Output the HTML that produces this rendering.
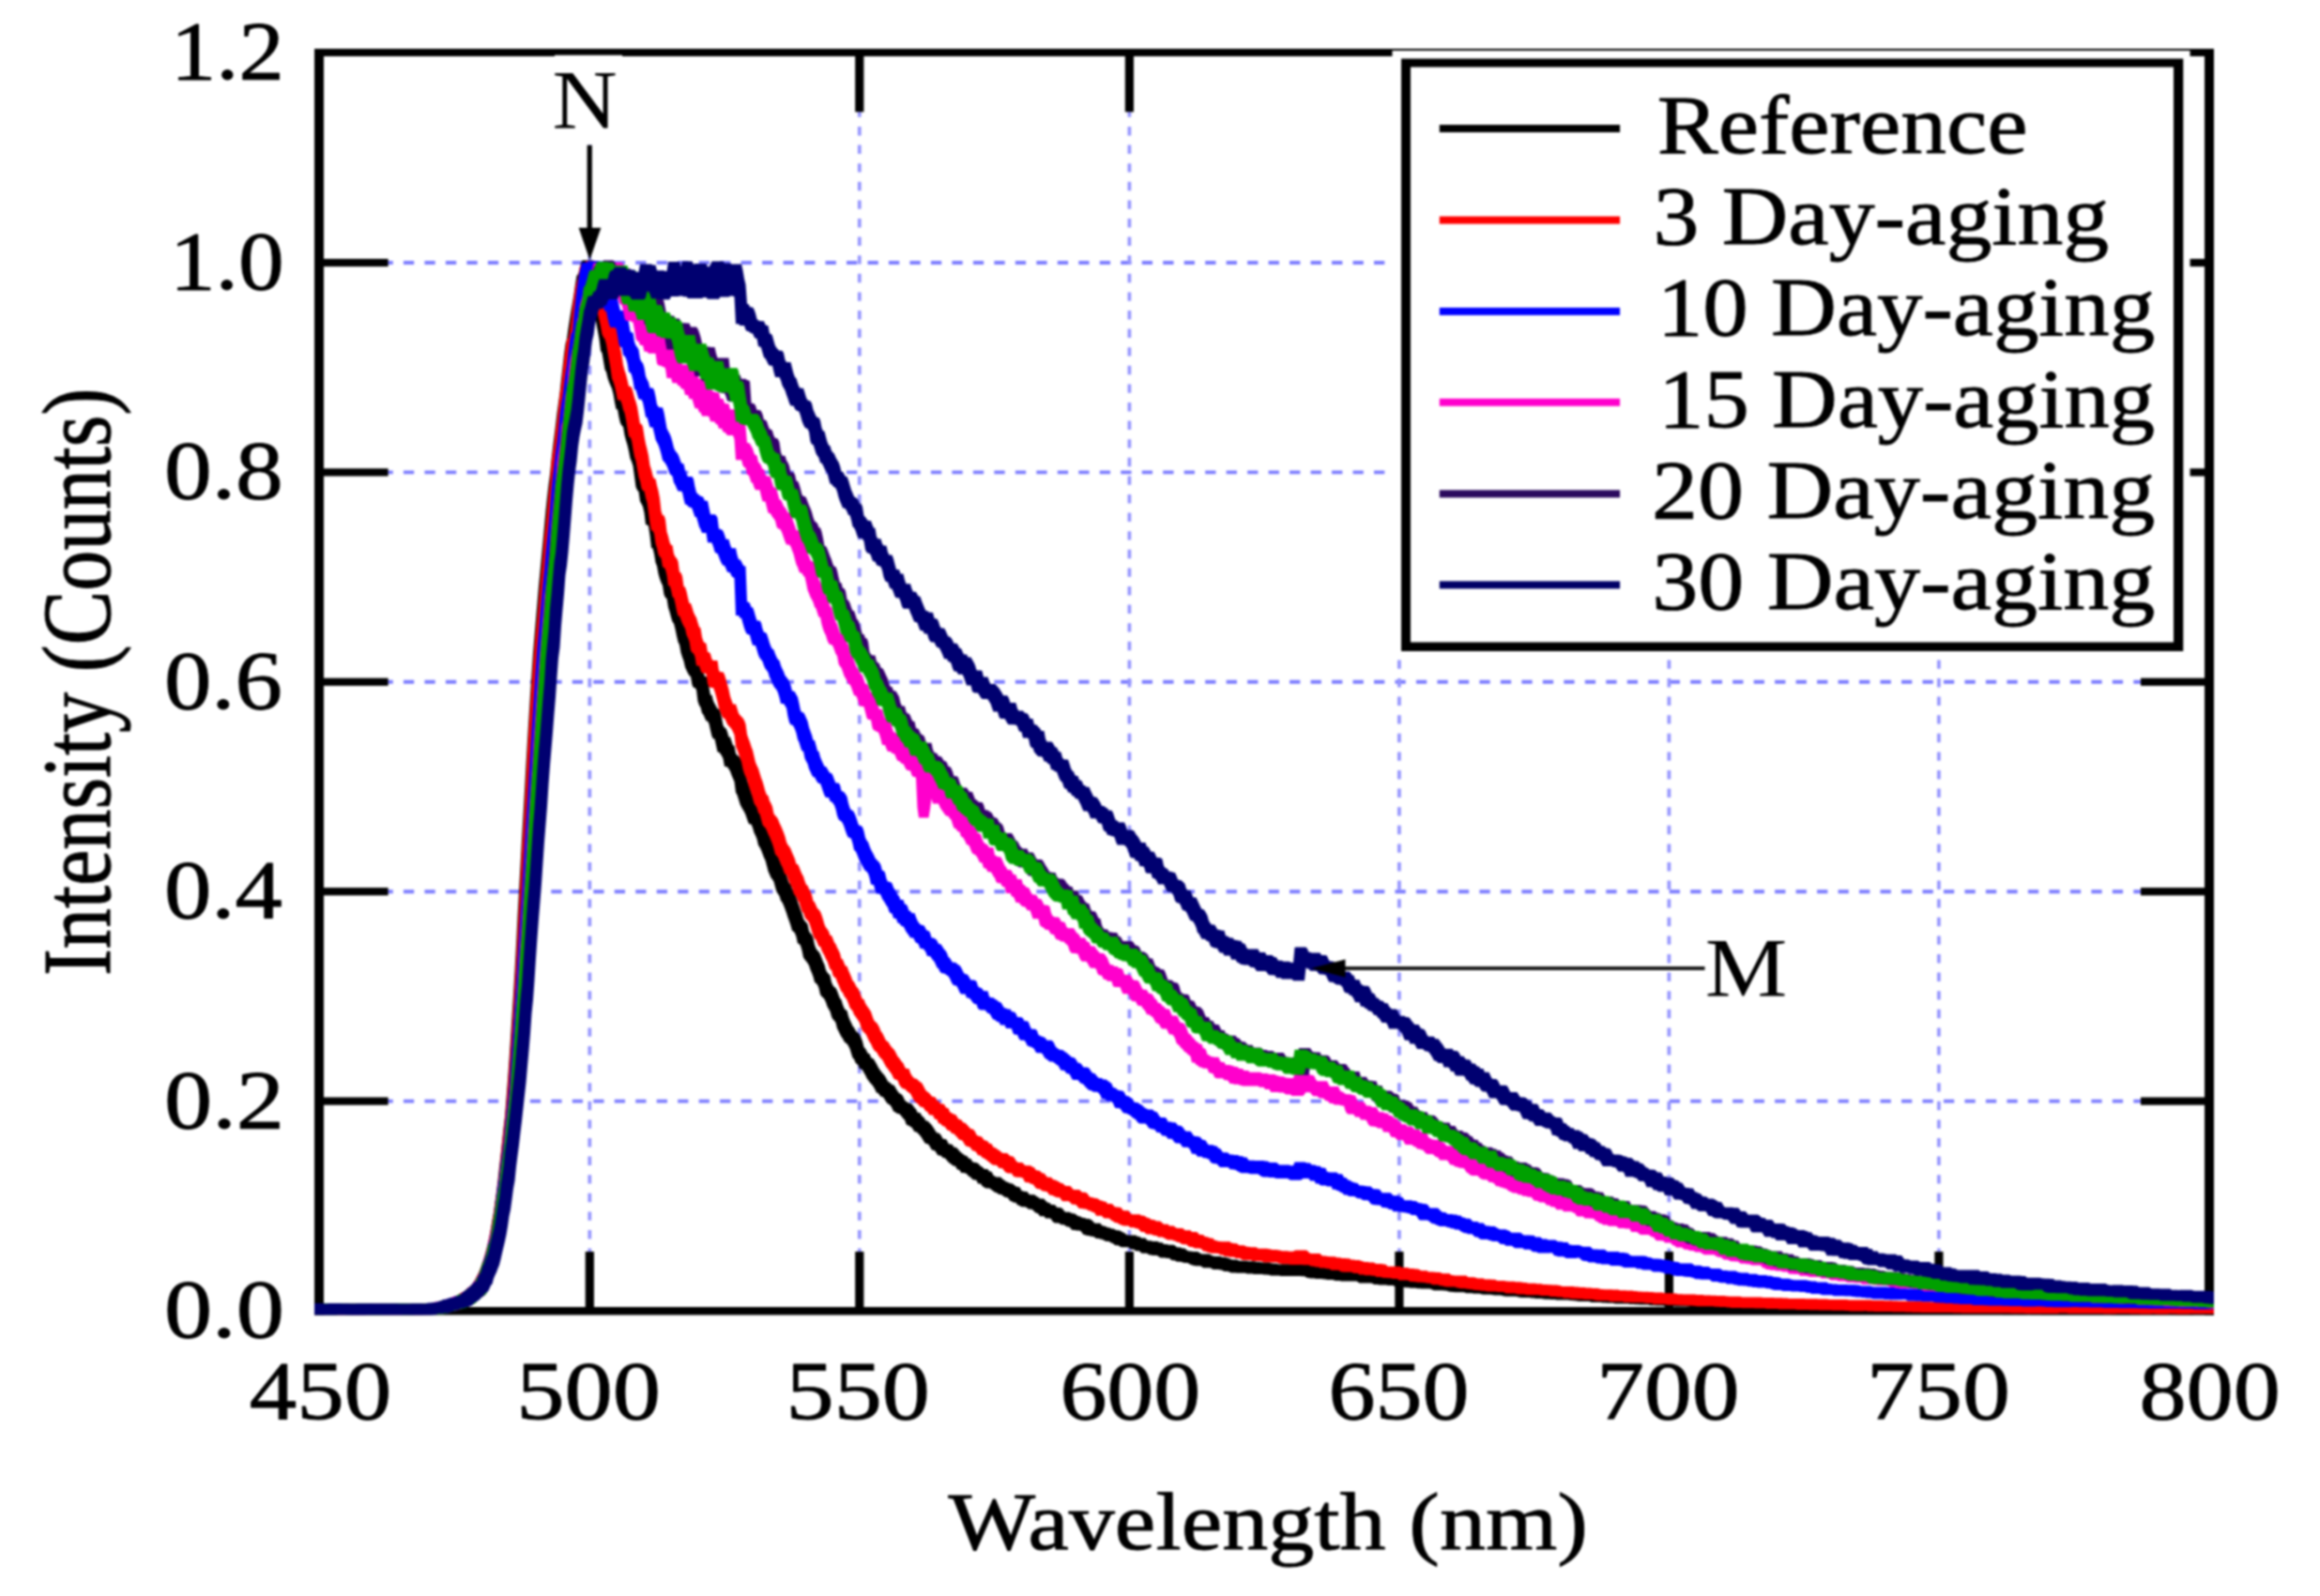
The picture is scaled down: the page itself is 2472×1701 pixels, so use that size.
<!DOCTYPE html>
<html><head><meta charset="utf-8"><title>Spectra</title>
<style>html,body{margin:0;padding:0;background:#fff;overflow:hidden;width:2472px;height:1701px}svg{display:block;filter:blur(1px)}</style></head>
<body>
<svg width="2472" height="1701" viewBox="0 0 2472 1701">
<rect width="2472" height="1701" fill="#fff"/>
<g stroke="#7c7cff" fill="none">
<line x1="340.0" y1="1173.6" x2="2354.0" y2="1173.6" stroke-width="3.9" stroke-dasharray="11.3 11.18"/>
<line x1="340.0" y1="950.2" x2="2354.0" y2="950.2" stroke-width="3.9" stroke-dasharray="11.3 11.18"/>
<line x1="340.0" y1="726.8" x2="2354.0" y2="726.8" stroke-width="3.9" stroke-dasharray="11.3 11.18"/>
<line x1="340.0" y1="503.4" x2="2354.0" y2="503.4" stroke-width="3.9" stroke-dasharray="11.3 11.18"/>
<line x1="340.0" y1="280.0" x2="2354.0" y2="280.0" stroke-width="3.9" stroke-dasharray="11.3 11.18"/>
<line x1="628.3" y1="56.6" x2="628.3" y2="1397.0" stroke-width="3.7" stroke-dasharray="9.4 10.2" stroke="#9494ff"/>
<line x1="915.8" y1="56.6" x2="915.8" y2="1397.0" stroke-width="3.7" stroke-dasharray="9.4 10.2" stroke="#9494ff"/>
<line x1="1203.4" y1="56.6" x2="1203.4" y2="1397.0" stroke-width="3.7" stroke-dasharray="9.4 10.2" stroke="#9494ff"/>
<line x1="1490.9" y1="56.6" x2="1490.9" y2="1397.0" stroke-width="3.7" stroke-dasharray="9.4 10.2" stroke="#9494ff"/>
<line x1="1778.4" y1="56.6" x2="1778.4" y2="1397.0" stroke-width="3.7" stroke-dasharray="9.4 10.2" stroke="#9494ff"/>
<line x1="2065.9" y1="56.6" x2="2065.9" y2="1397.0" stroke-width="3.7" stroke-dasharray="9.4 10.2" stroke="#9494ff"/>
</g>
<g fill="#000">
<rect x="335" y="52" width="10" height="1349.5"/>
<rect x="2349" y="52" width="10" height="1349.5"/>
<rect x="335" y="52" width="2024" height="8"/>
<rect x="335" y="1393" width="2024" height="8.5"/>
<rect x="623.7" y="56" width="9.2" height="63.3"/>
<rect x="623.7" y="1334" width="9.2" height="63"/>
<rect x="911.2" y="56" width="9.2" height="63.3"/>
<rect x="911.2" y="1334" width="9.2" height="63"/>
<rect x="1198.8" y="56" width="9.2" height="63.3"/>
<rect x="1198.8" y="1334" width="9.2" height="63"/>
<rect x="1486.3" y="56" width="9.2" height="63.3"/>
<rect x="1486.3" y="1334" width="9.2" height="63"/>
<rect x="1773.8" y="56" width="9.2" height="63.3"/>
<rect x="1773.8" y="1334" width="9.2" height="63"/>
<rect x="2061.3" y="56" width="9.2" height="63.3"/>
<rect x="2061.3" y="1334" width="9.2" height="63"/>
<rect x="340" y="1169.5" width="73.6" height="8.2"/>
<rect x="2281" y="1169.5" width="73" height="8.2"/>
<rect x="340" y="946.1" width="73.6" height="8.2"/>
<rect x="2281" y="946.1" width="73" height="8.2"/>
<rect x="340" y="722.7" width="73.6" height="8.2"/>
<rect x="2281" y="722.7" width="73" height="8.2"/>
<rect x="340" y="499.3" width="73.6" height="8.2"/>
<rect x="2281" y="499.3" width="73" height="8.2"/>
<rect x="340" y="275.9" width="73.6" height="8.2"/>
<rect x="2281" y="275.9" width="73" height="8.2"/>
</g>
<defs><clipPath id="cp"><rect x="335" y="52" width="2024" height="1349.5"/></clipPath></defs>
<g clip-path="url(#cp)">
<polygon fill="#000000" points="328.0,1389.7 329.5,1389.7 331.0,1389.7 332.5,1389.7 334.0,1389.7 335.5,1389.7 337.0,1389.7 338.5,1389.7 340.0,1389.6 341.5,1389.6 343.0,1389.6 344.5,1389.6 346.0,1389.6 347.5,1389.6 349.0,1389.6 350.5,1389.6 352.0,1389.6 353.5,1389.8 355.0,1389.7 356.5,1389.7 358.0,1389.7 359.5,1389.7 361.0,1389.7 362.5,1389.7 364.0,1389.7 365.5,1389.7 367.0,1389.8 368.5,1389.8 370.0,1389.8 371.5,1389.8 373.0,1389.8 374.5,1389.8 376.0,1389.8 377.5,1389.7 379.0,1389.7 380.5,1389.7 382.0,1389.7 383.5,1389.7 385.0,1389.7 386.5,1389.7 388.0,1389.7 389.5,1389.7 391.0,1389.7 392.5,1389.7 394.0,1389.6 395.5,1389.6 397.0,1389.6 398.5,1389.6 400.0,1389.6 401.5,1389.6 403.0,1389.6 404.5,1389.6 406.0,1389.6 407.5,1389.6 409.0,1389.6 410.5,1389.6 412.0,1389.6 413.5,1389.8 415.0,1389.8 416.5,1389.8 418.0,1389.7 419.5,1389.7 421.0,1389.7 422.5,1389.7 424.0,1389.7 425.5,1389.7 427.0,1389.7 428.5,1389.7 430.0,1389.7 431.5,1389.7 433.0,1389.7 434.5,1389.7 436.0,1389.7 437.5,1389.7 439.0,1389.7 440.5,1389.7 442.0,1389.7 443.5,1389.7 445.0,1389.6 446.5,1389.6 448.0,1389.6 449.5,1389.6 451.0,1389.6 452.5,1389.4 454.0,1389.2 455.5,1389.2 457.0,1389.2 458.5,1389.2 460.0,1389.2 461.5,1388.5 463.0,1388.2 464.5,1388.1 466.0,1388.0 467.5,1387.3 469.0,1386.8 470.5,1386.4 472.0,1385.5 473.5,1385.5 475.0,1385.4 476.5,1385.1 478.0,1384.6 479.5,1384.1 481.0,1383.5 482.5,1382.7 484.0,1381.8 485.5,1381.6 487.0,1380.8 488.5,1379.9 490.0,1379.7 491.5,1378.1 493.0,1377.4 494.5,1376.6 496.0,1374.8 497.5,1373.8 499.0,1372.6 500.5,1371.3 502.0,1370.2 503.5,1367.8 505.0,1365.8 506.5,1363.6 508.0,1360.3 509.5,1357.6 511.0,1354.3 512.5,1350.3 514.0,1345.4 515.5,1341.9 517.0,1336.8 518.5,1330.9 520.0,1325.1 521.5,1317.7 523.0,1309.4 524.5,1300.8 526.0,1292.3 527.5,1281.0 529.0,1270.0 530.5,1257.8 532.0,1243.5 533.5,1230.7 535.0,1216.4 536.5,1202.3 538.0,1190.0 539.5,1170.8 541.0,1151.2 542.5,1129.8 544.0,1106.2 545.5,1083.1 547.0,1059.5 548.5,1033.9 550.0,1006.0 551.5,976.1 553.0,948.7 554.5,922.0 556.0,894.8 557.5,869.1 559.0,842.3 560.5,814.8 562.0,788.7 563.5,764.3 565.0,740.1 566.5,717.2 568.0,695.3 569.5,677.6 571.0,660.2 572.5,642.7 574.0,624.7 575.5,609.0 577.0,593.0 578.5,576.8 580.0,560.4 581.5,544.1 583.0,529.5 584.5,516.6 586.0,505.2 587.5,490.2 589.0,477.2 590.5,465.1 592.0,453.1 593.5,440.0 595.0,429.2 596.5,418.0 598.0,403.9 599.5,390.8 601.0,377.2 602.5,366.5 604.0,361.2 605.5,350.3 607.0,340.2 608.5,330.8 610.0,322.3 611.5,313.2 613.0,302.4 614.5,293.7 616.0,292.2 617.5,286.6 619.0,281.1 620.5,277.5 622.0,277.5 623.5,277.5 625.0,277.5 626.5,277.5 628.0,277.5 629.5,277.5 631.0,277.5 632.5,277.5 634.0,280.9 635.5,280.9 637.0,281.4 638.5,283.6 640.0,292.5 641.5,297.3 643.0,304.0 644.5,318.0 646.0,322.3 647.5,331.0 649.0,340.2 650.5,346.1 652.0,358.8 653.5,364.6 655.0,370.1 656.5,382.1 658.0,384.7 659.5,389.8 661.0,395.4 662.5,399.1 664.0,402.2 665.5,407.2 667.0,414.6 668.5,420.2 670.0,420.2 671.5,429.2 673.0,439.1 674.5,442.0 676.0,443.4 677.5,450.0 679.0,457.5 680.5,461.1 682.0,467.6 683.5,475.1 685.0,480.7 686.5,481.9 688.0,493.2 689.5,504.2 691.0,509.5 692.5,509.5 694.0,520.1 695.5,525.2 697.0,527.9 698.5,531.1 700.0,543.8 701.5,543.8 703.0,546.7 704.5,555.6 706.0,568.8 707.5,571.3 709.0,575.3 710.5,587.4 712.0,591.1 713.5,597.8 715.0,604.6 716.5,608.8 718.0,612.0 719.5,619.5 721.0,623.7 722.5,623.7 724.0,633.3 725.5,639.6 727.0,644.8 728.5,651.1 730.0,652.9 731.5,657.5 733.0,664.1 734.5,672.2 736.0,675.3 737.5,681.9 739.0,688.5 740.5,691.2 742.0,698.0 743.5,702.4 745.0,705.4 746.5,708.5 748.0,709.8 749.5,716.1 751.0,720.9 752.5,720.9 754.0,723.4 755.5,732.5 757.0,740.7 758.5,740.8 760.0,747.0 761.5,750.1 763.0,752.8 764.5,755.4 766.0,755.4 767.5,758.8 769.0,764.9 770.5,772.9 772.0,775.6 773.5,776.3 775.0,779.9 776.5,785.6 778.0,785.6 779.5,790.1 781.0,794.5 782.5,794.7 784.0,803.1 785.5,805.1 787.0,805.8 788.5,807.8 790.0,810.2 791.5,813.8 793.0,817.7 794.5,820.9 796.0,831.8 797.5,835.4 799.0,839.1 800.5,845.0 802.0,848.2 803.5,850.9 805.0,853.4 806.5,856.2 808.0,860.6 809.5,864.8 811.0,865.7 812.5,865.7 814.0,869.9 815.5,874.7 817.0,878.8 818.5,881.2 820.0,887.7 821.5,891.2 823.0,893.8 824.5,897.7 826.0,901.7 827.5,904.9 829.0,909.2 830.5,916.4 832.0,919.7 833.5,923.2 835.0,925.9 836.5,926.8 838.0,932.6 839.5,937.8 841.0,941.5 842.5,942.5 844.0,947.3 845.5,950.1 847.0,952.6 848.5,956.6 850.0,960.9 851.5,965.3 853.0,969.7 854.5,973.5 856.0,979.1 857.5,981.5 859.0,982.9 860.5,985.0 862.0,992.3 863.5,994.7 865.0,995.9 866.5,999.5 868.0,1006.9 869.5,1011.0 871.0,1013.1 872.5,1014.6 874.0,1017.1 875.5,1020.9 877.0,1024.9 878.5,1028.1 880.0,1033.8 881.5,1036.5 883.0,1038.0 884.5,1039.8 886.0,1046.8 887.5,1050.3 889.0,1052.0 890.5,1053.0 892.0,1056.1 893.5,1060.3 895.0,1063.9 896.5,1065.4 898.0,1070.7 899.5,1074.4 901.0,1076.5 902.5,1077.0 904.0,1083.1 905.5,1087.0 907.0,1090.1 908.5,1093.5 910.0,1095.3 911.5,1097.9 913.0,1100.1 914.5,1100.8 916.0,1103.1 917.5,1105.7 919.0,1109.8 920.5,1116.0 922.0,1117.4 923.5,1120.3 925.0,1122.9 926.5,1123.0 928.0,1127.0 929.5,1127.9 931.0,1128.8 932.5,1131.4 934.0,1133.9 935.5,1136.9 937.0,1139.6 938.5,1141.6 940.0,1143.4 941.5,1145.0 943.0,1146.9 944.5,1149.4 946.0,1152.6 947.5,1153.6 949.0,1154.6 950.5,1156.2 952.0,1156.2 953.5,1158.1 955.0,1160.8 956.5,1163.1 958.0,1165.0 959.5,1165.8 961.0,1166.7 962.5,1168.9 964.0,1172.4 965.5,1174.0 967.0,1174.8 968.5,1175.8 970.0,1175.8 971.5,1176.8 973.0,1178.6 974.5,1180.8 976.0,1182.1 977.5,1185.6 979.0,1186.1 980.5,1186.1 982.0,1189.0 983.5,1190.2 985.0,1191.7 986.5,1194.6 988.0,1194.6 989.5,1195.7 991.0,1197.3 992.5,1198.8 994.0,1200.9 995.5,1203.3 997.0,1205.7 998.5,1207.4 1000.0,1207.4 1001.5,1208.4 1003.0,1210.4 1004.5,1213.6 1006.0,1214.1 1007.5,1214.1 1009.0,1215.2 1010.5,1218.8 1012.0,1219.4 1013.5,1219.4 1015.0,1220.3 1016.5,1222.7 1018.0,1222.7 1019.5,1223.5 1021.0,1225.1 1022.5,1227.1 1024.0,1228.3 1025.5,1229.4 1027.0,1230.5 1028.5,1231.8 1030.0,1231.8 1031.5,1233.8 1033.0,1235.0 1034.5,1235.0 1036.0,1238.0 1037.5,1238.8 1039.0,1238.9 1040.5,1239.2 1042.0,1239.8 1043.5,1241.3 1045.0,1242.9 1046.5,1243.5 1048.0,1245.2 1049.5,1245.9 1051.0,1245.9 1052.5,1245.9 1054.0,1248.4 1055.5,1248.4 1057.0,1249.5 1058.5,1252.8 1060.0,1253.6 1061.5,1254.6 1063.0,1254.6 1064.5,1254.6 1066.0,1254.6 1067.5,1255.8 1069.0,1257.2 1070.5,1258.0 1072.0,1259.4 1073.5,1259.8 1075.0,1260.4 1076.5,1261.2 1078.0,1261.2 1079.5,1262.0 1081.0,1263.3 1082.5,1264.6 1084.0,1264.9 1085.5,1264.9 1087.0,1266.0 1088.5,1269.2 1090.0,1269.2 1091.5,1269.9 1093.0,1269.9 1094.5,1269.9 1096.0,1272.3 1097.5,1273.2 1099.0,1273.2 1100.5,1273.2 1102.0,1273.2 1103.5,1274.3 1105.0,1275.5 1106.5,1276.0 1108.0,1277.4 1109.5,1277.4 1111.0,1277.5 1112.5,1277.8 1114.0,1279.7 1115.5,1281.1 1117.0,1281.9 1118.5,1281.9 1120.0,1283.9 1121.5,1283.9 1123.0,1284.1 1124.5,1284.5 1126.0,1286.7 1127.5,1287.0 1129.0,1287.1 1130.5,1287.2 1132.0,1288.0 1133.5,1289.9 1135.0,1291.7 1136.5,1291.7 1138.0,1291.7 1139.5,1291.7 1141.0,1292.4 1142.5,1293.2 1144.0,1293.2 1145.5,1293.8 1147.0,1294.8 1148.5,1296.1 1150.0,1296.3 1151.5,1296.7 1153.0,1297.8 1154.5,1297.9 1156.0,1297.9 1157.5,1299.0 1159.0,1299.0 1160.5,1299.0 1162.0,1299.8 1163.5,1300.6 1165.0,1302.2 1166.5,1303.7 1168.0,1303.7 1169.5,1303.7 1171.0,1303.7 1172.5,1303.7 1174.0,1306.0 1175.5,1306.6 1177.0,1306.8 1178.5,1307.3 1180.0,1308.3 1181.5,1308.3 1183.0,1308.7 1184.5,1309.6 1186.0,1309.6 1187.5,1310.1 1189.0,1311.0 1190.5,1311.2 1192.0,1311.2 1193.5,1311.8 1195.0,1312.6 1196.5,1313.5 1198.0,1314.1 1199.5,1315.3 1201.0,1316.2 1202.5,1316.2 1204.0,1316.5 1205.5,1316.5 1207.0,1316.5 1208.5,1316.5 1210.0,1316.6 1211.5,1317.5 1213.0,1318.0 1214.5,1318.0 1216.0,1319.5 1217.5,1319.6 1219.0,1319.6 1220.5,1319.6 1222.0,1321.6 1223.5,1322.2 1225.0,1322.2 1226.5,1322.3 1228.0,1323.1 1229.5,1323.1 1231.0,1323.1 1232.5,1323.1 1234.0,1323.3 1235.5,1324.3 1237.0,1324.3 1238.5,1324.3 1240.0,1325.9 1241.5,1325.9 1243.0,1326.0 1244.5,1326.5 1246.0,1326.7 1247.5,1326.7 1249.0,1326.7 1250.5,1326.7 1252.0,1327.5 1253.5,1328.9 1255.0,1329.5 1256.5,1329.5 1258.0,1329.6 1259.5,1330.5 1261.0,1330.5 1262.5,1330.5 1264.0,1331.9 1265.5,1333.0 1267.0,1333.5 1268.5,1333.5 1270.0,1333.7 1271.5,1333.9 1273.0,1333.9 1274.5,1333.9 1276.0,1333.9 1277.5,1334.7 1279.0,1335.7 1280.5,1336.4 1282.0,1336.4 1283.5,1336.4 1285.0,1336.4 1286.5,1336.4 1288.0,1336.4 1289.5,1337.1 1291.0,1337.9 1292.5,1338.5 1294.0,1339.0 1295.5,1339.0 1297.0,1339.0 1298.5,1339.0 1300.0,1339.0 1301.5,1339.6 1303.0,1340.1 1304.5,1340.1 1306.0,1340.1 1307.5,1340.5 1309.0,1341.1 1310.5,1341.6 1312.0,1342.3 1313.5,1342.4 1315.0,1342.6 1316.5,1342.6 1318.0,1342.6 1319.5,1343.2 1321.0,1343.7 1322.5,1343.7 1324.0,1343.7 1325.5,1343.7 1327.0,1343.7 1328.5,1343.7 1330.0,1344.2 1331.5,1344.2 1333.0,1344.2 1334.5,1344.2 1336.0,1344.2 1337.5,1344.5 1339.0,1344.9 1340.5,1344.9 1342.0,1344.9 1343.5,1345.3 1345.0,1345.6 1346.5,1345.6 1348.0,1345.6 1349.5,1345.6 1351.0,1345.6 1352.5,1345.6 1354.0,1346.2 1355.5,1346.5 1357.0,1346.7 1358.5,1346.7 1360.0,1346.7 1361.5,1347.2 1363.0,1347.4 1364.5,1347.4 1366.0,1347.2 1367.5,1347.2 1369.0,1347.2 1370.5,1347.2 1372.0,1347.2 1373.5,1347.2 1375.0,1347.2 1376.5,1347.2 1378.0,1347.2 1379.5,1347.5 1381.0,1347.5 1382.5,1347.5 1384.0,1347.5 1385.5,1347.5 1387.0,1347.5 1388.5,1347.5 1390.0,1347.5 1391.5,1347.5 1393.0,1347.5 1394.5,1347.5 1396.0,1348.1 1397.5,1348.1 1399.0,1348.1 1400.5,1348.1 1402.0,1348.7 1403.5,1349.3 1405.0,1349.3 1406.5,1349.3 1408.0,1349.3 1409.5,1349.3 1411.0,1349.8 1412.5,1351.5 1414.0,1351.9 1415.5,1351.9 1417.0,1351.9 1418.5,1351.9 1420.0,1352.0 1421.5,1352.0 1423.0,1352.0 1424.5,1352.0 1426.0,1352.0 1427.5,1352.0 1429.0,1352.0 1430.5,1352.0 1432.0,1352.0 1433.5,1352.8 1435.0,1352.8 1436.5,1352.8 1438.0,1352.8 1439.5,1353.5 1441.0,1353.5 1442.5,1353.5 1444.0,1353.9 1445.5,1353.9 1447.0,1353.9 1448.5,1353.9 1450.0,1354.0 1451.5,1354.0 1453.0,1354.0 1454.5,1354.2 1456.0,1354.3 1457.5,1354.5 1459.0,1355.1 1460.5,1355.2 1462.0,1355.2 1463.5,1355.2 1465.0,1355.5 1466.5,1356.2 1468.0,1356.2 1469.5,1356.2 1471.0,1356.2 1472.5,1356.2 1474.0,1356.7 1475.5,1357.1 1477.0,1357.1 1478.5,1357.1 1480.0,1357.3 1481.5,1357.3 1483.0,1357.3 1484.5,1357.3 1486.0,1358.2 1487.5,1358.2 1489.0,1358.3 1490.5,1358.3 1492.0,1358.3 1493.5,1358.6 1495.0,1358.7 1496.5,1358.7 1498.0,1359.7 1499.5,1359.9 1501.0,1359.9 1502.5,1359.9 1504.0,1360.1 1505.5,1360.1 1507.0,1360.1 1508.5,1360.1 1510.0,1360.1 1511.5,1360.1 1513.0,1360.5 1514.5,1360.7 1516.0,1360.7 1517.5,1360.7 1519.0,1360.7 1520.5,1360.7 1522.0,1361.5 1523.5,1361.5 1525.0,1361.6 1526.5,1361.6 1528.0,1361.6 1529.5,1361.9 1531.0,1362.1 1532.5,1362.1 1534.0,1362.1 1535.5,1362.1 1537.0,1362.5 1538.5,1363.0 1540.0,1363.0 1541.5,1363.0 1543.0,1363.0 1544.5,1363.1 1546.0,1363.3 1547.5,1363.3 1549.0,1363.7 1550.5,1364.3 1552.0,1364.3 1553.5,1364.5 1555.0,1365.0 1556.5,1365.2 1558.0,1365.2 1559.5,1365.2 1561.0,1365.2 1562.5,1365.2 1564.0,1365.2 1565.5,1365.2 1567.0,1365.2 1568.5,1365.2 1570.0,1365.4 1571.5,1365.9 1573.0,1366.0 1574.5,1366.0 1576.0,1366.0 1577.5,1366.0 1579.0,1366.2 1580.5,1366.6 1582.0,1366.8 1583.5,1366.8 1585.0,1366.9 1586.5,1367.1 1588.0,1367.3 1589.5,1367.8 1591.0,1367.8 1592.5,1367.8 1594.0,1367.8 1595.5,1368.2 1597.0,1368.6 1598.5,1368.6 1600.0,1368.6 1601.5,1368.7 1603.0,1368.7 1604.5,1368.7 1606.0,1368.7 1607.5,1368.9 1609.0,1368.9 1610.5,1368.9 1612.0,1369.5 1613.5,1370.0 1615.0,1370.0 1616.5,1370.0 1618.0,1370.0 1619.5,1370.0 1621.0,1370.1 1622.5,1370.1 1624.0,1370.1 1625.5,1370.1 1627.0,1370.3 1628.5,1370.9 1630.0,1371.2 1631.5,1371.2 1633.0,1371.2 1634.5,1371.2 1636.0,1371.2 1637.5,1371.2 1639.0,1371.2 1640.5,1371.2 1642.0,1371.6 1643.5,1371.8 1645.0,1371.8 1646.5,1371.8 1648.0,1372.2 1649.5,1372.2 1651.0,1372.2 1652.5,1372.2 1654.0,1372.7 1655.5,1372.7 1657.0,1372.7 1658.5,1372.7 1660.0,1372.7 1661.5,1373.2 1663.0,1373.2 1664.5,1373.2 1666.0,1373.2 1667.5,1373.3 1669.0,1373.7 1670.5,1373.8 1672.0,1373.8 1673.5,1373.8 1675.0,1373.8 1676.5,1373.8 1678.0,1373.8 1679.5,1374.1 1681.0,1374.4 1682.5,1374.4 1684.0,1374.7 1685.5,1374.9 1687.0,1375.0 1688.5,1375.0 1690.0,1375.0 1691.5,1375.4 1693.0,1375.6 1694.5,1375.6 1696.0,1375.6 1697.5,1375.6 1699.0,1375.7 1700.5,1375.7 1702.0,1375.7 1703.5,1375.7 1705.0,1375.9 1706.5,1376.2 1708.0,1376.2 1709.5,1376.2 1711.0,1376.2 1712.5,1376.2 1714.0,1376.2 1715.5,1376.6 1717.0,1376.6 1718.5,1376.6 1720.0,1376.6 1721.5,1376.6 1723.0,1376.9 1724.5,1377.1 1726.0,1377.1 1727.5,1377.1 1729.0,1377.2 1730.5,1377.3 1732.0,1377.3 1733.5,1377.3 1735.0,1377.3 1736.5,1377.3 1738.0,1377.6 1739.5,1377.6 1741.0,1377.6 1742.5,1377.6 1744.0,1377.7 1745.5,1377.8 1747.0,1378.1 1748.5,1378.4 1750.0,1378.4 1751.5,1378.5 1753.0,1378.7 1754.5,1378.8 1756.0,1378.8 1757.5,1379.0 1759.0,1379.0 1760.5,1379.0 1762.0,1379.0 1763.5,1379.1 1765.0,1379.1 1766.5,1379.1 1768.0,1379.1 1769.5,1379.6 1771.0,1379.9 1772.5,1379.9 1774.0,1379.9 1775.5,1380.0 1777.0,1380.0 1778.5,1380.0 1780.0,1380.0 1781.5,1380.0 1783.0,1380.0 1784.5,1380.0 1786.0,1380.0 1787.5,1380.1 1789.0,1380.4 1790.5,1380.5 1792.0,1380.5 1793.5,1380.5 1795.0,1380.7 1796.5,1380.9 1798.0,1380.9 1799.5,1380.9 1801.0,1380.9 1802.5,1380.9 1804.0,1380.9 1805.5,1381.1 1807.0,1381.1 1808.5,1381.1 1810.0,1381.4 1811.5,1381.4 1813.0,1381.4 1814.5,1381.4 1816.0,1381.4 1817.5,1381.8 1819.0,1381.8 1820.5,1381.8 1822.0,1381.8 1823.5,1382.1 1825.0,1382.1 1826.5,1382.1 1828.0,1382.1 1829.5,1382.6 1831.0,1382.7 1832.5,1382.7 1834.0,1382.7 1835.5,1382.7 1837.0,1382.7 1838.5,1382.7 1840.0,1382.7 1841.5,1382.7 1843.0,1382.7 1844.5,1382.7 1846.0,1383.1 1847.5,1383.1 1849.0,1383.3 1850.5,1383.5 1852.0,1383.5 1853.5,1383.5 1855.0,1383.5 1856.5,1383.5 1858.0,1383.5 1859.5,1383.5 1861.0,1383.5 1862.5,1383.5 1864.0,1383.6 1865.5,1383.9 1867.0,1383.9 1868.5,1383.9 1870.0,1383.9 1871.5,1384.2 1873.0,1384.2 1874.5,1384.2 1876.0,1384.2 1877.5,1384.2 1879.0,1384.2 1880.5,1384.2 1882.0,1384.2 1883.5,1384.4 1885.0,1384.8 1886.5,1384.9 1888.0,1384.9 1889.5,1384.9 1891.0,1384.9 1892.5,1384.9 1894.0,1384.9 1895.5,1385.0 1897.0,1385.0 1898.5,1385.0 1900.0,1385.3 1901.5,1385.3 1903.0,1385.3 1904.5,1385.3 1906.0,1385.3 1907.5,1385.4 1909.0,1385.4 1910.5,1385.4 1912.0,1385.4 1913.5,1385.5 1915.0,1385.5 1916.5,1385.5 1918.0,1385.5 1919.5,1385.5 1921.0,1385.6 1922.5,1385.6 1924.0,1385.6 1925.5,1385.6 1927.0,1385.8 1928.5,1385.8 1930.0,1385.8 1931.5,1385.8 1933.0,1385.8 1934.5,1385.8 1936.0,1386.1 1937.5,1386.1 1939.0,1386.1 1940.5,1386.1 1942.0,1386.1 1943.5,1386.1 1945.0,1386.3 1946.5,1386.3 1948.0,1386.3 1949.5,1386.3 1951.0,1386.3 1952.5,1386.3 1954.0,1386.5 1955.5,1386.5 1957.0,1386.5 1958.5,1386.5 1960.0,1386.5 1961.5,1386.7 1963.0,1386.7 1964.5,1386.7 1966.0,1386.7 1967.5,1386.8 1969.0,1386.8 1970.5,1386.8 1972.0,1386.8 1973.5,1386.9 1975.0,1387.1 1976.5,1387.2 1978.0,1387.2 1979.5,1387.2 1981.0,1387.2 1982.5,1387.2 1984.0,1387.2 1985.5,1387.2 1987.0,1387.2 1988.5,1387.2 1990.0,1387.2 1991.5,1387.5 1993.0,1387.8 1994.5,1387.9 1996.0,1387.7 1997.5,1387.7 1999.0,1387.7 2000.5,1387.7 2002.0,1387.7 2003.5,1387.7 2005.0,1387.7 2006.5,1387.7 2008.0,1387.7 2009.5,1387.7 2011.0,1387.8 2012.5,1387.8 2014.0,1387.8 2015.5,1387.8 2017.0,1388.0 2018.5,1388.1 2020.0,1388.1 2021.5,1388.1 2023.0,1388.3 2024.5,1388.3 2026.0,1388.3 2027.5,1388.3 2029.0,1388.3 2030.5,1388.3 2032.0,1388.3 2033.5,1388.3 2035.0,1388.3 2036.5,1388.3 2038.0,1388.4 2039.5,1388.4 2041.0,1388.4 2042.5,1388.4 2044.0,1388.4 2045.5,1388.4 2047.0,1388.4 2048.5,1388.4 2050.0,1388.5 2051.5,1388.5 2053.0,1388.5 2054.5,1388.7 2056.0,1388.7 2057.5,1388.7 2059.0,1388.7 2060.5,1388.7 2062.0,1388.8 2063.5,1388.8 2065.0,1388.8 2066.5,1388.8 2068.0,1388.8 2069.5,1388.8 2071.0,1388.8 2072.5,1388.8 2074.0,1388.8 2075.5,1389.0 2077.0,1389.0 2078.5,1389.0 2080.0,1389.1 2081.5,1389.2 2083.0,1389.2 2084.5,1389.2 2086.0,1389.2 2087.5,1389.2 2089.0,1389.2 2090.5,1389.2 2092.0,1389.2 2093.5,1389.2 2095.0,1389.2 2096.5,1389.2 2098.0,1389.2 2099.5,1389.2 2101.0,1389.2 2102.5,1389.2 2104.0,1389.2 2105.5,1389.5 2107.0,1389.5 2108.5,1389.5 2110.0,1389.5 2111.5,1389.5 2113.0,1389.5 2114.5,1389.5 2116.0,1389.5 2117.5,1389.5 2119.0,1389.5 2120.5,1389.4 2122.0,1389.3 2123.5,1389.3 2125.0,1389.3 2126.5,1389.3 2128.0,1389.3 2129.5,1389.3 2131.0,1389.3 2132.5,1389.3 2134.0,1389.3 2135.5,1389.5 2137.0,1389.5 2138.5,1389.5 2140.0,1389.5 2141.5,1389.5 2143.0,1389.5 2144.5,1389.5 2146.0,1389.5 2147.5,1389.5 2149.0,1389.5 2150.5,1389.5 2152.0,1389.5 2153.5,1389.5 2155.0,1389.5 2156.5,1389.6 2158.0,1389.7 2159.5,1389.7 2161.0,1389.5 2162.5,1389.5 2164.0,1389.5 2165.5,1389.5 2167.0,1389.5 2168.5,1389.5 2170.0,1389.5 2171.5,1389.5 2173.0,1389.6 2174.5,1389.7 2176.0,1389.7 2177.5,1389.7 2179.0,1389.7 2180.5,1389.7 2182.0,1389.7 2183.5,1389.7 2185.0,1389.7 2186.5,1390.0 2188.0,1390.1 2189.5,1390.1 2191.0,1390.1 2192.5,1389.9 2194.0,1389.9 2195.5,1389.9 2197.0,1389.9 2198.5,1389.9 2200.0,1389.8 2201.5,1389.8 2203.0,1389.8 2204.5,1389.8 2206.0,1389.8 2207.5,1389.8 2209.0,1389.8 2210.5,1389.8 2212.0,1389.8 2213.5,1389.8 2215.0,1389.8 2216.5,1389.8 2218.0,1389.8 2219.5,1389.8 2221.0,1389.8 2222.5,1389.8 2224.0,1390.0 2225.5,1390.1 2227.0,1390.1 2228.5,1390.1 2230.0,1390.0 2231.5,1390.0 2233.0,1390.0 2234.5,1390.0 2236.0,1390.0 2237.5,1390.0 2239.0,1390.0 2240.5,1390.0 2242.0,1390.0 2243.5,1390.1 2245.0,1390.1 2246.5,1390.1 2248.0,1390.0 2249.5,1390.0 2251.0,1390.0 2252.5,1390.0 2254.0,1390.0 2255.5,1390.0 2257.0,1390.0 2258.5,1390.0 2260.0,1390.0 2261.5,1390.1 2263.0,1390.1 2264.5,1390.1 2266.0,1390.1 2267.5,1390.1 2269.0,1390.0 2270.5,1390.0 2272.0,1390.0 2273.5,1390.0 2275.0,1390.0 2276.5,1390.0 2278.0,1390.0 2279.5,1390.0 2281.0,1390.1 2282.5,1390.1 2284.0,1390.1 2285.5,1390.1 2287.0,1390.1 2288.5,1390.1 2290.0,1390.1 2291.5,1390.1 2293.0,1390.1 2294.5,1390.1 2296.0,1390.2 2297.5,1390.2 2299.0,1390.2 2300.5,1390.2 2302.0,1390.2 2303.5,1390.2 2305.0,1390.2 2306.5,1390.2 2308.0,1390.3 2309.5,1390.2 2311.0,1390.2 2312.5,1390.2 2314.0,1390.2 2315.5,1390.2 2317.0,1390.1 2318.5,1390.1 2320.0,1390.1 2321.5,1390.1 2323.0,1390.1 2324.5,1390.1 2326.0,1390.1 2327.5,1390.1 2329.0,1390.3 2330.5,1390.5 2332.0,1390.5 2333.5,1390.5 2335.0,1390.5 2336.5,1390.3 2338.0,1390.3 2339.5,1390.3 2341.0,1390.3 2342.5,1390.3 2344.0,1390.3 2345.5,1390.3 2347.0,1390.3 2348.5,1390.3 2350.0,1390.3 2351.5,1390.2 2353.0,1390.1 2354.5,1390.1 2356.0,1390.1 2357.5,1390.1 2359.0,1390.1 2360.5,1390.1 2362.0,1390.1 2363.5,1390.1 2365.0,1390.3 2366.5,1390.6 2366.5,1401.9 2365.0,1401.9 2363.5,1401.9 2362.0,1401.9 2360.5,1401.9 2359.0,1401.9 2357.5,1401.8 2356.0,1401.8 2354.5,1401.8 2353.0,1401.8 2351.5,1401.8 2350.0,1401.8 2348.5,1401.8 2347.0,1401.8 2345.5,1401.8 2344.0,1401.8 2342.5,1401.7 2341.0,1401.7 2339.5,1401.7 2338.0,1401.7 2336.5,1401.9 2335.0,1401.9 2333.5,1401.9 2332.0,1401.9 2330.5,1401.9 2329.0,1401.9 2327.5,1401.9 2326.0,1401.9 2324.5,1401.9 2323.0,1401.9 2321.5,1401.9 2320.0,1401.9 2318.5,1401.8 2317.0,1401.8 2315.5,1401.8 2314.0,1401.8 2312.5,1401.6 2311.0,1401.6 2309.5,1401.7 2308.0,1401.7 2306.5,1401.7 2305.0,1401.7 2303.5,1401.7 2302.0,1401.7 2300.5,1401.7 2299.0,1401.7 2297.5,1401.7 2296.0,1401.7 2294.5,1401.7 2293.0,1401.7 2291.5,1401.7 2290.0,1401.7 2288.5,1401.7 2287.0,1401.7 2285.5,1401.7 2284.0,1401.7 2282.5,1401.7 2281.0,1401.7 2279.5,1401.7 2278.0,1401.7 2276.5,1401.7 2275.0,1401.7 2273.5,1401.8 2272.0,1401.8 2270.5,1401.8 2269.0,1401.8 2267.5,1401.8 2266.0,1401.8 2264.5,1401.8 2263.0,1401.8 2261.5,1401.7 2260.0,1401.7 2258.5,1401.7 2257.0,1401.7 2255.5,1401.7 2254.0,1401.7 2252.5,1401.7 2251.0,1401.7 2249.5,1401.5 2248.0,1401.5 2246.5,1401.5 2245.0,1401.5 2243.5,1401.5 2242.0,1401.5 2240.5,1401.4 2239.0,1401.4 2237.5,1401.5 2236.0,1401.5 2234.5,1401.5 2233.0,1401.5 2231.5,1401.5 2230.0,1401.5 2228.5,1401.5 2227.0,1401.5 2225.5,1401.6 2224.0,1401.6 2222.5,1401.6 2221.0,1401.6 2219.5,1401.6 2218.0,1401.6 2216.5,1401.6 2215.0,1401.6 2213.5,1401.4 2212.0,1401.4 2210.5,1401.4 2209.0,1401.4 2207.5,1401.4 2206.0,1401.4 2204.5,1401.4 2203.0,1401.4 2201.5,1401.4 2200.0,1401.4 2198.5,1401.5 2197.0,1401.5 2195.5,1401.5 2194.0,1401.5 2192.5,1401.5 2191.0,1401.5 2189.5,1401.5 2188.0,1401.5 2186.5,1401.5 2185.0,1401.4 2183.5,1401.4 2182.0,1401.4 2180.5,1401.4 2179.0,1401.4 2177.5,1401.4 2176.0,1401.4 2174.5,1401.2 2173.0,1401.2 2171.5,1401.2 2170.0,1401.2 2168.5,1401.2 2167.0,1401.2 2165.5,1401.2 2164.0,1401.2 2162.5,1401.1 2161.0,1401.1 2159.5,1401.2 2158.0,1401.2 2156.5,1401.2 2155.0,1401.2 2153.5,1401.2 2152.0,1401.2 2150.5,1401.2 2149.0,1401.2 2147.5,1401.1 2146.0,1401.2 2144.5,1401.2 2143.0,1401.2 2141.5,1401.2 2140.0,1401.2 2138.5,1401.2 2137.0,1401.2 2135.5,1401.2 2134.0,1401.2 2132.5,1401.1 2131.0,1401.1 2129.5,1401.1 2128.0,1401.1 2126.5,1400.9 2125.0,1400.9 2123.5,1400.9 2122.0,1400.9 2120.5,1400.9 2119.0,1400.9 2117.5,1400.9 2116.0,1400.9 2114.5,1400.9 2113.0,1400.9 2111.5,1400.9 2110.0,1400.9 2108.5,1400.9 2107.0,1400.9 2105.5,1400.9 2104.0,1400.9 2102.5,1400.9 2101.0,1400.9 2099.5,1400.9 2098.0,1400.9 2096.5,1400.9 2095.0,1400.9 2093.5,1400.7 2092.0,1400.6 2090.5,1400.6 2089.0,1400.6 2087.5,1400.6 2086.0,1400.5 2084.5,1400.7 2083.0,1400.7 2081.5,1400.7 2080.0,1400.7 2078.5,1400.7 2077.0,1400.7 2075.5,1400.7 2074.0,1400.7 2072.5,1400.7 2071.0,1400.5 2069.5,1400.5 2068.0,1400.5 2066.5,1400.5 2065.0,1400.5 2063.5,1400.5 2062.0,1400.5 2060.5,1400.5 2059.0,1400.5 2057.5,1400.5 2056.0,1400.5 2054.5,1400.2 2053.0,1400.2 2051.5,1400.2 2050.0,1400.0 2048.5,1399.8 2047.0,1399.8 2045.5,1399.8 2044.0,1399.8 2042.5,1399.8 2041.0,1399.8 2039.5,1399.8 2038.0,1399.8 2036.5,1399.8 2035.0,1399.8 2033.5,1399.9 2032.0,1399.9 2030.5,1399.9 2029.0,1399.9 2027.5,1399.9 2026.0,1399.9 2024.5,1399.9 2023.0,1399.9 2021.5,1399.8 2020.0,1399.8 2018.5,1399.8 2017.0,1399.8 2015.5,1399.8 2014.0,1399.7 2012.5,1399.6 2011.0,1399.4 2009.5,1399.3 2008.0,1399.3 2006.5,1399.3 2005.0,1399.3 2003.5,1399.4 2002.0,1399.4 2000.5,1399.4 1999.0,1399.4 1997.5,1399.4 1996.0,1399.4 1994.5,1399.4 1993.0,1399.4 1991.5,1399.3 1990.0,1399.2 1988.5,1399.2 1987.0,1399.1 1985.5,1399.0 1984.0,1399.0 1982.5,1399.0 1981.0,1398.8 1979.5,1398.8 1978.0,1398.8 1976.5,1398.8 1975.0,1398.8 1973.5,1398.7 1972.0,1398.7 1970.5,1398.7 1969.0,1398.6 1967.5,1398.6 1966.0,1398.6 1964.5,1398.6 1963.0,1398.4 1961.5,1398.4 1960.0,1398.4 1958.5,1398.4 1957.0,1398.4 1955.5,1398.3 1954.0,1398.3 1952.5,1398.3 1951.0,1398.3 1949.5,1398.3 1948.0,1398.3 1946.5,1398.3 1945.0,1398.2 1943.5,1398.1 1942.0,1398.1 1940.5,1398.1 1939.0,1398.1 1937.5,1398.1 1936.0,1398.1 1934.5,1398.0 1933.0,1397.8 1931.5,1397.8 1930.0,1397.8 1928.5,1397.8 1927.0,1397.6 1925.5,1397.6 1924.0,1397.6 1922.5,1397.6 1921.0,1397.6 1919.5,1397.6 1918.0,1397.6 1916.5,1397.5 1915.0,1397.4 1913.5,1397.4 1912.0,1397.4 1910.5,1397.4 1909.0,1397.1 1907.5,1397.1 1906.0,1397.1 1904.5,1397.0 1903.0,1397.0 1901.5,1397.0 1900.0,1397.0 1898.5,1397.0 1897.0,1397.0 1895.5,1396.8 1894.0,1396.8 1892.5,1396.8 1891.0,1396.8 1889.5,1396.8 1888.0,1396.8 1886.5,1396.4 1885.0,1396.4 1883.5,1396.4 1882.0,1396.4 1880.5,1396.4 1879.0,1396.3 1877.5,1396.3 1876.0,1396.3 1874.5,1396.3 1873.0,1396.0 1871.5,1396.0 1870.0,1396.0 1868.5,1396.0 1867.0,1396.0 1865.5,1396.0 1864.0,1395.9 1862.5,1395.9 1861.0,1395.9 1859.5,1395.6 1858.0,1395.6 1856.5,1395.6 1855.0,1395.6 1853.5,1395.4 1852.0,1395.3 1850.5,1395.3 1849.0,1395.3 1847.5,1395.2 1846.0,1395.0 1844.5,1395.0 1843.0,1395.0 1841.5,1394.9 1840.0,1394.8 1838.5,1394.8 1837.0,1394.7 1835.5,1394.7 1834.0,1394.7 1832.5,1394.6 1831.0,1394.6 1829.5,1394.5 1828.0,1394.3 1826.5,1394.3 1825.0,1394.3 1823.5,1394.2 1822.0,1394.2 1820.5,1394.2 1819.0,1394.1 1817.5,1393.8 1816.0,1393.8 1814.5,1393.8 1813.0,1393.6 1811.5,1393.4 1810.0,1393.4 1808.5,1393.4 1807.0,1393.3 1805.5,1393.0 1804.0,1392.9 1802.5,1392.9 1801.0,1392.9 1799.5,1392.8 1798.0,1392.7 1796.5,1392.4 1795.0,1392.4 1793.5,1392.4 1792.0,1392.4 1790.5,1392.4 1789.0,1392.4 1787.5,1392.4 1786.0,1392.4 1784.5,1392.4 1783.0,1392.0 1781.5,1392.0 1780.0,1392.0 1778.5,1392.0 1777.0,1391.7 1775.5,1391.7 1774.0,1391.7 1772.5,1391.7 1771.0,1391.6 1769.5,1391.6 1768.0,1391.6 1766.5,1391.6 1765.0,1391.4 1763.5,1391.3 1762.0,1391.3 1760.5,1391.3 1759.0,1391.2 1757.5,1390.9 1756.0,1390.4 1754.5,1390.4 1753.0,1390.4 1751.5,1390.4 1750.0,1390.4 1748.5,1390.4 1747.0,1390.4 1745.5,1390.2 1744.0,1390.2 1742.5,1390.2 1741.0,1390.0 1739.5,1390.0 1738.0,1390.0 1736.5,1390.0 1735.0,1389.4 1733.5,1389.4 1732.0,1389.4 1730.5,1389.4 1729.0,1389.4 1727.5,1389.4 1726.0,1389.4 1724.5,1389.4 1723.0,1389.4 1721.5,1389.4 1720.0,1389.3 1718.5,1388.7 1717.0,1388.7 1715.5,1388.7 1714.0,1388.7 1712.5,1388.7 1711.0,1388.5 1709.5,1388.5 1708.0,1388.5 1706.5,1388.2 1705.0,1388.1 1703.5,1387.9 1702.0,1387.9 1700.5,1387.9 1699.0,1387.9 1697.5,1387.9 1696.0,1387.9 1694.5,1387.5 1693.0,1387.1 1691.5,1387.1 1690.0,1387.1 1688.5,1387.1 1687.0,1387.1 1685.5,1387.1 1684.0,1387.1 1682.5,1386.9 1681.0,1386.8 1679.5,1386.6 1678.0,1386.2 1676.5,1386.2 1675.0,1386.1 1673.5,1386.0 1672.0,1385.8 1670.5,1385.6 1669.0,1385.6 1667.5,1385.6 1666.0,1385.6 1664.5,1385.6 1663.0,1385.5 1661.5,1385.5 1660.0,1385.5 1658.5,1385.5 1657.0,1385.0 1655.5,1384.9 1654.0,1384.9 1652.5,1384.9 1651.0,1384.8 1649.5,1384.7 1648.0,1384.7 1646.5,1384.7 1645.0,1384.5 1643.5,1384.3 1642.0,1384.0 1640.5,1383.9 1639.0,1383.9 1637.5,1383.9 1636.0,1383.9 1634.5,1383.5 1633.0,1383.5 1631.5,1383.4 1630.0,1383.1 1628.5,1383.1 1627.0,1383.1 1625.5,1383.1 1624.0,1383.1 1622.5,1383.1 1621.0,1383.0 1619.5,1382.7 1618.0,1382.5 1616.5,1382.1 1615.0,1381.8 1613.5,1381.8 1612.0,1381.8 1610.5,1381.8 1609.0,1381.8 1607.5,1381.8 1606.0,1381.8 1604.5,1381.8 1603.0,1381.6 1601.5,1381.2 1600.0,1380.7 1598.5,1380.6 1597.0,1380.6 1595.5,1380.6 1594.0,1380.6 1592.5,1380.6 1591.0,1380.3 1589.5,1379.9 1588.0,1379.7 1586.5,1379.7 1585.0,1379.7 1583.5,1379.7 1582.0,1379.7 1580.5,1379.7 1579.0,1379.4 1577.5,1378.9 1576.0,1378.7 1574.5,1378.7 1573.0,1378.7 1571.5,1378.7 1570.0,1378.7 1568.5,1378.2 1567.0,1378.2 1565.5,1378.2 1564.0,1378.2 1562.5,1378.2 1561.0,1377.8 1559.5,1377.3 1558.0,1377.3 1556.5,1377.3 1555.0,1377.3 1553.5,1377.3 1552.0,1377.3 1550.5,1377.3 1549.0,1377.1 1547.5,1377.0 1546.0,1376.7 1544.5,1376.7 1543.0,1376.2 1541.5,1375.7 1540.0,1375.6 1538.5,1375.6 1537.0,1375.2 1535.5,1375.2 1534.0,1375.2 1532.5,1375.2 1531.0,1375.2 1529.5,1375.2 1528.0,1375.2 1526.5,1374.8 1525.0,1373.9 1523.5,1373.4 1522.0,1373.4 1520.5,1373.4 1519.0,1373.4 1517.5,1373.4 1516.0,1373.4 1514.5,1373.4 1513.0,1373.2 1511.5,1373.2 1510.0,1373.2 1508.5,1372.8 1507.0,1372.8 1505.5,1372.8 1504.0,1372.8 1502.5,1372.8 1501.0,1372.2 1499.5,1372.2 1498.0,1372.2 1496.5,1372.0 1495.0,1371.8 1493.5,1371.8 1492.0,1371.8 1490.5,1371.3 1489.0,1371.3 1487.5,1371.2 1486.0,1371.0 1484.5,1370.1 1483.0,1370.1 1481.5,1370.1 1480.0,1370.1 1478.5,1370.1 1477.0,1369.6 1475.5,1369.6 1474.0,1369.6 1472.5,1369.6 1471.0,1369.6 1469.5,1369.4 1468.0,1369.0 1466.5,1369.0 1465.0,1369.0 1463.5,1368.7 1462.0,1367.8 1460.5,1367.6 1459.0,1367.6 1457.5,1367.6 1456.0,1367.5 1454.5,1367.5 1453.0,1367.5 1451.5,1367.5 1450.0,1367.5 1448.5,1367.5 1447.0,1366.5 1445.5,1365.5 1444.0,1365.5 1442.5,1365.5 1441.0,1365.5 1439.5,1365.5 1438.0,1365.5 1436.5,1365.5 1435.0,1365.5 1433.5,1365.5 1432.0,1365.5 1430.5,1365.5 1429.0,1365.5 1427.5,1365.1 1426.0,1365.1 1424.5,1365.1 1423.0,1365.1 1421.5,1364.6 1420.0,1364.0 1418.5,1364.0 1417.0,1364.0 1415.5,1364.0 1414.0,1364.0 1412.5,1363.5 1411.0,1363.4 1409.5,1363.3 1408.0,1363.1 1406.5,1363.1 1405.0,1363.1 1403.5,1363.1 1402.0,1363.0 1400.5,1362.6 1399.0,1362.4 1397.5,1362.4 1396.0,1362.4 1394.5,1362.1 1393.0,1361.9 1391.5,1361.3 1390.0,1360.2 1388.5,1360.2 1387.0,1360.2 1385.5,1360.1 1384.0,1360.0 1382.5,1360.0 1381.0,1360.0 1379.5,1360.0 1378.0,1360.0 1376.5,1360.0 1375.0,1360.0 1373.5,1360.0 1372.0,1360.0 1370.5,1360.0 1369.0,1360.0 1367.5,1360.0 1366.0,1360.0 1364.5,1360.0 1363.0,1359.5 1361.5,1359.5 1360.0,1359.5 1358.5,1359.5 1357.0,1359.5 1355.5,1359.5 1354.0,1359.5 1352.5,1358.7 1351.0,1358.7 1349.5,1358.6 1348.0,1358.6 1346.5,1358.6 1345.0,1358.1 1343.5,1358.1 1342.0,1358.1 1340.5,1358.1 1339.0,1358.1 1337.5,1358.1 1336.0,1358.1 1334.5,1357.5 1333.0,1357.5 1331.5,1357.5 1330.0,1357.5 1328.5,1357.5 1327.0,1356.7 1325.5,1356.7 1324.0,1356.7 1322.5,1356.7 1321.0,1356.7 1319.5,1356.7 1318.0,1356.7 1316.5,1356.5 1315.0,1356.5 1313.5,1356.4 1312.0,1356.4 1310.5,1355.9 1309.0,1355.3 1307.5,1355.1 1306.0,1355.1 1304.5,1355.1 1303.0,1354.3 1301.5,1353.6 1300.0,1353.6 1298.5,1352.9 1297.0,1352.9 1295.5,1352.9 1294.0,1352.9 1292.5,1352.9 1291.0,1352.1 1289.5,1351.2 1288.0,1351.2 1286.5,1351.2 1285.0,1351.2 1283.5,1351.2 1282.0,1351.2 1280.5,1349.9 1279.0,1349.3 1277.5,1349.3 1276.0,1349.3 1274.5,1349.3 1273.0,1349.1 1271.5,1348.7 1270.0,1348.3 1268.5,1347.7 1267.0,1347.0 1265.5,1346.1 1264.0,1346.0 1262.5,1346.0 1261.0,1345.7 1259.5,1345.2 1258.0,1344.8 1256.5,1344.7 1255.0,1344.7 1253.5,1344.4 1252.0,1343.4 1250.5,1343.3 1249.0,1343.3 1247.5,1342.6 1246.0,1341.1 1244.5,1341.1 1243.0,1341.1 1241.5,1340.5 1240.0,1340.4 1238.5,1340.4 1237.0,1340.4 1235.5,1340.0 1234.0,1338.7 1232.5,1337.9 1231.0,1337.9 1229.5,1337.9 1228.0,1337.9 1226.5,1337.5 1225.0,1337.5 1223.5,1336.7 1222.0,1335.8 1220.5,1335.8 1219.0,1335.8 1217.5,1335.7 1216.0,1335.5 1214.5,1333.8 1213.0,1333.2 1211.5,1333.2 1210.0,1333.2 1208.5,1331.7 1207.0,1331.7 1205.5,1331.5 1204.0,1331.0 1202.5,1329.5 1201.0,1329.3 1199.5,1329.3 1198.0,1329.3 1196.5,1329.3 1195.0,1329.3 1193.5,1328.8 1192.0,1327.6 1190.5,1327.3 1189.0,1327.2 1187.5,1326.7 1186.0,1325.3 1184.5,1324.7 1183.0,1323.9 1181.5,1323.1 1180.0,1322.9 1178.5,1322.9 1177.0,1322.3 1175.5,1321.4 1174.0,1320.8 1172.5,1320.8 1171.0,1320.1 1169.5,1320.1 1168.0,1320.1 1166.5,1318.7 1165.0,1318.0 1163.5,1317.8 1162.0,1317.8 1160.5,1317.0 1159.0,1317.0 1157.5,1316.7 1156.0,1315.9 1154.5,1315.9 1153.0,1314.1 1151.5,1311.9 1150.0,1311.4 1148.5,1311.4 1147.0,1311.4 1145.5,1311.1 1144.0,1311.1 1142.5,1311.1 1141.0,1309.6 1139.5,1307.8 1138.0,1307.4 1136.5,1307.2 1135.0,1306.3 1133.5,1305.2 1132.0,1305.2 1130.5,1305.2 1129.0,1304.0 1127.5,1303.6 1126.0,1303.6 1124.5,1303.6 1123.0,1303.1 1121.5,1301.8 1120.0,1299.2 1118.5,1298.5 1117.0,1298.4 1115.5,1298.4 1114.0,1298.4 1112.5,1296.2 1111.0,1296.2 1109.5,1296.2 1108.0,1296.2 1106.5,1293.7 1105.0,1292.9 1103.5,1292.5 1102.0,1291.3 1100.5,1289.5 1099.0,1288.8 1097.5,1288.8 1096.0,1288.8 1094.5,1287.4 1093.0,1286.6 1091.5,1286.3 1090.0,1286.3 1088.5,1286.3 1087.0,1285.5 1085.5,1284.5 1084.0,1284.2 1082.5,1281.8 1081.0,1281.8 1079.5,1281.4 1078.0,1280.3 1076.5,1280.3 1075.0,1278.1 1073.5,1276.2 1072.0,1276.2 1070.5,1275.8 1069.0,1274.7 1067.5,1273.4 1066.0,1273.1 1064.5,1273.1 1063.0,1272.0 1061.5,1270.9 1060.0,1270.8 1058.5,1269.4 1057.0,1268.4 1055.5,1267.3 1054.0,1266.6 1052.5,1266.6 1051.0,1266.6 1049.5,1266.1 1048.0,1264.9 1046.5,1264.1 1045.0,1261.6 1043.5,1261.4 1042.0,1261.4 1040.5,1258.0 1039.0,1257.6 1037.5,1257.4 1036.0,1256.8 1034.5,1255.1 1033.0,1254.1 1031.5,1253.0 1030.0,1251.0 1028.5,1250.4 1027.0,1250.1 1025.5,1250.1 1024.0,1250.1 1022.5,1247.0 1021.0,1246.7 1019.5,1245.7 1018.0,1242.8 1016.5,1242.8 1015.0,1241.9 1013.5,1240.7 1012.0,1239.7 1010.5,1238.5 1009.0,1236.7 1007.5,1235.0 1006.0,1233.9 1004.5,1233.9 1003.0,1232.1 1001.5,1231.6 1000.0,1231.6 998.5,1230.2 997.0,1227.4 995.5,1226.0 994.0,1226.0 992.5,1224.9 991.0,1222.5 989.5,1219.9 988.0,1218.9 986.5,1218.9 985.0,1217.4 983.5,1215.1 982.0,1212.6 980.5,1210.5 979.0,1208.8 977.5,1207.2 976.0,1206.3 974.5,1206.3 973.0,1203.9 971.5,1201.4 970.0,1200.9 968.5,1199.6 967.0,1199.6 965.5,1198.1 964.0,1193.5 962.5,1192.2 961.0,1190.3 959.5,1188.4 958.0,1187.1 956.5,1187.1 955.0,1186.2 953.5,1185.1 952.0,1184.6 950.5,1181.1 949.0,1178.4 947.5,1176.9 946.0,1176.6 944.5,1174.8 943.0,1172.6 941.5,1170.1 940.0,1168.8 938.5,1168.8 937.0,1166.7 935.5,1164.7 934.0,1164.7 932.5,1161.4 931.0,1158.7 929.5,1156.6 928.0,1154.9 926.5,1153.2 925.0,1151.3 923.5,1148.9 922.0,1145.8 920.5,1143.2 919.0,1140.6 917.5,1139.3 916.0,1139.3 914.5,1135.3 913.0,1133.9 911.5,1132.6 910.0,1128.8 908.5,1127.4 907.0,1122.8 905.5,1117.7 904.0,1114.8 902.5,1112.6 901.0,1111.4 899.5,1109.9 898.0,1107.0 896.5,1105.1 895.0,1102.2 893.5,1099.0 892.0,1096.2 890.5,1090.1 889.0,1087.7 887.5,1086.4 886.0,1083.4 884.5,1078.1 883.0,1075.4 881.5,1072.8 880.0,1068.2 878.5,1065.0 877.0,1063.3 875.5,1062.0 874.0,1060.1 872.5,1053.1 871.0,1049.6 869.5,1048.0 868.0,1046.7 866.5,1041.0 865.0,1037.0 863.5,1033.4 862.0,1028.9 860.5,1026.4 859.0,1024.6 857.5,1022.8 856.0,1020.4 854.5,1013.0 853.0,1008.1 851.5,1005.7 850.0,1005.7 848.5,998.5 847.0,994.6 845.5,992.8 844.0,992.0 842.5,986.4 841.0,981.9 839.5,977.9 838.0,973.3 836.5,969.0 835.0,964.9 833.5,961.7 832.0,959.9 830.5,955.1 829.0,952.8 827.5,950.5 826.0,945.5 824.5,939.7 823.0,937.2 821.5,935.4 820.0,931.9 818.5,928.5 817.0,922.6 815.5,916.9 814.0,914.0 812.5,910.0 811.0,906.1 809.5,902.9 808.0,900.8 806.5,894.3 805.0,890.6 803.5,887.4 802.0,882.3 800.5,878.5 799.0,878.5 797.5,877.2 796.0,873.1 794.5,868.6 793.0,865.3 791.5,862.7 790.0,860.2 788.5,857.0 787.0,852.0 785.5,847.3 784.0,844.8 782.5,832.9 781.0,829.8 779.5,826.2 778.0,822.0 776.5,819.6 775.0,817.4 773.5,816.9 772.0,816.9 770.5,808.5 769.0,805.6 767.5,803.3 766.0,801.5 764.5,801.5 763.0,794.4 761.5,787.5 760.0,787.5 758.5,784.8 757.0,778.5 755.5,771.5 754.0,768.4 752.5,768.4 751.0,765.3 749.5,761.7 748.0,760.0 746.5,753.9 745.0,751.7 743.5,747.5 742.0,735.3 740.5,732.9 739.0,732.9 737.5,730.0 736.0,721.2 734.5,719.9 733.0,717.4 731.5,714.4 730.0,711.3 728.5,704.4 727.0,700.4 725.5,695.7 724.0,687.3 722.5,684.2 721.0,677.8 719.5,670.4 718.0,664.5 716.5,662.7 715.0,657.9 713.5,652.2 712.0,647.5 710.5,637.9 709.0,636.9 707.5,633.8 706.0,624.1 704.5,620.9 703.0,617.0 701.5,611.5 700.0,603.3 698.5,599.7 697.0,590.4 695.5,584.2 694.0,584.2 692.5,571.0 691.0,560.7 689.5,559.3 688.0,559.3 686.5,546.4 685.0,540.0 683.5,537.0 682.0,534.6 680.5,524.1 679.0,522.5 677.5,518.9 676.0,507.9 674.5,496.7 673.0,492.1 671.5,488.7 670.0,480.8 668.5,474.3 667.0,469.6 665.5,464.1 664.0,454.9 662.5,453.4 661.0,451.0 659.5,444.7 658.0,436.2 656.5,436.2 655.0,429.1 653.5,420.1 652.0,414.2 650.5,411.1 649.0,407.6 647.5,403.0 646.0,396.5 644.5,394.0 643.0,385.1 641.5,376.3 640.0,374.0 638.5,361.4 637.0,353.2 635.5,345.5 634.0,334.8 632.5,330.4 631.0,319.7 629.5,309.2 628.0,307.3 626.5,305.6 625.0,317.4 623.5,327.0 622.0,336.2 620.5,344.3 619.0,354.4 617.5,364.9 616.0,373.9 614.5,379.4 613.0,392.8 611.5,406.1 610.0,419.6 608.5,433.7 607.0,443.4 605.5,455.3 604.0,468.1 602.5,480.2 601.0,492.3 599.5,506.1 598.0,519.9 596.5,531.6 595.0,545.1 593.5,560.5 592.0,576.8 590.5,593.2 589.0,609.4 587.5,625.3 586.0,641.7 584.5,659.8 583.0,677.0 581.5,694.4 580.0,713.4 578.5,735.9 577.0,759.2 575.5,783.3 574.0,808.3 572.5,834.6 571.0,862.5 569.5,888.6 568.0,914.9 566.5,942.1 565.0,968.4 563.5,997.0 562.0,1026.3 560.5,1054.1 559.0,1078.5 557.5,1101.9 556.0,1125.2 554.5,1148.3 553.0,1168.7 551.5,1188.4 550.0,1205.3 548.5,1217.2 547.0,1232.4 545.5,1246.0 544.0,1259.3 542.5,1273.4 541.0,1284.6 539.5,1295.9 538.0,1306.3 536.5,1314.4 535.0,1323.3 533.5,1331.2 532.0,1338.1 530.5,1343.6 529.0,1349.8 527.5,1354.1 526.0,1358.1 524.5,1362.9 523.0,1366.5 521.5,1369.5 520.0,1372.5 518.5,1375.6 517.0,1377.4 515.5,1379.6 514.0,1381.6 512.5,1382.6 511.0,1384.1 509.5,1385.2 508.0,1386.4 506.5,1388.2 505.0,1388.4 503.5,1389.6 502.0,1390.8 500.5,1391.0 499.0,1392.2 497.5,1392.7 496.0,1393.1 494.5,1394.0 493.0,1394.7 491.5,1395.3 490.0,1395.7 488.5,1396.3 487.0,1396.5 485.5,1396.6 484.0,1396.8 482.5,1397.6 481.0,1398.0 479.5,1398.5 478.0,1399.0 476.5,1399.1 475.0,1399.2 473.5,1399.8 472.0,1400.3 470.5,1400.3 469.0,1400.4 467.5,1400.4 466.0,1400.4 464.5,1400.5 463.0,1400.9 461.5,1401.1 460.0,1401.1 458.5,1401.1 457.0,1401.1 455.5,1401.1 454.0,1401.1 452.5,1401.1 451.0,1401.2 449.5,1401.3 448.0,1401.3 446.5,1401.3 445.0,1401.3 443.5,1401.3 442.0,1401.3 440.5,1401.3 439.0,1401.3 437.5,1401.3 436.0,1401.3 434.5,1401.3 433.0,1401.2 431.5,1401.3 430.0,1401.3 428.5,1401.3 427.0,1401.3 425.5,1401.3 424.0,1401.3 422.5,1401.3 421.0,1401.3 419.5,1401.3 418.0,1401.3 416.5,1401.3 415.0,1401.3 413.5,1401.3 412.0,1401.3 410.5,1401.3 409.0,1401.3 407.5,1401.3 406.0,1401.3 404.5,1401.3 403.0,1401.3 401.5,1401.3 400.0,1401.3 398.5,1401.3 397.0,1401.3 395.5,1401.3 394.0,1401.3 392.5,1401.4 391.0,1401.4 389.5,1401.4 388.0,1401.4 386.5,1401.4 385.0,1401.4 383.5,1401.4 382.0,1401.4 380.5,1401.4 379.0,1401.4 377.5,1401.4 376.0,1401.4 374.5,1401.4 373.0,1401.4 371.5,1401.4 370.0,1401.4 368.5,1401.4 367.0,1401.2 365.5,1401.2 364.0,1401.2 362.5,1401.2 361.0,1401.1 359.5,1401.2 358.0,1401.2 356.5,1401.2 355.0,1401.2 353.5,1401.2 352.0,1401.2 350.5,1401.2 349.0,1401.2 347.5,1401.2 346.0,1401.3 344.5,1401.3 343.0,1401.3 341.5,1401.3 340.0,1401.4 338.5,1401.4 337.0,1401.4 335.5,1401.4 334.0,1401.4 332.5,1401.4 331.0,1401.4 329.5,1401.4 328.0,1401.4"/>
<polygon fill="#ff0000" points="328.0,1389.6 329.5,1389.6 331.0,1389.6 332.5,1389.6 334.0,1389.6 335.5,1389.6 337.0,1389.6 338.5,1389.6 340.0,1389.6 341.5,1389.6 343.0,1389.6 344.5,1389.6 346.0,1389.6 347.5,1389.6 349.0,1389.7 350.5,1389.7 352.0,1389.7 353.5,1389.7 355.0,1389.7 356.5,1389.7 358.0,1389.9 359.5,1389.8 361.0,1389.7 362.5,1389.7 364.0,1389.7 365.5,1389.7 367.0,1389.7 368.5,1389.7 370.0,1389.7 371.5,1389.7 373.0,1389.8 374.5,1389.8 376.0,1389.8 377.5,1389.8 379.0,1389.7 380.5,1389.7 382.0,1389.7 383.5,1389.7 385.0,1389.7 386.5,1389.7 388.0,1389.7 389.5,1389.7 391.0,1389.7 392.5,1389.7 394.0,1389.7 395.5,1389.9 397.0,1389.9 398.5,1389.9 400.0,1389.9 401.5,1389.9 403.0,1389.9 404.5,1389.9 406.0,1389.9 407.5,1389.9 409.0,1389.9 410.5,1389.9 412.0,1389.9 413.5,1389.9 415.0,1389.9 416.5,1389.7 418.0,1389.7 419.5,1389.6 421.0,1389.6 422.5,1389.6 424.0,1389.6 425.5,1389.6 427.0,1389.6 428.5,1389.6 430.0,1389.6 431.5,1389.6 433.0,1389.7 434.5,1389.9 436.0,1389.9 437.5,1389.9 439.0,1389.8 440.5,1389.7 442.0,1389.7 443.5,1389.7 445.0,1389.7 446.5,1389.7 448.0,1389.6 449.5,1389.4 451.0,1389.4 452.5,1389.4 454.0,1389.1 455.5,1389.1 457.0,1389.1 458.5,1389.1 460.0,1389.0 461.5,1388.7 463.0,1388.5 464.5,1388.4 466.0,1387.9 467.5,1387.4 469.0,1386.9 470.5,1386.5 472.0,1386.0 473.5,1385.9 475.0,1385.2 476.5,1384.5 478.0,1384.4 479.5,1383.8 481.0,1383.0 482.5,1382.2 484.0,1381.8 485.5,1381.8 487.0,1381.2 488.5,1380.2 490.0,1378.6 491.5,1378.0 493.0,1377.0 494.5,1376.0 496.0,1375.8 497.5,1373.8 499.0,1372.2 500.5,1371.2 502.0,1370.8 503.5,1368.4 505.0,1366.1 506.5,1363.6 508.0,1360.5 509.5,1358.0 511.0,1354.6 512.5,1350.8 514.0,1346.8 515.5,1341.1 517.0,1336.0 518.5,1330.4 520.0,1324.0 521.5,1317.5 523.0,1309.7 524.5,1301.4 526.0,1292.8 527.5,1281.5 529.0,1271.4 530.5,1261.0 532.0,1248.7 533.5,1232.6 535.0,1218.4 536.5,1205.3 538.0,1191.9 539.5,1176.8 541.0,1157.6 542.5,1135.9 544.0,1114.4 545.5,1092.4 547.0,1069.4 548.5,1044.5 550.0,1018.8 551.5,991.8 553.0,965.1 554.5,936.9 556.0,906.4 557.5,884.5 559.0,858.7 560.5,830.4 562.0,801.0 563.5,775.9 565.0,752.7 566.5,730.6 568.0,708.5 569.5,689.8 571.0,673.6 572.5,658.2 574.0,641.9 575.5,623.9 577.0,608.0 578.5,591.6 580.0,572.4 581.5,559.8 583.0,543.2 584.5,526.8 586.0,514.4 587.5,493.6 589.0,482.3 590.5,473.1 592.0,458.8 593.5,448.1 595.0,434.0 596.5,420.1 598.0,410.4 599.5,396.4 601.0,383.4 602.5,371.9 604.0,361.8 605.5,360.4 607.0,353.0 608.5,341.3 610.0,327.0 611.5,315.4 613.0,305.8 614.5,300.0 616.0,296.1 617.5,285.3 619.0,282.3 620.5,282.3 622.0,282.3 623.5,279.7 625.0,278.0 626.5,278.0 628.0,278.0 629.5,278.0 631.0,278.0 632.5,278.0 634.0,278.0 635.5,278.0 637.0,279.5 638.5,284.7 640.0,284.8 641.5,289.2 643.0,294.7 644.5,296.2 646.0,306.0 647.5,313.9 649.0,321.0 650.5,327.7 652.0,334.8 653.5,342.8 655.0,348.3 656.5,348.6 658.0,354.1 659.5,361.8 661.0,370.4 662.5,378.6 664.0,389.0 665.5,394.8 667.0,399.1 668.5,405.1 670.0,411.7 671.5,411.7 673.0,413.1 674.5,417.5 676.0,423.7 677.5,428.1 679.0,433.6 680.5,442.8 682.0,451.7 683.5,451.7 685.0,455.0 686.5,465.1 688.0,473.1 689.5,478.8 691.0,485.4 692.5,496.0 694.0,500.4 695.5,507.0 697.0,510.2 698.5,510.2 700.0,517.4 701.5,523.1 703.0,531.0 704.5,544.8 706.0,549.3 707.5,549.3 709.0,553.7 710.5,566.8 712.0,571.5 713.5,577.8 715.0,580.9 716.5,580.9 718.0,590.3 719.5,593.6 721.0,594.9 722.5,598.2 724.0,609.5 725.5,610.5 727.0,614.1 728.5,625.0 730.0,625.7 731.5,630.2 733.0,637.2 734.5,643.0 736.0,643.0 737.5,647.3 739.0,652.6 740.5,655.7 742.0,658.2 743.5,663.5 745.0,668.3 746.5,669.5 748.0,679.1 749.5,683.7 751.0,685.2 752.5,685.7 754.0,695.0 755.5,695.0 757.0,696.9 758.5,702.5 760.0,704.1 761.5,704.1 763.0,704.1 764.5,704.1 766.0,714.5 767.5,716.3 769.0,716.3 770.5,716.3 772.0,719.1 773.5,724.0 775.0,729.6 776.5,734.7 778.0,741.9 779.5,746.6 781.0,750.4 782.5,750.6 784.0,750.6 785.5,755.2 787.0,760.3 788.5,762.3 790.0,763.8 791.5,765.3 793.0,767.7 794.5,771.7 796.0,782.7 797.5,787.0 799.0,790.7 800.5,795.7 802.0,799.6 803.5,806.1 805.0,812.4 806.5,816.1 808.0,819.1 809.5,824.0 811.0,829.0 812.5,832.7 814.0,838.0 815.5,843.4 817.0,847.3 818.5,848.1 820.0,853.5 821.5,856.3 823.0,859.8 824.5,867.3 826.0,869.3 827.5,870.8 829.0,873.0 830.5,877.0 832.0,880.1 833.5,883.5 835.0,887.3 836.5,891.4 838.0,897.4 839.5,900.5 841.0,902.3 842.5,904.8 844.0,908.8 845.5,911.9 847.0,915.5 848.5,921.1 850.0,921.1 851.5,924.0 853.0,928.1 854.5,931.5 856.0,934.1 857.5,938.9 859.0,943.1 860.5,943.7 862.0,947.5 863.5,950.2 865.0,953.7 866.5,960.2 868.0,961.5 869.5,965.0 871.0,968.3 872.5,969.4 874.0,971.6 875.5,975.3 877.0,980.0 878.5,985.2 880.0,988.5 881.5,990.2 883.0,992.5 884.5,997.0 886.0,997.0 887.5,1000.4 889.0,1004.4 890.5,1006.3 892.0,1010.1 893.5,1012.7 895.0,1016.1 896.5,1022.1 898.0,1022.5 899.5,1026.6 901.0,1029.7 902.5,1029.7 904.0,1034.1 905.5,1037.6 907.0,1041.1 908.5,1045.2 910.0,1046.6 911.5,1049.5 913.0,1052.3 914.5,1053.4 916.0,1057.3 917.5,1061.6 919.0,1064.7 920.5,1064.9 922.0,1069.2 923.5,1071.7 925.0,1073.7 926.5,1076.0 928.0,1078.3 929.5,1082.7 931.0,1086.9 932.5,1088.9 934.0,1090.1 935.5,1092.2 937.0,1095.1 938.5,1098.9 940.0,1100.8 941.5,1103.8 943.0,1107.0 944.5,1109.4 946.0,1110.0 947.5,1112.2 949.0,1114.7 950.5,1116.5 952.0,1117.9 953.5,1120.1 955.0,1123.0 956.5,1126.1 958.0,1127.6 959.5,1129.7 961.0,1131.7 962.5,1133.2 964.0,1136.9 965.5,1139.0 967.0,1139.0 968.5,1139.0 970.0,1143.4 971.5,1146.3 973.0,1148.1 974.5,1149.4 976.0,1149.4 977.5,1150.5 979.0,1152.1 980.5,1153.2 982.0,1154.1 983.5,1156.4 985.0,1159.4 986.5,1162.3 988.0,1163.5 989.5,1164.6 991.0,1166.0 992.5,1168.1 994.0,1168.9 995.5,1168.9 997.0,1170.0 998.5,1173.2 1000.0,1173.2 1001.5,1175.4 1003.0,1176.6 1004.5,1176.6 1006.0,1177.1 1007.5,1179.7 1009.0,1180.9 1010.5,1180.9 1012.0,1184.9 1013.5,1185.9 1015.0,1186.7 1016.5,1187.7 1018.0,1187.7 1019.5,1189.7 1021.0,1192.3 1022.5,1193.3 1024.0,1193.3 1025.5,1195.2 1027.0,1196.7 1028.5,1196.7 1030.0,1198.6 1031.5,1200.1 1033.0,1201.8 1034.5,1203.3 1036.0,1203.3 1037.5,1204.3 1039.0,1206.3 1040.5,1209.5 1042.0,1210.4 1043.5,1210.9 1045.0,1211.3 1046.5,1211.9 1048.0,1214.4 1049.5,1215.4 1051.0,1215.8 1052.5,1216.4 1054.0,1218.7 1055.5,1218.7 1057.0,1219.7 1058.5,1222.7 1060.0,1223.0 1061.5,1223.9 1063.0,1224.9 1064.5,1226.0 1066.0,1227.1 1067.5,1228.4 1069.0,1229.0 1070.5,1229.0 1072.0,1229.0 1073.5,1229.3 1075.0,1230.8 1076.5,1232.2 1078.0,1232.2 1079.5,1232.8 1081.0,1234.3 1082.5,1237.0 1084.0,1238.4 1085.5,1239.1 1087.0,1239.1 1088.5,1239.1 1090.0,1239.4 1091.5,1241.4 1093.0,1242.3 1094.5,1242.3 1096.0,1242.3 1097.5,1242.3 1099.0,1242.7 1100.5,1244.1 1102.0,1244.3 1103.5,1246.8 1105.0,1247.5 1106.5,1247.5 1108.0,1248.1 1109.5,1249.6 1111.0,1250.5 1112.5,1250.5 1114.0,1252.3 1115.5,1254.3 1117.0,1254.7 1118.5,1254.7 1120.0,1254.7 1121.5,1256.6 1123.0,1257.4 1124.5,1257.4 1126.0,1258.5 1127.5,1259.0 1129.0,1260.0 1130.5,1260.9 1132.0,1260.9 1133.5,1262.3 1135.0,1263.8 1136.5,1263.9 1138.0,1263.9 1139.5,1263.9 1141.0,1264.5 1142.5,1266.5 1144.0,1267.9 1145.5,1267.9 1147.0,1267.9 1148.5,1267.9 1150.0,1268.1 1151.5,1269.2 1153.0,1270.8 1154.5,1270.8 1156.0,1270.8 1157.5,1271.3 1159.0,1272.6 1160.5,1275.1 1162.0,1276.0 1163.5,1276.0 1165.0,1276.4 1166.5,1277.0 1168.0,1277.0 1169.5,1277.4 1171.0,1278.3 1172.5,1279.4 1174.0,1279.4 1175.5,1280.3 1177.0,1280.8 1178.5,1280.8 1180.0,1283.0 1181.5,1283.0 1183.0,1283.0 1184.5,1283.0 1186.0,1283.9 1187.5,1285.9 1189.0,1286.5 1190.5,1286.5 1192.0,1286.7 1193.5,1286.7 1195.0,1287.5 1196.5,1290.0 1198.0,1290.3 1199.5,1290.3 1201.0,1290.3 1202.5,1290.3 1204.0,1292.6 1205.5,1293.9 1207.0,1294.2 1208.5,1294.2 1210.0,1294.2 1211.5,1294.2 1213.0,1294.2 1214.5,1294.2 1216.0,1295.5 1217.5,1295.5 1219.0,1295.7 1220.5,1296.4 1222.0,1297.8 1223.5,1297.9 1225.0,1298.4 1226.5,1299.8 1228.0,1300.0 1229.5,1300.0 1231.0,1300.8 1232.5,1301.4 1234.0,1301.4 1235.5,1301.4 1237.0,1302.0 1238.5,1303.5 1240.0,1304.8 1241.5,1304.8 1243.0,1304.8 1244.5,1304.8 1246.0,1306.4 1247.5,1306.4 1249.0,1306.4 1250.5,1306.4 1252.0,1307.7 1253.5,1308.7 1255.0,1309.0 1256.5,1309.0 1258.0,1309.0 1259.5,1309.0 1261.0,1309.6 1262.5,1311.2 1264.0,1311.2 1265.5,1311.3 1267.0,1311.3 1268.5,1311.3 1270.0,1313.1 1271.5,1313.1 1273.0,1313.1 1274.5,1313.1 1276.0,1313.5 1277.5,1315.5 1279.0,1316.1 1280.5,1316.1 1282.0,1316.1 1283.5,1317.8 1285.0,1318.2 1286.5,1318.2 1288.0,1319.0 1289.5,1319.4 1291.0,1319.7 1292.5,1319.8 1294.0,1321.7 1295.5,1322.0 1297.0,1322.4 1298.5,1323.1 1300.0,1323.1 1301.5,1323.3 1303.0,1323.3 1304.5,1323.3 1306.0,1323.3 1307.5,1323.3 1309.0,1323.3 1310.5,1323.3 1312.0,1324.8 1313.5,1324.8 1315.0,1325.3 1316.5,1325.3 1318.0,1325.3 1319.5,1326.7 1321.0,1327.2 1322.5,1327.2 1324.0,1327.2 1325.5,1327.2 1327.0,1327.9 1328.5,1328.7 1330.0,1328.7 1331.5,1328.9 1333.0,1329.3 1334.5,1329.3 1336.0,1329.3 1337.5,1329.3 1339.0,1329.6 1340.5,1330.7 1342.0,1330.7 1343.5,1330.7 1345.0,1330.8 1346.5,1330.8 1348.0,1330.8 1349.5,1330.8 1351.0,1330.9 1352.5,1331.3 1354.0,1331.4 1355.5,1332.0 1357.0,1332.0 1358.5,1332.0 1360.0,1332.0 1361.5,1332.2 1363.0,1332.5 1364.5,1332.8 1366.0,1333.3 1367.5,1333.3 1369.0,1333.3 1370.5,1333.3 1372.0,1333.3 1373.5,1333.7 1375.0,1333.7 1376.5,1333.7 1378.0,1333.7 1379.5,1332.7 1381.0,1332.5 1382.5,1332.5 1384.0,1332.5 1385.5,1332.5 1387.0,1332.5 1388.5,1332.5 1390.0,1332.5 1391.5,1332.5 1393.0,1333.1 1394.5,1334.8 1396.0,1335.7 1397.5,1335.9 1399.0,1335.9 1400.5,1335.9 1402.0,1335.9 1403.5,1335.9 1405.0,1336.0 1406.5,1336.1 1408.0,1337.7 1409.5,1338.5 1411.0,1338.6 1412.5,1338.6 1414.0,1338.9 1415.5,1338.9 1417.0,1339.2 1418.5,1339.3 1420.0,1339.3 1421.5,1339.3 1423.0,1339.6 1424.5,1340.2 1426.0,1340.2 1427.5,1340.2 1429.0,1340.8 1430.5,1341.1 1432.0,1341.1 1433.5,1341.1 1435.0,1341.2 1436.5,1341.3 1438.0,1341.3 1439.5,1342.5 1441.0,1342.5 1442.5,1342.5 1444.0,1343.1 1445.5,1343.1 1447.0,1343.1 1448.5,1343.1 1450.0,1343.7 1451.5,1344.1 1453.0,1344.7 1454.5,1344.9 1456.0,1344.9 1457.5,1344.9 1459.0,1345.5 1460.5,1345.6 1462.0,1345.6 1463.5,1345.6 1465.0,1346.3 1466.5,1347.0 1468.0,1347.0 1469.5,1347.0 1471.0,1347.0 1472.5,1347.0 1474.0,1347.4 1475.5,1347.4 1477.0,1348.1 1478.5,1349.7 1480.0,1349.7 1481.5,1349.8 1483.0,1349.8 1484.5,1349.8 1486.0,1349.8 1487.5,1349.8 1489.0,1349.8 1490.5,1349.8 1492.0,1349.8 1493.5,1350.7 1495.0,1351.0 1496.5,1351.0 1498.0,1351.0 1499.5,1351.0 1501.0,1351.6 1502.5,1351.9 1504.0,1351.9 1505.5,1351.9 1507.0,1352.2 1508.5,1352.6 1510.0,1352.6 1511.5,1352.8 1513.0,1353.5 1514.5,1354.3 1516.0,1354.3 1517.5,1354.3 1519.0,1354.3 1520.5,1354.3 1522.0,1355.4 1523.5,1355.4 1525.0,1355.4 1526.5,1355.4 1528.0,1355.7 1529.5,1355.7 1531.0,1356.0 1532.5,1356.1 1534.0,1356.1 1535.5,1356.6 1537.0,1357.3 1538.5,1357.3 1540.0,1357.3 1541.5,1357.3 1543.0,1357.3 1544.5,1357.3 1546.0,1358.7 1547.5,1359.0 1549.0,1359.3 1550.5,1359.5 1552.0,1359.5 1553.5,1359.5 1555.0,1359.5 1556.5,1359.5 1558.0,1359.5 1559.5,1359.5 1561.0,1359.5 1562.5,1359.6 1564.0,1361.0 1565.5,1361.2 1567.0,1361.2 1568.5,1361.2 1570.0,1361.2 1571.5,1361.5 1573.0,1362.0 1574.5,1362.5 1576.0,1362.5 1577.5,1362.6 1579.0,1362.6 1580.5,1362.6 1582.0,1363.4 1583.5,1363.5 1585.0,1363.5 1586.5,1363.5 1588.0,1363.5 1589.5,1363.7 1591.0,1363.7 1592.5,1363.7 1594.0,1364.3 1595.5,1364.9 1597.0,1364.9 1598.5,1364.9 1600.0,1364.9 1601.5,1364.9 1603.0,1365.0 1604.5,1365.4 1606.0,1365.5 1607.5,1365.8 1609.0,1365.8 1610.5,1365.8 1612.0,1365.8 1613.5,1365.8 1615.0,1366.2 1616.5,1366.3 1618.0,1366.3 1619.5,1366.3 1621.0,1366.4 1622.5,1366.8 1624.0,1367.0 1625.5,1367.0 1627.0,1367.3 1628.5,1367.8 1630.0,1367.8 1631.5,1367.8 1633.0,1367.8 1634.5,1367.8 1636.0,1367.8 1637.5,1368.3 1639.0,1368.3 1640.5,1368.3 1642.0,1368.3 1643.5,1368.7 1645.0,1369.1 1646.5,1369.1 1648.0,1369.1 1649.5,1369.2 1651.0,1369.3 1652.5,1369.3 1654.0,1369.5 1655.5,1369.5 1657.0,1369.5 1658.5,1369.5 1660.0,1369.8 1661.5,1369.9 1663.0,1370.2 1664.5,1370.9 1666.0,1370.9 1667.5,1370.9 1669.0,1370.9 1670.5,1370.9 1672.0,1370.9 1673.5,1370.9 1675.0,1370.9 1676.5,1370.9 1678.0,1371.5 1679.5,1371.5 1681.0,1371.5 1682.5,1371.7 1684.0,1372.0 1685.5,1372.0 1687.0,1372.0 1688.5,1372.0 1690.0,1372.4 1691.5,1372.4 1693.0,1372.4 1694.5,1372.4 1696.0,1372.7 1697.5,1373.0 1699.0,1373.0 1700.5,1373.0 1702.0,1373.0 1703.5,1373.3 1705.0,1373.7 1706.5,1374.0 1708.0,1374.1 1709.5,1374.2 1711.0,1374.2 1712.5,1374.2 1714.0,1374.2 1715.5,1374.2 1717.0,1374.2 1718.5,1374.4 1720.0,1374.4 1721.5,1374.4 1723.0,1374.5 1724.5,1374.6 1726.0,1375.2 1727.5,1375.3 1729.0,1375.3 1730.5,1375.3 1732.0,1375.3 1733.5,1375.4 1735.0,1375.4 1736.5,1375.4 1738.0,1375.4 1739.5,1375.5 1741.0,1375.9 1742.5,1375.9 1744.0,1375.9 1745.5,1376.4 1747.0,1376.6 1748.5,1376.6 1750.0,1376.7 1751.5,1376.7 1753.0,1376.7 1754.5,1376.7 1756.0,1376.8 1757.5,1376.9 1759.0,1377.0 1760.5,1377.1 1762.0,1377.2 1763.5,1377.4 1765.0,1377.5 1766.5,1377.5 1768.0,1377.5 1769.5,1377.5 1771.0,1377.6 1772.5,1378.1 1774.0,1378.2 1775.5,1378.2 1777.0,1378.2 1778.5,1378.2 1780.0,1378.2 1781.5,1378.3 1783.0,1378.4 1784.5,1378.4 1786.0,1378.6 1787.5,1379.2 1789.0,1379.3 1790.5,1379.3 1792.0,1379.3 1793.5,1379.4 1795.0,1379.6 1796.5,1379.6 1798.0,1379.6 1799.5,1379.6 1801.0,1379.6 1802.5,1379.6 1804.0,1379.6 1805.5,1379.6 1807.0,1379.8 1808.5,1380.0 1810.0,1380.0 1811.5,1380.0 1813.0,1380.0 1814.5,1380.1 1816.0,1380.6 1817.5,1380.6 1819.0,1380.6 1820.5,1380.6 1822.0,1380.6 1823.5,1380.7 1825.0,1380.7 1826.5,1380.7 1828.0,1380.7 1829.5,1380.9 1831.0,1381.1 1832.5,1381.1 1834.0,1381.1 1835.5,1381.1 1837.0,1381.1 1838.5,1381.3 1840.0,1381.5 1841.5,1381.5 1843.0,1381.7 1844.5,1381.8 1846.0,1381.8 1847.5,1381.8 1849.0,1381.8 1850.5,1381.8 1852.0,1381.8 1853.5,1381.8 1855.0,1382.1 1856.5,1382.5 1858.0,1382.5 1859.5,1382.5 1861.0,1382.5 1862.5,1382.5 1864.0,1382.5 1865.5,1382.5 1867.0,1382.6 1868.5,1382.6 1870.0,1382.6 1871.5,1382.6 1873.0,1382.6 1874.5,1382.6 1876.0,1382.6 1877.5,1382.8 1879.0,1382.9 1880.5,1382.9 1882.0,1382.9 1883.5,1382.9 1885.0,1383.0 1886.5,1383.0 1888.0,1383.0 1889.5,1383.1 1891.0,1383.2 1892.5,1383.2 1894.0,1383.2 1895.5,1383.2 1897.0,1383.2 1898.5,1383.3 1900.0,1383.4 1901.5,1383.4 1903.0,1383.4 1904.5,1383.4 1906.0,1383.9 1907.5,1384.0 1909.0,1384.0 1910.5,1383.9 1912.0,1383.9 1913.5,1383.9 1915.0,1383.9 1916.5,1383.9 1918.0,1383.9 1919.5,1383.9 1921.0,1383.9 1922.5,1383.9 1924.0,1384.2 1925.5,1384.3 1927.0,1384.3 1928.5,1384.3 1930.0,1384.3 1931.5,1384.3 1933.0,1384.3 1934.5,1384.3 1936.0,1384.3 1937.5,1384.5 1939.0,1384.5 1940.5,1384.5 1942.0,1384.5 1943.5,1384.6 1945.0,1384.6 1946.5,1384.6 1948.0,1384.7 1949.5,1385.0 1951.0,1385.0 1952.5,1385.0 1954.0,1385.0 1955.5,1385.0 1957.0,1385.0 1958.5,1385.0 1960.0,1385.0 1961.5,1385.1 1963.0,1385.1 1964.5,1385.1 1966.0,1385.1 1967.5,1385.1 1969.0,1385.2 1970.5,1385.6 1972.0,1385.6 1973.5,1385.6 1975.0,1385.6 1976.5,1385.6 1978.0,1385.5 1979.5,1385.5 1981.0,1385.5 1982.5,1385.5 1984.0,1385.5 1985.5,1385.5 1987.0,1385.5 1988.5,1385.5 1990.0,1385.5 1991.5,1385.6 1993.0,1385.6 1994.5,1385.8 1996.0,1385.9 1997.5,1385.9 1999.0,1385.9 2000.5,1385.9 2002.0,1386.1 2003.5,1386.1 2005.0,1386.1 2006.5,1386.1 2008.0,1386.3 2009.5,1386.3 2011.0,1386.3 2012.5,1386.3 2014.0,1386.3 2015.5,1386.3 2017.0,1386.4 2018.5,1386.6 2020.0,1386.6 2021.5,1386.6 2023.0,1386.7 2024.5,1386.8 2026.0,1386.8 2027.5,1386.8 2029.0,1386.8 2030.5,1386.8 2032.0,1386.8 2033.5,1386.8 2035.0,1386.8 2036.5,1386.8 2038.0,1386.8 2039.5,1386.8 2041.0,1387.0 2042.5,1387.0 2044.0,1387.0 2045.5,1387.0 2047.0,1387.1 2048.5,1387.3 2050.0,1387.3 2051.5,1387.3 2053.0,1387.3 2054.5,1387.3 2056.0,1387.3 2057.5,1387.4 2059.0,1387.4 2060.5,1387.4 2062.0,1387.4 2063.5,1387.4 2065.0,1387.4 2066.5,1387.4 2068.0,1387.4 2069.5,1387.6 2071.0,1387.6 2072.5,1387.6 2074.0,1387.6 2075.5,1387.6 2077.0,1387.5 2078.5,1387.5 2080.0,1387.5 2081.5,1387.5 2083.0,1387.5 2084.5,1387.5 2086.0,1387.5 2087.5,1387.5 2089.0,1387.5 2090.5,1387.5 2092.0,1387.5 2093.5,1387.5 2095.0,1387.5 2096.5,1387.5 2098.0,1387.6 2099.5,1387.6 2101.0,1387.6 2102.5,1387.6 2104.0,1387.6 2105.5,1387.7 2107.0,1387.7 2108.5,1387.7 2110.0,1387.7 2111.5,1387.8 2113.0,1387.8 2114.5,1387.8 2116.0,1387.8 2117.5,1387.8 2119.0,1387.8 2120.5,1387.8 2122.0,1387.8 2123.5,1387.8 2125.0,1387.8 2126.5,1387.8 2128.0,1387.8 2129.5,1388.0 2131.0,1388.0 2132.5,1388.0 2134.0,1388.0 2135.5,1388.0 2137.0,1388.0 2138.5,1388.0 2140.0,1388.0 2141.5,1388.0 2143.0,1388.0 2144.5,1388.0 2146.0,1387.9 2147.5,1387.9 2149.0,1387.9 2150.5,1387.9 2152.0,1387.9 2153.5,1387.9 2155.0,1387.9 2156.5,1387.9 2158.0,1387.9 2159.5,1388.1 2161.0,1388.1 2162.5,1388.1 2164.0,1388.1 2165.5,1388.1 2167.0,1388.1 2168.5,1388.1 2170.0,1388.3 2171.5,1388.3 2173.0,1388.4 2174.5,1388.4 2176.0,1388.4 2177.5,1388.4 2179.0,1388.4 2180.5,1388.4 2182.0,1388.3 2183.5,1388.3 2185.0,1388.3 2186.5,1388.3 2188.0,1388.3 2189.5,1388.3 2191.0,1388.3 2192.5,1388.3 2194.0,1388.3 2195.5,1388.3 2197.0,1388.3 2198.5,1388.3 2200.0,1388.3 2201.5,1388.3 2203.0,1388.3 2204.5,1388.3 2206.0,1388.3 2207.5,1388.3 2209.0,1388.3 2210.5,1388.3 2212.0,1388.4 2213.5,1388.5 2215.0,1388.5 2216.5,1388.5 2218.0,1388.5 2219.5,1388.5 2221.0,1388.5 2222.5,1388.5 2224.0,1388.5 2225.5,1388.5 2227.0,1388.5 2228.5,1388.5 2230.0,1388.5 2231.5,1388.5 2233.0,1388.5 2234.5,1388.5 2236.0,1388.4 2237.5,1388.4 2239.0,1388.4 2240.5,1388.4 2242.0,1388.4 2243.5,1388.4 2245.0,1388.4 2246.5,1388.4 2248.0,1388.4 2249.5,1388.6 2251.0,1388.5 2252.5,1388.5 2254.0,1388.5 2255.5,1388.5 2257.0,1388.5 2258.5,1388.5 2260.0,1388.5 2261.5,1388.5 2263.0,1388.5 2264.5,1388.5 2266.0,1388.5 2267.5,1388.5 2269.0,1388.5 2270.5,1388.5 2272.0,1388.5 2273.5,1388.5 2275.0,1388.5 2276.5,1388.5 2278.0,1388.5 2279.5,1388.5 2281.0,1388.6 2282.5,1388.6 2284.0,1388.6 2285.5,1388.6 2287.0,1388.6 2288.5,1388.5 2290.0,1388.5 2291.5,1388.5 2293.0,1388.5 2294.5,1388.5 2296.0,1388.5 2297.5,1388.5 2299.0,1388.5 2300.5,1388.5 2302.0,1388.5 2303.5,1388.5 2305.0,1388.5 2306.5,1388.5 2308.0,1388.6 2309.5,1388.6 2311.0,1388.6 2312.5,1388.6 2314.0,1388.6 2315.5,1388.6 2317.0,1388.6 2318.5,1388.6 2320.0,1388.7 2321.5,1388.7 2323.0,1388.7 2324.5,1388.7 2326.0,1388.9 2327.5,1388.8 2329.0,1388.7 2330.5,1388.7 2332.0,1388.7 2333.5,1388.7 2335.0,1388.7 2336.5,1388.7 2338.0,1388.7 2339.5,1388.7 2341.0,1388.9 2342.5,1389.0 2344.0,1389.0 2345.5,1389.0 2347.0,1388.9 2348.5,1388.6 2350.0,1388.6 2351.5,1388.6 2353.0,1388.6 2354.5,1388.6 2356.0,1388.6 2357.5,1388.6 2359.0,1388.6 2360.5,1388.6 2362.0,1388.6 2363.5,1388.6 2365.0,1388.7 2366.5,1388.7 2366.5,1400.2 2365.0,1400.2 2363.5,1400.2 2362.0,1400.3 2360.5,1400.3 2359.0,1400.3 2357.5,1400.3 2356.0,1400.3 2354.5,1400.3 2353.0,1400.3 2351.5,1400.3 2350.0,1400.3 2348.5,1400.3 2347.0,1400.3 2345.5,1400.3 2344.0,1400.3 2342.5,1400.3 2341.0,1400.3 2339.5,1400.3 2338.0,1400.3 2336.5,1400.3 2335.0,1400.3 2333.5,1400.3 2332.0,1400.4 2330.5,1400.4 2329.0,1400.4 2327.5,1400.4 2326.0,1400.4 2324.5,1400.4 2323.0,1400.4 2321.5,1400.4 2320.0,1400.4 2318.5,1400.3 2317.0,1400.3 2315.5,1400.3 2314.0,1400.2 2312.5,1400.1 2311.0,1400.3 2309.5,1400.4 2308.0,1400.4 2306.5,1400.4 2305.0,1400.4 2303.5,1400.4 2302.0,1400.4 2300.5,1400.4 2299.0,1400.4 2297.5,1400.4 2296.0,1400.3 2294.5,1400.2 2293.0,1400.2 2291.5,1400.4 2290.0,1400.4 2288.5,1400.4 2287.0,1400.4 2285.5,1400.4 2284.0,1400.4 2282.5,1400.4 2281.0,1400.4 2279.5,1400.3 2278.0,1400.3 2276.5,1400.3 2275.0,1400.3 2273.5,1400.3 2272.0,1400.3 2270.5,1400.3 2269.0,1400.0 2267.5,1400.0 2266.0,1400.0 2264.5,1400.0 2263.0,1399.9 2261.5,1399.9 2260.0,1399.9 2258.5,1399.9 2257.0,1399.9 2255.5,1399.9 2254.0,1400.2 2252.5,1400.2 2251.0,1400.2 2249.5,1400.2 2248.0,1400.2 2246.5,1400.2 2245.0,1400.2 2243.5,1400.2 2242.0,1400.2 2240.5,1400.1 2239.0,1400.1 2237.5,1400.0 2236.0,1399.9 2234.5,1400.0 2233.0,1400.0 2231.5,1400.0 2230.0,1400.0 2228.5,1400.0 2227.0,1400.0 2225.5,1400.0 2224.0,1400.0 2222.5,1400.1 2221.0,1400.1 2219.5,1400.1 2218.0,1400.1 2216.5,1400.1 2215.0,1400.1 2213.5,1400.1 2212.0,1400.1 2210.5,1400.1 2209.0,1400.1 2207.5,1400.1 2206.0,1400.1 2204.5,1400.1 2203.0,1399.8 2201.5,1399.5 2200.0,1399.5 2198.5,1399.5 2197.0,1399.5 2195.5,1399.5 2194.0,1399.5 2192.5,1399.9 2191.0,1399.9 2189.5,1399.9 2188.0,1399.9 2186.5,1399.9 2185.0,1399.9 2183.5,1399.9 2182.0,1399.9 2180.5,1399.9 2179.0,1399.9 2177.5,1399.9 2176.0,1399.9 2174.5,1399.9 2173.0,1399.9 2171.5,1399.9 2170.0,1399.9 2168.5,1399.9 2167.0,1399.9 2165.5,1399.9 2164.0,1399.9 2162.5,1399.9 2161.0,1399.9 2159.5,1399.9 2158.0,1399.9 2156.5,1399.8 2155.0,1399.8 2153.5,1399.8 2152.0,1399.8 2150.5,1399.8 2149.0,1399.7 2147.5,1399.7 2146.0,1399.7 2144.5,1399.7 2143.0,1399.7 2141.5,1399.5 2140.0,1399.5 2138.5,1399.5 2137.0,1399.5 2135.5,1399.6 2134.0,1399.6 2132.5,1399.6 2131.0,1399.6 2129.5,1399.6 2128.0,1399.6 2126.5,1399.6 2125.0,1399.6 2123.5,1399.5 2122.0,1399.6 2120.5,1399.6 2119.0,1399.6 2117.5,1399.6 2116.0,1399.6 2114.5,1399.6 2113.0,1399.6 2111.5,1399.6 2110.0,1399.6 2108.5,1399.4 2107.0,1399.4 2105.5,1399.4 2104.0,1399.4 2102.5,1399.4 2101.0,1399.4 2099.5,1399.4 2098.0,1399.4 2096.5,1399.4 2095.0,1399.4 2093.5,1399.4 2092.0,1399.4 2090.5,1399.4 2089.0,1399.3 2087.5,1399.3 2086.0,1399.3 2084.5,1399.3 2083.0,1399.3 2081.5,1399.2 2080.0,1399.1 2078.5,1399.1 2077.0,1399.1 2075.5,1399.1 2074.0,1399.1 2072.5,1399.0 2071.0,1399.0 2069.5,1399.0 2068.0,1399.0 2066.5,1399.0 2065.0,1399.0 2063.5,1399.0 2062.0,1399.0 2060.5,1399.0 2059.0,1399.0 2057.5,1399.0 2056.0,1399.0 2054.5,1399.0 2053.0,1399.0 2051.5,1399.0 2050.0,1399.0 2048.5,1399.0 2047.0,1399.0 2045.5,1398.8 2044.0,1398.8 2042.5,1398.8 2041.0,1398.8 2039.5,1398.8 2038.0,1398.8 2036.5,1398.6 2035.0,1398.6 2033.5,1398.6 2032.0,1398.6 2030.5,1398.6 2029.0,1398.2 2027.5,1398.2 2026.0,1398.2 2024.5,1398.2 2023.0,1398.2 2021.5,1398.2 2020.0,1398.2 2018.5,1398.2 2017.0,1398.2 2015.5,1398.1 2014.0,1398.0 2012.5,1398.0 2011.0,1398.0 2009.5,1398.0 2008.0,1398.0 2006.5,1398.0 2005.0,1398.0 2003.5,1398.0 2002.0,1398.0 2000.5,1398.0 1999.0,1398.0 1997.5,1397.9 1996.0,1397.7 1994.5,1397.7 1993.0,1397.7 1991.5,1397.7 1990.0,1397.7 1988.5,1397.3 1987.0,1397.3 1985.5,1397.4 1984.0,1397.4 1982.5,1397.4 1981.0,1397.4 1979.5,1397.4 1978.0,1397.4 1976.5,1397.4 1975.0,1397.4 1973.5,1397.4 1972.0,1397.4 1970.5,1397.3 1969.0,1397.1 1967.5,1397.1 1966.0,1397.1 1964.5,1396.8 1963.0,1396.8 1961.5,1396.8 1960.0,1396.8 1958.5,1396.8 1957.0,1396.8 1955.5,1396.8 1954.0,1396.8 1952.5,1396.8 1951.0,1396.6 1949.5,1396.5 1948.0,1396.5 1946.5,1396.5 1945.0,1396.5 1943.5,1396.5 1942.0,1396.5 1940.5,1396.4 1939.0,1396.4 1937.5,1396.2 1936.0,1396.2 1934.5,1396.2 1933.0,1396.2 1931.5,1396.2 1930.0,1396.2 1928.5,1396.2 1927.0,1395.9 1925.5,1395.9 1924.0,1395.9 1922.5,1395.9 1921.0,1395.9 1919.5,1395.9 1918.0,1395.9 1916.5,1395.9 1915.0,1395.9 1913.5,1395.8 1912.0,1395.6 1910.5,1395.6 1909.0,1395.6 1907.5,1395.6 1906.0,1395.6 1904.5,1395.6 1903.0,1395.6 1901.5,1395.6 1900.0,1395.6 1898.5,1395.5 1897.0,1395.5 1895.5,1395.4 1894.0,1395.1 1892.5,1395.0 1891.0,1395.0 1889.5,1395.0 1888.0,1395.0 1886.5,1395.0 1885.0,1395.0 1883.5,1395.0 1882.0,1395.0 1880.5,1394.6 1879.0,1394.6 1877.5,1394.6 1876.0,1394.6 1874.5,1394.6 1873.0,1394.6 1871.5,1394.6 1870.0,1394.6 1868.5,1394.3 1867.0,1394.3 1865.5,1394.3 1864.0,1394.3 1862.5,1394.3 1861.0,1394.3 1859.5,1394.3 1858.0,1394.3 1856.5,1394.3 1855.0,1394.1 1853.5,1394.1 1852.0,1394.1 1850.5,1394.1 1849.0,1394.1 1847.5,1393.9 1846.0,1393.9 1844.5,1393.9 1843.0,1393.6 1841.5,1393.6 1840.0,1393.6 1838.5,1393.1 1837.0,1393.1 1835.5,1393.1 1834.0,1393.1 1832.5,1393.1 1831.0,1392.8 1829.5,1392.8 1828.0,1392.8 1826.5,1392.5 1825.0,1392.3 1823.5,1392.3 1822.0,1392.3 1820.5,1392.3 1819.0,1392.3 1817.5,1392.3 1816.0,1392.3 1814.5,1392.3 1813.0,1392.2 1811.5,1392.2 1810.0,1392.2 1808.5,1392.2 1807.0,1391.9 1805.5,1391.8 1804.0,1391.8 1802.5,1391.5 1801.0,1391.5 1799.5,1391.5 1798.0,1391.5 1796.5,1391.5 1795.0,1391.2 1793.5,1391.2 1792.0,1391.2 1790.5,1391.2 1789.0,1391.1 1787.5,1391.0 1786.0,1390.9 1784.5,1390.8 1783.0,1390.7 1781.5,1390.7 1780.0,1390.7 1778.5,1390.7 1777.0,1390.7 1775.5,1390.4 1774.0,1390.0 1772.5,1390.0 1771.0,1390.0 1769.5,1390.0 1768.0,1390.0 1766.5,1390.0 1765.0,1390.0 1763.5,1390.0 1762.0,1389.9 1760.5,1389.3 1759.0,1389.0 1757.5,1389.0 1756.0,1389.0 1754.5,1389.0 1753.0,1388.7 1751.5,1388.4 1750.0,1388.3 1748.5,1388.3 1747.0,1388.3 1745.5,1388.3 1744.0,1388.3 1742.5,1388.3 1741.0,1388.3 1739.5,1388.3 1738.0,1388.3 1736.5,1387.9 1735.0,1387.9 1733.5,1387.9 1732.0,1387.9 1730.5,1387.9 1729.0,1387.3 1727.5,1387.2 1726.0,1387.2 1724.5,1387.2 1723.0,1387.2 1721.5,1387.2 1720.0,1387.2 1718.5,1387.2 1717.0,1387.2 1715.5,1387.0 1714.0,1386.4 1712.5,1386.2 1711.0,1386.2 1709.5,1386.2 1708.0,1386.2 1706.5,1386.2 1705.0,1386.2 1703.5,1386.2 1702.0,1386.2 1700.5,1386.1 1699.0,1385.7 1697.5,1385.2 1696.0,1385.1 1694.5,1385.1 1693.0,1385.0 1691.5,1385.0 1690.0,1385.0 1688.5,1385.0 1687.0,1384.7 1685.5,1384.4 1684.0,1384.4 1682.5,1384.4 1681.0,1384.4 1679.5,1384.2 1678.0,1384.2 1676.5,1384.2 1675.0,1384.2 1673.5,1384.1 1672.0,1383.6 1670.5,1383.6 1669.0,1383.6 1667.5,1383.6 1666.0,1383.6 1664.5,1382.6 1663.0,1382.6 1661.5,1382.6 1660.0,1382.6 1658.5,1382.3 1657.0,1382.1 1655.5,1382.0 1654.0,1382.0 1652.5,1381.9 1651.0,1381.4 1649.5,1381.1 1648.0,1381.1 1646.5,1381.1 1645.0,1381.1 1643.5,1381.1 1642.0,1381.1 1640.5,1380.5 1639.0,1380.3 1637.5,1380.3 1636.0,1380.3 1634.5,1380.3 1633.0,1380.3 1631.5,1380.3 1630.0,1380.3 1628.5,1380.3 1627.0,1380.3 1625.5,1379.9 1624.0,1379.5 1622.5,1379.5 1621.0,1379.4 1619.5,1379.4 1618.0,1379.4 1616.5,1379.4 1615.0,1378.7 1613.5,1378.6 1612.0,1378.6 1610.5,1378.4 1609.0,1378.4 1607.5,1378.4 1606.0,1378.4 1604.5,1378.4 1603.0,1377.6 1601.5,1377.1 1600.0,1377.1 1598.5,1377.1 1597.0,1377.1 1595.5,1376.9 1594.0,1376.5 1592.5,1376.5 1591.0,1376.5 1589.5,1376.5 1588.0,1376.5 1586.5,1376.5 1585.0,1376.5 1583.5,1376.2 1582.0,1375.7 1580.5,1375.7 1579.0,1375.7 1577.5,1375.4 1576.0,1375.3 1574.5,1375.3 1573.0,1375.1 1571.5,1374.9 1570.0,1374.7 1568.5,1374.2 1567.0,1374.2 1565.5,1374.1 1564.0,1373.7 1562.5,1373.7 1561.0,1373.3 1559.5,1373.3 1558.0,1373.3 1556.5,1373.3 1555.0,1372.9 1553.5,1372.4 1552.0,1372.4 1550.5,1371.6 1549.0,1371.6 1547.5,1371.6 1546.0,1371.6 1544.5,1371.5 1543.0,1371.5 1541.5,1371.4 1540.0,1371.2 1538.5,1371.1 1537.0,1370.5 1535.5,1370.2 1534.0,1370.2 1532.5,1369.2 1531.0,1369.2 1529.5,1369.2 1528.0,1369.2 1526.5,1369.2 1525.0,1368.6 1523.5,1367.8 1522.0,1367.8 1520.5,1367.8 1519.0,1367.2 1517.5,1367.0 1516.0,1367.0 1514.5,1366.8 1513.0,1366.8 1511.5,1366.8 1510.0,1366.8 1508.5,1366.2 1507.0,1366.2 1505.5,1366.1 1504.0,1366.0 1502.5,1366.0 1501.0,1365.0 1499.5,1364.5 1498.0,1364.5 1496.5,1364.5 1495.0,1364.5 1493.5,1364.5 1492.0,1364.5 1490.5,1364.4 1489.0,1363.1 1487.5,1363.0 1486.0,1363.0 1484.5,1363.0 1483.0,1362.8 1481.5,1362.3 1480.0,1362.3 1478.5,1362.3 1477.0,1361.9 1475.5,1361.9 1474.0,1361.9 1472.5,1361.5 1471.0,1361.1 1469.5,1361.0 1468.0,1361.0 1466.5,1361.0 1465.0,1359.7 1463.5,1359.7 1462.0,1359.7 1460.5,1359.3 1459.0,1359.3 1457.5,1359.3 1456.0,1359.3 1454.5,1359.3 1453.0,1358.4 1451.5,1358.4 1450.0,1358.4 1448.5,1358.4 1447.0,1357.2 1445.5,1357.0 1444.0,1357.0 1442.5,1357.0 1441.0,1356.2 1439.5,1355.7 1438.0,1355.7 1436.5,1355.7 1435.0,1355.7 1433.5,1355.7 1432.0,1355.7 1430.5,1355.4 1429.0,1355.4 1427.5,1354.6 1426.0,1353.7 1424.5,1353.7 1423.0,1353.7 1421.5,1353.7 1420.0,1353.7 1418.5,1353.7 1417.0,1352.5 1415.5,1352.2 1414.0,1352.2 1412.5,1351.8 1411.0,1351.4 1409.5,1351.4 1408.0,1351.4 1406.5,1351.4 1405.0,1350.6 1403.5,1350.4 1402.0,1350.4 1400.5,1349.8 1399.0,1349.7 1397.5,1349.6 1396.0,1349.3 1394.5,1348.2 1393.0,1348.2 1391.5,1348.2 1390.0,1348.2 1388.5,1348.2 1387.0,1347.8 1385.5,1347.9 1384.0,1347.9 1382.5,1347.9 1381.0,1347.9 1379.5,1347.9 1378.0,1347.9 1376.5,1347.9 1375.0,1347.9 1373.5,1347.4 1372.0,1347.2 1370.5,1347.2 1369.0,1347.2 1367.5,1347.2 1366.0,1347.2 1364.5,1346.7 1363.0,1346.7 1361.5,1346.1 1360.0,1345.2 1358.5,1345.5 1357.0,1345.5 1355.5,1345.5 1354.0,1345.5 1352.5,1345.5 1351.0,1345.5 1349.5,1345.5 1348.0,1345.5 1346.5,1345.5 1345.0,1344.6 1343.5,1344.1 1342.0,1344.1 1340.5,1344.1 1339.0,1344.1 1337.5,1344.1 1336.0,1344.1 1334.5,1344.1 1333.0,1343.0 1331.5,1343.0 1330.0,1343.0 1328.5,1343.0 1327.0,1343.0 1325.5,1343.0 1324.0,1343.0 1322.5,1342.0 1321.0,1341.1 1319.5,1341.1 1318.0,1341.1 1316.5,1341.1 1315.0,1339.8 1313.5,1339.8 1312.0,1339.8 1310.5,1339.8 1309.0,1339.5 1307.5,1339.1 1306.0,1339.1 1304.5,1339.1 1303.0,1337.6 1301.5,1337.6 1300.0,1337.6 1298.5,1335.9 1297.0,1335.9 1295.5,1335.8 1294.0,1335.8 1292.5,1335.8 1291.0,1335.8 1289.5,1335.4 1288.0,1334.7 1286.5,1334.7 1285.0,1333.8 1283.5,1333.4 1282.0,1333.4 1280.5,1331.4 1279.0,1330.7 1277.5,1330.5 1276.0,1330.5 1274.5,1330.5 1273.0,1330.5 1271.5,1329.6 1270.0,1329.1 1268.5,1329.1 1267.0,1328.8 1265.5,1327.5 1264.0,1326.3 1262.5,1326.3 1261.0,1326.3 1259.5,1326.0 1258.0,1325.2 1256.5,1324.1 1255.0,1324.1 1253.5,1323.6 1252.0,1322.4 1250.5,1322.4 1249.0,1321.6 1247.5,1321.6 1246.0,1321.6 1244.5,1321.6 1243.0,1320.9 1241.5,1319.9 1240.0,1319.2 1238.5,1318.5 1237.0,1318.5 1235.5,1318.5 1234.0,1318.5 1232.5,1317.0 1231.0,1317.0 1229.5,1316.8 1228.0,1316.2 1226.5,1315.5 1225.0,1315.5 1223.5,1315.5 1222.0,1315.5 1220.5,1314.4 1219.0,1313.0 1217.5,1313.0 1216.0,1313.0 1214.5,1311.4 1213.0,1309.8 1211.5,1309.3 1210.0,1309.3 1208.5,1308.2 1207.0,1308.2 1205.5,1308.2 1204.0,1308.2 1202.5,1306.5 1201.0,1306.5 1199.5,1306.5 1198.0,1306.5 1196.5,1306.2 1195.0,1305.7 1193.5,1305.1 1192.0,1304.4 1190.5,1303.2 1189.0,1303.2 1187.5,1302.8 1186.0,1301.4 1184.5,1301.1 1183.0,1299.4 1181.5,1298.5 1180.0,1298.5 1178.5,1298.5 1177.0,1298.5 1175.5,1297.7 1174.0,1295.7 1172.5,1295.7 1171.0,1295.7 1169.5,1295.7 1168.0,1295.7 1166.5,1292.7 1165.0,1292.1 1163.5,1291.7 1162.0,1290.5 1160.5,1290.5 1159.0,1289.7 1157.5,1288.7 1156.0,1288.6 1154.5,1288.6 1153.0,1287.9 1151.5,1287.9 1150.0,1287.9 1148.5,1286.5 1147.0,1284.4 1145.5,1283.8 1144.0,1283.8 1142.5,1283.8 1141.0,1282.5 1139.5,1280.7 1138.0,1280.3 1136.5,1280.3 1135.0,1280.3 1133.5,1280.3 1132.0,1280.3 1130.5,1278.2 1129.0,1276.3 1127.5,1276.3 1126.0,1276.3 1124.5,1275.4 1123.0,1274.9 1121.5,1274.0 1120.0,1273.8 1118.5,1273.8 1117.0,1271.9 1115.5,1270.0 1114.0,1269.9 1112.5,1269.5 1111.0,1269.5 1109.5,1268.6 1108.0,1267.3 1106.5,1267.3 1105.0,1267.0 1103.5,1266.0 1102.0,1263.9 1100.5,1262.1 1099.0,1262.0 1097.5,1261.3 1096.0,1260.2 1094.5,1260.2 1093.0,1260.2 1091.5,1259.0 1090.0,1255.4 1088.5,1255.2 1087.0,1254.8 1085.5,1254.8 1084.0,1254.8 1082.5,1254.4 1081.0,1254.2 1079.5,1253.3 1078.0,1250.5 1076.5,1250.4 1075.0,1250.4 1073.5,1250.2 1072.0,1249.8 1070.5,1248.5 1069.0,1246.2 1067.5,1245.1 1066.0,1245.1 1064.5,1245.1 1063.0,1242.9 1061.5,1241.7 1060.0,1241.7 1058.5,1241.7 1057.0,1241.0 1055.5,1239.9 1054.0,1238.5 1052.5,1237.4 1051.0,1236.3 1049.5,1235.2 1048.0,1234.2 1046.5,1233.8 1045.0,1231.7 1043.5,1231.3 1042.0,1231.3 1040.5,1228.4 1039.0,1227.0 1037.5,1226.5 1036.0,1226.2 1034.5,1223.7 1033.0,1222.5 1031.5,1222.0 1030.0,1221.7 1028.5,1220.8 1027.0,1218.3 1025.5,1215.7 1024.0,1214.9 1022.5,1214.9 1021.0,1213.5 1019.5,1211.6 1018.0,1210.2 1016.5,1208.3 1015.0,1208.2 1013.5,1207.2 1012.0,1205.1 1010.5,1205.1 1009.0,1203.9 1007.5,1201.7 1006.0,1200.3 1004.5,1200.3 1003.0,1198.6 1001.5,1197.3 1000.0,1197.3 998.5,1193.3 997.0,1193.1 995.5,1191.9 994.0,1188.5 992.5,1188.5 991.0,1188.5 989.5,1187.4 988.0,1184.5 986.5,1184.5 985.0,1182.2 983.5,1180.1 982.0,1180.1 980.5,1179.4 979.0,1177.7 977.5,1176.0 976.0,1174.9 974.5,1173.7 973.0,1171.4 971.5,1168.4 970.0,1165.4 968.5,1164.5 967.0,1163.4 965.5,1162.1 964.0,1160.5 962.5,1160.5 961.0,1159.6 959.5,1158.0 958.0,1155.8 956.5,1151.5 955.0,1150.8 953.5,1150.4 952.0,1149.1 950.5,1145.4 949.0,1143.2 947.5,1141.4 946.0,1139.1 944.5,1137.6 943.0,1135.0 941.5,1132.0 940.0,1129.3 938.5,1128.0 937.0,1126.3 935.5,1124.1 934.0,1121.2 932.5,1120.6 931.0,1118.8 929.5,1116.0 928.0,1112.4 926.5,1110.5 925.0,1107.4 923.5,1104.0 922.0,1101.5 920.5,1100.3 919.0,1098.5 917.5,1095.4 916.0,1090.1 914.5,1087.8 913.0,1085.4 911.5,1083.3 910.0,1081.6 908.5,1077.4 907.0,1075.8 905.5,1074.1 904.0,1069.6 902.5,1065.7 901.0,1063.6 899.5,1061.7 898.0,1058.1 896.5,1056.7 895.0,1053.4 893.5,1049.7 892.0,1046.6 890.5,1042.2 889.0,1041.5 887.5,1039.5 886.0,1033.7 884.5,1033.2 883.0,1029.1 881.5,1024.4 880.0,1022.3 878.5,1018.5 877.0,1016.0 875.5,1013.1 874.0,1008.7 872.5,1008.7 871.0,1005.2 869.5,1001.4 868.0,1000.6 866.5,997.3 865.0,992.8 863.5,987.8 862.0,983.3 860.5,981.1 859.0,979.7 857.5,977.5 856.0,973.0 854.5,971.6 853.0,966.9 851.5,961.8 850.0,959.8 848.5,956.0 847.0,954.3 845.5,951.9 844.0,946.0 842.5,943.4 841.0,940.2 839.5,936.5 838.0,932.1 836.5,932.1 835.0,928.4 833.5,923.8 832.0,921.2 830.5,917.1 829.0,914.1 827.5,912.0 826.0,910.4 824.5,904.4 823.0,899.6 821.5,895.7 820.0,892.1 818.5,889.1 817.0,885.3 815.5,882.2 814.0,880.9 812.5,879.0 811.0,873.3 809.5,867.8 808.0,866.3 806.5,860.9 805.0,858.6 803.5,856.2 802.0,850.8 800.5,845.5 799.0,841.3 797.5,836.9 796.0,831.1 794.5,828.1 793.0,824.6 791.5,819.6 790.0,811.9 788.5,808.0 787.0,803.4 785.5,799.1 784.0,796.0 782.5,783.3 781.0,780.0 779.5,776.9 778.0,775.2 776.5,773.8 775.0,772.0 773.5,768.4 772.0,765.4 770.5,765.4 769.0,762.7 767.5,758.8 766.0,755.3 764.5,748.1 763.0,742.3 761.5,737.0 760.0,733.1 758.5,733.1 757.0,733.1 755.5,732.0 754.0,728.9 752.5,718.6 751.0,717.6 749.5,717.6 748.0,717.6 746.5,714.6 745.0,709.8 743.5,709.6 742.0,709.6 740.5,700.0 739.0,696.4 737.5,695.4 736.0,693.3 734.5,683.7 733.0,679.7 731.5,676.7 730.0,670.0 728.5,667.5 727.0,664.6 725.5,660.4 724.0,656.4 722.5,656.4 721.0,650.9 719.5,643.3 718.0,636.9 716.5,636.2 715.0,628.8 713.5,624.2 712.0,624.2 710.5,613.0 709.0,607.0 707.5,604.7 706.0,604.4 704.5,595.1 703.0,593.4 701.5,591.1 700.0,584.1 698.5,579.4 697.0,569.1 695.5,565.4 694.0,565.4 692.5,558.2 691.0,546.6 689.5,535.8 688.0,530.8 686.5,523.6 685.0,523.1 683.5,520.6 682.0,512.9 680.5,508.5 679.0,499.9 677.5,491.3 676.0,486.8 674.5,478.8 673.0,469.4 671.5,465.7 670.0,465.7 668.5,456.7 667.0,447.6 665.5,440.3 664.0,436.8 662.5,430.6 661.0,426.4 659.5,426.4 658.0,426.4 656.5,418.7 655.0,412.1 653.5,407.0 652.0,403.5 650.5,393.1 649.0,384.2 647.5,375.8 646.0,367.0 644.5,361.5 643.0,359.4 641.5,356.5 640.0,348.2 638.5,341.1 637.0,334.2 635.5,327.3 634.0,320.2 632.5,310.5 631.0,306.2 629.5,302.7 628.0,308.3 626.5,312.6 625.0,319.6 623.5,330.3 622.0,343.1 620.5,356.7 619.0,367.5 617.5,371.9 616.0,376.1 614.5,386.4 613.0,398.6 611.5,412.0 610.0,424.6 608.5,434.3 607.0,450.3 605.5,462.7 604.0,474.5 602.5,489.0 601.0,495.5 599.5,511.4 598.0,529.4 596.5,542.1 595.0,560.4 593.5,574.9 592.0,589.8 590.5,609.0 589.0,624.0 587.5,640.9 586.0,658.3 584.5,674.8 583.0,689.7 581.5,706.9 580.0,726.7 578.5,749.5 577.0,771.2 575.5,795.2 574.0,821.8 572.5,851.1 571.0,878.9 569.5,902.7 568.0,927.5 566.5,958.0 565.0,985.1 563.5,1011.7 562.0,1038.4 560.5,1063.9 559.0,1088.3 557.5,1110.9 556.0,1132.8 554.5,1153.7 553.0,1175.7 551.5,1193.0 550.0,1207.5 548.5,1220.6 547.0,1233.8 545.5,1249.1 544.0,1263.9 542.5,1276.0 541.0,1285.5 539.5,1296.3 538.0,1306.8 536.5,1315.1 535.0,1323.5 533.5,1330.7 532.0,1337.2 530.5,1343.4 529.0,1348.6 527.5,1354.1 526.0,1359.2 524.5,1363.0 523.0,1366.8 521.5,1369.9 520.0,1372.6 518.5,1375.5 517.0,1377.8 515.5,1380.2 514.0,1381.9 512.5,1382.3 511.0,1383.7 509.5,1385.5 508.0,1386.9 506.5,1387.1 505.0,1388.4 503.5,1389.2 502.0,1390.2 500.5,1391.7 499.0,1392.5 497.5,1392.8 496.0,1393.0 494.5,1393.3 493.0,1394.3 491.5,1395.0 490.0,1395.5 488.5,1395.5 487.0,1396.6 485.5,1397.0 484.0,1397.2 482.5,1397.7 481.0,1398.1 479.5,1398.6 478.0,1399.1 476.5,1399.5 475.0,1399.6 473.5,1399.8 472.0,1400.0 470.5,1400.1 469.0,1400.2 467.5,1400.2 466.0,1400.3 464.5,1400.9 463.0,1400.9 461.5,1400.9 460.0,1400.9 458.5,1401.1 457.0,1401.1 455.5,1401.1 454.0,1401.1 452.5,1401.1 451.0,1401.1 449.5,1401.1 448.0,1401.2 446.5,1401.2 445.0,1401.3 443.5,1401.4 442.0,1401.4 440.5,1401.4 439.0,1401.4 437.5,1401.4 436.0,1401.4 434.5,1401.4 433.0,1401.4 431.5,1401.3 430.0,1401.3 428.5,1401.3 427.0,1401.3 425.5,1401.2 424.0,1401.2 422.5,1401.2 421.0,1401.2 419.5,1401.2 418.0,1401.3 416.5,1401.3 415.0,1401.3 413.5,1401.3 412.0,1401.3 410.5,1401.3 409.0,1401.3 407.5,1401.3 406.0,1401.3 404.5,1401.3 403.0,1401.3 401.5,1401.3 400.0,1401.3 398.5,1401.3 397.0,1401.3 395.5,1401.3 394.0,1401.3 392.5,1401.3 391.0,1401.3 389.5,1401.3 388.0,1401.3 386.5,1401.3 385.0,1401.3 383.5,1401.4 382.0,1401.4 380.5,1401.4 379.0,1401.4 377.5,1401.4 376.0,1401.4 374.5,1401.4 373.0,1401.4 371.5,1401.3 370.0,1401.3 368.5,1401.3 367.0,1401.3 365.5,1401.4 364.0,1401.4 362.5,1401.4 361.0,1401.4 359.5,1401.4 358.0,1401.4 356.5,1401.4 355.0,1401.4 353.5,1401.3 352.0,1401.1 350.5,1401.1 349.0,1401.1 347.5,1401.1 346.0,1401.1 344.5,1401.2 343.0,1401.2 341.5,1401.2 340.0,1401.2 338.5,1401.3 337.0,1401.3 335.5,1401.3 334.0,1401.3 332.5,1401.3 331.0,1401.3 329.5,1401.3 328.0,1401.3"/>
<polygon fill="#0000ff" points="328.0,1389.6 329.5,1389.6 331.0,1389.6 332.5,1389.6 334.0,1389.6 335.5,1389.6 337.0,1389.6 338.5,1389.6 340.0,1389.6 341.5,1389.6 343.0,1389.6 344.5,1389.6 346.0,1389.6 347.5,1389.6 349.0,1389.6 350.5,1389.6 352.0,1389.6 353.5,1389.7 355.0,1389.8 356.5,1389.8 358.0,1389.8 359.5,1389.8 361.0,1389.6 362.5,1389.5 364.0,1389.5 365.5,1389.5 367.0,1389.5 368.5,1389.5 370.0,1389.5 371.5,1389.5 373.0,1389.5 374.5,1389.5 376.0,1389.8 377.5,1389.7 379.0,1389.5 380.5,1389.5 382.0,1389.5 383.5,1389.5 385.0,1389.5 386.5,1389.5 388.0,1389.5 389.5,1389.5 391.0,1389.6 392.5,1389.6 394.0,1389.6 395.5,1389.6 397.0,1389.7 398.5,1389.7 400.0,1389.7 401.5,1389.7 403.0,1389.7 404.5,1389.7 406.0,1389.7 407.5,1389.7 409.0,1389.7 410.5,1389.7 412.0,1389.7 413.5,1389.9 415.0,1389.9 416.5,1389.6 418.0,1389.6 419.5,1389.6 421.0,1389.6 422.5,1389.6 424.0,1389.6 425.5,1389.6 427.0,1389.6 428.5,1389.6 430.0,1389.6 431.5,1389.6 433.0,1389.6 434.5,1389.6 436.0,1389.6 437.5,1389.8 439.0,1389.8 440.5,1389.7 442.0,1389.7 443.5,1389.7 445.0,1389.7 446.5,1389.7 448.0,1389.7 449.5,1389.7 451.0,1389.7 452.5,1389.3 454.0,1389.3 455.5,1389.2 457.0,1388.9 458.5,1388.9 460.0,1388.9 461.5,1388.8 463.0,1388.7 464.5,1388.5 466.0,1388.0 467.5,1387.6 469.0,1386.8 470.5,1386.0 472.0,1385.8 473.5,1385.1 475.0,1384.7 476.5,1384.3 478.0,1383.8 479.5,1383.8 481.0,1383.2 482.5,1382.2 484.0,1381.8 485.5,1381.4 487.0,1381.1 488.5,1380.7 490.0,1380.1 491.5,1378.9 493.0,1377.5 494.5,1376.2 496.0,1375.5 497.5,1374.6 499.0,1372.8 500.5,1371.1 502.0,1370.6 503.5,1368.4 505.0,1366.5 506.5,1364.7 508.0,1362.4 509.5,1359.4 511.0,1355.9 512.5,1352.0 514.0,1347.9 515.5,1342.6 517.0,1338.1 518.5,1332.9 520.0,1325.5 521.5,1319.9 523.0,1313.1 524.5,1305.7 526.0,1297.8 527.5,1286.7 529.0,1275.0 530.5,1263.8 532.0,1254.0 533.5,1240.5 535.0,1228.7 536.5,1216.6 538.0,1201.7 539.5,1187.5 541.0,1173.6 542.5,1157.2 544.0,1135.7 545.5,1114.8 547.0,1093.1 548.5,1070.9 550.0,1047.6 551.5,1020.7 553.0,996.4 554.5,974.0 556.0,951.1 557.5,924.0 559.0,899.0 560.5,875.3 562.0,852.3 563.5,827.1 565.0,801.9 566.5,777.4 568.0,754.6 569.5,732.8 571.0,710.0 572.5,689.1 574.0,672.9 575.5,654.8 577.0,637.4 578.5,621.3 580.0,607.2 581.5,588.6 583.0,572.9 584.5,557.9 586.0,541.5 587.5,521.9 589.0,507.4 590.5,495.0 592.0,481.3 593.5,471.6 595.0,457.0 596.5,441.8 598.0,430.6 599.5,421.5 601.0,409.6 602.5,397.8 604.0,388.7 605.5,375.0 607.0,363.6 608.5,355.8 610.0,353.2 611.5,336.4 613.0,321.1 614.5,307.8 616.0,298.5 617.5,290.4 619.0,283.7 620.5,279.8 622.0,279.7 623.5,279.7 625.0,279.7 626.5,278.2 628.0,278.2 629.5,278.2 631.0,278.2 632.5,278.2 634.0,278.2 635.5,278.2 637.0,278.2 638.5,278.2 640.0,283.2 641.5,288.6 643.0,294.3 644.5,298.9 646.0,298.9 647.5,298.9 649.0,301.2 650.5,308.1 652.0,309.1 653.5,309.1 655.0,312.0 656.5,318.5 658.0,318.5 659.5,325.0 661.0,331.1 662.5,331.1 664.0,331.1 665.5,331.1 667.0,332.4 668.5,336.4 670.0,344.2 671.5,353.0 673.0,354.6 674.5,354.6 676.0,364.2 677.5,368.2 679.0,369.9 680.5,372.7 682.0,382.6 683.5,385.4 685.0,387.1 686.5,392.1 688.0,401.0 689.5,404.4 691.0,407.2 692.5,413.5 694.0,413.5 695.5,413.5 697.0,415.7 698.5,422.4 700.0,430.9 701.5,433.4 703.0,434.3 704.5,434.3 706.0,434.3 707.5,439.5 709.0,447.7 710.5,456.6 712.0,459.6 713.5,462.3 715.0,465.7 716.5,470.9 718.0,477.2 719.5,480.4 721.0,482.2 722.5,484.3 724.0,488.1 725.5,492.4 727.0,494.3 728.5,494.3 730.0,501.2 731.5,505.0 733.0,507.9 734.5,507.9 736.0,507.9 737.5,507.9 739.0,510.6 740.5,518.8 742.0,524.8 743.5,526.6 745.0,527.4 746.5,529.0 748.0,529.0 749.5,530.3 751.0,533.7 752.5,533.7 754.0,533.7 755.5,541.2 757.0,548.3 758.5,548.3 760.0,548.3 761.5,548.3 763.0,549.2 764.5,551.8 766.0,563.4 767.5,564.1 769.0,564.6 770.5,566.1 772.0,570.1 773.5,574.7 775.0,574.7 776.5,574.7 778.0,580.6 779.5,584.3 781.0,584.3 782.5,584.3 784.0,584.3 785.5,591.5 787.0,596.3 788.5,596.3 790.0,598.6 791.5,601.8 793.0,603.4 794.5,603.4 796.0,641.4 797.5,641.4 799.0,643.0 800.5,647.3 802.0,647.3 803.5,651.3 805.0,656.8 806.5,661.5 808.0,661.5 809.5,661.5 811.0,663.7 812.5,670.2 814.0,674.0 815.5,674.0 817.0,675.5 818.5,680.1 820.0,685.3 821.5,689.2 823.0,691.7 824.5,692.6 826.0,697.0 827.5,700.6 829.0,703.1 830.5,704.0 832.0,709.2 833.5,712.7 835.0,715.8 836.5,719.9 838.0,721.7 839.5,723.7 841.0,726.3 842.5,730.2 844.0,736.6 845.5,736.6 847.0,737.6 848.5,740.6 850.0,742.9 851.5,749.8 853.0,757.3 854.5,759.3 856.0,759.3 857.5,761.7 859.0,765.2 860.5,768.5 862.0,775.0 863.5,779.2 865.0,783.3 866.5,789.1 868.0,789.1 869.5,794.6 871.0,800.3 872.5,801.1 874.0,806.7 875.5,810.6 877.0,813.7 878.5,817.1 880.0,817.1 881.5,819.2 883.0,822.0 884.5,823.9 886.0,823.9 887.5,826.7 889.0,831.1 890.5,834.4 892.0,834.4 893.5,834.4 895.0,836.6 896.5,843.0 898.0,843.4 899.5,844.5 901.0,846.4 902.5,849.1 904.0,856.0 905.5,860.9 907.0,863.5 908.5,863.7 910.0,865.8 911.5,869.1 913.0,873.3 914.5,878.3 916.0,880.3 917.5,880.3 919.0,881.6 920.5,885.7 922.0,892.7 923.5,895.7 925.0,897.6 926.5,901.7 928.0,905.5 929.5,908.2 931.0,910.9 932.5,914.5 934.0,916.3 935.5,917.7 937.0,919.3 938.5,921.9 940.0,927.9 941.5,927.9 943.0,930.1 944.5,936.6 946.0,939.7 947.5,939.7 949.0,940.2 950.5,941.5 952.0,945.7 953.5,948.3 955.0,950.5 956.5,953.4 958.0,955.3 959.5,959.0 961.0,959.0 962.5,959.0 964.0,963.7 965.5,963.7 967.0,965.9 968.5,970.8 970.0,970.8 971.5,973.3 973.0,973.3 974.5,973.3 976.0,977.5 977.5,981.0 979.0,983.5 980.5,984.9 982.0,986.1 983.5,986.1 985.0,987.1 986.5,990.2 988.0,992.1 989.5,992.1 991.0,994.1 992.5,999.4 994.0,999.4 995.5,999.9 997.0,1001.0 998.5,1002.6 1000.0,1005.9 1001.5,1005.9 1003.0,1006.9 1004.5,1009.6 1006.0,1011.7 1007.5,1013.3 1009.0,1015.7 1010.5,1019.9 1012.0,1020.9 1013.5,1023.4 1015.0,1025.8 1016.5,1025.8 1018.0,1025.8 1019.5,1027.0 1021.0,1028.3 1022.5,1028.9 1024.0,1031.1 1025.5,1034.1 1027.0,1037.1 1028.5,1038.3 1030.0,1038.3 1031.5,1039.5 1033.0,1041.9 1034.5,1044.4 1036.0,1044.4 1037.5,1044.4 1039.0,1044.9 1040.5,1046.1 1042.0,1050.9 1043.5,1052.5 1045.0,1052.8 1046.5,1053.7 1048.0,1056.0 1049.5,1056.3 1051.0,1056.3 1052.5,1056.3 1054.0,1061.9 1055.5,1063.3 1057.0,1063.3 1058.5,1063.3 1060.0,1064.8 1061.5,1065.4 1063.0,1066.4 1064.5,1068.1 1066.0,1068.1 1067.5,1070.0 1069.0,1072.8 1070.5,1074.6 1072.0,1074.6 1073.5,1075.5 1075.0,1075.5 1076.5,1075.5 1078.0,1078.2 1079.5,1078.2 1081.0,1078.7 1082.5,1080.3 1084.0,1083.9 1085.5,1083.9 1087.0,1084.0 1088.5,1084.3 1090.0,1085.3 1091.5,1088.3 1093.0,1088.3 1094.5,1088.3 1096.0,1089.6 1097.5,1093.7 1099.0,1096.8 1100.5,1096.8 1102.0,1096.8 1103.5,1097.0 1105.0,1098.6 1106.5,1103.0 1108.0,1103.8 1109.5,1104.4 1111.0,1105.0 1112.5,1105.5 1114.0,1106.6 1115.5,1108.8 1117.0,1108.8 1118.5,1108.8 1120.0,1108.8 1121.5,1109.5 1123.0,1111.4 1124.5,1115.0 1126.0,1116.8 1127.5,1117.8 1129.0,1118.7 1130.5,1119.1 1132.0,1119.1 1133.5,1120.1 1135.0,1121.3 1136.5,1121.9 1138.0,1123.5 1139.5,1124.4 1141.0,1126.1 1142.5,1127.0 1144.0,1127.0 1145.5,1127.9 1147.0,1129.9 1148.5,1132.8 1150.0,1132.8 1151.5,1133.4 1153.0,1135.3 1154.5,1137.5 1156.0,1137.5 1157.5,1137.5 1159.0,1137.8 1160.5,1138.5 1162.0,1141.1 1163.5,1142.9 1165.0,1143.9 1166.5,1143.9 1168.0,1146.1 1169.5,1147.8 1171.0,1148.9 1172.5,1148.9 1174.0,1148.9 1175.5,1150.6 1177.0,1150.6 1178.5,1150.6 1180.0,1151.7 1181.5,1152.7 1183.0,1153.8 1184.5,1155.1 1186.0,1159.0 1187.5,1159.3 1189.0,1159.8 1190.5,1161.3 1192.0,1162.1 1193.5,1162.3 1195.0,1162.4 1196.5,1162.7 1198.0,1164.3 1199.5,1167.4 1201.0,1168.3 1202.5,1168.3 1204.0,1169.6 1205.5,1170.3 1207.0,1171.5 1208.5,1174.5 1210.0,1174.9 1211.5,1174.9 1213.0,1175.4 1214.5,1176.8 1216.0,1177.3 1217.5,1178.5 1219.0,1180.0 1220.5,1181.0 1222.0,1181.8 1223.5,1182.6 1225.0,1182.6 1226.5,1182.6 1228.0,1182.6 1229.5,1184.1 1231.0,1184.9 1232.5,1184.9 1234.0,1187.2 1235.5,1189.7 1237.0,1190.9 1238.5,1190.9 1240.0,1190.9 1241.5,1190.9 1243.0,1192.2 1244.5,1195.5 1246.0,1195.5 1247.5,1195.5 1249.0,1196.3 1250.5,1196.3 1252.0,1196.3 1253.5,1197.3 1255.0,1199.4 1256.5,1199.8 1258.0,1199.8 1259.5,1200.7 1261.0,1202.3 1262.5,1204.7 1264.0,1205.8 1265.5,1205.8 1267.0,1205.8 1268.5,1205.8 1270.0,1207.6 1271.5,1210.0 1273.0,1211.0 1274.5,1211.0 1276.0,1211.3 1277.5,1211.4 1279.0,1212.1 1280.5,1214.0 1282.0,1215.0 1283.5,1215.0 1285.0,1216.0 1286.5,1218.8 1288.0,1220.3 1289.5,1220.3 1291.0,1220.3 1292.5,1220.3 1294.0,1221.3 1295.5,1221.3 1297.0,1222.1 1298.5,1224.0 1300.0,1224.0 1301.5,1226.1 1303.0,1228.2 1304.5,1228.2 1306.0,1228.2 1307.5,1228.2 1309.0,1228.9 1310.5,1230.6 1312.0,1230.6 1313.5,1230.6 1315.0,1231.0 1316.5,1231.0 1318.0,1231.0 1319.5,1231.2 1321.0,1232.3 1322.5,1232.3 1324.0,1232.3 1325.5,1233.6 1327.0,1233.6 1328.5,1233.6 1330.0,1236.2 1331.5,1236.8 1333.0,1236.8 1334.5,1236.8 1336.0,1236.8 1337.5,1237.0 1339.0,1237.1 1340.5,1237.1 1342.0,1237.1 1343.5,1237.1 1345.0,1237.1 1346.5,1237.1 1348.0,1237.5 1349.5,1237.5 1351.0,1237.8 1352.5,1238.7 1354.0,1239.1 1355.5,1239.1 1357.0,1239.1 1358.5,1239.1 1360.0,1239.1 1361.5,1240.1 1363.0,1241.6 1364.5,1241.6 1366.0,1241.6 1367.5,1241.6 1369.0,1241.6 1370.5,1241.6 1372.0,1241.6 1373.5,1241.6 1375.0,1242.2 1376.5,1242.2 1378.0,1242.2 1379.5,1238.4 1381.0,1238.4 1382.5,1238.4 1384.0,1238.4 1385.5,1238.4 1387.0,1238.4 1388.5,1238.4 1390.0,1238.4 1391.5,1239.0 1393.0,1239.4 1394.5,1239.4 1396.0,1239.4 1397.5,1241.6 1399.0,1241.6 1400.5,1241.6 1402.0,1242.0 1403.5,1242.8 1405.0,1242.8 1406.5,1242.8 1408.0,1244.6 1409.5,1244.6 1411.0,1244.8 1412.5,1245.1 1414.0,1249.0 1415.5,1249.0 1417.0,1249.4 1418.5,1249.4 1420.0,1249.4 1421.5,1249.4 1423.0,1249.4 1424.5,1249.4 1426.0,1251.2 1427.5,1251.2 1429.0,1251.3 1430.5,1251.7 1432.0,1254.9 1433.5,1254.9 1435.0,1255.7 1436.5,1257.7 1438.0,1257.7 1439.5,1258.7 1441.0,1259.8 1442.5,1259.9 1444.0,1260.7 1445.5,1260.7 1447.0,1261.4 1448.5,1263.4 1450.0,1263.6 1451.5,1263.6 1453.0,1263.7 1454.5,1264.0 1456.0,1264.3 1457.5,1264.6 1459.0,1264.6 1460.5,1264.6 1462.0,1266.1 1463.5,1267.3 1465.0,1267.3 1466.5,1267.3 1468.0,1267.4 1469.5,1267.6 1471.0,1268.7 1472.5,1271.3 1474.0,1271.3 1475.5,1271.3 1477.0,1271.3 1478.5,1271.3 1480.0,1271.3 1481.5,1271.3 1483.0,1272.5 1484.5,1274.2 1486.0,1274.2 1487.5,1274.2 1489.0,1274.2 1490.5,1274.2 1492.0,1275.7 1493.5,1275.7 1495.0,1276.8 1496.5,1279.3 1498.0,1279.3 1499.5,1279.3 1501.0,1279.3 1502.5,1279.3 1504.0,1279.3 1505.5,1279.9 1507.0,1279.9 1508.5,1279.9 1510.0,1281.1 1511.5,1281.9 1513.0,1282.2 1514.5,1282.3 1516.0,1283.1 1517.5,1283.1 1519.0,1283.2 1520.5,1283.5 1522.0,1285.1 1523.5,1287.6 1525.0,1287.6 1526.5,1287.6 1528.0,1287.6 1529.5,1287.6 1531.0,1287.6 1532.5,1287.8 1534.0,1289.4 1535.5,1290.8 1537.0,1292.1 1538.5,1292.1 1540.0,1292.1 1541.5,1293.3 1543.0,1294.1 1544.5,1294.1 1546.0,1294.1 1547.5,1294.1 1549.0,1294.4 1550.5,1294.6 1552.0,1294.6 1553.5,1295.5 1555.0,1295.5 1556.5,1295.5 1558.0,1297.4 1559.5,1297.4 1561.0,1297.9 1562.5,1298.7 1564.0,1298.7 1565.5,1298.7 1567.0,1299.3 1568.5,1301.3 1570.0,1301.9 1571.5,1301.9 1573.0,1301.9 1574.5,1301.9 1576.0,1303.6 1577.5,1303.6 1579.0,1303.6 1580.5,1303.6 1582.0,1305.3 1583.5,1306.5 1585.0,1306.5 1586.5,1306.5 1588.0,1306.9 1589.5,1306.9 1591.0,1306.9 1592.5,1306.9 1594.0,1308.0 1595.5,1308.8 1597.0,1309.7 1598.5,1310.2 1600.0,1310.2 1601.5,1310.2 1603.0,1310.2 1604.5,1310.2 1606.0,1311.3 1607.5,1311.6 1609.0,1312.4 1610.5,1313.7 1612.0,1313.7 1613.5,1313.7 1615.0,1313.7 1616.5,1313.7 1618.0,1313.7 1619.5,1313.7 1621.0,1314.2 1622.5,1315.8 1624.0,1316.5 1625.5,1316.5 1627.0,1316.5 1628.5,1316.5 1630.0,1316.5 1631.5,1316.8 1633.0,1316.8 1634.5,1316.8 1636.0,1318.4 1637.5,1318.4 1639.0,1318.4 1640.5,1318.4 1642.0,1318.9 1643.5,1320.4 1645.0,1320.4 1646.5,1320.4 1648.0,1320.4 1649.5,1321.4 1651.0,1321.4 1652.5,1321.4 1654.0,1321.4 1655.5,1321.4 1657.0,1321.6 1658.5,1322.2 1660.0,1323.2 1661.5,1323.2 1663.0,1323.3 1664.5,1323.5 1666.0,1324.0 1667.5,1324.0 1669.0,1324.0 1670.5,1324.0 1672.0,1326.6 1673.5,1326.6 1675.0,1326.9 1676.5,1326.9 1678.0,1326.9 1679.5,1326.9 1681.0,1326.9 1682.5,1326.9 1684.0,1327.4 1685.5,1328.3 1687.0,1328.7 1688.5,1328.7 1690.0,1328.7 1691.5,1328.7 1693.0,1328.7 1694.5,1328.7 1696.0,1330.3 1697.5,1331.6 1699.0,1331.6 1700.5,1331.6 1702.0,1331.6 1703.5,1331.8 1705.0,1331.8 1706.5,1331.8 1708.0,1331.8 1709.5,1331.8 1711.0,1332.6 1712.5,1334.0 1714.0,1334.0 1715.5,1334.0 1717.0,1334.0 1718.5,1334.0 1720.0,1334.0 1721.5,1334.0 1723.0,1334.0 1724.5,1334.0 1726.0,1335.1 1727.5,1335.1 1729.0,1335.1 1730.5,1335.1 1732.0,1335.5 1733.5,1335.5 1735.0,1336.0 1736.5,1337.6 1738.0,1338.2 1739.5,1338.4 1741.0,1338.6 1742.5,1338.6 1744.0,1338.6 1745.5,1338.6 1747.0,1338.6 1748.5,1338.6 1750.0,1338.6 1751.5,1338.6 1753.0,1338.7 1754.5,1339.0 1756.0,1340.0 1757.5,1340.0 1759.0,1340.3 1760.5,1341.1 1762.0,1341.4 1763.5,1341.4 1765.0,1341.4 1766.5,1341.4 1768.0,1341.7 1769.5,1341.7 1771.0,1342.2 1772.5,1342.6 1774.0,1342.6 1775.5,1342.6 1777.0,1342.8 1778.5,1343.3 1780.0,1343.3 1781.5,1344.3 1783.0,1344.5 1784.5,1344.5 1786.0,1345.1 1787.5,1345.1 1789.0,1345.5 1790.5,1346.6 1792.0,1346.6 1793.5,1346.6 1795.0,1346.6 1796.5,1346.6 1798.0,1346.6 1799.5,1346.6 1801.0,1346.6 1802.5,1346.6 1804.0,1347.6 1805.5,1348.7 1807.0,1348.7 1808.5,1348.7 1810.0,1348.7 1811.5,1348.7 1813.0,1349.2 1814.5,1349.9 1816.0,1349.9 1817.5,1349.9 1819.0,1349.9 1820.5,1349.9 1822.0,1350.9 1823.5,1351.9 1825.0,1351.9 1826.5,1351.9 1828.0,1352.0 1829.5,1352.0 1831.0,1352.0 1832.5,1352.0 1834.0,1352.8 1835.5,1353.9 1837.0,1353.9 1838.5,1353.9 1840.0,1353.9 1841.5,1354.4 1843.0,1354.4 1844.5,1354.4 1846.0,1354.4 1847.5,1354.4 1849.0,1354.6 1850.5,1355.0 1852.0,1355.9 1853.5,1355.9 1855.0,1356.4 1856.5,1356.5 1858.0,1356.5 1859.5,1356.5 1861.0,1356.5 1862.5,1356.5 1864.0,1357.7 1865.5,1357.7 1867.0,1357.7 1868.5,1357.7 1870.0,1357.7 1871.5,1357.7 1873.0,1358.4 1874.5,1359.1 1876.0,1359.1 1877.5,1359.1 1879.0,1359.1 1880.5,1359.1 1882.0,1359.1 1883.5,1359.8 1885.0,1359.8 1886.5,1359.8 1888.0,1360.1 1889.5,1360.8 1891.0,1361.0 1892.5,1361.0 1894.0,1361.3 1895.5,1361.3 1897.0,1361.7 1898.5,1362.7 1900.0,1362.8 1901.5,1362.8 1903.0,1362.8 1904.5,1362.8 1906.0,1362.8 1907.5,1363.3 1909.0,1363.8 1910.5,1364.1 1912.0,1364.2 1913.5,1364.2 1915.0,1364.2 1916.5,1364.2 1918.0,1364.2 1919.5,1364.3 1921.0,1364.3 1922.5,1364.3 1924.0,1364.3 1925.5,1364.6 1927.0,1364.9 1928.5,1364.9 1930.0,1365.5 1931.5,1365.5 1933.0,1365.5 1934.5,1365.5 1936.0,1366.3 1937.5,1366.4 1939.0,1366.4 1940.5,1366.4 1942.0,1366.4 1943.5,1366.4 1945.0,1366.4 1946.5,1366.5 1948.0,1367.7 1949.5,1368.0 1951.0,1368.1 1952.5,1368.4 1954.0,1368.4 1955.5,1368.4 1957.0,1368.6 1958.5,1369.0 1960.0,1369.0 1961.5,1369.0 1963.0,1369.0 1964.5,1369.1 1966.0,1369.1 1967.5,1369.1 1969.0,1369.2 1970.5,1369.2 1972.0,1369.2 1973.5,1369.2 1975.0,1369.2 1976.5,1369.2 1978.0,1369.5 1979.5,1369.5 1981.0,1369.7 1982.5,1370.3 1984.0,1370.4 1985.5,1370.4 1987.0,1370.4 1988.5,1370.4 1990.0,1370.4 1991.5,1370.4 1993.0,1370.6 1994.5,1371.1 1996.0,1371.6 1997.5,1371.6 1999.0,1371.6 2000.5,1371.6 2002.0,1371.6 2003.5,1371.6 2005.0,1371.6 2006.5,1371.6 2008.0,1371.6 2009.5,1371.6 2011.0,1371.7 2012.5,1371.9 2014.0,1372.0 2015.5,1372.1 2017.0,1372.1 2018.5,1372.1 2020.0,1372.6 2021.5,1372.6 2023.0,1372.8 2024.5,1373.2 2026.0,1373.2 2027.5,1373.2 2029.0,1373.2 2030.5,1373.2 2032.0,1373.4 2033.5,1373.6 2035.0,1373.6 2036.5,1373.6 2038.0,1373.6 2039.5,1373.6 2041.0,1373.6 2042.5,1373.6 2044.0,1374.1 2045.5,1374.1 2047.0,1374.1 2048.5,1374.1 2050.0,1374.1 2051.5,1374.8 2053.0,1374.8 2054.5,1374.8 2056.0,1374.9 2057.5,1374.9 2059.0,1375.2 2060.5,1375.3 2062.0,1375.3 2063.5,1375.3 2065.0,1375.4 2066.5,1375.6 2068.0,1375.7 2069.5,1375.7 2071.0,1375.7 2072.5,1375.7 2074.0,1375.7 2075.5,1375.7 2077.0,1376.1 2078.5,1376.6 2080.0,1376.6 2081.5,1376.6 2083.0,1376.9 2084.5,1377.1 2086.0,1377.1 2087.5,1377.1 2089.0,1377.1 2090.5,1377.1 2092.0,1377.7 2093.5,1377.7 2095.0,1377.7 2096.5,1377.7 2098.0,1377.7 2099.5,1378.3 2101.0,1378.3 2102.5,1378.3 2104.0,1378.3 2105.5,1378.3 2107.0,1378.3 2108.5,1378.3 2110.0,1378.3 2111.5,1378.3 2113.0,1378.7 2114.5,1378.7 2116.0,1378.7 2117.5,1378.9 2119.0,1379.1 2120.5,1379.1 2122.0,1379.2 2123.5,1379.2 2125.0,1379.2 2126.5,1379.2 2128.0,1379.2 2129.5,1379.3 2131.0,1379.3 2132.5,1379.3 2134.0,1379.3 2135.5,1379.3 2137.0,1379.3 2138.5,1379.3 2140.0,1379.5 2141.5,1379.5 2143.0,1379.8 2144.5,1379.8 2146.0,1379.8 2147.5,1379.8 2149.0,1379.9 2150.5,1380.0 2152.0,1380.1 2153.5,1380.1 2155.0,1380.1 2156.5,1380.1 2158.0,1380.1 2159.5,1380.1 2161.0,1380.1 2162.5,1380.1 2164.0,1380.1 2165.5,1380.4 2167.0,1380.3 2168.5,1380.3 2170.0,1380.3 2171.5,1380.3 2173.0,1380.3 2174.5,1380.3 2176.0,1380.3 2177.5,1380.3 2179.0,1380.4 2180.5,1380.4 2182.0,1380.5 2183.5,1380.5 2185.0,1380.7 2186.5,1380.9 2188.0,1380.9 2189.5,1380.9 2191.0,1380.9 2192.5,1380.9 2194.0,1380.9 2195.5,1380.9 2197.0,1380.9 2198.5,1380.9 2200.0,1381.0 2201.5,1381.0 2203.0,1381.0 2204.5,1381.0 2206.0,1381.0 2207.5,1381.0 2209.0,1381.1 2210.5,1381.1 2212.0,1381.1 2213.5,1381.1 2215.0,1381.1 2216.5,1381.1 2218.0,1381.3 2219.5,1381.3 2221.0,1381.3 2222.5,1381.3 2224.0,1381.3 2225.5,1381.3 2227.0,1381.3 2228.5,1381.3 2230.0,1381.3 2231.5,1381.3 2233.0,1381.4 2234.5,1381.7 2236.0,1381.7 2237.5,1382.0 2239.0,1382.1 2240.5,1382.1 2242.0,1382.1 2243.5,1382.1 2245.0,1382.2 2246.5,1382.4 2248.0,1382.4 2249.5,1382.4 2251.0,1382.3 2252.5,1382.3 2254.0,1382.3 2255.5,1382.3 2257.0,1382.3 2258.5,1382.3 2260.0,1382.3 2261.5,1382.3 2263.0,1382.3 2264.5,1382.3 2266.0,1382.3 2267.5,1382.3 2269.0,1382.5 2270.5,1382.5 2272.0,1382.5 2273.5,1382.7 2275.0,1382.9 2276.5,1382.8 2278.0,1382.8 2279.5,1382.7 2281.0,1382.4 2282.5,1382.4 2284.0,1382.4 2285.5,1382.4 2287.0,1382.4 2288.5,1382.4 2290.0,1382.4 2291.5,1382.4 2293.0,1382.4 2294.5,1382.4 2296.0,1382.6 2297.5,1382.6 2299.0,1382.7 2300.5,1382.7 2302.0,1382.7 2303.5,1382.7 2305.0,1382.7 2306.5,1382.7 2308.0,1382.7 2309.5,1382.7 2311.0,1382.7 2312.5,1382.7 2314.0,1382.7 2315.5,1382.9 2317.0,1382.9 2318.5,1382.9 2320.0,1382.9 2321.5,1383.0 2323.0,1383.0 2324.5,1383.0 2326.0,1383.0 2327.5,1383.1 2329.0,1383.1 2330.5,1383.1 2332.0,1383.1 2333.5,1383.1 2335.0,1383.3 2336.5,1383.5 2338.0,1383.5 2339.5,1383.5 2341.0,1383.5 2342.5,1383.5 2344.0,1383.5 2345.5,1383.5 2347.0,1383.5 2348.5,1383.5 2350.0,1383.5 2351.5,1383.5 2353.0,1383.5 2354.5,1383.5 2356.0,1383.5 2357.5,1383.5 2359.0,1383.5 2360.5,1383.5 2362.0,1383.5 2363.5,1383.5 2365.0,1383.5 2366.5,1383.5 2366.5,1395.5 2365.0,1395.5 2363.5,1395.6 2362.0,1395.6 2360.5,1395.6 2359.0,1395.6 2357.5,1395.6 2356.0,1395.6 2354.5,1395.6 2353.0,1395.6 2351.5,1395.6 2350.0,1395.6 2348.5,1395.6 2347.0,1395.4 2345.5,1395.4 2344.0,1395.4 2342.5,1395.4 2341.0,1395.4 2339.5,1395.4 2338.0,1395.4 2336.5,1395.1 2335.0,1395.1 2333.5,1395.0 2332.0,1395.0 2330.5,1395.0 2329.0,1395.0 2327.5,1395.0 2326.0,1395.0 2324.5,1395.0 2323.0,1394.7 2321.5,1394.7 2320.0,1394.7 2318.5,1394.7 2317.0,1394.7 2315.5,1394.7 2314.0,1394.7 2312.5,1394.8 2311.0,1394.8 2309.5,1394.8 2308.0,1394.8 2306.5,1394.8 2305.0,1394.8 2303.5,1394.8 2302.0,1394.8 2300.5,1394.8 2299.0,1394.7 2297.5,1394.7 2296.0,1394.7 2294.5,1394.7 2293.0,1394.7 2291.5,1394.7 2290.0,1394.7 2288.5,1394.7 2287.0,1394.5 2285.5,1394.5 2284.0,1394.5 2282.5,1394.5 2281.0,1394.5 2279.5,1394.5 2278.0,1394.5 2276.5,1394.2 2275.0,1394.2 2273.5,1394.2 2272.0,1394.2 2270.5,1394.2 2269.0,1394.2 2267.5,1394.2 2266.0,1394.2 2264.5,1394.2 2263.0,1394.2 2261.5,1394.2 2260.0,1394.2 2258.5,1394.2 2257.0,1394.1 2255.5,1394.1 2254.0,1394.1 2252.5,1394.1 2251.0,1394.1 2249.5,1394.1 2248.0,1394.1 2246.5,1394.1 2245.0,1394.1 2243.5,1394.1 2242.0,1394.1 2240.5,1393.8 2239.0,1393.6 2237.5,1393.6 2236.0,1393.6 2234.5,1393.6 2233.0,1393.5 2231.5,1393.5 2230.0,1393.5 2228.5,1393.4 2227.0,1393.4 2225.5,1393.2 2224.0,1393.2 2222.5,1393.2 2221.0,1393.2 2219.5,1393.2 2218.0,1393.2 2216.5,1393.2 2215.0,1393.2 2213.5,1393.1 2212.0,1393.1 2210.5,1393.1 2209.0,1393.1 2207.5,1393.1 2206.0,1393.3 2204.5,1393.3 2203.0,1393.3 2201.5,1393.3 2200.0,1393.3 2198.5,1393.3 2197.0,1393.3 2195.5,1393.3 2194.0,1393.3 2192.5,1393.3 2191.0,1393.2 2189.5,1393.2 2188.0,1393.2 2186.5,1392.9 2185.0,1392.9 2183.5,1392.9 2182.0,1392.9 2180.5,1392.9 2179.0,1392.7 2177.5,1392.6 2176.0,1392.6 2174.5,1392.3 2173.0,1392.3 2171.5,1392.3 2170.0,1392.3 2168.5,1392.4 2167.0,1392.4 2165.5,1392.4 2164.0,1392.4 2162.5,1392.4 2161.0,1392.4 2159.5,1392.4 2158.0,1392.4 2156.5,1392.4 2155.0,1392.4 2153.5,1392.1 2152.0,1392.1 2150.5,1392.1 2149.0,1392.0 2147.5,1392.0 2146.0,1392.0 2144.5,1392.0 2143.0,1392.0 2141.5,1391.9 2140.0,1391.8 2138.5,1391.8 2137.0,1391.8 2135.5,1391.8 2134.0,1391.8 2132.5,1391.6 2131.0,1391.6 2129.5,1391.6 2128.0,1391.6 2126.5,1391.6 2125.0,1391.6 2123.5,1391.6 2122.0,1391.6 2120.5,1391.5 2119.0,1391.5 2117.5,1391.2 2116.0,1391.2 2114.5,1391.2 2113.0,1391.0 2111.5,1391.0 2110.0,1391.0 2108.5,1391.0 2107.0,1391.0 2105.5,1391.0 2104.0,1391.0 2102.5,1391.0 2101.0,1390.2 2099.5,1390.0 2098.0,1390.0 2096.5,1390.0 2095.0,1390.0 2093.5,1390.0 2092.0,1390.0 2090.5,1390.0 2089.0,1390.0 2087.5,1389.7 2086.0,1389.6 2084.5,1389.6 2083.0,1389.6 2081.5,1389.4 2080.0,1389.1 2078.5,1389.1 2077.0,1389.1 2075.5,1389.1 2074.0,1389.1 2072.5,1389.1 2071.0,1388.5 2069.5,1388.5 2068.0,1388.5 2066.5,1388.4 2065.0,1388.2 2063.5,1388.2 2062.0,1388.2 2060.5,1387.7 2059.0,1387.2 2057.5,1387.2 2056.0,1387.2 2054.5,1387.2 2053.0,1387.2 2051.5,1387.2 2050.0,1387.2 2048.5,1387.2 2047.0,1386.7 2045.5,1386.7 2044.0,1386.7 2042.5,1386.7 2041.0,1386.7 2039.5,1386.5 2038.0,1386.5 2036.5,1386.5 2035.0,1386.5 2033.5,1386.4 2032.0,1386.2 2030.5,1385.1 2029.0,1385.1 2027.5,1385.1 2026.0,1385.3 2024.5,1385.3 2023.0,1385.3 2021.5,1385.3 2020.0,1385.3 2018.5,1385.3 2017.0,1385.3 2015.5,1385.3 2014.0,1385.3 2012.5,1385.1 2011.0,1385.1 2009.5,1385.1 2008.0,1385.1 2006.5,1384.4 2005.0,1384.4 2003.5,1384.4 2002.0,1384.4 2000.5,1384.4 1999.0,1384.4 1997.5,1384.4 1996.0,1384.4 1994.5,1383.9 1993.0,1383.6 1991.5,1383.6 1990.0,1383.6 1988.5,1383.6 1987.0,1383.1 1985.5,1383.1 1984.0,1383.1 1982.5,1382.4 1981.0,1382.4 1979.5,1382.4 1978.0,1382.4 1976.5,1382.3 1975.0,1382.1 1973.5,1381.9 1972.0,1381.6 1970.5,1381.6 1969.0,1381.6 1967.5,1381.6 1966.0,1381.6 1964.5,1381.3 1963.0,1381.3 1961.5,1381.3 1960.0,1381.3 1958.5,1381.3 1957.0,1381.3 1955.5,1381.3 1954.0,1381.3 1952.5,1380.4 1951.0,1380.3 1949.5,1380.3 1948.0,1380.3 1946.5,1380.3 1945.0,1380.2 1943.5,1380.2 1942.0,1380.2 1940.5,1379.7 1939.0,1379.3 1937.5,1379.1 1936.0,1379.1 1934.5,1378.9 1933.0,1378.9 1931.5,1378.9 1930.0,1378.9 1928.5,1378.1 1927.0,1378.1 1925.5,1377.9 1924.0,1377.6 1922.5,1376.9 1921.0,1376.9 1919.5,1376.9 1918.0,1376.9 1916.5,1376.4 1915.0,1376.4 1913.5,1376.4 1912.0,1376.4 1910.5,1376.4 1909.0,1376.4 1907.5,1376.1 1906.0,1376.0 1904.5,1376.0 1903.0,1376.0 1901.5,1376.0 1900.0,1376.0 1898.5,1375.4 1897.0,1375.0 1895.5,1375.0 1894.0,1375.0 1892.5,1375.0 1891.0,1375.0 1889.5,1374.8 1888.0,1374.3 1886.5,1373.8 1885.0,1373.3 1883.5,1373.3 1882.0,1373.3 1880.5,1372.6 1879.0,1372.6 1877.5,1372.6 1876.0,1372.6 1874.5,1372.6 1873.0,1372.6 1871.5,1372.0 1870.0,1371.9 1868.5,1371.9 1867.0,1371.7 1865.5,1371.3 1864.0,1371.3 1862.5,1371.3 1861.0,1370.4 1859.5,1370.4 1858.0,1370.4 1856.5,1370.3 1855.0,1370.3 1853.5,1370.2 1852.0,1370.2 1850.5,1369.4 1849.0,1369.4 1847.5,1369.2 1846.0,1368.6 1844.5,1368.6 1843.0,1368.6 1841.5,1368.6 1840.0,1368.6 1838.5,1367.3 1837.0,1367.3 1835.5,1367.3 1834.0,1367.3 1832.5,1367.1 1831.0,1366.6 1829.5,1366.0 1828.0,1366.0 1826.5,1366.0 1825.0,1366.0 1823.5,1365.5 1822.0,1364.0 1820.5,1363.8 1819.0,1363.8 1817.5,1363.8 1816.0,1363.8 1814.5,1363.8 1813.0,1363.8 1811.5,1363.4 1810.0,1363.3 1808.5,1363.3 1807.0,1363.3 1805.5,1362.8 1804.0,1361.7 1802.5,1361.7 1801.0,1361.1 1799.5,1361.1 1798.0,1361.1 1796.5,1360.7 1795.0,1360.7 1793.5,1360.3 1792.0,1360.0 1790.5,1360.0 1789.0,1360.0 1787.5,1360.0 1786.0,1360.0 1784.5,1359.4 1783.0,1359.4 1781.5,1359.0 1780.0,1358.0 1778.5,1357.8 1777.0,1357.8 1775.5,1357.8 1774.0,1357.8 1772.5,1356.3 1771.0,1356.3 1769.5,1355.8 1768.0,1355.4 1766.5,1355.4 1765.0,1355.4 1763.5,1355.4 1762.0,1355.4 1760.5,1355.0 1759.0,1353.8 1757.5,1353.4 1756.0,1353.4 1754.5,1353.4 1753.0,1353.4 1751.5,1353.4 1750.0,1353.3 1748.5,1352.4 1747.0,1352.3 1745.5,1352.3 1744.0,1352.3 1742.5,1351.0 1741.0,1351.0 1739.5,1351.0 1738.0,1351.0 1736.5,1351.0 1735.0,1351.0 1733.5,1351.0 1732.0,1351.0 1730.5,1351.0 1729.0,1350.2 1727.5,1349.4 1726.0,1349.3 1724.5,1349.0 1723.0,1349.0 1721.5,1349.0 1720.0,1349.0 1718.5,1349.0 1717.0,1349.0 1715.5,1348.4 1714.0,1347.5 1712.5,1347.5 1711.0,1347.5 1709.5,1347.5 1708.0,1347.5 1706.5,1347.5 1705.0,1346.8 1703.5,1346.8 1702.0,1346.8 1700.5,1346.2 1699.0,1345.5 1697.5,1345.5 1696.0,1345.5 1694.5,1345.5 1693.0,1345.4 1691.5,1344.6 1690.0,1344.1 1688.5,1344.1 1687.0,1343.8 1685.5,1343.2 1684.0,1341.8 1682.5,1340.4 1681.0,1340.4 1679.5,1340.9 1678.0,1340.9 1676.5,1340.9 1675.0,1340.9 1673.5,1340.9 1672.0,1340.9 1670.5,1340.9 1669.0,1340.9 1667.5,1340.3 1666.0,1339.3 1664.5,1339.3 1663.0,1339.3 1661.5,1339.3 1660.0,1339.3 1658.5,1338.4 1657.0,1338.4 1655.5,1337.6 1654.0,1335.3 1652.5,1335.3 1651.0,1335.4 1649.5,1335.5 1648.0,1335.5 1646.5,1335.5 1645.0,1335.5 1643.5,1335.5 1642.0,1335.5 1640.5,1335.5 1639.0,1335.5 1637.5,1334.5 1636.0,1334.3 1634.5,1334.3 1633.0,1333.9 1631.5,1332.7 1630.0,1331.8 1628.5,1331.8 1627.0,1331.8 1625.5,1331.8 1624.0,1331.8 1622.5,1330.3 1621.0,1330.3 1619.5,1330.3 1618.0,1330.3 1616.5,1330.3 1615.0,1330.3 1613.5,1329.9 1612.0,1328.6 1610.5,1327.8 1609.0,1327.8 1607.5,1327.8 1606.0,1327.8 1604.5,1327.8 1603.0,1326.2 1601.5,1325.9 1600.0,1325.9 1598.5,1325.8 1597.0,1324.2 1595.5,1323.0 1594.0,1323.0 1592.5,1323.0 1591.0,1323.0 1589.5,1322.8 1588.0,1322.1 1586.5,1322.1 1585.0,1321.1 1583.5,1320.9 1582.0,1320.9 1580.5,1320.9 1579.0,1320.9 1577.5,1320.7 1576.0,1320.0 1574.5,1318.6 1573.0,1318.6 1571.5,1318.2 1570.0,1316.8 1568.5,1315.3 1567.0,1315.3 1565.5,1315.3 1564.0,1315.3 1562.5,1314.2 1561.0,1314.2 1559.5,1313.9 1558.0,1313.0 1556.5,1312.5 1555.0,1311.0 1553.5,1310.6 1552.0,1310.6 1550.5,1310.6 1549.0,1309.5 1547.5,1309.2 1546.0,1309.2 1544.5,1308.3 1543.0,1308.3 1541.5,1307.7 1540.0,1306.9 1538.5,1306.9 1537.0,1306.9 1535.5,1306.9 1534.0,1306.9 1532.5,1306.3 1531.0,1305.8 1529.5,1305.0 1528.0,1304.2 1526.5,1304.2 1525.0,1303.4 1523.5,1302.2 1522.0,1300.9 1520.5,1300.5 1519.0,1300.5 1517.5,1300.5 1516.0,1300.5 1514.5,1300.5 1513.0,1300.5 1511.5,1299.5 1510.0,1296.7 1508.5,1295.1 1507.0,1295.1 1505.5,1295.1 1504.0,1295.1 1502.5,1293.7 1501.0,1293.2 1499.5,1293.0 1498.0,1292.5 1496.5,1292.3 1495.0,1292.3 1493.5,1291.8 1492.0,1291.8 1490.5,1291.8 1489.0,1291.3 1487.5,1291.3 1486.0,1291.3 1484.5,1291.3 1483.0,1289.0 1481.5,1289.0 1480.0,1289.0 1478.5,1287.4 1477.0,1287.4 1475.5,1287.0 1474.0,1287.0 1472.5,1287.0 1471.0,1284.7 1469.5,1284.4 1468.0,1284.4 1466.5,1284.3 1465.0,1284.2 1463.5,1284.1 1462.0,1283.8 1460.5,1283.0 1459.0,1280.7 1457.5,1279.3 1456.0,1279.3 1454.5,1279.3 1453.0,1279.3 1451.5,1278.8 1450.0,1277.5 1448.5,1277.2 1447.0,1277.2 1445.5,1276.7 1444.0,1275.4 1442.5,1275.1 1441.0,1275.1 1439.5,1275.1 1438.0,1275.1 1436.5,1274.6 1435.0,1273.4 1433.5,1273.4 1432.0,1273.4 1430.5,1271.5 1429.0,1270.9 1427.5,1270.3 1426.0,1269.0 1424.5,1269.0 1423.0,1267.8 1421.5,1267.8 1420.0,1267.8 1418.5,1264.4 1417.0,1264.4 1415.5,1264.4 1414.0,1264.4 1412.5,1263.4 1411.0,1263.4 1409.5,1263.4 1408.0,1263.4 1406.5,1262.9 1405.0,1261.6 1403.5,1261.6 1402.0,1261.6 1400.5,1258.6 1399.0,1258.6 1397.5,1258.6 1396.0,1258.6 1394.5,1256.1 1393.0,1256.1 1391.5,1256.1 1390.0,1256.1 1388.5,1256.1 1387.0,1257.2 1385.5,1257.7 1384.0,1257.7 1382.5,1257.7 1381.0,1257.7 1379.5,1257.7 1378.0,1257.7 1376.5,1257.7 1375.0,1257.7 1373.5,1256.9 1372.0,1256.1 1370.5,1256.1 1369.0,1256.1 1367.5,1256.1 1366.0,1256.1 1364.5,1256.1 1363.0,1256.1 1361.5,1256.1 1360.0,1256.1 1358.5,1255.5 1357.0,1254.9 1355.5,1254.9 1354.0,1254.9 1352.5,1254.9 1351.0,1254.5 1349.5,1254.5 1348.0,1254.5 1346.5,1254.5 1345.0,1254.3 1343.5,1253.6 1342.0,1252.6 1340.5,1251.3 1339.0,1251.3 1337.5,1251.3 1336.0,1251.3 1334.5,1251.3 1333.0,1251.3 1331.5,1251.1 1330.0,1250.6 1328.5,1250.3 1327.0,1250.3 1325.5,1250.3 1324.0,1250.3 1322.5,1250.3 1321.0,1249.6 1319.5,1248.7 1318.0,1248.0 1316.5,1246.7 1315.0,1246.7 1313.5,1246.2 1312.0,1246.2 1310.5,1246.2 1309.0,1244.3 1307.5,1244.0 1306.0,1244.0 1304.5,1244.0 1303.0,1244.0 1301.5,1244.0 1300.0,1244.0 1298.5,1242.7 1297.0,1240.7 1295.5,1240.3 1294.0,1240.3 1292.5,1240.1 1291.0,1239.6 1289.5,1238.1 1288.0,1235.3 1286.5,1235.3 1285.0,1234.2 1283.5,1234.2 1282.0,1234.2 1280.5,1232.8 1279.0,1232.8 1277.5,1232.8 1276.0,1232.8 1274.5,1230.6 1273.0,1229.7 1271.5,1229.7 1270.0,1229.7 1268.5,1226.2 1267.0,1223.7 1265.5,1222.8 1264.0,1222.8 1262.5,1222.8 1261.0,1222.8 1259.5,1221.9 1258.0,1219.3 1256.5,1218.6 1255.0,1218.6 1253.5,1218.5 1252.0,1218.1 1250.5,1216.3 1249.0,1214.1 1247.5,1213.8 1246.0,1213.8 1244.5,1213.8 1243.0,1211.6 1241.5,1210.4 1240.0,1210.4 1238.5,1210.4 1237.0,1208.4 1235.5,1207.1 1234.0,1207.1 1232.5,1207.1 1231.0,1204.5 1229.5,1203.4 1228.0,1203.4 1226.5,1203.1 1225.0,1202.7 1223.5,1201.6 1222.0,1198.9 1220.5,1197.5 1219.0,1197.5 1217.5,1197.5 1216.0,1197.5 1214.5,1197.5 1213.0,1196.8 1211.5,1195.3 1210.0,1193.1 1208.5,1192.2 1207.0,1191.3 1205.5,1190.1 1204.0,1188.4 1202.5,1188.0 1201.0,1186.9 1199.5,1186.5 1198.0,1186.5 1196.5,1185.7 1195.0,1183.5 1193.5,1181.4 1192.0,1181.1 1190.5,1181.0 1189.0,1181.0 1187.5,1179.7 1186.0,1175.8 1184.5,1174.2 1183.0,1173.5 1181.5,1173.4 1180.0,1173.4 1178.5,1172.6 1177.0,1171.3 1175.5,1171.3 1174.0,1171.3 1172.5,1167.4 1171.0,1165.2 1169.5,1164.0 1168.0,1163.7 1166.5,1163.7 1165.0,1163.7 1163.5,1162.8 1162.0,1161.9 1160.5,1161.9 1159.0,1160.8 1157.5,1159.2 1156.0,1157.8 1154.5,1155.7 1153.0,1154.9 1151.5,1154.4 1150.0,1153.0 1148.5,1151.1 1147.0,1151.1 1145.5,1151.1 1144.0,1151.1 1142.5,1150.4 1141.0,1147.6 1139.5,1144.7 1138.0,1144.3 1136.5,1144.3 1135.0,1142.1 1133.5,1140.8 1132.0,1140.8 1130.5,1140.8 1129.0,1138.3 1127.5,1135.6 1126.0,1135.0 1124.5,1133.4 1123.0,1132.5 1121.5,1131.6 1120.0,1131.4 1118.5,1131.4 1117.0,1130.3 1115.5,1129.0 1114.0,1128.3 1112.5,1126.6 1111.0,1123.6 1109.5,1122.3 1108.0,1122.3 1106.5,1122.3 1105.0,1122.3 1103.5,1121.2 1102.0,1118.0 1100.5,1116.8 1099.0,1116.1 1097.5,1115.6 1096.0,1115.0 1094.5,1114.3 1093.0,1111.1 1091.5,1108.8 1090.0,1108.8 1088.5,1108.8 1087.0,1108.6 1085.5,1106.5 1084.0,1102.7 1082.5,1102.7 1081.0,1102.7 1079.5,1101.2 1078.0,1096.6 1076.5,1096.1 1075.0,1096.1 1073.5,1096.1 1072.0,1096.1 1070.5,1092.6 1069.0,1092.6 1067.5,1092.6 1066.0,1092.6 1064.5,1089.2 1063.0,1089.2 1061.5,1088.3 1060.0,1086.7 1058.5,1086.7 1057.0,1084.8 1055.5,1081.9 1054.0,1080.1 1052.5,1080.1 1051.0,1078.3 1049.5,1076.4 1048.0,1076.4 1046.5,1076.4 1045.0,1076.4 1043.5,1076.0 1042.0,1074.8 1040.5,1070.3 1039.0,1070.3 1037.5,1069.6 1036.0,1067.8 1034.5,1065.5 1033.0,1064.1 1031.5,1063.5 1030.0,1063.5 1028.5,1059.5 1027.0,1059.5 1025.5,1059.5 1024.0,1059.5 1022.5,1057.4 1021.0,1054.1 1019.5,1051.0 1018.0,1050.3 1016.5,1050.3 1015.0,1048.9 1013.5,1046.3 1012.0,1042.8 1010.5,1040.6 1009.0,1039.5 1007.5,1038.6 1006.0,1037.4 1004.5,1037.4 1003.0,1037.0 1001.5,1035.5 1000.0,1032.2 998.5,1031.2 997.0,1028.1 995.5,1024.8 994.0,1023.3 992.5,1021.3 991.0,1018.9 989.5,1018.9 988.0,1018.9 986.5,1014.9 985.0,1012.5 983.5,1011.2 982.0,1011.1 980.5,1011.1 979.0,1007.1 977.5,1005.0 976.0,1005.0 974.5,1002.2 973.0,999.6 971.5,999.6 970.0,999.6 968.5,996.9 967.0,995.0 965.5,993.0 964.0,989.9 962.5,987.2 961.0,987.2 959.5,985.8 958.0,983.8 956.5,983.8 955.0,979.2 953.5,978.8 952.0,978.8 950.5,973.5 949.0,973.5 947.5,971.8 946.0,966.9 944.5,965.0 943.0,962.4 941.5,959.9 940.0,958.1 938.5,953.9 937.0,952.4 935.5,952.4 934.0,952.4 932.5,948.8 931.0,943.3 929.5,942.8 928.0,942.8 926.5,935.4 925.0,931.1 923.5,929.0 922.0,927.9 920.5,926.1 919.0,923.1 917.5,919.9 916.0,917.7 914.5,913.9 913.0,910.0 911.5,906.9 910.0,906.1 908.5,899.0 907.0,894.0 905.5,892.7 904.0,892.7 902.5,890.1 901.0,885.9 899.5,881.3 898.0,877.6 896.5,875.4 895.0,874.6 893.5,873.2 892.0,869.3 890.5,862.4 889.0,858.3 887.5,856.0 886.0,854.5 884.5,854.1 883.0,849.9 881.5,849.9 880.0,849.9 878.5,847.8 877.0,843.8 875.5,839.1 874.0,835.0 872.5,835.0 871.0,833.7 869.5,831.2 868.0,828.2 866.5,828.2 865.0,825.9 863.5,822.6 862.0,819.5 860.5,814.0 859.0,811.6 857.5,808.3 856.0,800.4 854.5,800.4 853.0,796.4 851.5,791.3 850.0,788.2 848.5,781.6 847.0,777.3 845.5,773.9 844.0,772.6 842.5,772.6 841.0,769.7 839.5,763.8 838.0,754.7 836.5,752.3 835.0,750.0 833.5,750.0 832.0,750.0 830.5,743.4 829.0,738.6 827.5,735.3 826.0,733.4 824.5,731.5 823.0,728.2 821.5,724.6 820.0,722.0 818.5,716.7 817.0,714.4 815.5,712.7 814.0,709.5 812.5,705.1 811.0,703.0 809.5,701.3 808.0,698.1 806.5,692.8 805.0,688.0 803.5,687.8 802.0,687.8 800.5,682.9 799.0,676.9 797.5,676.1 796.0,676.1 794.5,673.5 793.0,669.4 791.5,664.3 790.0,658.8 788.5,658.8 787.0,656.1 785.5,656.1 784.0,656.1 782.5,616.1 781.0,615.3 779.5,614.1 778.0,610.4 776.5,609.7 775.0,609.7 773.5,606.1 772.0,602.7 770.5,602.7 769.0,600.8 767.5,597.6 766.0,593.5 764.5,589.8 763.0,589.8 761.5,588.0 760.0,582.4 758.5,578.4 757.0,578.3 755.5,578.3 754.0,578.3 752.5,567.9 751.0,567.9 749.5,567.9 748.0,567.9 746.5,564.3 745.0,561.4 743.5,555.9 742.0,551.1 740.5,551.1 739.0,546.8 737.5,541.9 736.0,540.7 734.5,540.7 733.0,539.2 731.5,537.8 730.0,537.8 728.5,531.8 727.0,524.4 725.5,523.6 724.0,523.6 722.5,523.6 721.0,520.5 719.5,516.7 718.0,514.5 716.5,507.6 715.0,506.3 713.5,504.9 712.0,500.3 710.5,496.6 709.0,493.9 707.5,492.0 706.0,490.4 704.5,484.0 703.0,478.4 701.5,474.2 700.0,471.6 698.5,468.6 697.0,461.7 695.5,455.4 694.0,455.4 692.5,455.4 691.0,449.9 689.5,444.7 688.0,444.7 686.5,436.3 685.0,429.0 683.5,425.7 682.0,425.7 680.5,425.4 679.0,420.6 677.5,415.6 676.0,415.0 674.5,406.1 673.0,399.8 671.5,396.8 670.0,396.8 668.5,387.0 667.0,381.9 665.5,379.6 664.0,378.4 662.5,370.1 661.0,370.1 659.5,367.0 658.0,357.9 656.5,350.0 655.0,349.0 653.5,349.0 652.0,349.0 650.5,349.0 649.0,345.7 647.5,339.2 646.0,331.8 644.5,331.8 643.0,327.9 641.5,327.9 640.0,327.9 638.5,321.3 637.0,316.9 635.5,316.9 634.0,316.9 632.5,312.5 631.0,307.2 629.5,303.9 628.0,312.3 626.5,322.6 625.0,336.9 623.5,353.2 622.0,365.1 620.5,367.6 619.0,378.1 617.5,390.5 616.0,402.7 614.5,412.0 613.0,425.0 611.5,435.6 610.0,445.4 608.5,456.5 607.0,473.7 605.5,485.8 604.0,496.8 602.5,510.8 601.0,522.4 599.5,539.3 598.0,557.9 596.5,574.5 595.0,588.6 593.5,605.8 592.0,623.0 590.5,637.0 589.0,654.1 587.5,671.8 586.0,689.2 584.5,705.7 583.0,728.9 581.5,750.8 580.0,773.0 578.5,796.2 577.0,821.3 575.5,846.6 574.0,870.9 572.5,894.1 571.0,917.9 569.5,944.0 568.0,969.8 566.5,992.5 565.0,1015.0 563.5,1040.7 562.0,1066.5 560.5,1089.3 559.0,1111.4 557.5,1132.9 556.0,1154.0 554.5,1174.9 553.0,1189.1 551.5,1203.3 550.0,1217.7 548.5,1232.4 547.0,1243.3 545.5,1256.0 544.0,1268.3 542.5,1277.9 541.0,1289.9 539.5,1301.5 538.0,1311.6 536.5,1319.1 535.0,1326.5 533.5,1332.8 532.0,1339.0 530.5,1346.1 529.0,1350.4 527.5,1355.4 526.0,1360.3 524.5,1364.2 523.0,1368.2 521.5,1371.5 520.0,1374.2 518.5,1376.4 517.0,1378.1 515.5,1380.1 514.0,1381.8 512.5,1382.2 511.0,1384.5 509.5,1385.9 508.0,1386.7 506.5,1387.4 505.0,1389.0 503.5,1390.3 502.0,1391.3 500.5,1391.9 499.0,1392.2 497.5,1392.6 496.0,1393.0 494.5,1393.3 493.0,1394.7 491.5,1395.1 490.0,1395.1 488.5,1395.4 487.0,1395.8 485.5,1396.4 484.0,1396.9 482.5,1397.0 481.0,1398.1 479.5,1398.8 478.0,1399.2 476.5,1399.7 475.0,1399.7 473.5,1399.9 472.0,1400.2 470.5,1400.6 469.0,1400.6 467.5,1400.6 466.0,1400.9 464.5,1400.9 463.0,1401.0 461.5,1401.3 460.0,1401.3 458.5,1401.3 457.0,1401.3 455.5,1401.3 454.0,1401.3 452.5,1401.3 451.0,1401.3 449.5,1401.3 448.0,1401.3 446.5,1401.3 445.0,1401.3 443.5,1401.1 442.0,1401.4 440.5,1401.4 439.0,1401.4 437.5,1401.4 436.0,1401.4 434.5,1401.4 433.0,1401.4 431.5,1401.4 430.0,1401.4 428.5,1401.4 427.0,1401.4 425.5,1401.4 424.0,1401.4 422.5,1401.4 421.0,1401.4 419.5,1401.4 418.0,1401.4 416.5,1401.4 415.0,1401.4 413.5,1401.4 412.0,1401.4 410.5,1401.4 409.0,1401.4 407.5,1401.4 406.0,1401.4 404.5,1401.4 403.0,1401.4 401.5,1401.3 400.0,1401.5 398.5,1401.5 397.0,1401.5 395.5,1401.5 394.0,1401.5 392.5,1401.5 391.0,1401.5 389.5,1401.5 388.0,1401.5 386.5,1401.3 385.0,1401.3 383.5,1401.3 382.0,1401.4 380.5,1401.4 379.0,1401.4 377.5,1401.4 376.0,1401.5 374.5,1401.5 373.0,1401.5 371.5,1401.5 370.0,1401.5 368.5,1401.5 367.0,1401.5 365.5,1401.5 364.0,1401.5 362.5,1401.5 361.0,1401.5 359.5,1401.5 358.0,1401.5 356.5,1401.5 355.0,1401.5 353.5,1401.5 352.0,1401.5 350.5,1401.3 349.0,1401.3 347.5,1401.3 346.0,1401.3 344.5,1401.3 343.0,1401.3 341.5,1401.3 340.0,1401.3 338.5,1401.3 337.0,1401.3 335.5,1401.3 334.0,1401.3 332.5,1401.3 331.0,1401.3 329.5,1401.3 328.0,1401.3"/>
<polygon fill="#ff00cc" points="328.0,1389.4 329.5,1389.4 331.0,1389.4 332.5,1389.4 334.0,1389.4 335.5,1389.4 337.0,1389.4 338.5,1389.4 340.0,1389.4 341.5,1389.5 343.0,1389.5 344.5,1389.5 346.0,1389.5 347.5,1389.5 349.0,1389.8 350.5,1389.9 352.0,1389.8 353.5,1389.8 355.0,1389.8 356.5,1389.8 358.0,1389.5 359.5,1389.5 361.0,1389.5 362.5,1389.5 364.0,1389.5 365.5,1389.5 367.0,1389.5 368.5,1389.5 370.0,1389.5 371.5,1389.5 373.0,1389.5 374.5,1389.5 376.0,1389.5 377.5,1389.5 379.0,1389.5 380.5,1389.5 382.0,1389.6 383.5,1389.6 385.0,1389.6 386.5,1389.6 388.0,1389.6 389.5,1389.6 391.0,1389.6 392.5,1389.6 394.0,1389.7 395.5,1389.7 397.0,1389.7 398.5,1389.7 400.0,1389.6 401.5,1389.6 403.0,1389.6 404.5,1389.6 406.0,1389.6 407.5,1389.6 409.0,1389.6 410.5,1389.6 412.0,1389.5 413.5,1389.5 415.0,1389.5 416.5,1389.5 418.0,1389.5 419.5,1389.5 421.0,1389.5 422.5,1389.5 424.0,1389.3 425.5,1389.3 427.0,1389.3 428.5,1389.3 430.0,1389.3 431.5,1389.3 433.0,1389.3 434.5,1389.3 436.0,1389.3 437.5,1389.7 439.0,1389.7 440.5,1389.7 442.0,1389.7 443.5,1389.7 445.0,1389.7 446.5,1389.8 448.0,1389.8 449.5,1389.6 451.0,1389.5 452.5,1389.5 454.0,1388.9 455.5,1388.9 457.0,1388.9 458.5,1388.9 460.0,1388.9 461.5,1388.5 463.0,1387.8 464.5,1387.5 466.0,1387.5 467.5,1387.5 469.0,1386.8 470.5,1386.1 472.0,1386.0 473.5,1385.0 475.0,1384.7 476.5,1384.7 478.0,1384.3 479.5,1384.1 481.0,1383.1 482.5,1382.1 484.0,1382.1 485.5,1381.4 487.0,1380.8 488.5,1380.1 490.0,1379.1 491.5,1378.7 493.0,1377.9 494.5,1376.8 496.0,1375.8 497.5,1373.6 499.0,1372.3 500.5,1371.0 502.0,1369.2 503.5,1368.2 505.0,1366.7 506.5,1364.4 508.0,1361.1 509.5,1359.7 511.0,1356.6 512.5,1352.6 514.0,1348.7 515.5,1344.8 517.0,1341.2 518.5,1336.6 520.0,1329.5 521.5,1320.9 523.0,1313.4 524.5,1307.0 526.0,1301.4 527.5,1290.6 529.0,1281.6 530.5,1272.4 532.0,1260.4 533.5,1248.2 535.0,1237.2 536.5,1225.0 538.0,1209.6 539.5,1197.0 541.0,1183.4 542.5,1168.6 544.0,1152.6 545.5,1137.0 547.0,1118.0 548.5,1097.3 550.0,1076.4 551.5,1053.1 553.0,1027.0 554.5,1001.4 556.0,979.7 557.5,957.8 559.0,936.4 560.5,913.3 562.0,886.3 563.5,864.4 565.0,843.3 566.5,820.3 568.0,793.6 569.5,773.9 571.0,752.1 572.5,730.3 574.0,710.2 575.5,692.4 577.0,674.2 578.5,655.2 580.0,635.4 581.5,625.3 583.0,611.3 584.5,594.7 586.0,577.0 587.5,556.4 589.0,540.5 590.5,526.9 592.0,513.1 593.5,492.7 595.0,481.7 596.5,471.5 598.0,453.2 599.5,449.2 601.0,435.6 602.5,421.3 604.0,415.7 605.5,396.8 607.0,385.1 608.5,377.5 610.0,370.5 611.5,362.6 613.0,352.5 614.5,343.1 616.0,337.1 617.5,326.0 619.0,320.8 620.5,316.3 622.0,307.6 623.5,307.6 625.0,304.2 626.5,297.9 628.0,290.9 629.5,290.9 631.0,286.6 632.5,280.4 634.0,280.4 635.5,280.4 637.0,280.4 638.5,278.9 640.0,278.9 641.5,278.9 643.0,278.9 644.5,278.9 646.0,278.9 647.5,278.9 649.0,278.9 650.5,278.9 652.0,279.7 653.5,279.7 655.0,279.7 656.5,279.7 658.0,279.7 659.5,279.7 661.0,279.7 662.5,279.7 664.0,282.1 665.5,282.7 667.0,285.1 668.5,292.4 670.0,301.8 671.5,309.1 673.0,311.5 674.5,311.5 676.0,313.1 677.5,313.1 679.0,313.1 680.5,313.1 682.0,313.1 683.5,318.0 685.0,318.0 686.5,318.0 688.0,333.5 689.5,333.5 691.0,333.5 692.5,333.5 694.0,333.5 695.5,333.5 697.0,341.0 698.5,343.5 700.0,343.5 701.5,352.9 703.0,352.9 704.5,352.9 706.0,353.4 707.5,353.4 709.0,353.4 710.5,353.4 712.0,363.3 713.5,363.3 715.0,363.3 716.5,363.3 718.0,371.6 719.5,371.6 721.0,372.0 722.5,372.0 724.0,372.0 725.5,379.4 727.0,388.8 728.5,388.4 730.0,388.4 731.5,388.4 733.0,388.4 734.5,388.4 736.0,388.4 737.5,388.4 739.0,388.4 740.5,388.4 742.0,400.4 743.5,400.4 745.0,403.7 746.5,403.7 748.0,403.7 749.5,403.7 751.0,403.7 752.5,403.7 754.0,403.7 755.5,415.2 757.0,415.2 758.5,415.2 760.0,417.5 761.5,417.5 763.0,418.2 764.5,418.2 766.0,418.2 767.5,425.0 769.0,425.0 770.5,425.0 772.0,429.6 773.5,430.3 775.0,430.3 776.5,430.3 778.0,436.2 779.5,436.2 781.0,436.2 782.5,436.2 784.0,436.2 785.5,436.2 787.0,436.2 788.5,436.2 790.0,436.2 791.5,440.0 793.0,447.1 794.5,455.1 796.0,471.9 797.5,471.9 799.0,472.8 800.5,475.5 802.0,478.1 803.5,482.9 805.0,485.3 806.5,485.3 808.0,492.5 809.5,493.8 811.0,496.2 812.5,499.9 814.0,499.9 815.5,505.6 817.0,507.6 818.5,507.6 820.0,507.6 821.5,510.1 823.0,515.3 824.5,519.4 826.0,519.4 827.5,521.6 829.0,526.8 830.5,532.6 832.0,532.6 833.5,535.7 835.0,539.3 836.5,541.1 838.0,543.2 839.5,546.3 841.0,546.3 842.5,546.3 844.0,552.1 845.5,556.3 847.0,560.3 848.5,565.1 850.0,565.2 851.5,565.2 853.0,566.4 854.5,570.2 856.0,574.3 857.5,578.3 859.0,583.1 860.5,589.8 862.0,592.6 863.5,596.7 865.0,598.2 866.5,598.2 868.0,601.6 869.5,603.4 871.0,607.3 872.5,616.9 874.0,620.3 875.5,624.1 877.0,627.3 878.5,629.2 880.0,634.3 881.5,637.0 883.0,640.2 884.5,646.6 886.0,646.8 887.5,651.9 889.0,658.4 890.5,662.5 892.0,665.3 893.5,669.8 895.0,674.0 896.5,676.0 898.0,676.0 899.5,677.1 901.0,680.0 902.5,685.2 904.0,687.2 905.5,693.6 907.0,699.2 908.5,699.3 910.0,703.7 911.5,708.0 913.0,711.5 914.5,713.3 916.0,716.8 917.5,718.2 919.0,720.0 920.5,724.4 922.0,728.8 923.5,728.9 925.0,730.5 926.5,735.3 928.0,738.3 929.5,738.3 931.0,738.8 932.5,740.3 934.0,746.2 935.5,752.0 937.0,755.8 938.5,755.8 940.0,756.1 941.5,761.8 943.0,765.8 944.5,765.8 946.0,768.1 947.5,768.5 949.0,770.2 950.5,774.9 952.0,780.2 953.5,780.2 955.0,781.7 956.5,783.1 958.0,783.1 959.5,783.1 961.0,785.4 962.5,788.9 964.0,788.9 965.5,791.8 967.0,796.0 968.5,797.4 970.0,797.4 971.5,800.2 973.0,801.0 974.5,801.0 976.0,804.9 977.5,808.0 979.0,809.9 980.5,810.2 982.0,810.5 983.5,813.5 985.0,813.5 986.5,813.5 988.0,816.7 989.5,822.8 991.0,822.8 992.5,822.8 994.0,822.8 995.5,826.7 997.0,830.8 998.5,830.8 1000.0,830.8 1001.5,834.1 1003.0,834.1 1004.5,834.1 1006.0,842.6 1007.5,843.8 1009.0,843.8 1010.5,843.8 1012.0,845.0 1013.5,848.0 1015.0,851.1 1016.5,852.9 1018.0,855.3 1019.5,857.4 1021.0,857.4 1022.5,857.4 1024.0,860.4 1025.5,862.2 1027.0,865.2 1028.5,868.3 1030.0,868.3 1031.5,871.9 1033.0,872.9 1034.5,872.9 1036.0,878.7 1037.5,881.0 1039.0,882.1 1040.5,884.5 1042.0,888.0 1043.5,888.0 1045.0,889.5 1046.5,894.0 1048.0,897.4 1049.5,899.0 1051.0,899.8 1052.5,900.8 1054.0,903.2 1055.5,903.2 1057.0,903.2 1058.5,903.2 1060.0,911.5 1061.5,912.1 1063.0,913.3 1064.5,913.3 1066.0,913.3 1067.5,915.5 1069.0,918.9 1070.5,922.4 1072.0,924.2 1073.5,927.1 1075.0,927.1 1076.5,927.1 1078.0,928.3 1079.5,931.5 1081.0,932.3 1082.5,932.3 1084.0,937.0 1085.5,937.0 1087.0,937.1 1088.5,937.1 1090.0,942.7 1091.5,943.1 1093.0,945.1 1094.5,946.1 1096.0,946.1 1097.5,948.7 1099.0,952.1 1100.5,953.5 1102.0,953.5 1103.5,953.5 1105.0,954.9 1106.5,957.9 1108.0,957.9 1109.5,958.4 1111.0,961.3 1112.5,964.6 1114.0,964.6 1115.5,964.7 1117.0,965.1 1118.5,966.2 1120.0,972.9 1121.5,976.0 1123.0,977.1 1124.5,977.4 1126.0,977.4 1127.5,977.4 1129.0,978.4 1130.5,981.7 1132.0,982.4 1133.5,982.4 1135.0,983.8 1136.5,988.1 1138.0,989.2 1139.5,989.2 1141.0,989.2 1142.5,989.2 1144.0,989.2 1145.5,991.5 1147.0,994.1 1148.5,995.0 1150.0,996.5 1151.5,999.6 1153.0,999.6 1154.5,999.6 1156.0,999.6 1157.5,1002.6 1159.0,1004.1 1160.5,1004.1 1162.0,1008.1 1163.5,1008.6 1165.0,1008.6 1166.5,1008.6 1168.0,1011.3 1169.5,1012.9 1171.0,1014.7 1172.5,1016.1 1174.0,1016.1 1175.5,1016.1 1177.0,1016.9 1178.5,1019.1 1180.0,1021.3 1181.5,1025.2 1183.0,1028.3 1184.5,1028.3 1186.0,1028.6 1187.5,1029.9 1189.0,1029.9 1190.5,1029.9 1192.0,1031.8 1193.5,1031.8 1195.0,1032.2 1196.5,1033.4 1198.0,1038.5 1199.5,1039.0 1201.0,1039.0 1202.5,1039.0 1204.0,1039.0 1205.5,1040.4 1207.0,1043.5 1208.5,1044.7 1210.0,1044.7 1211.5,1044.7 1213.0,1045.5 1214.5,1047.9 1216.0,1051.3 1217.5,1054.3 1219.0,1054.8 1220.5,1054.8 1222.0,1054.9 1223.5,1057.9 1225.0,1058.9 1226.5,1058.9 1228.0,1060.0 1229.5,1062.4 1231.0,1064.8 1232.5,1065.8 1234.0,1068.9 1235.5,1068.9 1237.0,1069.7 1238.5,1072.2 1240.0,1072.5 1241.5,1074.4 1243.0,1075.4 1244.5,1075.4 1246.0,1075.4 1247.5,1079.4 1249.0,1082.4 1250.5,1082.4 1252.0,1082.4 1253.5,1082.4 1255.0,1083.7 1256.5,1087.8 1258.0,1090.0 1259.5,1090.0 1261.0,1090.5 1262.5,1092.1 1264.0,1094.8 1265.5,1098.9 1267.0,1102.2 1268.5,1102.3 1270.0,1104.7 1271.5,1106.2 1273.0,1107.8 1274.5,1110.1 1276.0,1110.5 1277.5,1112.0 1279.0,1112.7 1280.5,1112.7 1282.0,1117.3 1283.5,1117.3 1285.0,1119.0 1286.5,1123.9 1288.0,1124.2 1289.5,1125.5 1291.0,1126.3 1292.5,1126.3 1294.0,1126.7 1295.5,1126.7 1297.0,1126.7 1298.5,1126.7 1300.0,1130.6 1301.5,1131.9 1303.0,1131.9 1304.5,1131.9 1306.0,1135.1 1307.5,1135.1 1309.0,1135.1 1310.5,1135.1 1312.0,1135.7 1313.5,1135.7 1315.0,1136.8 1316.5,1137.1 1318.0,1137.1 1319.5,1137.9 1321.0,1138.9 1322.5,1138.9 1324.0,1138.9 1325.5,1140.9 1327.0,1140.9 1328.5,1140.9 1330.0,1140.9 1331.5,1142.8 1333.0,1142.8 1334.5,1142.8 1336.0,1142.8 1337.5,1142.8 1339.0,1142.8 1340.5,1142.8 1342.0,1142.8 1343.5,1143.1 1345.0,1143.9 1346.5,1143.9 1348.0,1143.9 1349.5,1143.9 1351.0,1144.2 1352.5,1144.9 1354.0,1144.9 1355.5,1144.9 1357.0,1144.9 1358.5,1144.9 1360.0,1146.2 1361.5,1146.2 1363.0,1146.9 1364.5,1147.3 1366.0,1147.3 1367.5,1147.3 1369.0,1147.9 1370.5,1148.8 1372.0,1148.8 1373.5,1149.0 1375.0,1149.0 1376.5,1149.0 1378.0,1149.0 1379.5,1144.2 1381.0,1143.8 1382.5,1143.5 1384.0,1143.5 1385.5,1143.5 1387.0,1143.5 1388.5,1143.5 1390.0,1143.5 1391.5,1143.5 1393.0,1143.5 1394.5,1143.5 1396.0,1145.7 1397.5,1145.7 1399.0,1146.0 1400.5,1147.1 1402.0,1150.6 1403.5,1152.3 1405.0,1152.3 1406.5,1152.3 1408.0,1152.3 1409.5,1152.3 1411.0,1152.3 1412.5,1152.3 1414.0,1152.3 1415.5,1155.2 1417.0,1157.9 1418.5,1157.9 1420.0,1157.9 1421.5,1157.9 1423.0,1157.9 1424.5,1157.9 1426.0,1157.9 1427.5,1161.5 1429.0,1163.6 1430.5,1163.6 1432.0,1164.7 1433.5,1165.8 1435.0,1166.2 1436.5,1166.2 1438.0,1166.2 1439.5,1166.6 1441.0,1167.1 1442.5,1167.5 1444.0,1167.5 1445.5,1171.0 1447.0,1174.0 1448.5,1174.0 1450.0,1174.0 1451.5,1174.0 1453.0,1174.4 1454.5,1175.7 1456.0,1178.4 1457.5,1178.4 1459.0,1178.5 1460.5,1178.8 1462.0,1180.1 1463.5,1180.1 1465.0,1180.1 1466.5,1180.1 1468.0,1182.4 1469.5,1185.2 1471.0,1185.2 1472.5,1185.2 1474.0,1185.2 1475.5,1186.5 1477.0,1186.5 1478.5,1186.5 1480.0,1188.8 1481.5,1188.8 1483.0,1189.2 1484.5,1190.5 1486.0,1191.9 1487.5,1191.9 1489.0,1192.8 1490.5,1195.5 1492.0,1195.5 1493.5,1198.2 1495.0,1198.2 1496.5,1198.2 1498.0,1198.2 1499.5,1200.4 1501.0,1200.4 1502.5,1200.4 1504.0,1200.4 1505.5,1201.4 1507.0,1203.5 1508.5,1203.7 1510.0,1203.7 1511.5,1203.7 1513.0,1204.8 1514.5,1206.8 1516.0,1206.8 1517.5,1207.5 1519.0,1207.5 1520.5,1207.5 1522.0,1211.9 1523.5,1213.0 1525.0,1213.4 1526.5,1214.6 1528.0,1214.6 1529.5,1214.8 1531.0,1214.8 1532.5,1214.8 1534.0,1214.8 1535.5,1216.2 1537.0,1217.6 1538.5,1217.6 1540.0,1219.6 1541.5,1221.2 1543.0,1221.2 1544.5,1221.2 1546.0,1221.2 1547.5,1221.2 1549.0,1221.7 1550.5,1223.2 1552.0,1223.8 1553.5,1224.3 1555.0,1225.8 1556.5,1229.0 1558.0,1229.3 1559.5,1229.3 1561.0,1230.1 1562.5,1231.1 1564.0,1231.1 1565.5,1231.1 1567.0,1231.1 1568.5,1231.1 1570.0,1233.1 1571.5,1233.1 1573.0,1234.4 1574.5,1238.5 1576.0,1238.8 1577.5,1239.1 1579.0,1239.1 1580.5,1239.1 1582.0,1239.1 1583.5,1239.1 1585.0,1239.6 1586.5,1241.1 1588.0,1243.4 1589.5,1243.4 1591.0,1243.4 1592.5,1243.4 1594.0,1243.4 1595.5,1243.9 1597.0,1245.6 1598.5,1245.9 1600.0,1245.9 1601.5,1247.7 1603.0,1249.4 1604.5,1249.4 1606.0,1249.4 1607.5,1249.4 1609.0,1250.7 1610.5,1252.7 1612.0,1252.7 1613.5,1253.3 1615.0,1253.3 1616.5,1253.3 1618.0,1256.1 1619.5,1257.9 1621.0,1258.8 1622.5,1259.2 1624.0,1259.5 1625.5,1259.5 1627.0,1259.5 1628.5,1259.5 1630.0,1259.5 1631.5,1259.5 1633.0,1260.6 1634.5,1261.2 1636.0,1261.2 1637.5,1262.6 1639.0,1263.2 1640.5,1263.2 1642.0,1263.2 1643.5,1263.9 1645.0,1265.6 1646.5,1268.4 1648.0,1268.4 1649.5,1268.4 1651.0,1268.9 1652.5,1269.2 1654.0,1269.2 1655.5,1269.8 1657.0,1269.9 1658.5,1269.9 1660.0,1269.9 1661.5,1269.9 1663.0,1271.0 1664.5,1271.0 1666.0,1271.0 1667.5,1272.3 1669.0,1274.3 1670.5,1274.3 1672.0,1274.3 1673.5,1275.1 1675.0,1275.3 1676.5,1275.3 1678.0,1276.7 1679.5,1276.7 1681.0,1277.2 1682.5,1278.7 1684.0,1279.0 1685.5,1279.0 1687.0,1279.7 1688.5,1281.3 1690.0,1281.3 1691.5,1281.9 1693.0,1281.9 1694.5,1281.9 1696.0,1281.9 1697.5,1281.9 1699.0,1283.4 1700.5,1285.2 1702.0,1285.2 1703.5,1285.2 1705.0,1285.2 1706.5,1285.2 1708.0,1285.2 1709.5,1285.9 1711.0,1287.7 1712.5,1289.9 1714.0,1289.9 1715.5,1290.7 1717.0,1290.7 1718.5,1290.7 1720.0,1290.7 1721.5,1290.7 1723.0,1290.7 1724.5,1290.7 1726.0,1292.7 1727.5,1292.7 1729.0,1292.7 1730.5,1292.7 1732.0,1292.9 1733.5,1293.7 1735.0,1295.3 1736.5,1295.8 1738.0,1295.8 1739.5,1296.2 1741.0,1296.2 1742.5,1296.2 1744.0,1296.2 1745.5,1296.2 1747.0,1296.2 1748.5,1296.2 1750.0,1297.5 1751.5,1297.5 1753.0,1297.5 1754.5,1297.5 1756.0,1298.7 1757.5,1301.6 1759.0,1302.8 1760.5,1302.8 1762.0,1302.8 1763.5,1302.8 1765.0,1303.1 1766.5,1304.0 1768.0,1304.2 1769.5,1305.1 1771.0,1305.5 1772.5,1305.5 1774.0,1305.5 1775.5,1307.5 1777.0,1307.5 1778.5,1307.5 1780.0,1307.5 1781.5,1309.4 1783.0,1310.5 1784.5,1310.5 1786.0,1310.7 1787.5,1310.7 1789.0,1311.4 1790.5,1311.7 1792.0,1311.7 1793.5,1313.5 1795.0,1313.5 1796.5,1313.5 1798.0,1314.6 1799.5,1314.6 1801.0,1315.3 1802.5,1317.0 1804.0,1317.0 1805.5,1317.7 1807.0,1317.7 1808.5,1317.7 1810.0,1317.8 1811.5,1317.8 1813.0,1317.8 1814.5,1317.8 1816.0,1320.0 1817.5,1320.2 1819.0,1320.2 1820.5,1320.2 1822.0,1320.2 1823.5,1321.8 1825.0,1322.6 1826.5,1322.6 1828.0,1322.6 1829.5,1322.6 1831.0,1322.6 1832.5,1322.6 1834.0,1322.6 1835.5,1324.0 1837.0,1324.4 1838.5,1324.4 1840.0,1326.7 1841.5,1326.8 1843.0,1326.8 1844.5,1326.8 1846.0,1326.8 1847.5,1329.2 1849.0,1330.5 1850.5,1330.5 1852.0,1330.5 1853.5,1330.5 1855.0,1330.5 1856.5,1330.5 1858.0,1330.5 1859.5,1331.9 1861.0,1331.9 1862.5,1331.9 1864.0,1331.9 1865.5,1331.9 1867.0,1331.9 1868.5,1331.9 1870.0,1333.6 1871.5,1335.1 1873.0,1335.1 1874.5,1335.1 1876.0,1335.1 1877.5,1335.2 1879.0,1335.2 1880.5,1335.2 1882.0,1336.2 1883.5,1336.2 1885.0,1336.2 1886.5,1336.2 1888.0,1336.6 1889.5,1337.3 1891.0,1337.3 1892.5,1337.3 1894.0,1339.3 1895.5,1339.3 1897.0,1340.2 1898.5,1340.3 1900.0,1340.3 1901.5,1340.3 1903.0,1340.3 1904.5,1340.3 1906.0,1340.3 1907.5,1341.6 1909.0,1342.1 1910.5,1342.1 1912.0,1342.1 1913.5,1342.1 1915.0,1342.1 1916.5,1342.1 1918.0,1344.3 1919.5,1344.3 1921.0,1344.3 1922.5,1344.3 1924.0,1344.3 1925.5,1344.3 1927.0,1344.6 1928.5,1345.2 1930.0,1345.2 1931.5,1345.2 1933.0,1345.8 1934.5,1346.7 1936.0,1346.7 1937.5,1346.7 1939.0,1346.7 1940.5,1346.7 1942.0,1346.7 1943.5,1348.2 1945.0,1348.7 1946.5,1348.7 1948.0,1348.7 1949.5,1348.7 1951.0,1349.4 1952.5,1349.7 1954.0,1349.7 1955.5,1350.2 1957.0,1350.2 1958.5,1350.2 1960.0,1350.5 1961.5,1350.5 1963.0,1350.5 1964.5,1350.5 1966.0,1350.5 1967.5,1350.5 1969.0,1351.5 1970.5,1352.5 1972.0,1352.5 1973.5,1352.5 1975.0,1353.0 1976.5,1354.2 1978.0,1354.2 1979.5,1354.2 1981.0,1354.2 1982.5,1354.2 1984.0,1354.2 1985.5,1354.2 1987.0,1354.7 1988.5,1354.8 1990.0,1354.8 1991.5,1354.8 1993.0,1354.8 1994.5,1354.8 1996.0,1355.1 1997.5,1355.1 1999.0,1355.1 2000.5,1355.1 2002.0,1355.1 2003.5,1355.7 2005.0,1356.1 2006.5,1356.1 2008.0,1357.3 2009.5,1357.3 2011.0,1357.7 2012.5,1357.7 2014.0,1357.7 2015.5,1357.8 2017.0,1357.9 2018.5,1358.1 2020.0,1358.1 2021.5,1358.8 2023.0,1358.9 2024.5,1358.9 2026.0,1358.9 2027.5,1358.9 2029.0,1358.9 2030.5,1358.9 2032.0,1359.7 2033.5,1359.7 2035.0,1359.7 2036.5,1359.7 2038.0,1359.7 2039.5,1360.5 2041.0,1360.6 2042.5,1360.6 2044.0,1360.8 2045.5,1360.8 2047.0,1360.8 2048.5,1360.8 2050.0,1361.8 2051.5,1361.8 2053.0,1361.8 2054.5,1361.8 2056.0,1361.8 2057.5,1362.7 2059.0,1362.8 2060.5,1362.8 2062.0,1362.8 2063.5,1362.8 2065.0,1362.8 2066.5,1362.8 2068.0,1362.8 2069.5,1362.8 2071.0,1362.9 2072.5,1363.3 2074.0,1363.4 2075.5,1363.4 2077.0,1363.8 2078.5,1364.3 2080.0,1364.3 2081.5,1364.6 2083.0,1364.6 2084.5,1364.6 2086.0,1364.6 2087.5,1364.6 2089.0,1364.6 2090.5,1364.6 2092.0,1364.9 2093.5,1365.0 2095.0,1365.2 2096.5,1365.2 2098.0,1365.2 2099.5,1366.4 2101.0,1366.6 2102.5,1366.6 2104.0,1366.6 2105.5,1366.6 2107.0,1366.8 2108.5,1366.8 2110.0,1366.8 2111.5,1366.8 2113.0,1367.0 2114.5,1367.4 2116.0,1367.7 2117.5,1367.7 2119.0,1367.7 2120.5,1367.7 2122.0,1367.7 2123.5,1368.3 2125.0,1368.3 2126.5,1368.3 2128.0,1368.4 2129.5,1368.4 2131.0,1368.4 2132.5,1368.4 2134.0,1368.8 2135.5,1368.8 2137.0,1368.8 2138.5,1368.8 2140.0,1368.8 2141.5,1368.8 2143.0,1368.8 2144.5,1368.8 2146.0,1369.5 2147.5,1369.5 2149.0,1369.5 2150.5,1369.5 2152.0,1370.0 2153.5,1370.0 2155.0,1370.1 2156.5,1370.1 2158.0,1370.1 2159.5,1370.2 2161.0,1370.4 2162.5,1370.4 2164.0,1370.4 2165.5,1370.4 2167.0,1371.0 2168.5,1371.3 2170.0,1371.3 2171.5,1371.3 2173.0,1371.3 2174.5,1371.3 2176.0,1371.3 2177.5,1371.7 2179.0,1371.7 2180.5,1371.7 2182.0,1371.7 2183.5,1372.0 2185.0,1372.1 2186.5,1372.1 2188.0,1372.7 2189.5,1373.0 2191.0,1373.0 2192.5,1373.0 2194.0,1373.0 2195.5,1373.0 2197.0,1373.0 2198.5,1373.0 2200.0,1373.0 2201.5,1373.3 2203.0,1373.3 2204.5,1373.3 2206.0,1373.3 2207.5,1373.7 2209.0,1373.7 2210.5,1373.7 2212.0,1373.7 2213.5,1373.8 2215.0,1373.8 2216.5,1373.8 2218.0,1373.8 2219.5,1373.8 2221.0,1374.1 2222.5,1374.5 2224.0,1374.5 2225.5,1374.5 2227.0,1374.8 2228.5,1375.5 2230.0,1375.5 2231.5,1375.8 2233.0,1375.2 2234.5,1375.2 2236.0,1375.2 2237.5,1375.2 2239.0,1375.2 2240.5,1375.2 2242.0,1375.2 2243.5,1375.2 2245.0,1375.5 2246.5,1376.1 2248.0,1376.2 2249.5,1376.2 2251.0,1376.2 2252.5,1376.2 2254.0,1376.4 2255.5,1376.4 2257.0,1376.4 2258.5,1376.4 2260.0,1376.4 2261.5,1376.4 2263.0,1376.4 2264.5,1376.4 2266.0,1377.4 2267.5,1377.4 2269.0,1377.4 2270.5,1377.4 2272.0,1377.4 2273.5,1377.4 2275.0,1377.4 2276.5,1377.4 2278.0,1377.4 2279.5,1377.7 2281.0,1377.8 2282.5,1377.8 2284.0,1377.8 2285.5,1377.8 2287.0,1377.8 2288.5,1377.8 2290.0,1378.2 2291.5,1378.2 2293.0,1378.2 2294.5,1378.2 2296.0,1378.8 2297.5,1378.8 2299.0,1378.9 2300.5,1378.9 2302.0,1378.9 2303.5,1378.9 2305.0,1378.9 2306.5,1378.9 2308.0,1378.9 2309.5,1379.1 2311.0,1379.5 2312.5,1379.8 2314.0,1379.9 2315.5,1379.9 2317.0,1379.9 2318.5,1379.9 2320.0,1379.9 2321.5,1379.9 2323.0,1380.3 2324.5,1380.7 2326.0,1380.7 2327.5,1380.7 2329.0,1380.7 2330.5,1380.7 2332.0,1380.7 2333.5,1380.7 2335.0,1380.7 2336.5,1380.7 2338.0,1381.1 2339.5,1381.1 2341.0,1381.2 2342.5,1381.4 2344.0,1381.4 2345.5,1381.4 2347.0,1381.4 2348.5,1381.4 2350.0,1381.4 2351.5,1381.4 2353.0,1381.4 2354.5,1381.4 2356.0,1381.4 2357.5,1381.4 2359.0,1381.7 2360.5,1381.9 2362.0,1381.9 2363.5,1382.2 2365.0,1382.2 2366.5,1382.2 2366.5,1394.8 2365.0,1394.8 2363.5,1394.8 2362.0,1394.8 2360.5,1394.8 2359.0,1394.8 2357.5,1394.8 2356.0,1394.8 2354.5,1393.9 2353.0,1393.9 2351.5,1393.6 2350.0,1393.3 2348.5,1393.3 2347.0,1393.3 2345.5,1393.3 2344.0,1393.3 2342.5,1393.3 2341.0,1393.3 2339.5,1393.2 2338.0,1392.7 2336.5,1392.7 2335.0,1392.7 2333.5,1392.9 2332.0,1392.9 2330.5,1392.9 2329.0,1392.9 2327.5,1392.9 2326.0,1392.9 2324.5,1392.9 2323.0,1392.9 2321.5,1392.7 2320.0,1392.4 2318.5,1392.4 2317.0,1392.4 2315.5,1392.4 2314.0,1392.4 2312.5,1392.4 2311.0,1392.2 2309.5,1392.2 2308.0,1392.2 2306.5,1392.2 2305.0,1391.7 2303.5,1391.4 2302.0,1391.4 2300.5,1391.4 2299.0,1391.4 2297.5,1391.4 2296.0,1391.4 2294.5,1391.4 2293.0,1391.3 2291.5,1391.3 2290.0,1391.3 2288.5,1391.0 2287.0,1390.7 2285.5,1390.7 2284.0,1390.7 2282.5,1390.7 2281.0,1390.7 2279.5,1390.7 2278.0,1390.7 2276.5,1390.0 2275.0,1390.0 2273.5,1390.0 2272.0,1390.0 2270.5,1390.0 2269.0,1389.5 2267.5,1389.5 2266.0,1389.5 2264.5,1389.5 2263.0,1389.5 2261.5,1389.5 2260.0,1389.5 2258.5,1389.5 2257.0,1389.2 2255.5,1389.1 2254.0,1389.1 2252.5,1389.1 2251.0,1389.1 2249.5,1389.1 2248.0,1389.1 2246.5,1389.1 2245.0,1389.1 2243.5,1389.0 2242.0,1388.8 2240.5,1388.7 2239.0,1388.7 2237.5,1388.7 2236.0,1388.7 2234.5,1388.5 2233.0,1388.5 2231.5,1388.5 2230.0,1388.5 2228.5,1388.2 2227.0,1388.0 2225.5,1387.6 2224.0,1387.5 2222.5,1387.5 2221.0,1387.3 2219.5,1386.9 2218.0,1387.1 2216.5,1387.1 2215.0,1387.1 2213.5,1387.1 2212.0,1387.1 2210.5,1387.1 2209.0,1387.1 2207.5,1387.1 2206.0,1387.1 2204.5,1387.0 2203.0,1386.8 2201.5,1386.1 2200.0,1386.0 2198.5,1386.0 2197.0,1385.7 2195.5,1385.7 2194.0,1385.7 2192.5,1385.7 2191.0,1385.7 2189.5,1385.7 2188.0,1385.7 2186.5,1385.7 2185.0,1385.7 2183.5,1385.5 2182.0,1385.5 2180.5,1385.5 2179.0,1384.7 2177.5,1384.6 2176.0,1384.6 2174.5,1384.6 2173.0,1384.6 2171.5,1384.6 2170.0,1384.6 2168.5,1384.6 2167.0,1384.6 2165.5,1384.0 2164.0,1383.7 2162.5,1383.7 2161.0,1383.7 2159.5,1383.7 2158.0,1383.7 2156.5,1383.7 2155.0,1383.1 2153.5,1383.1 2152.0,1383.1 2150.5,1382.8 2149.0,1382.5 2147.5,1382.5 2146.0,1382.5 2144.5,1382.5 2143.0,1382.5 2141.5,1382.5 2140.0,1382.5 2138.5,1382.1 2137.0,1382.1 2135.5,1381.9 2134.0,1381.6 2132.5,1381.6 2131.0,1381.6 2129.5,1381.6 2128.0,1381.6 2126.5,1381.6 2125.0,1381.6 2123.5,1381.6 2122.0,1381.6 2120.5,1380.5 2119.0,1380.5 2117.5,1380.5 2116.0,1380.5 2114.5,1380.5 2113.0,1380.5 2111.5,1380.1 2110.0,1379.7 2108.5,1379.7 2107.0,1379.7 2105.5,1379.7 2104.0,1379.7 2102.5,1379.1 2101.0,1379.1 2099.5,1379.1 2098.0,1379.1 2096.5,1379.1 2095.0,1379.1 2093.5,1379.1 2092.0,1379.1 2090.5,1379.1 2089.0,1378.8 2087.5,1378.0 2086.0,1377.5 2084.5,1377.5 2083.0,1377.5 2081.5,1377.5 2080.0,1377.5 2078.5,1377.5 2077.0,1377.5 2075.5,1377.4 2074.0,1377.4 2072.5,1377.4 2071.0,1377.1 2069.5,1376.7 2068.0,1376.7 2066.5,1376.7 2065.0,1376.7 2063.5,1376.7 2062.0,1376.7 2060.5,1376.2 2059.0,1376.2 2057.5,1376.2 2056.0,1376.2 2054.5,1376.2 2053.0,1376.2 2051.5,1376.2 2050.0,1376.2 2048.5,1375.3 2047.0,1374.8 2045.5,1374.1 2044.0,1373.7 2042.5,1373.7 2041.0,1373.7 2039.5,1373.7 2038.0,1373.5 2036.5,1372.8 2035.0,1372.9 2033.5,1373.2 2032.0,1373.2 2030.5,1373.2 2029.0,1373.2 2027.5,1373.2 2026.0,1373.2 2024.5,1373.2 2023.0,1373.2 2021.5,1373.1 2020.0,1372.7 2018.5,1372.1 2017.0,1372.1 2015.5,1372.1 2014.0,1372.1 2012.5,1370.9 2011.0,1370.5 2009.5,1370.1 2008.0,1370.1 2006.5,1370.1 2005.0,1370.1 2003.5,1370.1 2002.0,1370.1 2000.5,1370.1 1999.0,1369.4 1997.5,1369.4 1996.0,1369.4 1994.5,1368.7 1993.0,1368.7 1991.5,1368.7 1990.0,1368.7 1988.5,1368.7 1987.0,1368.7 1985.5,1368.7 1984.0,1368.7 1982.5,1367.2 1981.0,1367.2 1979.5,1367.2 1978.0,1367.2 1976.5,1367.2 1975.0,1366.7 1973.5,1366.7 1972.0,1366.7 1970.5,1366.7 1969.0,1366.7 1967.5,1366.4 1966.0,1365.6 1964.5,1365.5 1963.0,1365.4 1961.5,1365.4 1960.0,1365.4 1958.5,1365.4 1957.0,1364.4 1955.5,1364.4 1954.0,1364.4 1952.5,1364.4 1951.0,1364.4 1949.5,1363.8 1948.0,1362.5 1946.5,1362.5 1945.0,1362.5 1943.5,1362.5 1942.0,1362.5 1940.5,1362.5 1939.0,1361.1 1937.5,1361.0 1936.0,1361.0 1934.5,1361.0 1933.0,1361.0 1931.5,1361.0 1930.0,1361.0 1928.5,1361.0 1927.0,1360.6 1925.5,1360.0 1924.0,1359.7 1922.5,1359.7 1921.0,1359.7 1919.5,1359.7 1918.0,1359.7 1916.5,1358.0 1915.0,1358.0 1913.5,1358.0 1912.0,1358.0 1910.5,1357.7 1909.0,1357.7 1907.5,1357.7 1906.0,1357.5 1904.5,1355.4 1903.0,1355.4 1901.5,1355.4 1900.0,1355.4 1898.5,1355.1 1897.0,1354.5 1895.5,1354.5 1894.0,1354.5 1892.5,1354.5 1891.0,1353.7 1889.5,1353.7 1888.0,1353.7 1886.5,1353.7 1885.0,1352.9 1883.5,1352.9 1882.0,1352.9 1880.5,1351.5 1879.0,1351.5 1877.5,1350.6 1876.0,1348.5 1874.5,1348.5 1873.0,1348.5 1871.5,1348.5 1870.0,1348.5 1868.5,1348.5 1867.0,1348.5 1865.5,1347.9 1864.0,1347.2 1862.5,1347.2 1861.0,1347.2 1859.5,1346.8 1858.0,1346.8 1856.5,1346.8 1855.0,1346.8 1853.5,1345.9 1852.0,1344.4 1850.5,1344.4 1849.0,1344.4 1847.5,1344.3 1846.0,1344.3 1844.5,1344.3 1843.0,1343.7 1841.5,1342.7 1840.0,1342.6 1838.5,1342.6 1837.0,1342.6 1835.5,1341.4 1834.0,1340.0 1832.5,1340.0 1831.0,1339.8 1829.5,1339.3 1828.0,1338.5 1826.5,1337.2 1825.0,1337.2 1823.5,1337.2 1822.0,1337.2 1820.5,1337.2 1819.0,1337.2 1817.5,1337.2 1816.0,1337.2 1814.5,1336.5 1813.0,1335.4 1811.5,1334.5 1810.0,1334.5 1808.5,1334.5 1807.0,1334.5 1805.5,1333.8 1804.0,1333.0 1802.5,1333.0 1801.0,1333.0 1799.5,1332.4 1798.0,1331.7 1796.5,1331.7 1795.0,1331.7 1793.5,1330.8 1792.0,1329.4 1790.5,1329.4 1789.0,1329.4 1787.5,1329.4 1786.0,1329.4 1784.5,1327.4 1783.0,1327.4 1781.5,1326.2 1780.0,1324.5 1778.5,1324.5 1777.0,1324.5 1775.5,1324.5 1774.0,1324.5 1772.5,1322.4 1771.0,1322.4 1769.5,1322.2 1768.0,1322.2 1766.5,1322.2 1765.0,1322.2 1763.5,1320.8 1762.0,1318.5 1760.5,1318.5 1759.0,1317.8 1757.5,1316.6 1756.0,1316.0 1754.5,1316.0 1753.0,1316.0 1751.5,1316.0 1750.0,1316.0 1748.5,1316.0 1747.0,1315.6 1745.5,1313.9 1744.0,1313.1 1742.5,1313.1 1741.0,1313.1 1739.5,1313.1 1738.0,1313.1 1736.5,1309.6 1735.0,1309.6 1733.5,1309.6 1732.0,1309.6 1730.5,1308.9 1729.0,1308.9 1727.5,1308.9 1726.0,1308.9 1724.5,1308.9 1723.0,1307.2 1721.5,1306.7 1720.0,1306.7 1718.5,1306.7 1717.0,1306.7 1715.5,1306.7 1714.0,1306.7 1712.5,1305.6 1711.0,1305.6 1709.5,1305.6 1708.0,1305.6 1706.5,1304.1 1705.0,1304.1 1703.5,1303.3 1702.0,1301.7 1700.5,1301.7 1699.0,1299.7 1697.5,1298.8 1696.0,1298.8 1694.5,1298.8 1693.0,1298.6 1691.5,1298.6 1690.0,1298.6 1688.5,1298.6 1687.0,1296.6 1685.5,1296.6 1684.0,1296.6 1682.5,1296.6 1681.0,1296.6 1679.5,1295.5 1678.0,1292.8 1676.5,1292.8 1675.0,1291.4 1673.5,1291.2 1672.0,1291.2 1670.5,1291.2 1669.0,1291.2 1667.5,1291.2 1666.0,1291.2 1664.5,1289.3 1663.0,1289.3 1661.5,1289.3 1660.0,1289.3 1658.5,1289.3 1657.0,1287.0 1655.5,1286.3 1654.0,1286.3 1652.5,1286.3 1651.0,1284.6 1649.5,1284.6 1648.0,1284.6 1646.5,1282.5 1645.0,1281.6 1643.5,1281.4 1642.0,1281.4 1640.5,1281.4 1639.0,1280.4 1637.5,1279.7 1636.0,1279.7 1634.5,1279.5 1633.0,1277.5 1631.5,1275.7 1630.0,1275.7 1628.5,1275.7 1627.0,1275.3 1625.5,1274.7 1624.0,1274.7 1622.5,1274.7 1621.0,1273.2 1619.5,1273.2 1618.0,1273.2 1616.5,1271.9 1615.0,1271.5 1613.5,1271.5 1612.0,1271.5 1610.5,1270.5 1609.0,1269.9 1607.5,1269.3 1606.0,1268.1 1604.5,1266.8 1603.0,1266.8 1601.5,1266.0 1600.0,1265.5 1598.5,1265.5 1597.0,1264.2 1595.5,1264.2 1594.0,1264.2 1592.5,1261.8 1591.0,1260.7 1589.5,1260.1 1588.0,1260.1 1586.5,1260.1 1585.0,1257.8 1583.5,1257.3 1582.0,1257.3 1580.5,1257.3 1579.0,1256.8 1577.5,1256.0 1576.0,1255.1 1574.5,1253.1 1573.0,1253.1 1571.5,1253.1 1570.0,1253.1 1568.5,1253.1 1567.0,1252.6 1565.5,1251.5 1564.0,1249.9 1562.5,1249.6 1561.0,1246.8 1559.5,1245.0 1558.0,1245.0 1556.5,1244.7 1555.0,1244.7 1553.5,1244.1 1552.0,1243.6 1550.5,1243.6 1549.0,1241.9 1547.5,1241.5 1546.0,1241.5 1544.5,1240.4 1543.0,1237.8 1541.5,1236.4 1540.0,1236.4 1538.5,1236.4 1537.0,1236.4 1535.5,1236.4 1534.0,1236.4 1532.5,1233.8 1531.0,1233.2 1529.5,1232.8 1528.0,1231.3 1526.5,1229.9 1525.0,1229.9 1523.5,1229.9 1522.0,1229.9 1520.5,1229.9 1519.0,1228.9 1517.5,1227.3 1516.0,1225.6 1514.5,1225.6 1513.0,1224.8 1511.5,1224.4 1510.0,1224.4 1508.5,1222.2 1507.0,1222.2 1505.5,1221.1 1504.0,1219.9 1502.5,1219.9 1501.0,1219.9 1499.5,1219.9 1498.0,1219.9 1496.5,1218.4 1495.0,1215.6 1493.5,1215.0 1492.0,1215.0 1490.5,1215.0 1489.0,1215.0 1487.5,1213.6 1486.0,1212.0 1484.5,1212.0 1483.0,1212.0 1481.5,1210.6 1480.0,1206.7 1478.5,1206.7 1477.0,1206.4 1475.5,1206.4 1474.0,1206.4 1472.5,1202.7 1471.0,1202.4 1469.5,1202.4 1468.0,1202.4 1466.5,1201.1 1465.0,1201.1 1463.5,1200.4 1462.0,1200.4 1460.5,1200.4 1459.0,1199.5 1457.5,1197.5 1456.0,1194.2 1454.5,1193.6 1453.0,1193.6 1451.5,1193.6 1450.0,1193.6 1448.5,1190.8 1447.0,1190.6 1445.5,1190.6 1444.0,1190.6 1442.5,1187.7 1441.0,1187.4 1439.5,1187.4 1438.0,1187.4 1436.5,1187.4 1435.0,1186.5 1433.5,1183.8 1432.0,1178.6 1430.5,1178.5 1429.0,1178.2 1427.5,1177.8 1426.0,1177.6 1424.5,1177.6 1423.0,1177.6 1421.5,1177.2 1420.0,1176.1 1418.5,1176.1 1417.0,1176.1 1415.5,1174.3 1414.0,1173.2 1412.5,1173.2 1411.0,1171.4 1409.5,1170.5 1408.0,1170.5 1406.5,1170.5 1405.0,1169.8 1403.5,1168.3 1402.0,1168.3 1400.5,1168.3 1399.0,1167.9 1397.5,1166.5 1396.0,1164.3 1394.5,1164.3 1393.0,1164.3 1391.5,1163.9 1390.0,1166.3 1388.5,1167.9 1387.0,1167.9 1385.5,1167.9 1384.0,1167.9 1382.5,1167.9 1381.0,1167.9 1379.5,1167.9 1378.0,1167.9 1376.5,1167.9 1375.0,1166.6 1373.5,1166.6 1372.0,1166.6 1370.5,1166.6 1369.0,1165.8 1367.5,1164.4 1366.0,1164.4 1364.5,1164.4 1363.0,1164.4 1361.5,1164.0 1360.0,1164.0 1358.5,1164.0 1357.0,1164.0 1355.5,1164.0 1354.0,1164.0 1352.5,1161.0 1351.0,1161.0 1349.5,1161.0 1348.0,1161.0 1346.5,1158.7 1345.0,1158.7 1343.5,1158.7 1342.0,1158.7 1340.5,1157.5 1339.0,1157.5 1337.5,1157.5 1336.0,1157.5 1334.5,1157.5 1333.0,1157.4 1331.5,1157.4 1330.0,1157.4 1328.5,1157.4 1327.0,1157.4 1325.5,1157.4 1324.0,1157.4 1322.5,1156.7 1321.0,1156.7 1319.5,1155.8 1318.0,1155.8 1316.5,1155.8 1315.0,1155.8 1313.5,1155.0 1312.0,1155.0 1310.5,1155.0 1309.0,1152.4 1307.5,1151.2 1306.0,1151.2 1304.5,1151.2 1303.0,1149.2 1301.5,1149.2 1300.0,1149.2 1298.5,1149.2 1297.0,1149.2 1295.5,1148.9 1294.0,1148.1 1292.5,1144.2 1291.0,1143.9 1289.5,1143.6 1288.0,1142.9 1286.5,1139.0 1285.0,1138.8 1283.5,1138.8 1282.0,1138.8 1280.5,1137.7 1279.0,1137.6 1277.5,1137.0 1276.0,1135.3 1274.5,1135.0 1273.0,1132.4 1271.5,1132.4 1270.0,1132.4 1268.5,1125.9 1267.0,1124.4 1265.5,1123.7 1264.0,1121.7 1262.5,1121.2 1261.0,1119.6 1259.5,1117.6 1258.0,1116.4 1256.5,1114.1 1255.0,1113.2 1253.5,1111.5 1252.0,1106.8 1250.5,1104.0 1249.0,1102.4 1247.5,1102.4 1246.0,1102.4 1244.5,1099.7 1243.0,1096.4 1241.5,1096.4 1240.0,1096.4 1238.5,1096.4 1237.0,1095.4 1235.5,1092.4 1234.0,1090.7 1232.5,1090.7 1231.0,1088.9 1229.5,1086.2 1228.0,1083.6 1226.5,1083.3 1225.0,1081.6 1223.5,1081.3 1222.0,1081.3 1220.5,1077.9 1219.0,1076.1 1217.5,1074.5 1216.0,1071.9 1214.5,1071.9 1213.0,1071.9 1211.5,1070.4 1210.0,1067.2 1208.5,1067.2 1207.0,1067.2 1205.5,1066.3 1204.0,1063.4 1202.5,1060.0 1201.0,1059.3 1199.5,1059.3 1198.0,1059.3 1196.5,1059.3 1195.0,1056.1 1193.5,1052.1 1192.0,1052.0 1190.5,1052.0 1189.0,1052.0 1187.5,1051.8 1186.0,1051.2 1184.5,1046.1 1183.0,1045.7 1181.5,1045.7 1180.0,1045.7 1178.5,1044.0 1177.0,1044.0 1175.5,1042.9 1174.0,1039.7 1172.5,1039.4 1171.0,1039.3 1169.5,1037.7 1168.0,1033.0 1166.5,1031.7 1165.0,1031.7 1163.5,1031.7 1162.0,1031.7 1160.5,1029.8 1159.0,1026.9 1157.5,1024.7 1156.0,1024.7 1154.5,1024.7 1153.0,1024.7 1151.5,1023.6 1150.0,1020.4 1148.5,1016.6 1147.0,1016.6 1145.5,1016.1 1144.0,1016.1 1142.5,1016.1 1141.0,1015.2 1139.5,1012.7 1138.0,1008.0 1136.5,1006.5 1135.0,1005.4 1133.5,1003.6 1132.0,1003.6 1130.5,1003.6 1129.0,1002.2 1127.5,1001.4 1126.0,1001.4 1124.5,999.7 1123.0,996.3 1121.5,995.7 1120.0,995.7 1118.5,993.4 1117.0,990.9 1115.5,990.9 1114.0,990.9 1112.5,989.3 1111.0,988.3 1109.5,987.4 1108.0,986.1 1106.5,979.4 1105.0,979.2 1103.5,979.2 1102.0,979.2 1100.5,979.2 1099.0,974.6 1097.5,970.3 1096.0,970.3 1094.5,970.3 1093.0,967.4 1091.5,966.3 1090.0,966.3 1088.5,965.5 1087.0,963.8 1085.5,962.0 1084.0,962.0 1082.5,962.0 1081.0,958.1 1079.5,955.5 1078.0,955.5 1076.5,951.9 1075.0,951.9 1073.5,951.9 1072.0,951.9 1070.5,945.4 1069.0,945.2 1067.5,943.9 1066.0,941.3 1064.5,941.3 1063.0,941.3 1061.5,939.9 1060.0,935.8 1058.5,934.0 1057.0,931.0 1055.5,929.3 1054.0,929.3 1052.5,929.3 1051.0,926.2 1049.5,925.3 1048.0,925.3 1046.5,919.4 1045.0,919.4 1043.5,918.4 1042.0,915.1 1040.5,912.6 1039.0,911.1 1037.5,910.2 1036.0,909.5 1034.5,906.1 1033.0,902.0 1031.5,900.3 1030.0,900.3 1028.5,896.7 1027.0,893.9 1025.5,892.1 1024.0,891.7 1022.5,886.6 1021.0,886.6 1019.5,884.8 1018.0,882.8 1016.5,882.8 1015.0,878.4 1013.5,873.6 1012.0,872.4 1010.5,869.8 1009.0,869.8 1007.5,869.1 1006.0,867.1 1004.5,864.7 1003.0,862.7 1001.5,860.2 1000.0,856.5 998.5,856.5 997.0,856.5 995.5,856.5 994.0,856.5 992.5,851.3 991.0,862.4 989.5,871.5 988.0,871.5 986.5,871.5 985.0,871.5 983.5,871.5 982.0,871.5 980.5,871.5 979.0,871.5 977.5,860.8 976.0,828.8 974.5,827.9 973.0,827.9 971.5,826.3 970.0,821.5 968.5,821.3 967.0,821.0 965.5,819.9 964.0,817.2 962.5,814.0 961.0,814.0 959.5,812.6 958.0,811.1 956.5,811.1 955.0,808.3 953.5,804.2 952.0,803.1 950.5,803.1 949.0,800.9 947.5,800.9 946.0,800.9 944.5,798.0 943.0,794.1 941.5,794.0 940.0,794.0 938.5,788.0 937.0,782.8 935.5,779.9 934.0,779.9 932.5,778.4 931.0,778.4 929.5,775.6 928.0,767.2 926.5,766.9 925.0,766.9 923.5,764.9 922.0,759.1 920.5,753.3 919.0,752.7 917.5,752.7 916.0,752.7 914.5,747.9 913.0,743.1 911.5,741.3 910.0,741.3 908.5,736.9 907.0,732.5 905.5,729.4 904.0,728.9 902.5,725.5 901.0,723.1 899.5,720.5 898.0,716.1 896.5,711.7 895.0,710.3 893.5,707.4 892.0,698.9 890.5,696.9 889.0,692.7 887.5,688.7 886.0,687.1 884.5,687.1 883.0,685.7 881.5,682.6 880.0,677.2 878.5,674.4 877.0,670.8 875.5,665.5 874.0,657.8 872.5,657.7 871.0,653.4 869.5,648.6 868.0,647.0 866.5,641.9 865.0,638.9 863.5,636.4 862.0,632.5 860.5,629.0 859.0,621.5 857.5,614.8 856.0,613.8 854.5,610.8 853.0,610.8 851.5,609.3 850.0,604.6 848.5,601.7 847.0,596.3 845.5,590.6 844.0,586.7 842.5,582.6 841.0,580.5 839.5,580.5 838.0,580.5 836.5,577.2 835.0,572.9 833.5,568.5 832.0,565.0 830.5,563.4 829.0,563.4 827.5,561.3 826.0,554.9 824.5,552.8 823.0,550.9 821.5,548.2 820.0,546.8 818.5,546.8 817.0,540.8 815.5,534.5 814.0,534.5 812.5,534.5 811.0,529.0 809.5,522.3 808.0,522.3 806.5,522.3 805.0,522.3 803.5,519.4 802.0,514.4 800.5,514.4 799.0,509.6 797.5,505.9 796.0,505.9 794.5,498.7 793.0,497.9 791.5,495.9 790.0,490.3 788.5,490.3 787.0,490.3 785.5,490.3 784.0,490.3 782.5,467.9 781.0,463.9 779.5,463.9 778.0,463.9 776.5,463.9 775.0,463.9 773.5,462.1 772.0,460.4 770.5,460.4 769.0,456.8 767.5,456.8 766.0,456.8 764.5,452.3 763.0,452.3 761.5,449.8 760.0,449.3 758.5,449.3 757.0,449.3 755.5,444.3 754.0,443.6 752.5,443.6 751.0,443.6 749.5,443.6 748.0,443.6 746.5,439.6 745.0,439.6 743.5,435.3 742.0,435.3 740.5,435.3 739.0,430.5 737.5,425.3 736.0,425.3 734.5,425.3 733.0,420.9 731.5,420.9 730.0,420.9 728.5,414.7 727.0,414.7 725.5,413.4 724.0,410.9 722.5,410.9 721.0,408.2 719.5,408.2 718.0,408.2 716.5,408.2 715.0,403.0 713.5,402.9 712.0,402.9 710.5,402.9 709.0,392.8 707.5,390.9 706.0,390.9 704.5,389.8 703.0,389.8 701.5,389.2 700.0,387.5 698.5,376.7 697.0,376.7 695.5,376.7 694.0,376.7 692.5,376.7 691.0,376.7 689.5,374.7 688.0,374.7 686.5,374.7 685.0,368.0 683.5,368.0 682.0,368.0 680.5,363.8 679.0,363.8 677.5,360.7 676.0,351.4 674.5,343.2 673.0,343.2 671.5,342.1 670.0,342.1 668.5,342.1 667.0,342.1 665.5,339.6 664.0,332.0 662.5,324.9 661.0,324.4 659.5,322.2 658.0,316.0 656.5,306.5 655.0,300.9 653.5,300.9 652.0,300.9 650.5,300.9 649.0,300.9 647.5,300.9 646.0,300.9 644.5,300.5 643.0,300.7 641.5,303.9 640.0,304.1 638.5,311.5 637.0,317.2 635.5,319.3 634.0,321.5 632.5,330.3 631.0,332.6 629.5,340.6 628.0,350.0 626.5,356.3 625.0,367.3 623.5,376.2 622.0,383.8 620.5,391.0 619.0,398.8 617.5,414.1 616.0,428.6 614.5,434.2 613.0,452.7 611.5,461.5 610.0,470.2 608.5,488.7 607.0,494.9 605.5,510.4 604.0,528.6 602.5,542.6 601.0,556.0 599.5,574.2 598.0,593.9 596.5,611.6 595.0,627.6 593.5,639.6 592.0,653.0 590.5,672.9 589.0,691.4 587.5,709.3 586.0,727.7 584.5,748.3 583.0,770.7 581.5,791.4 580.0,813.5 578.5,840.3 577.0,861.2 575.5,882.6 574.0,906.3 572.5,933.4 571.0,954.4 569.5,976.1 568.0,997.9 566.5,1019.8 565.0,1047.0 563.5,1072.0 562.0,1094.5 560.5,1115.1 559.0,1135.8 557.5,1153.3 556.0,1169.1 554.5,1184.5 553.0,1199.1 551.5,1212.3 550.0,1225.8 548.5,1241.1 547.0,1251.6 545.5,1263.3 544.0,1275.4 542.5,1287.2 541.0,1295.3 539.5,1305.3 538.0,1314.4 536.5,1319.7 535.0,1326.7 533.5,1334.9 532.0,1343.0 530.5,1349.8 529.0,1353.3 527.5,1357.1 526.0,1361.0 524.5,1364.9 523.0,1368.8 521.5,1371.2 520.0,1373.3 518.5,1376.5 517.0,1378.2 515.5,1379.5 514.0,1380.8 512.5,1382.6 511.0,1383.6 509.5,1385.4 508.0,1387.2 506.5,1388.1 505.0,1389.2 503.5,1389.8 502.0,1390.4 500.5,1391.4 499.0,1391.9 497.5,1392.8 496.0,1393.5 494.5,1393.5 493.0,1394.5 491.5,1395.2 490.0,1395.5 488.5,1396.2 487.0,1396.2 485.5,1396.4 484.0,1397.1 482.5,1397.2 481.0,1398.1 479.5,1398.8 478.0,1399.1 476.5,1399.1 475.0,1399.1 473.5,1399.8 472.0,1400.6 470.5,1400.7 469.0,1400.7 467.5,1400.7 466.0,1400.7 464.5,1401.1 463.0,1401.1 461.5,1401.1 460.0,1401.1 458.5,1401.6 457.0,1401.6 455.5,1401.7 454.0,1401.7 452.5,1401.7 451.0,1401.7 449.5,1401.7 448.0,1401.7 446.5,1401.7 445.0,1401.7 443.5,1401.7 442.0,1401.7 440.5,1401.7 439.0,1401.7 437.5,1401.6 436.0,1401.6 434.5,1401.6 433.0,1401.6 431.5,1401.6 430.0,1401.6 428.5,1401.7 427.0,1401.7 425.5,1401.7 424.0,1401.7 422.5,1401.7 421.0,1401.7 419.5,1401.7 418.0,1401.7 416.5,1401.7 415.0,1401.4 413.5,1401.4 412.0,1401.4 410.5,1401.4 409.0,1401.4 407.5,1401.4 406.0,1401.4 404.5,1401.6 403.0,1401.6 401.5,1401.6 400.0,1401.6 398.5,1401.6 397.0,1401.6 395.5,1401.6 394.0,1401.6 392.5,1401.6 391.0,1401.6 389.5,1401.6 388.0,1401.7 386.5,1401.7 385.0,1401.7 383.5,1401.7 382.0,1401.7 380.5,1401.7 379.0,1401.7 377.5,1401.7 376.0,1401.7 374.5,1401.6 373.0,1401.6 371.5,1401.6 370.0,1401.6 368.5,1401.6 367.0,1401.7 365.5,1401.7 364.0,1401.7 362.5,1401.7 361.0,1401.7 359.5,1401.7 358.0,1401.7 356.5,1401.7 355.0,1401.7 353.5,1401.7 352.0,1401.7 350.5,1401.7 349.0,1401.6 347.5,1401.6 346.0,1401.6 344.5,1401.6 343.0,1401.6 341.5,1401.5 340.0,1401.5 338.5,1401.7 337.0,1401.7 335.5,1401.7 334.0,1401.7 332.5,1401.7 331.0,1401.7 329.5,1401.7 328.0,1401.7"/>
<polygon fill="#33006b" points="328.0,1389.7 329.5,1389.4 331.0,1389.4 332.5,1389.4 334.0,1389.4 335.5,1389.4 337.0,1389.3 338.5,1389.3 340.0,1389.3 341.5,1389.3 343.0,1389.3 344.5,1389.3 346.0,1389.3 347.5,1389.3 349.0,1389.3 350.5,1389.3 352.0,1389.6 353.5,1389.6 355.0,1389.6 356.5,1389.6 358.0,1389.8 359.5,1389.6 361.0,1389.4 362.5,1389.4 364.0,1389.4 365.5,1389.4 367.0,1389.4 368.5,1389.4 370.0,1389.4 371.5,1389.4 373.0,1389.4 374.5,1389.4 376.0,1389.4 377.5,1389.4 379.0,1389.4 380.5,1389.3 382.0,1389.3 383.5,1389.3 385.0,1389.3 386.5,1389.3 388.0,1389.3 389.5,1389.3 391.0,1389.3 392.5,1389.3 394.0,1389.3 395.5,1389.3 397.0,1389.5 398.5,1389.5 400.0,1389.5 401.5,1389.5 403.0,1389.5 404.5,1389.5 406.0,1389.5 407.5,1389.5 409.0,1389.5 410.5,1389.5 412.0,1389.6 413.5,1389.6 415.0,1389.6 416.5,1389.5 418.0,1389.3 419.5,1389.3 421.0,1389.3 422.5,1389.3 424.0,1389.3 425.5,1389.3 427.0,1389.3 428.5,1389.3 430.0,1389.3 431.5,1389.4 433.0,1389.4 434.5,1389.4 436.0,1389.6 437.5,1389.6 439.0,1389.6 440.5,1389.6 442.0,1389.6 443.5,1389.6 445.0,1389.6 446.5,1389.6 448.0,1389.6 449.5,1389.4 451.0,1389.2 452.5,1389.2 454.0,1389.2 455.5,1389.2 457.0,1389.1 458.5,1389.1 460.0,1388.4 461.5,1388.4 463.0,1388.4 464.5,1388.3 466.0,1387.5 467.5,1387.5 469.0,1387.2 470.5,1386.8 472.0,1386.8 473.5,1386.4 475.0,1385.8 476.5,1385.2 478.0,1384.8 479.5,1383.4 481.0,1383.0 482.5,1383.0 484.0,1382.9 485.5,1381.6 487.0,1380.9 488.5,1380.3 490.0,1379.4 491.5,1379.3 493.0,1378.0 494.5,1376.3 496.0,1375.4 497.5,1373.4 499.0,1372.5 500.5,1371.8 502.0,1370.8 503.5,1369.8 505.0,1368.3 506.5,1365.7 508.0,1362.0 509.5,1360.9 511.0,1356.8 512.5,1352.3 514.0,1350.4 515.5,1343.9 517.0,1339.3 518.5,1334.4 520.0,1327.3 521.5,1324.3 523.0,1318.5 524.5,1310.1 526.0,1299.2 527.5,1292.1 529.0,1282.3 530.5,1271.8 532.0,1262.2 533.5,1251.3 535.0,1238.1 536.5,1225.7 538.0,1217.1 539.5,1201.4 541.0,1187.5 542.5,1173.0 544.0,1155.0 545.5,1137.1 547.0,1118.8 548.5,1099.9 550.0,1080.4 551.5,1062.5 553.0,1041.1 554.5,1017.1 556.0,991.6 557.5,968.6 559.0,946.5 560.5,924.7 562.0,902.9 563.5,876.5 565.0,854.8 566.5,833.4 568.0,808.0 569.5,786.8 571.0,766.0 572.5,744.8 574.0,722.8 575.5,705.2 577.0,687.5 578.5,668.2 580.0,645.6 581.5,629.0 583.0,613.1 584.5,597.3 586.0,581.1 587.5,564.4 589.0,547.0 590.5,530.6 592.0,516.5 593.5,505.2 595.0,494.2 596.5,481.4 598.0,464.3 599.5,452.6 601.0,441.1 602.5,430.3 604.0,420.4 605.5,409.1 607.0,398.6 608.5,386.7 610.0,371.2 611.5,364.5 613.0,353.9 614.5,344.6 616.0,341.7 617.5,329.3 619.0,325.3 620.5,323.0 622.0,314.4 623.5,312.0 625.0,307.1 626.5,301.1 628.0,295.4 629.5,294.3 631.0,289.7 632.5,284.7 634.0,282.8 635.5,282.8 637.0,282.8 638.5,282.8 640.0,282.8 641.5,280.4 643.0,277.5 644.5,277.5 646.0,277.5 647.5,277.5 649.0,277.5 650.5,277.5 652.0,277.5 653.5,277.5 655.0,279.1 656.5,282.9 658.0,282.9 659.5,283.6 661.0,284.8 662.5,284.8 664.0,284.8 665.5,285.6 667.0,286.3 668.5,286.3 670.0,286.3 671.5,286.3 673.0,287.9 674.5,290.2 676.0,290.2 677.5,290.2 679.0,295.0 680.5,299.2 682.0,299.2 683.5,299.2 685.0,299.2 686.5,299.2 688.0,299.2 689.5,299.2 691.0,299.2 692.5,299.2 694.0,300.6 695.5,306.2 697.0,314.1 698.5,314.1 700.0,314.1 701.5,318.0 703.0,318.0 704.5,318.0 706.0,318.0 707.5,321.2 709.0,328.9 710.5,336.6 712.0,336.6 713.5,336.6 715.0,336.6 716.5,336.6 718.0,336.6 719.5,339.4 721.0,339.4 722.5,339.4 724.0,339.4 725.5,344.2 727.0,344.2 728.5,344.2 730.0,344.2 731.5,344.4 733.0,344.4 734.5,344.4 736.0,348.6 737.5,348.6 739.0,348.6 740.5,348.6 742.0,348.6 743.5,350.5 745.0,354.2 746.5,359.3 748.0,365.7 749.5,369.4 751.0,369.4 752.5,369.4 754.0,369.4 755.5,369.4 757.0,370.1 758.5,370.1 760.0,370.1 761.5,370.1 763.0,376.7 764.5,381.6 766.0,381.6 767.5,381.6 769.0,381.6 770.5,381.6 772.0,381.6 773.5,381.6 775.0,381.6 776.5,381.6 778.0,396.8 779.5,396.8 781.0,396.8 782.5,396.8 784.0,396.8 785.5,399.4 787.0,399.4 788.5,399.4 790.0,403.7 791.5,403.7 793.0,403.7 794.5,403.8 796.0,405.3 797.5,405.3 799.0,406.4 800.5,429.6 802.0,430.1 803.5,430.2 805.0,432.2 806.5,437.1 808.0,437.1 809.5,437.1 811.0,438.2 812.5,441.5 814.0,447.6 815.5,447.6 817.0,449.1 818.5,453.8 820.0,457.6 821.5,457.6 823.0,459.3 824.5,464.6 826.0,467.0 827.5,467.0 829.0,468.1 830.5,471.4 832.0,482.0 833.5,485.7 835.0,485.7 836.5,485.7 838.0,490.7 839.5,493.0 841.0,496.5 842.5,503.5 844.0,503.5 845.5,503.5 847.0,505.8 848.5,512.7 850.0,512.7 851.5,516.0 853.0,521.3 854.5,527.2 856.0,528.9 857.5,528.9 859.0,530.4 860.5,534.7 862.0,538.6 863.5,541.8 865.0,545.7 866.5,551.5 868.0,555.6 869.5,556.4 871.0,557.9 872.5,562.2 874.0,562.6 875.5,566.8 877.0,573.7 878.5,582.1 880.0,582.1 881.5,584.9 883.0,589.0 884.5,593.1 886.0,596.5 887.5,601.4 889.0,604.1 890.5,604.1 892.0,608.3 893.5,615.2 895.0,620.9 896.5,621.3 898.0,627.0 899.5,627.0 901.0,629.9 902.5,638.8 904.0,639.9 905.5,642.6 907.0,647.3 908.5,650.9 910.0,650.9 911.5,655.2 913.0,660.0 914.5,661.3 916.0,665.4 917.5,671.4 919.0,675.9 920.5,675.9 922.0,680.3 923.5,680.3 925.0,683.9 926.5,694.8 928.0,697.5 929.5,698.5 931.0,698.5 932.5,698.5 934.0,705.0 935.5,706.2 937.0,707.6 938.5,711.8 940.0,712.0 941.5,714.1 943.0,717.2 944.5,720.6 946.0,723.4 947.5,729.4 949.0,731.9 950.5,731.9 952.0,736.3 953.5,736.3 955.0,737.2 956.5,740.1 958.0,742.5 959.5,749.3 961.0,752.4 962.5,752.4 964.0,752.4 965.5,758.4 967.0,760.5 968.5,760.5 970.0,763.0 971.5,766.9 973.0,769.0 974.5,769.0 976.0,776.2 977.5,776.2 979.0,777.4 980.5,780.9 982.0,783.0 983.5,783.5 985.0,785.2 986.5,790.5 988.0,791.8 989.5,791.8 991.0,791.8 992.5,791.8 994.0,798.9 995.5,801.9 997.0,802.6 998.5,803.2 1000.0,805.9 1001.5,805.9 1003.0,806.6 1004.5,808.7 1006.0,811.3 1007.5,811.3 1009.0,813.1 1010.5,817.1 1012.0,817.1 1013.5,818.7 1015.0,822.3 1016.5,827.2 1018.0,827.2 1019.5,827.2 1021.0,828.8 1022.5,833.8 1024.0,837.6 1025.5,839.5 1027.0,839.5 1028.5,839.5 1030.0,839.5 1031.5,841.8 1033.0,844.0 1034.5,844.0 1036.0,844.0 1037.5,847.9 1039.0,852.0 1040.5,852.5 1042.0,854.1 1043.5,854.9 1045.0,854.9 1046.5,854.9 1048.0,857.5 1049.5,863.0 1051.0,863.4 1052.5,863.4 1054.0,864.7 1055.5,865.4 1057.0,866.7 1058.5,869.9 1060.0,871.6 1061.5,871.6 1063.0,872.7 1064.5,875.9 1066.0,877.2 1067.5,878.2 1069.0,880.7 1070.5,886.6 1072.0,888.0 1073.5,888.0 1075.0,888.0 1076.5,888.0 1078.0,888.0 1079.5,890.2 1081.0,893.3 1082.5,896.0 1084.0,896.4 1085.5,899.1 1087.0,902.1 1088.5,903.6 1090.0,904.5 1091.5,904.5 1093.0,904.5 1094.5,904.5 1096.0,908.6 1097.5,908.6 1099.0,908.6 1100.5,908.6 1102.0,910.4 1103.5,913.8 1105.0,916.1 1106.5,916.1 1108.0,916.1 1109.5,916.1 1111.0,916.9 1112.5,919.4 1114.0,922.2 1115.5,924.6 1117.0,926.9 1118.5,929.4 1120.0,929.4 1121.5,930.1 1123.0,930.1 1124.5,930.1 1126.0,934.0 1127.5,935.9 1129.0,936.4 1130.5,936.4 1132.0,936.4 1133.5,937.0 1135.0,938.5 1136.5,941.3 1138.0,942.4 1139.5,944.2 1141.0,945.1 1142.5,945.1 1144.0,949.2 1145.5,949.2 1147.0,949.2 1148.5,949.2 1150.0,953.9 1151.5,953.9 1153.0,954.8 1154.5,957.7 1156.0,960.4 1157.5,962.1 1159.0,963.0 1160.5,963.3 1162.0,968.4 1163.5,971.3 1165.0,971.3 1166.5,971.3 1168.0,973.0 1169.5,976.5 1171.0,979.0 1172.5,979.0 1174.0,985.9 1175.5,989.1 1177.0,990.5 1178.5,990.5 1180.0,990.5 1181.5,992.9 1183.0,993.5 1184.5,993.5 1186.0,993.9 1187.5,993.9 1189.0,994.1 1190.5,994.5 1192.0,998.0 1193.5,998.0 1195.0,999.9 1196.5,1002.9 1198.0,1002.9 1199.5,1002.9 1201.0,1002.9 1202.5,1002.9 1204.0,1002.9 1205.5,1002.9 1207.0,1003.6 1208.5,1005.8 1210.0,1007.8 1211.5,1007.8 1213.0,1008.4 1214.5,1010.3 1216.0,1014.2 1217.5,1014.2 1219.0,1014.6 1220.5,1015.6 1222.0,1016.3 1223.5,1018.6 1225.0,1021.5 1226.5,1021.5 1228.0,1021.5 1229.5,1025.2 1231.0,1029.3 1232.5,1030.3 1234.0,1030.8 1235.5,1031.7 1237.0,1033.0 1238.5,1033.2 1240.0,1033.2 1241.5,1036.1 1243.0,1040.3 1244.5,1044.4 1246.0,1044.5 1247.5,1044.5 1249.0,1045.0 1250.5,1046.4 1252.0,1047.2 1253.5,1047.2 1255.0,1048.1 1256.5,1050.8 1258.0,1056.8 1259.5,1058.4 1261.0,1059.2 1262.5,1059.8 1264.0,1059.8 1265.5,1059.8 1267.0,1061.3 1268.5,1065.7 1270.0,1066.6 1271.5,1066.6 1273.0,1067.9 1274.5,1071.8 1276.0,1072.9 1277.5,1072.9 1279.0,1073.4 1280.5,1074.9 1282.0,1076.8 1283.5,1080.7 1285.0,1083.9 1286.5,1083.9 1288.0,1083.9 1289.5,1087.4 1291.0,1088.0 1292.5,1088.0 1294.0,1091.1 1295.5,1092.0 1297.0,1092.0 1298.5,1092.0 1300.0,1095.1 1301.5,1098.1 1303.0,1098.1 1304.5,1098.1 1306.0,1101.5 1307.5,1101.5 1309.0,1102.8 1310.5,1103.7 1312.0,1103.7 1313.5,1103.7 1315.0,1103.7 1316.5,1103.7 1318.0,1106.1 1319.5,1106.5 1321.0,1107.3 1322.5,1109.5 1324.0,1110.3 1325.5,1110.3 1327.0,1110.8 1328.5,1112.5 1330.0,1113.7 1331.5,1113.7 1333.0,1113.7 1334.5,1113.7 1336.0,1116.5 1337.5,1116.5 1339.0,1116.5 1340.5,1116.5 1342.0,1116.5 1343.5,1116.5 1345.0,1117.9 1346.5,1119.0 1348.0,1119.0 1349.5,1119.1 1351.0,1120.1 1352.5,1120.1 1354.0,1120.1 1355.5,1120.1 1357.0,1120.5 1358.5,1122.0 1360.0,1122.1 1361.5,1122.1 1363.0,1122.1 1364.5,1122.1 1366.0,1122.1 1367.5,1122.1 1369.0,1123.9 1370.5,1126.5 1372.0,1126.5 1373.5,1126.7 1375.0,1126.9 1376.5,1126.9 1378.0,1126.9 1379.5,1127.2 1381.0,1127.2 1382.5,1127.2 1384.0,1116.9 1385.5,1116.9 1387.0,1116.9 1388.5,1116.9 1390.0,1116.9 1391.5,1116.9 1393.0,1116.9 1394.5,1116.9 1396.0,1116.9 1397.5,1119.4 1399.0,1121.3 1400.5,1121.3 1402.0,1121.4 1403.5,1121.4 1405.0,1121.4 1406.5,1121.4 1408.0,1124.7 1409.5,1124.7 1411.0,1124.7 1412.5,1124.7 1414.0,1124.7 1415.5,1125.2 1417.0,1126.7 1418.5,1129.9 1420.0,1129.9 1421.5,1129.9 1423.0,1129.9 1424.5,1129.9 1426.0,1132.0 1427.5,1134.1 1429.0,1134.1 1430.5,1134.1 1432.0,1134.1 1433.5,1134.1 1435.0,1134.9 1436.5,1137.5 1438.0,1139.1 1439.5,1141.4 1441.0,1142.0 1442.5,1142.0 1444.0,1142.0 1445.5,1142.0 1447.0,1142.0 1448.5,1142.0 1450.0,1147.7 1451.5,1147.7 1453.0,1147.8 1454.5,1147.8 1456.0,1147.8 1457.5,1150.7 1459.0,1151.8 1460.5,1151.8 1462.0,1151.8 1463.5,1152.2 1465.0,1152.2 1466.5,1152.2 1468.0,1156.8 1469.5,1157.1 1471.0,1157.1 1472.5,1157.1 1474.0,1161.1 1475.5,1161.8 1477.0,1162.4 1478.5,1162.4 1480.0,1162.4 1481.5,1162.4 1483.0,1163.0 1484.5,1164.6 1486.0,1165.7 1487.5,1165.7 1489.0,1166.2 1490.5,1167.6 1492.0,1172.2 1493.5,1172.2 1495.0,1172.2 1496.5,1172.2 1498.0,1173.1 1499.5,1173.1 1501.0,1173.5 1502.5,1174.8 1504.0,1175.1 1505.5,1177.7 1507.0,1179.4 1508.5,1179.4 1510.0,1179.4 1511.5,1182.3 1513.0,1183.9 1514.5,1183.9 1516.0,1185.2 1517.5,1185.2 1519.0,1185.2 1520.5,1185.2 1522.0,1188.6 1523.5,1188.6 1525.0,1188.8 1526.5,1188.8 1528.0,1188.8 1529.5,1189.7 1531.0,1191.3 1532.5,1193.1 1534.0,1195.2 1535.5,1195.2 1537.0,1195.6 1538.5,1196.5 1540.0,1196.5 1541.5,1196.5 1543.0,1196.5 1544.5,1196.5 1546.0,1199.9 1547.5,1199.9 1549.0,1199.9 1550.5,1199.9 1552.0,1202.9 1553.5,1204.9 1555.0,1204.9 1556.5,1204.9 1558.0,1204.9 1559.5,1206.8 1561.0,1207.0 1562.5,1207.0 1564.0,1207.8 1565.5,1209.5 1567.0,1211.0 1568.5,1211.0 1570.0,1213.5 1571.5,1214.7 1573.0,1214.7 1574.5,1214.7 1576.0,1217.7 1577.5,1217.7 1579.0,1218.8 1580.5,1221.0 1582.0,1221.0 1583.5,1222.4 1585.0,1222.7 1586.5,1222.7 1588.0,1222.7 1589.5,1222.7 1591.0,1224.1 1592.5,1224.5 1594.0,1224.5 1595.5,1225.9 1597.0,1225.9 1598.5,1225.9 1600.0,1227.9 1601.5,1228.4 1603.0,1229.4 1604.5,1231.4 1606.0,1231.4 1607.5,1232.6 1609.0,1232.6 1610.5,1232.6 1612.0,1234.2 1613.5,1236.8 1615.0,1237.8 1616.5,1237.8 1618.0,1237.9 1619.5,1239.0 1621.0,1239.0 1622.5,1239.0 1624.0,1239.0 1625.5,1239.0 1627.0,1239.4 1628.5,1240.7 1630.0,1240.9 1631.5,1242.2 1633.0,1244.1 1634.5,1244.1 1636.0,1244.1 1637.5,1244.1 1639.0,1244.4 1640.5,1245.3 1642.0,1246.9 1643.5,1249.4 1645.0,1249.9 1646.5,1249.9 1648.0,1250.3 1649.5,1250.3 1651.0,1250.9 1652.5,1252.8 1654.0,1253.0 1655.5,1253.0 1657.0,1253.7 1658.5,1255.5 1660.0,1255.6 1661.5,1255.6 1663.0,1255.7 1664.5,1255.7 1666.0,1255.7 1667.5,1256.5 1669.0,1256.7 1670.5,1256.7 1672.0,1257.4 1673.5,1258.1 1675.0,1260.1 1676.5,1263.0 1678.0,1263.0 1679.5,1263.0 1681.0,1263.0 1682.5,1263.0 1684.0,1263.0 1685.5,1263.9 1687.0,1265.4 1688.5,1266.3 1690.0,1266.3 1691.5,1266.3 1693.0,1266.3 1694.5,1266.3 1696.0,1266.5 1697.5,1266.9 1699.0,1268.5 1700.5,1270.0 1702.0,1270.0 1703.5,1270.0 1705.0,1270.8 1706.5,1270.8 1708.0,1270.8 1709.5,1273.6 1711.0,1275.3 1712.5,1275.3 1714.0,1275.3 1715.5,1275.3 1717.0,1275.3 1718.5,1275.3 1720.0,1277.0 1721.5,1277.0 1723.0,1277.2 1724.5,1277.6 1726.0,1280.0 1727.5,1280.0 1729.0,1280.0 1730.5,1280.0 1732.0,1280.0 1733.5,1280.0 1735.0,1280.1 1736.5,1280.6 1738.0,1284.3 1739.5,1284.3 1741.0,1284.3 1742.5,1284.3 1744.0,1284.3 1745.5,1284.3 1747.0,1284.3 1748.5,1284.4 1750.0,1284.7 1751.5,1284.7 1753.0,1284.9 1754.5,1285.4 1756.0,1287.4 1757.5,1289.1 1759.0,1290.8 1760.5,1290.8 1762.0,1290.8 1763.5,1290.8 1765.0,1292.1 1766.5,1292.7 1768.0,1292.7 1769.5,1293.7 1771.0,1294.2 1772.5,1294.2 1774.0,1294.2 1775.5,1294.9 1777.0,1295.8 1778.5,1296.1 1780.0,1300.5 1781.5,1300.5 1783.0,1301.2 1784.5,1302.8 1786.0,1302.8 1787.5,1303.4 1789.0,1303.9 1790.5,1303.9 1792.0,1303.9 1793.5,1303.9 1795.0,1305.0 1796.5,1305.0 1798.0,1305.0 1799.5,1306.8 1801.0,1308.4 1802.5,1308.4 1804.0,1309.2 1805.5,1310.7 1807.0,1312.3 1808.5,1313.3 1810.0,1313.0 1811.5,1313.0 1813.0,1313.0 1814.5,1313.0 1816.0,1313.0 1817.5,1313.0 1819.0,1313.0 1820.5,1313.0 1822.0,1313.0 1823.5,1314.3 1825.0,1314.3 1826.5,1314.3 1828.0,1315.5 1829.5,1316.8 1831.0,1317.8 1832.5,1318.2 1834.0,1318.2 1835.5,1318.2 1837.0,1318.2 1838.5,1318.2 1840.0,1318.2 1841.5,1319.8 1843.0,1319.8 1844.5,1319.8 1846.0,1319.8 1847.5,1321.1 1849.0,1322.2 1850.5,1322.2 1852.0,1322.2 1853.5,1324.4 1855.0,1327.0 1856.5,1327.2 1858.0,1327.2 1859.5,1327.2 1861.0,1327.4 1862.5,1327.4 1864.0,1327.4 1865.5,1327.4 1867.0,1327.4 1868.5,1327.4 1870.0,1327.4 1871.5,1327.4 1873.0,1328.3 1874.5,1328.3 1876.0,1328.3 1877.5,1329.2 1879.0,1330.6 1880.5,1330.7 1882.0,1330.7 1883.5,1331.5 1885.0,1332.3 1886.5,1332.4 1888.0,1333.6 1889.5,1333.6 1891.0,1333.6 1892.5,1333.6 1894.0,1333.6 1895.5,1333.6 1897.0,1333.6 1898.5,1333.6 1900.0,1335.7 1901.5,1335.7 1903.0,1335.7 1904.5,1335.7 1906.0,1336.8 1907.5,1336.8 1909.0,1336.8 1910.5,1336.8 1912.0,1338.8 1913.5,1338.8 1915.0,1339.0 1916.5,1339.5 1918.0,1340.9 1919.5,1340.9 1921.0,1340.9 1922.5,1340.9 1924.0,1340.9 1925.5,1340.9 1927.0,1340.9 1928.5,1340.9 1930.0,1341.8 1931.5,1341.8 1933.0,1342.7 1934.5,1343.1 1936.0,1343.1 1937.5,1343.1 1939.0,1343.1 1940.5,1343.1 1942.0,1344.6 1943.5,1344.9 1945.0,1344.9 1946.5,1344.9 1948.0,1344.9 1949.5,1344.9 1951.0,1344.9 1952.5,1344.9 1954.0,1345.5 1955.5,1345.5 1957.0,1346.6 1958.5,1348.0 1960.0,1348.0 1961.5,1348.0 1963.0,1348.0 1964.5,1348.0 1966.0,1348.0 1967.5,1349.0 1969.0,1349.3 1970.5,1349.3 1972.0,1349.3 1973.5,1349.3 1975.0,1349.6 1976.5,1350.7 1978.0,1350.9 1979.5,1350.9 1981.0,1350.9 1982.5,1350.9 1984.0,1350.9 1985.5,1350.9 1987.0,1351.5 1988.5,1351.5 1990.0,1351.5 1991.5,1351.5 1993.0,1351.9 1994.5,1351.9 1996.0,1351.9 1997.5,1352.1 1999.0,1352.7 2000.5,1353.4 2002.0,1353.4 2003.5,1354.3 2005.0,1354.3 2006.5,1354.3 2008.0,1354.4 2009.5,1355.2 2011.0,1355.5 2012.5,1355.5 2014.0,1355.5 2015.5,1355.5 2017.0,1355.5 2018.5,1355.5 2020.0,1355.5 2021.5,1355.6 2023.0,1356.3 2024.5,1356.3 2026.0,1356.3 2027.5,1356.3 2029.0,1356.8 2030.5,1357.6 2032.0,1357.6 2033.5,1357.6 2035.0,1358.1 2036.5,1358.5 2038.0,1358.5 2039.5,1358.5 2041.0,1358.9 2042.5,1358.9 2044.0,1358.9 2045.5,1359.6 2047.0,1359.6 2048.5,1359.6 2050.0,1359.6 2051.5,1359.6 2053.0,1359.9 2054.5,1360.5 2056.0,1360.5 2057.5,1360.5 2059.0,1360.5 2060.5,1360.5 2062.0,1361.6 2063.5,1361.8 2065.0,1362.0 2066.5,1362.0 2068.0,1362.0 2069.5,1362.0 2071.0,1362.0 2072.5,1362.0 2074.0,1362.1 2075.5,1362.8 2077.0,1362.8 2078.5,1362.8 2080.0,1362.8 2081.5,1363.5 2083.0,1363.5 2084.5,1363.5 2086.0,1363.5 2087.5,1364.6 2089.0,1365.5 2090.5,1365.5 2092.0,1365.7 2093.5,1365.9 2095.0,1365.9 2096.5,1365.9 2098.0,1365.9 2099.5,1366.6 2101.0,1366.6 2102.5,1366.6 2104.0,1366.6 2105.5,1366.6 2107.0,1366.7 2108.5,1366.7 2110.0,1366.7 2111.5,1367.2 2113.0,1367.8 2114.5,1368.3 2116.0,1368.4 2117.5,1368.7 2119.0,1368.7 2120.5,1368.7 2122.0,1368.7 2123.5,1368.7 2125.0,1368.7 2126.5,1368.7 2128.0,1368.7 2129.5,1369.8 2131.0,1369.9 2132.5,1369.9 2134.0,1369.9 2135.5,1369.9 2137.0,1369.9 2138.5,1369.9 2140.0,1369.9 2141.5,1369.9 2143.0,1369.9 2144.5,1369.9 2146.0,1369.9 2147.5,1369.9 2149.0,1370.5 2150.5,1370.5 2152.0,1370.5 2153.5,1370.5 2155.0,1370.8 2156.5,1371.2 2158.0,1371.2 2159.5,1371.2 2161.0,1371.2 2162.5,1371.2 2164.0,1372.2 2165.5,1372.2 2167.0,1372.2 2168.5,1372.2 2170.0,1372.2 2171.5,1372.2 2173.0,1372.2 2174.5,1372.2 2176.0,1372.2 2177.5,1372.4 2179.0,1372.9 2180.5,1372.9 2182.0,1372.9 2183.5,1372.9 2185.0,1372.9 2186.5,1372.9 2188.0,1373.0 2189.5,1373.0 2191.0,1373.2 2192.5,1373.5 2194.0,1373.5 2195.5,1373.5 2197.0,1373.5 2198.5,1373.5 2200.0,1373.5 2201.5,1373.5 2203.0,1373.6 2204.5,1373.7 2206.0,1373.7 2207.5,1373.7 2209.0,1373.7 2210.5,1373.7 2212.0,1373.7 2213.5,1374.2 2215.0,1374.2 2216.5,1374.2 2218.0,1374.2 2219.5,1374.2 2221.0,1374.2 2222.5,1374.2 2224.0,1375.1 2225.5,1375.1 2227.0,1375.1 2228.5,1375.1 2230.0,1375.1 2231.5,1375.1 2233.0,1375.1 2234.5,1375.1 2236.0,1375.3 2237.5,1375.3 2239.0,1375.3 2240.5,1375.3 2242.0,1375.4 2243.5,1375.4 2245.0,1375.4 2246.5,1375.4 2248.0,1375.4 2249.5,1375.4 2251.0,1375.5 2252.5,1375.9 2254.0,1376.0 2255.5,1376.0 2257.0,1376.0 2258.5,1376.0 2260.0,1376.0 2261.5,1376.0 2263.0,1376.0 2264.5,1376.0 2266.0,1376.4 2267.5,1376.4 2269.0,1376.4 2270.5,1376.4 2272.0,1376.6 2273.5,1376.6 2275.0,1376.6 2276.5,1376.6 2278.0,1376.6 2279.5,1377.0 2281.0,1377.2 2282.5,1377.2 2284.0,1377.3 2285.5,1377.3 2287.0,1377.3 2288.5,1377.3 2290.0,1377.3 2291.5,1377.3 2293.0,1377.3 2294.5,1377.3 2296.0,1377.6 2297.5,1378.2 2299.0,1378.2 2300.5,1378.2 2302.0,1378.2 2303.5,1378.6 2305.0,1378.6 2306.5,1378.6 2308.0,1378.6 2309.5,1378.6 2311.0,1378.6 2312.5,1378.6 2314.0,1378.6 2315.5,1378.8 2317.0,1378.8 2318.5,1378.8 2320.0,1378.8 2321.5,1378.8 2323.0,1378.8 2324.5,1378.8 2326.0,1378.8 2327.5,1379.0 2329.0,1379.2 2330.5,1379.2 2332.0,1379.2 2333.5,1379.2 2335.0,1379.2 2336.5,1379.2 2338.0,1379.3 2339.5,1379.3 2341.0,1379.4 2342.5,1379.6 2344.0,1379.6 2345.5,1379.8 2347.0,1379.9 2348.5,1379.9 2350.0,1379.9 2351.5,1380.6 2353.0,1380.8 2354.5,1380.8 2356.0,1380.8 2357.5,1380.8 2359.0,1380.8 2360.5,1380.8 2362.0,1380.8 2363.5,1380.9 2365.0,1381.3 2366.5,1381.3 2366.5,1393.2 2365.0,1393.2 2363.5,1393.2 2362.0,1393.2 2360.5,1393.2 2359.0,1393.2 2357.5,1393.2 2356.0,1393.2 2354.5,1393.2 2353.0,1393.1 2351.5,1393.1 2350.0,1393.1 2348.5,1393.1 2347.0,1393.1 2345.5,1393.0 2344.0,1392.5 2342.5,1392.2 2341.0,1392.2 2339.5,1391.9 2338.0,1391.3 2336.5,1391.3 2335.0,1391.5 2333.5,1391.9 2332.0,1391.9 2330.5,1391.9 2329.0,1391.9 2327.5,1391.9 2326.0,1391.9 2324.5,1391.9 2323.0,1391.9 2321.5,1391.8 2320.0,1391.7 2318.5,1391.7 2317.0,1391.3 2315.5,1391.3 2314.0,1391.3 2312.5,1391.3 2311.0,1391.1 2309.5,1391.0 2308.0,1391.0 2306.5,1390.8 2305.0,1390.8 2303.5,1390.8 2302.0,1390.8 2300.5,1390.8 2299.0,1390.8 2297.5,1390.8 2296.0,1390.8 2294.5,1390.7 2293.0,1390.7 2291.5,1390.3 2290.0,1390.2 2288.5,1390.2 2287.0,1390.2 2285.5,1389.9 2284.0,1390.1 2282.5,1390.1 2281.0,1390.1 2279.5,1390.1 2278.0,1390.1 2276.5,1390.1 2275.0,1390.1 2273.5,1390.1 2272.0,1390.1 2270.5,1389.7 2269.0,1389.7 2267.5,1389.7 2266.0,1389.7 2264.5,1389.7 2263.0,1389.7 2261.5,1389.3 2260.0,1389.2 2258.5,1389.2 2257.0,1389.2 2255.5,1389.0 2254.0,1389.0 2252.5,1389.0 2251.0,1389.0 2249.5,1389.0 2248.0,1389.0 2246.5,1389.0 2245.0,1388.7 2243.5,1388.5 2242.0,1388.5 2240.5,1388.5 2239.0,1388.5 2237.5,1388.5 2236.0,1388.5 2234.5,1388.5 2233.0,1388.0 2231.5,1387.4 2230.0,1387.5 2228.5,1387.7 2227.0,1387.7 2225.5,1387.7 2224.0,1387.7 2222.5,1387.7 2221.0,1387.7 2219.5,1387.7 2218.0,1387.7 2216.5,1387.7 2215.0,1387.5 2213.5,1387.5 2212.0,1387.5 2210.5,1387.1 2209.0,1387.1 2207.5,1387.1 2206.0,1387.1 2204.5,1387.1 2203.0,1387.1 2201.5,1386.7 2200.0,1386.7 2198.5,1386.7 2197.0,1386.2 2195.5,1386.1 2194.0,1386.1 2192.5,1385.6 2191.0,1385.6 2189.5,1385.6 2188.0,1385.6 2186.5,1385.6 2185.0,1385.6 2183.5,1385.5 2182.0,1385.5 2180.5,1385.5 2179.0,1385.5 2177.5,1385.5 2176.0,1385.5 2174.5,1385.3 2173.0,1385.3 2171.5,1385.3 2170.0,1385.3 2168.5,1385.3 2167.0,1384.4 2165.5,1384.4 2164.0,1384.4 2162.5,1384.4 2161.0,1384.4 2159.5,1384.2 2158.0,1383.8 2156.5,1383.8 2155.0,1383.8 2153.5,1383.8 2152.0,1383.8 2150.5,1383.6 2149.0,1383.6 2147.5,1383.6 2146.0,1383.6 2144.5,1383.4 2143.0,1383.4 2141.5,1383.4 2140.0,1383.4 2138.5,1383.4 2137.0,1382.7 2135.5,1382.7 2134.0,1382.7 2132.5,1382.7 2131.0,1382.7 2129.5,1382.4 2128.0,1382.4 2126.5,1382.4 2125.0,1382.4 2123.5,1382.4 2122.0,1382.2 2120.5,1381.9 2119.0,1381.8 2117.5,1381.3 2116.0,1381.1 2114.5,1381.1 2113.0,1380.6 2111.5,1380.6 2110.0,1380.6 2108.5,1380.6 2107.0,1380.6 2105.5,1380.3 2104.0,1379.5 2102.5,1379.5 2101.0,1379.5 2099.5,1379.5 2098.0,1379.5 2096.5,1379.5 2095.0,1379.5 2093.5,1379.5 2092.0,1379.5 2090.5,1379.5 2089.0,1379.4 2087.5,1378.8 2086.0,1378.2 2084.5,1378.2 2083.0,1378.2 2081.5,1377.8 2080.0,1376.8 2078.5,1376.7 2077.0,1376.7 2075.5,1376.2 2074.0,1376.2 2072.5,1376.2 2071.0,1376.2 2069.5,1376.2 2068.0,1376.2 2066.5,1376.2 2065.0,1375.6 2063.5,1374.8 2062.0,1374.8 2060.5,1374.8 2059.0,1374.8 2057.5,1374.8 2056.0,1374.8 2054.5,1374.8 2053.0,1373.8 2051.5,1373.4 2050.0,1373.4 2048.5,1373.4 2047.0,1373.4 2045.5,1372.9 2044.0,1372.4 2042.5,1372.4 2041.0,1372.4 2039.5,1372.4 2038.0,1372.4 2036.5,1372.4 2035.0,1372.4 2033.5,1371.8 2032.0,1371.2 2030.5,1371.2 2029.0,1371.0 2027.5,1371.0 2026.0,1371.0 2024.5,1370.6 2023.0,1369.6 2021.5,1369.4 2020.0,1369.4 2018.5,1369.4 2017.0,1369.4 2015.5,1369.4 2014.0,1369.4 2012.5,1369.4 2011.0,1369.3 2009.5,1369.3 2008.0,1369.3 2006.5,1369.3 2005.0,1369.0 2003.5,1368.6 2002.0,1368.5 2000.5,1367.4 1999.0,1367.0 1997.5,1366.5 1996.0,1366.5 1994.5,1366.5 1993.0,1366.5 1991.5,1366.0 1990.0,1364.9 1988.5,1364.9 1987.0,1364.9 1985.5,1364.9 1984.0,1364.9 1982.5,1364.9 1981.0,1364.5 1979.5,1364.5 1978.0,1364.5 1976.5,1364.5 1975.0,1364.5 1973.5,1364.5 1972.0,1364.5 1970.5,1364.5 1969.0,1363.8 1967.5,1363.8 1966.0,1363.8 1964.5,1362.2 1963.0,1362.1 1961.5,1362.1 1960.0,1362.1 1958.5,1361.3 1957.0,1361.3 1955.5,1361.3 1954.0,1361.3 1952.5,1361.3 1951.0,1361.3 1949.5,1361.2 1948.0,1361.0 1946.5,1361.0 1945.0,1360.4 1943.5,1360.4 1942.0,1360.4 1940.5,1359.5 1939.0,1359.5 1937.5,1359.5 1936.0,1359.5 1934.5,1358.5 1933.0,1357.5 1931.5,1357.3 1930.0,1357.3 1928.5,1357.3 1927.0,1357.3 1925.5,1357.3 1924.0,1357.3 1922.5,1356.7 1921.0,1356.2 1919.5,1356.2 1918.0,1356.2 1916.5,1354.2 1915.0,1354.2 1913.5,1354.2 1912.0,1354.2 1910.5,1353.9 1909.0,1353.9 1907.5,1353.9 1906.0,1353.9 1904.5,1351.4 1903.0,1350.8 1901.5,1350.8 1900.0,1350.8 1898.5,1350.8 1897.0,1350.8 1895.5,1350.7 1894.0,1350.4 1892.5,1350.1 1891.0,1350.1 1889.5,1349.7 1888.0,1348.5 1886.5,1347.8 1885.0,1347.8 1883.5,1347.5 1882.0,1347.4 1880.5,1347.4 1879.0,1346.3 1877.5,1345.6 1876.0,1345.6 1874.5,1344.0 1873.0,1343.4 1871.5,1343.4 1870.0,1343.4 1868.5,1343.4 1867.0,1343.4 1865.5,1343.4 1864.0,1343.4 1862.5,1343.4 1861.0,1341.6 1859.5,1341.6 1858.0,1341.6 1856.5,1341.6 1855.0,1341.6 1853.5,1341.5 1852.0,1341.0 1850.5,1340.0 1849.0,1339.1 1847.5,1339.1 1846.0,1339.1 1844.5,1339.1 1843.0,1338.4 1841.5,1336.5 1840.0,1335.6 1838.5,1335.6 1837.0,1334.7 1835.5,1334.7 1834.0,1334.7 1832.5,1334.7 1831.0,1334.3 1829.5,1332.7 1828.0,1332.7 1826.5,1332.7 1825.0,1331.9 1823.5,1331.9 1822.0,1331.9 1820.5,1329.9 1819.0,1328.9 1817.5,1328.2 1816.0,1327.5 1814.5,1327.5 1813.0,1327.5 1811.5,1327.5 1810.0,1327.5 1808.5,1327.5 1807.0,1327.5 1805.5,1327.5 1804.0,1327.5 1802.5,1326.5 1801.0,1325.7 1799.5,1325.7 1798.0,1325.7 1796.5,1324.7 1795.0,1323.7 1793.5,1322.4 1792.0,1320.5 1790.5,1319.7 1789.0,1319.6 1787.5,1319.1 1786.0,1319.1 1784.5,1319.1 1783.0,1318.0 1781.5,1318.0 1780.0,1318.0 1778.5,1318.0 1777.0,1316.5 1775.5,1314.7 1774.0,1314.3 1772.5,1314.3 1771.0,1313.0 1769.5,1313.0 1768.0,1313.0 1766.5,1308.6 1765.0,1306.9 1763.5,1306.8 1762.0,1306.8 1760.5,1306.8 1759.0,1306.7 1757.5,1306.7 1756.0,1306.7 1754.5,1306.7 1753.0,1304.3 1751.5,1304.1 1750.0,1304.1 1748.5,1304.1 1747.0,1302.6 1745.5,1300.7 1744.0,1299.0 1742.5,1298.6 1741.0,1298.6 1739.5,1298.6 1738.0,1298.6 1736.5,1297.5 1735.0,1297.5 1733.5,1297.5 1732.0,1297.5 1730.5,1297.5 1729.0,1297.5 1727.5,1297.5 1726.0,1297.5 1724.5,1293.2 1723.0,1293.2 1721.5,1293.2 1720.0,1293.2 1718.5,1292.4 1717.0,1292.4 1715.5,1292.4 1714.0,1292.4 1712.5,1291.4 1711.0,1291.4 1709.5,1291.4 1708.0,1291.4 1706.5,1287.6 1705.0,1287.4 1703.5,1287.4 1702.0,1287.4 1700.5,1287.4 1699.0,1287.4 1697.5,1286.0 1696.0,1285.9 1694.5,1285.9 1693.0,1285.0 1691.5,1285.0 1690.0,1285.0 1688.5,1283.8 1687.0,1280.8 1685.5,1280.4 1684.0,1280.4 1682.5,1280.4 1681.0,1280.4 1679.5,1280.4 1678.0,1280.4 1676.5,1278.6 1675.0,1277.1 1673.5,1277.1 1672.0,1277.1 1670.5,1277.1 1669.0,1276.1 1667.5,1275.5 1666.0,1275.5 1664.5,1275.5 1663.0,1272.5 1661.5,1269.3 1660.0,1268.6 1658.5,1268.3 1657.0,1268.3 1655.5,1268.3 1654.0,1268.3 1652.5,1268.3 1651.0,1268.3 1649.5,1268.3 1648.0,1268.3 1646.5,1267.0 1645.0,1265.3 1643.5,1264.9 1642.0,1264.9 1640.5,1264.1 1639.0,1262.5 1637.5,1262.4 1636.0,1262.4 1634.5,1262.4 1633.0,1262.4 1631.5,1261.4 1630.0,1258.5 1628.5,1258.5 1627.0,1258.5 1625.5,1258.5 1624.0,1258.5 1622.5,1257.7 1621.0,1256.0 1619.5,1254.0 1618.0,1254.0 1616.5,1254.0 1615.0,1254.0 1613.5,1254.0 1612.0,1254.0 1610.5,1254.0 1609.0,1252.7 1607.5,1250.8 1606.0,1249.9 1604.5,1249.9 1603.0,1249.9 1601.5,1248.8 1600.0,1245.7 1598.5,1245.0 1597.0,1245.0 1595.5,1244.3 1594.0,1243.5 1592.5,1243.5 1591.0,1241.4 1589.5,1240.5 1588.0,1240.5 1586.5,1240.5 1585.0,1240.5 1583.5,1239.6 1582.0,1239.6 1580.5,1239.6 1579.0,1237.3 1577.5,1237.3 1576.0,1237.3 1574.5,1236.6 1573.0,1235.6 1571.5,1234.1 1570.0,1233.1 1568.5,1233.1 1567.0,1231.9 1565.5,1231.9 1564.0,1231.9 1562.5,1229.4 1561.0,1229.4 1559.5,1228.4 1558.0,1225.4 1556.5,1222.9 1555.0,1222.0 1553.5,1221.3 1552.0,1219.8 1550.5,1219.8 1549.0,1219.8 1547.5,1218.8 1546.0,1217.3 1544.5,1217.3 1543.0,1217.3 1541.5,1216.7 1540.0,1215.9 1538.5,1215.9 1537.0,1215.9 1535.5,1215.0 1534.0,1212.2 1532.5,1210.3 1531.0,1210.3 1529.5,1210.3 1528.0,1210.3 1526.5,1208.5 1525.0,1207.1 1523.5,1207.0 1522.0,1207.0 1520.5,1204.8 1519.0,1202.9 1517.5,1201.3 1516.0,1201.3 1514.5,1201.3 1513.0,1201.3 1511.5,1201.3 1510.0,1201.3 1508.5,1198.2 1507.0,1198.2 1505.5,1197.9 1504.0,1196.8 1502.5,1196.3 1501.0,1196.3 1499.5,1194.8 1498.0,1192.5 1496.5,1192.5 1495.0,1191.9 1493.5,1190.0 1492.0,1186.2 1490.5,1185.9 1489.0,1185.9 1487.5,1185.9 1486.0,1185.9 1484.5,1185.9 1483.0,1185.9 1481.5,1185.7 1480.0,1185.4 1478.5,1181.2 1477.0,1181.2 1475.5,1181.2 1474.0,1181.2 1472.5,1177.2 1471.0,1177.2 1469.5,1177.2 1468.0,1177.2 1466.5,1176.8 1465.0,1174.7 1463.5,1173.5 1462.0,1173.5 1460.5,1169.7 1459.0,1169.7 1457.5,1169.6 1456.0,1169.4 1454.5,1166.3 1453.0,1166.3 1451.5,1166.3 1450.0,1166.3 1448.5,1166.3 1447.0,1165.4 1445.5,1163.1 1444.0,1160.7 1442.5,1160.7 1441.0,1160.7 1439.5,1160.7 1438.0,1160.7 1436.5,1156.4 1435.0,1156.4 1433.5,1156.3 1432.0,1156.1 1430.5,1154.1 1429.0,1154.1 1427.5,1153.2 1426.0,1150.7 1424.5,1149.6 1423.0,1149.6 1421.5,1149.6 1420.0,1149.6 1418.5,1149.1 1417.0,1147.9 1415.5,1146.1 1414.0,1143.7 1412.5,1141.6 1411.0,1141.6 1409.5,1141.6 1408.0,1141.6 1406.5,1141.1 1405.0,1138.8 1403.5,1138.0 1402.0,1138.0 1400.5,1138.0 1399.0,1137.7 1397.5,1137.2 1396.0,1136.7 1394.5,1145.8 1393.0,1145.8 1391.5,1145.8 1390.0,1145.8 1388.5,1145.8 1387.0,1145.8 1385.5,1145.8 1384.0,1145.8 1382.5,1145.8 1381.0,1142.8 1379.5,1142.4 1378.0,1142.4 1376.5,1142.4 1375.0,1142.4 1373.5,1142.4 1372.0,1142.4 1370.5,1142.4 1369.0,1142.4 1367.5,1141.3 1366.0,1140.3 1364.5,1140.3 1363.0,1140.3 1361.5,1140.3 1360.0,1140.3 1358.5,1140.3 1357.0,1137.3 1355.5,1137.3 1354.0,1137.3 1352.5,1135.7 1351.0,1135.7 1349.5,1135.4 1348.0,1135.4 1346.5,1135.4 1345.0,1135.4 1343.5,1135.4 1342.0,1135.4 1340.5,1135.4 1339.0,1133.0 1337.5,1133.0 1336.0,1133.0 1334.5,1133.0 1333.0,1130.3 1331.5,1129.5 1330.0,1129.5 1328.5,1129.5 1327.0,1129.5 1325.5,1129.4 1324.0,1128.9 1322.5,1126.4 1321.0,1126.4 1319.5,1126.4 1318.0,1126.3 1316.5,1124.2 1315.0,1122.4 1313.5,1121.5 1312.0,1121.5 1310.5,1120.8 1309.0,1119.1 1307.5,1119.1 1306.0,1119.1 1304.5,1119.1 1303.0,1119.1 1301.5,1118.0 1300.0,1117.5 1298.5,1117.5 1297.0,1115.0 1295.5,1113.7 1294.0,1113.7 1292.5,1111.5 1291.0,1111.5 1289.5,1110.4 1288.0,1107.1 1286.5,1106.3 1285.0,1106.3 1283.5,1105.5 1282.0,1103.1 1280.5,1101.9 1279.0,1101.9 1277.5,1100.2 1276.0,1098.5 1274.5,1098.5 1273.0,1096.7 1271.5,1093.3 1270.0,1088.5 1268.5,1088.5 1267.0,1088.5 1265.5,1088.5 1264.0,1088.5 1262.5,1084.2 1261.0,1080.2 1259.5,1079.6 1258.0,1079.6 1256.5,1077.4 1255.0,1073.7 1253.5,1072.7 1252.0,1072.7 1250.5,1072.7 1249.0,1071.1 1247.5,1069.8 1246.0,1069.8 1244.5,1063.8 1243.0,1062.9 1241.5,1062.9 1240.0,1062.9 1238.5,1058.8 1237.0,1056.5 1235.5,1055.5 1234.0,1055.5 1232.5,1055.4 1231.0,1052.7 1229.5,1048.5 1228.0,1045.4 1226.5,1045.4 1225.0,1044.5 1223.5,1043.1 1222.0,1041.9 1220.5,1041.5 1219.0,1040.6 1217.5,1038.1 1216.0,1037.3 1214.5,1037.3 1213.0,1034.5 1211.5,1030.7 1210.0,1027.5 1208.5,1026.8 1207.0,1026.6 1205.5,1026.6 1204.0,1026.6 1202.5,1022.6 1201.0,1020.0 1199.5,1020.0 1198.0,1020.0 1196.5,1018.9 1195.0,1018.9 1193.5,1018.9 1192.0,1018.9 1190.5,1018.9 1189.0,1017.1 1187.5,1016.3 1186.0,1016.3 1184.5,1016.3 1183.0,1012.7 1181.5,1011.9 1180.0,1011.9 1178.5,1007.1 1177.0,1006.5 1175.5,1006.5 1174.0,1006.5 1172.5,1006.3 1171.0,1006.3 1169.5,1005.1 1168.0,1003.0 1166.5,1003.0 1165.0,1002.0 1163.5,1000.5 1162.0,999.2 1160.5,992.3 1159.0,990.3 1157.5,988.9 1156.0,984.7 1154.5,984.7 1153.0,984.7 1151.5,983.8 1150.0,981.2 1148.5,976.0 1147.0,974.1 1145.5,973.5 1144.0,972.3 1142.5,969.9 1141.0,969.9 1139.5,969.9 1138.0,969.9 1136.5,965.3 1135.0,965.3 1133.5,964.6 1132.0,962.5 1130.5,957.7 1129.0,956.7 1127.5,956.0 1126.0,953.8 1124.5,952.7 1123.0,952.3 1121.5,952.3 1120.0,952.3 1118.5,952.3 1117.0,949.8 1115.5,947.1 1114.0,946.3 1112.5,942.4 1111.0,941.8 1109.5,941.5 1108.0,940.7 1106.5,940.7 1105.0,938.8 1103.5,936.3 1102.0,934.1 1100.5,933.6 1099.0,933.6 1097.5,933.6 1096.0,933.6 1094.5,931.5 1093.0,929.2 1091.5,926.2 1090.0,924.6 1088.5,924.6 1087.0,924.6 1085.5,924.2 1084.0,923.2 1082.5,917.8 1081.0,917.8 1079.5,917.8 1078.0,917.8 1076.5,915.4 1075.0,913.6 1073.5,911.4 1072.0,907.6 1070.5,907.1 1069.0,905.2 1067.5,902.7 1066.0,902.7 1064.5,902.7 1063.0,902.7 1061.5,902.3 1060.0,901.1 1058.5,898.4 1057.0,893.7 1055.5,889.5 1054.0,888.7 1052.5,887.4 1051.0,885.3 1049.5,885.3 1048.0,885.3 1046.5,882.0 1045.0,878.8 1043.5,878.6 1042.0,878.6 1040.5,878.6 1039.0,878.6 1037.5,876.3 1036.0,869.8 1034.5,869.8 1033.0,869.8 1031.5,868.8 1030.0,865.7 1028.5,864.0 1027.0,863.2 1025.5,860.9 1024.0,857.4 1022.5,857.4 1021.0,856.2 1019.5,854.0 1018.0,852.6 1016.5,852.6 1015.0,851.9 1013.5,850.9 1012.0,849.9 1010.5,846.0 1009.0,841.5 1007.5,839.7 1006.0,839.7 1004.5,839.7 1003.0,835.4 1001.5,830.4 1000.0,829.6 998.5,829.6 997.0,825.9 995.5,824.1 994.0,824.1 992.5,820.8 991.0,818.3 989.5,818.2 988.0,818.2 986.5,815.2 985.0,813.8 983.5,813.1 982.0,812.3 980.5,806.6 979.0,806.6 977.5,806.6 976.0,806.6 974.5,802.8 973.0,798.0 971.5,794.6 970.0,794.6 968.5,792.6 967.0,790.4 965.5,790.4 964.0,790.4 962.5,782.6 961.0,780.9 959.5,779.4 958.0,775.5 956.5,775.5 955.0,775.5 953.5,772.5 952.0,768.2 950.5,768.2 949.0,767.3 947.5,763.3 946.0,754.4 944.5,752.2 943.0,752.2 941.5,752.2 940.0,752.2 938.5,745.5 937.0,745.5 935.5,743.0 934.0,735.4 932.5,732.5 931.0,729.3 929.5,726.1 928.0,723.1 926.5,722.9 925.0,720.0 923.5,718.1 922.0,718.1 920.5,711.6 919.0,710.5 917.5,710.2 916.0,709.4 914.5,706.7 913.0,698.5 911.5,695.2 910.0,695.2 908.5,689.0 907.0,687.1 905.5,684.8 904.0,677.7 902.5,673.7 901.0,671.5 899.5,668.4 898.0,665.2 896.5,665.2 895.0,660.6 893.5,654.8 892.0,651.2 890.5,650.1 889.0,643.9 887.5,642.1 886.0,642.1 884.5,634.8 883.0,632.0 881.5,629.0 880.0,620.6 878.5,616.5 877.0,616.2 875.5,614.3 874.0,608.6 872.5,605.2 871.0,601.4 869.5,597.2 868.0,593.2 866.5,593.2 865.0,587.5 863.5,579.8 862.0,573.7 860.5,573.3 859.0,570.3 857.5,568.1 856.0,568.1 854.5,563.8 853.0,558.6 851.5,553.8 850.0,550.9 848.5,547.0 847.0,542.8 845.5,541.9 844.0,541.9 842.5,539.1 841.0,534.2 839.5,528.6 838.0,523.7 836.5,523.7 835.0,520.8 833.5,520.8 832.0,520.8 830.5,517.4 829.0,510.4 827.5,504.3 826.0,503.3 824.5,498.3 823.0,497.6 821.5,497.4 820.0,496.6 818.5,485.9 817.0,483.9 815.5,483.9 814.0,483.9 812.5,477.7 811.0,475.2 809.5,475.2 808.0,475.2 806.5,467.4 805.0,464.9 803.5,464.9 802.0,464.9 800.5,455.6 799.0,450.5 797.5,450.5 796.0,450.5 794.5,449.5 793.0,445.2 791.5,441.4 790.0,441.4 788.5,440.8 787.0,428.2 785.5,428.2 784.0,428.2 782.5,428.2 781.0,428.2 779.5,428.2 778.0,428.2 776.5,427.5 775.0,427.5 773.5,422.6 772.0,419.0 770.5,419.0 769.0,419.0 767.5,418.1 766.0,415.4 764.5,408.3 763.0,408.3 761.5,408.3 760.0,408.3 758.5,408.3 757.0,408.3 755.5,407.3 754.0,407.3 752.5,407.3 751.0,406.1 749.5,406.1 748.0,406.1 746.5,400.9 745.0,400.9 743.5,400.9 742.0,400.9 740.5,400.9 739.0,393.8 737.5,384.7 736.0,384.8 734.5,384.8 733.0,384.8 731.5,384.8 730.0,384.8 728.5,384.8 727.0,384.8 725.5,384.8 724.0,384.8 722.5,372.4 721.0,372.4 719.5,372.4 718.0,372.4 716.5,372.4 715.0,372.4 713.5,372.4 712.0,372.4 710.5,372.4 709.0,364.4 707.5,354.2 706.0,353.4 704.5,353.4 703.0,353.4 701.5,353.4 700.0,353.4 698.5,353.4 697.0,345.5 695.5,345.5 694.0,345.5 692.5,345.5 691.0,345.5 689.5,345.5 688.0,345.5 686.5,345.5 685.0,334.0 683.5,326.3 682.0,326.3 680.5,326.3 679.0,326.3 677.5,326.3 676.0,326.3 674.5,326.3 673.0,326.3 671.5,324.2 670.0,320.5 668.5,320.5 667.0,310.8 665.5,308.3 664.0,308.3 662.5,304.9 661.0,300.6 659.5,300.6 658.0,300.6 656.5,298.2 655.0,297.7 653.5,297.7 652.0,300.1 650.5,300.1 649.0,300.1 647.5,300.1 646.0,300.1 644.5,300.1 643.0,302.9 641.5,305.6 640.0,308.2 638.5,314.1 637.0,320.2 635.5,323.8 634.0,328.2 632.5,336.9 631.0,336.9 629.5,344.3 628.0,353.5 626.5,356.7 625.0,369.1 623.5,377.7 622.0,387.3 620.5,403.1 619.0,413.0 617.5,423.8 616.0,434.7 614.5,444.5 613.0,455.9 611.5,467.5 610.0,480.9 608.5,498.2 607.0,508.8 605.5,519.9 604.0,532.2 602.5,546.4 601.0,563.9 599.5,580.9 598.0,597.5 596.5,613.6 595.0,629.3 593.5,645.5 592.0,664.1 590.5,686.8 589.0,704.5 587.5,722.0 586.0,741.0 584.5,763.4 583.0,783.9 581.5,804.8 580.0,827.5 578.5,852.9 577.0,872.3 575.5,896.3 574.0,921.2 572.5,943.0 571.0,964.7 569.5,987.3 568.0,1011.1 566.5,1036.6 565.0,1059.7 563.5,1079.6 562.0,1098.0 560.5,1117.4 559.0,1135.9 557.5,1154.3 556.0,1172.2 554.5,1189.6 553.0,1202.8 551.5,1217.7 550.0,1231.0 548.5,1239.6 547.0,1253.8 545.5,1266.0 544.0,1276.5 542.5,1285.8 541.0,1296.9 539.5,1305.5 538.0,1313.9 536.5,1324.6 535.0,1331.9 533.5,1336.4 532.0,1340.7 530.5,1347.6 529.0,1351.5 527.5,1357.1 526.0,1362.1 524.5,1363.9 523.0,1369.6 521.5,1372.3 520.0,1374.3 518.5,1377.9 517.0,1379.9 515.5,1381.2 514.0,1382.2 512.5,1383.1 511.0,1383.6 509.5,1385.1 508.0,1386.7 506.5,1387.6 505.0,1389.6 503.5,1390.4 502.0,1390.7 500.5,1391.6 499.0,1392.0 497.5,1393.0 496.0,1394.0 494.5,1394.3 493.0,1394.3 491.5,1394.9 490.0,1396.0 488.5,1396.3 487.0,1397.1 485.5,1397.6 484.0,1397.8 482.5,1397.8 481.0,1398.3 479.5,1398.5 478.0,1398.8 476.5,1399.6 475.0,1399.6 473.5,1399.6 472.0,1399.7 470.5,1400.5 469.0,1400.5 467.5,1400.5 466.0,1400.8 464.5,1400.9 463.0,1400.9 461.5,1400.9 460.0,1401.1 458.5,1401.1 457.0,1401.1 455.5,1401.1 454.0,1401.3 452.5,1401.3 451.0,1401.3 449.5,1401.4 448.0,1401.4 446.5,1401.4 445.0,1401.5 443.5,1401.6 442.0,1401.6 440.5,1401.7 439.0,1401.7 437.5,1401.7 436.0,1401.7 434.5,1401.7 433.0,1401.7 431.5,1401.7 430.0,1401.7 428.5,1401.7 427.0,1401.6 425.5,1401.6 424.0,1401.6 422.5,1401.6 421.0,1401.6 419.5,1401.4 418.0,1401.4 416.5,1401.4 415.0,1401.4 413.5,1401.4 412.0,1401.4 410.5,1401.4 409.0,1401.4 407.5,1401.4 406.0,1401.4 404.5,1401.4 403.0,1401.4 401.5,1401.4 400.0,1401.4 398.5,1401.4 397.0,1401.4 395.5,1401.4 394.0,1401.4 392.5,1401.3 391.0,1401.3 389.5,1401.6 388.0,1401.6 386.5,1401.6 385.0,1401.6 383.5,1401.6 382.0,1401.6 380.5,1401.6 379.0,1401.6 377.5,1401.6 376.0,1401.6 374.5,1401.6 373.0,1401.6 371.5,1401.6 370.0,1401.6 368.5,1401.6 367.0,1401.6 365.5,1401.3 364.0,1401.5 362.5,1401.6 361.0,1401.7 359.5,1401.7 358.0,1401.7 356.5,1401.7 355.0,1401.7 353.5,1401.7 352.0,1401.7 350.5,1401.7 349.0,1401.7 347.5,1401.7 346.0,1401.7 344.5,1401.7 343.0,1401.7 341.5,1401.7 340.0,1401.7 338.5,1401.0 337.0,1401.3 335.5,1401.4 334.0,1401.4 332.5,1401.4 331.0,1401.4 329.5,1401.4 328.0,1401.4"/>
<polygon fill="#00a000" points="328.0,1389.8 329.5,1389.8 331.0,1389.8 332.5,1389.8 334.0,1389.8 335.5,1389.8 337.0,1389.8 338.5,1389.8 340.0,1389.5 341.5,1389.4 343.0,1389.3 344.5,1389.3 346.0,1389.3 347.5,1389.3 349.0,1389.3 350.5,1389.3 352.0,1389.3 353.5,1389.3 355.0,1389.3 356.5,1389.3 358.0,1389.3 359.5,1389.3 361.0,1389.3 362.5,1389.3 364.0,1389.3 365.5,1389.3 367.0,1389.4 368.5,1389.5 370.0,1389.5 371.5,1389.5 373.0,1389.5 374.5,1389.4 376.0,1389.4 377.5,1389.4 379.0,1389.4 380.5,1389.4 382.0,1389.4 383.5,1389.4 385.0,1389.4 386.5,1389.4 388.0,1389.5 389.5,1389.5 391.0,1389.6 392.5,1389.7 394.0,1389.7 395.5,1389.7 397.0,1389.7 398.5,1389.7 400.0,1389.7 401.5,1389.7 403.0,1389.7 404.5,1389.7 406.0,1389.4 407.5,1389.4 409.0,1389.4 410.5,1389.4 412.0,1389.4 413.5,1389.4 415.0,1389.4 416.5,1389.4 418.0,1389.4 419.5,1389.4 421.0,1389.4 422.5,1389.3 424.0,1389.3 425.5,1389.3 427.0,1389.3 428.5,1389.3 430.0,1389.3 431.5,1389.3 433.0,1389.3 434.5,1389.3 436.0,1389.4 437.5,1389.4 439.0,1389.4 440.5,1389.4 442.0,1389.4 443.5,1389.4 445.0,1389.4 446.5,1389.4 448.0,1389.4 449.5,1389.5 451.0,1389.7 452.5,1389.6 454.0,1389.1 455.5,1389.1 457.0,1389.1 458.5,1389.1 460.0,1389.1 461.5,1389.1 463.0,1388.6 464.5,1388.2 466.0,1388.2 467.5,1387.6 469.0,1386.9 470.5,1386.3 472.0,1386.1 473.5,1385.2 475.0,1384.9 476.5,1384.7 478.0,1383.9 479.5,1383.9 481.0,1383.9 482.5,1383.5 484.0,1383.2 485.5,1382.3 487.0,1380.8 488.5,1379.5 490.0,1379.5 491.5,1379.2 493.0,1378.4 494.5,1377.3 496.0,1375.6 497.5,1374.4 499.0,1373.2 500.5,1371.7 502.0,1369.5 503.5,1369.5 505.0,1368.4 506.5,1365.8 508.0,1361.7 509.5,1360.7 511.0,1356.8 512.5,1351.6 514.0,1347.2 515.5,1345.1 517.0,1341.6 518.5,1336.1 520.0,1328.0 521.5,1324.9 523.0,1317.5 524.5,1308.3 526.0,1299.4 527.5,1291.1 529.0,1281.1 530.5,1271.5 532.0,1264.0 533.5,1250.4 535.0,1239.2 536.5,1227.9 538.0,1214.4 539.5,1199.9 541.0,1187.5 542.5,1175.3 544.0,1161.5 545.5,1139.7 547.0,1122.3 548.5,1103.8 550.0,1078.7 551.5,1060.0 553.0,1036.8 554.5,1013.8 556.0,995.9 557.5,970.3 559.0,947.8 560.5,925.7 562.0,901.6 563.5,876.9 565.0,852.8 566.5,830.8 568.0,812.5 569.5,790.1 571.0,767.6 572.5,745.9 574.0,725.9 575.5,701.0 577.0,681.6 578.5,665.9 580.0,651.4 581.5,630.8 583.0,615.8 584.5,603.0 586.0,589.3 587.5,567.7 589.0,551.6 590.5,536.1 592.0,516.4 593.5,506.9 595.0,495.4 596.5,482.9 598.0,469.9 599.5,454.7 601.0,441.2 602.5,427.8 604.0,413.0 605.5,407.9 607.0,398.7 608.5,387.0 610.0,373.5 611.5,365.8 613.0,353.8 614.5,343.5 616.0,340.8 617.5,328.8 619.0,323.8 620.5,318.6 622.0,306.1 623.5,304.5 625.0,299.8 626.5,293.7 628.0,288.4 629.5,288.0 631.0,287.9 632.5,287.9 634.0,283.6 635.5,280.2 637.0,279.1 638.5,279.1 640.0,279.1 641.5,279.1 643.0,279.1 644.5,279.1 646.0,279.1 647.5,279.1 649.0,279.8 650.5,279.8 652.0,279.8 653.5,279.8 655.0,283.0 656.5,283.1 658.0,283.1 659.5,283.1 661.0,283.1 662.5,283.1 664.0,283.1 665.5,283.1 667.0,283.1 668.5,283.1 670.0,288.5 671.5,288.5 673.0,288.5 674.5,288.5 676.0,288.5 677.5,288.5 679.0,292.7 680.5,305.5 682.0,307.2 683.5,307.2 685.0,307.2 686.5,307.2 688.0,307.2 689.5,311.1 691.0,311.1 692.5,311.1 694.0,315.1 695.5,317.5 697.0,317.8 698.5,317.8 700.0,324.9 701.5,324.9 703.0,324.9 704.5,324.9 706.0,327.4 707.5,332.2 709.0,333.0 710.5,333.0 712.0,333.0 713.5,333.0 715.0,337.1 716.5,338.2 718.0,338.2 719.5,338.2 721.0,341.2 722.5,341.8 724.0,341.8 725.5,341.8 727.0,344.2 728.5,351.5 730.0,357.0 731.5,357.0 733.0,357.0 734.5,357.0 736.0,357.0 737.5,357.0 739.0,357.0 740.5,357.0 742.0,366.2 743.5,366.2 745.0,366.2 746.5,366.2 748.0,366.2 749.5,366.2 751.0,366.2 752.5,366.2 754.0,372.5 755.5,377.4 757.0,381.0 758.5,381.0 760.0,381.0 761.5,384.8 763.0,384.8 764.5,384.8 766.0,384.8 767.5,384.8 769.0,384.8 770.5,384.8 772.0,392.5 773.5,392.5 775.0,392.2 776.5,392.2 778.0,392.2 779.5,392.2 781.0,392.2 782.5,392.2 784.0,392.2 785.5,392.2 787.0,395.6 788.5,405.9 790.0,406.2 791.5,406.2 793.0,411.0 794.5,421.4 796.0,431.1 797.5,432.1 799.0,435.1 800.5,440.9 802.0,440.9 803.5,441.1 805.0,441.1 806.5,441.1 808.0,441.9 809.5,444.2 811.0,447.1 812.5,449.6 814.0,454.4 815.5,457.2 817.0,460.0 818.5,464.5 820.0,464.6 821.5,468.9 823.0,474.9 824.5,480.0 826.0,481.7 827.5,482.8 829.0,483.4 830.5,483.6 832.0,491.4 833.5,493.8 835.0,493.8 836.5,493.8 838.0,503.4 839.5,507.0 841.0,507.0 842.5,507.0 844.0,509.8 845.5,515.9 847.0,521.3 848.5,521.5 850.0,521.5 851.5,526.6 853.0,533.4 854.5,537.8 856.0,537.8 857.5,537.8 859.0,538.8 860.5,542.0 862.0,549.3 863.5,554.8 865.0,559.7 866.5,565.3 868.0,567.0 869.5,569.8 871.0,573.7 872.5,578.6 874.0,578.6 875.5,579.7 877.0,581.9 878.5,585.2 880.0,590.9 881.5,598.1 883.0,603.7 884.5,604.2 886.0,604.2 887.5,611.4 889.0,618.8 890.5,618.8 892.0,618.8 893.5,625.2 895.0,629.9 896.5,629.9 898.0,632.4 899.5,637.5 901.0,643.8 902.5,649.9 904.0,650.0 905.5,653.2 907.0,658.6 908.5,662.2 910.0,662.2 911.5,667.1 913.0,672.3 914.5,672.9 916.0,674.1 917.5,680.3 919.0,686.9 920.5,689.3 922.0,690.7 923.5,693.2 925.0,696.1 926.5,698.5 928.0,702.4 929.5,702.4 931.0,703.6 932.5,707.2 934.0,709.9 935.5,712.7 937.0,716.7 938.5,722.8 940.0,724.5 941.5,728.0 943.0,731.5 944.5,733.0 946.0,737.6 947.5,738.2 949.0,738.2 950.5,738.2 952.0,741.1 953.5,746.5 955.0,752.3 956.5,754.6 958.0,754.6 959.5,754.6 961.0,756.7 962.5,761.2 964.0,761.2 965.5,763.4 967.0,767.7 968.5,773.9 970.0,774.4 971.5,777.0 973.0,779.6 974.5,779.9 976.0,782.1 977.5,782.1 979.0,783.2 980.5,786.7 982.0,790.3 983.5,790.3 985.0,790.3 986.5,790.3 988.0,793.3 989.5,796.3 991.0,799.6 992.5,802.5 994.0,802.5 995.5,806.3 997.0,810.7 998.5,811.0 1000.0,811.0 1001.5,811.4 1003.0,812.4 1004.5,814.1 1006.0,815.8 1007.5,818.9 1009.0,822.0 1010.5,824.1 1012.0,828.4 1013.5,828.4 1015.0,829.1 1016.5,830.5 1018.0,830.5 1019.5,835.2 1021.0,836.7 1022.5,836.7 1024.0,836.7 1025.5,838.5 1027.0,841.8 1028.5,844.6 1030.0,844.6 1031.5,849.0 1033.0,851.7 1034.5,851.7 1036.0,855.0 1037.5,856.3 1039.0,857.2 1040.5,858.9 1042.0,858.9 1043.5,861.9 1045.0,865.4 1046.5,867.0 1048.0,868.6 1049.5,869.4 1051.0,870.6 1052.5,872.3 1054.0,872.3 1055.5,872.3 1057.0,872.4 1058.5,872.7 1060.0,879.1 1061.5,879.1 1063.0,879.1 1064.5,879.1 1066.0,886.0 1067.5,887.3 1069.0,887.3 1070.5,887.3 1072.0,887.3 1073.5,891.7 1075.0,893.0 1076.5,893.0 1078.0,893.0 1079.5,894.4 1081.0,896.1 1082.5,897.3 1084.0,903.6 1085.5,906.1 1087.0,906.1 1088.5,906.1 1090.0,906.1 1091.5,908.1 1093.0,910.1 1094.5,910.1 1096.0,910.1 1097.5,910.1 1099.0,910.6 1100.5,912.2 1102.0,913.6 1103.5,916.5 1105.0,918.8 1106.5,918.8 1108.0,918.8 1109.5,919.8 1111.0,922.0 1112.5,925.4 1114.0,928.4 1115.5,929.6 1117.0,930.8 1118.5,931.3 1120.0,931.3 1121.5,931.3 1123.0,931.8 1124.5,933.2 1126.0,936.1 1127.5,938.9 1129.0,941.9 1130.5,944.8 1132.0,946.2 1133.5,947.9 1135.0,948.0 1136.5,948.0 1138.0,948.0 1139.5,948.7 1141.0,948.7 1142.5,948.7 1144.0,954.5 1145.5,954.5 1147.0,954.5 1148.5,954.5 1150.0,961.3 1151.5,963.6 1153.0,963.6 1154.5,963.6 1156.0,963.6 1157.5,966.2 1159.0,968.9 1160.5,968.9 1162.0,974.9 1163.5,974.9 1165.0,976.7 1166.5,982.4 1168.0,984.1 1169.5,985.7 1171.0,987.0 1172.5,988.0 1174.0,989.3 1175.5,992.2 1177.0,993.8 1178.5,993.8 1180.0,993.8 1181.5,996.1 1183.0,998.3 1184.5,998.3 1186.0,998.3 1187.5,998.3 1189.0,998.3 1190.5,998.3 1192.0,1000.7 1193.5,1003.5 1195.0,1005.7 1196.5,1006.5 1198.0,1006.6 1199.5,1006.6 1201.0,1006.6 1202.5,1006.6 1204.0,1010.7 1205.5,1011.1 1207.0,1011.1 1208.5,1011.1 1210.0,1011.1 1211.5,1011.1 1213.0,1012.9 1214.5,1014.2 1216.0,1014.2 1217.5,1017.5 1219.0,1017.5 1220.5,1017.5 1222.0,1019.9 1223.5,1022.7 1225.0,1026.0 1226.5,1027.5 1228.0,1027.5 1229.5,1031.0 1231.0,1035.1 1232.5,1036.2 1234.0,1036.2 1235.5,1036.2 1237.0,1036.9 1238.5,1039.1 1240.0,1043.8 1241.5,1044.3 1243.0,1044.8 1244.5,1046.6 1246.0,1047.4 1247.5,1047.4 1249.0,1049.5 1250.5,1054.9 1252.0,1054.9 1253.5,1056.2 1255.0,1058.4 1256.5,1060.2 1258.0,1060.2 1259.5,1060.2 1261.0,1062.2 1262.5,1064.0 1264.0,1064.0 1265.5,1065.8 1267.0,1068.9 1268.5,1072.4 1270.0,1072.5 1271.5,1074.3 1273.0,1075.2 1274.5,1075.2 1276.0,1080.4 1277.5,1083.1 1279.0,1083.1 1280.5,1083.1 1282.0,1087.3 1283.5,1088.9 1285.0,1088.9 1286.5,1088.9 1288.0,1088.9 1289.5,1089.0 1291.0,1091.1 1292.5,1097.3 1294.0,1097.9 1295.5,1097.9 1297.0,1098.1 1298.5,1098.7 1300.0,1100.4 1301.5,1100.4 1303.0,1100.6 1304.5,1101.2 1306.0,1102.3 1307.5,1103.3 1309.0,1103.8 1310.5,1103.8 1312.0,1103.8 1313.5,1105.2 1315.0,1107.4 1316.5,1110.1 1318.0,1111.0 1319.5,1111.0 1321.0,1111.0 1322.5,1111.0 1324.0,1113.5 1325.5,1113.5 1327.0,1113.5 1328.5,1113.5 1330.0,1115.6 1331.5,1115.6 1333.0,1115.6 1334.5,1115.6 1336.0,1117.1 1337.5,1117.1 1339.0,1117.1 1340.5,1117.1 1342.0,1117.1 1343.5,1117.1 1345.0,1118.1 1346.5,1121.0 1348.0,1121.6 1349.5,1122.3 1351.0,1122.3 1352.5,1122.3 1354.0,1122.3 1355.5,1122.3 1357.0,1122.3 1358.5,1122.3 1360.0,1122.3 1361.5,1124.7 1363.0,1125.7 1364.5,1125.7 1366.0,1125.7 1367.5,1126.6 1369.0,1126.6 1370.5,1126.6 1372.0,1127.1 1373.5,1127.1 1375.0,1127.1 1376.5,1127.1 1378.0,1128.6 1379.5,1118.7 1381.0,1118.7 1382.5,1118.7 1384.0,1118.7 1385.5,1118.7 1387.0,1118.7 1388.5,1118.7 1390.0,1118.7 1391.5,1118.7 1393.0,1119.3 1394.5,1120.3 1396.0,1120.9 1397.5,1122.5 1399.0,1122.8 1400.5,1122.8 1402.0,1122.8 1403.5,1124.6 1405.0,1124.6 1406.5,1124.6 1408.0,1126.1 1409.5,1126.1 1411.0,1126.1 1412.5,1126.1 1414.0,1128.0 1415.5,1131.1 1417.0,1131.5 1418.5,1131.5 1420.0,1131.5 1421.5,1131.5 1423.0,1132.9 1424.5,1135.1 1426.0,1135.1 1427.5,1135.1 1429.0,1135.4 1430.5,1136.0 1432.0,1140.5 1433.5,1140.9 1435.0,1140.9 1436.5,1140.9 1438.0,1140.9 1439.5,1140.9 1441.0,1140.9 1442.5,1141.0 1444.0,1144.3 1445.5,1147.3 1447.0,1147.3 1448.5,1147.3 1450.0,1147.3 1451.5,1150.2 1453.0,1151.3 1454.5,1151.3 1456.0,1151.3 1457.5,1152.7 1459.0,1152.9 1460.5,1152.9 1462.0,1152.9 1463.5,1155.2 1465.0,1156.6 1466.5,1156.6 1468.0,1156.6 1469.5,1157.6 1471.0,1158.6 1472.5,1158.8 1474.0,1160.7 1475.5,1161.3 1477.0,1162.6 1478.5,1165.6 1480.0,1165.6 1481.5,1165.6 1483.0,1167.3 1484.5,1168.6 1486.0,1168.6 1487.5,1168.6 1489.0,1169.6 1490.5,1172.7 1492.0,1173.0 1493.5,1173.9 1495.0,1174.9 1496.5,1175.6 1498.0,1178.2 1499.5,1178.2 1501.0,1179.3 1502.5,1182.3 1504.0,1182.3 1505.5,1182.3 1507.0,1182.3 1508.5,1182.3 1510.0,1182.3 1511.5,1184.4 1513.0,1184.4 1514.5,1184.4 1516.0,1184.4 1517.5,1185.5 1519.0,1188.1 1520.5,1188.5 1522.0,1188.5 1523.5,1188.5 1525.0,1188.9 1526.5,1190.2 1528.0,1193.0 1529.5,1193.0 1531.0,1193.7 1532.5,1194.8 1534.0,1194.8 1535.5,1194.8 1537.0,1195.8 1538.5,1198.3 1540.0,1198.3 1541.5,1198.3 1543.0,1199.3 1544.5,1202.4 1546.0,1203.9 1547.5,1203.9 1549.0,1203.9 1550.5,1203.9 1552.0,1205.9 1553.5,1206.0 1555.0,1206.6 1556.5,1208.6 1558.0,1209.2 1559.5,1210.2 1561.0,1211.7 1562.5,1211.7 1564.0,1211.7 1565.5,1214.7 1567.0,1217.3 1568.5,1217.3 1570.0,1217.3 1571.5,1217.3 1573.0,1218.0 1574.5,1220.1 1576.0,1221.1 1577.5,1222.2 1579.0,1222.2 1580.5,1222.2 1582.0,1222.2 1583.5,1222.2 1585.0,1223.5 1586.5,1226.2 1588.0,1226.2 1589.5,1226.2 1591.0,1226.2 1592.5,1226.2 1594.0,1226.2 1595.5,1229.9 1597.0,1233.0 1598.5,1233.0 1600.0,1233.0 1601.5,1233.1 1603.0,1233.7 1604.5,1234.4 1606.0,1234.4 1607.5,1234.4 1609.0,1234.4 1610.5,1234.4 1612.0,1236.0 1613.5,1236.0 1615.0,1236.8 1616.5,1239.1 1618.0,1240.3 1619.5,1240.3 1621.0,1240.6 1622.5,1240.7 1624.0,1240.7 1625.5,1242.5 1627.0,1242.5 1628.5,1242.5 1630.0,1244.6 1631.5,1244.6 1633.0,1245.7 1634.5,1245.7 1636.0,1245.7 1637.5,1247.6 1639.0,1248.2 1640.5,1248.2 1642.0,1248.2 1643.5,1250.0 1645.0,1251.1 1646.5,1251.1 1648.0,1251.1 1649.5,1251.1 1651.0,1251.9 1652.5,1252.3 1654.0,1252.3 1655.5,1254.1 1657.0,1254.1 1658.5,1254.1 1660.0,1258.3 1661.5,1258.3 1663.0,1258.3 1664.5,1258.3 1666.0,1258.3 1667.5,1258.3 1669.0,1259.5 1670.5,1259.5 1672.0,1259.5 1673.5,1260.1 1675.0,1261.2 1676.5,1262.7 1678.0,1262.8 1679.5,1262.8 1681.0,1263.7 1682.5,1265.0 1684.0,1265.0 1685.5,1265.6 1687.0,1267.4 1688.5,1269.4 1690.0,1269.4 1691.5,1270.5 1693.0,1270.5 1694.5,1270.5 1696.0,1270.5 1697.5,1271.8 1699.0,1271.8 1700.5,1271.8 1702.0,1271.8 1703.5,1272.3 1705.0,1273.0 1706.5,1273.7 1708.0,1274.4 1709.5,1274.7 1711.0,1274.7 1712.5,1274.7 1714.0,1274.7 1715.5,1276.2 1717.0,1276.7 1718.5,1276.7 1720.0,1279.6 1721.5,1279.6 1723.0,1279.6 1724.5,1279.6 1726.0,1279.6 1727.5,1279.6 1729.0,1279.6 1730.5,1279.6 1732.0,1280.8 1733.5,1281.2 1735.0,1282.7 1736.5,1284.1 1738.0,1284.1 1739.5,1284.3 1741.0,1284.7 1742.5,1284.7 1744.0,1284.7 1745.5,1285.1 1747.0,1285.9 1748.5,1287.2 1750.0,1287.4 1751.5,1287.4 1753.0,1287.4 1754.5,1287.4 1756.0,1289.3 1757.5,1290.5 1759.0,1291.9 1760.5,1294.1 1762.0,1294.1 1763.5,1294.1 1765.0,1294.1 1766.5,1294.1 1768.0,1294.1 1769.5,1294.9 1771.0,1296.2 1772.5,1297.7 1774.0,1297.8 1775.5,1297.8 1777.0,1298.6 1778.5,1301.1 1780.0,1301.1 1781.5,1301.1 1783.0,1301.9 1784.5,1304.3 1786.0,1305.8 1787.5,1305.8 1789.0,1305.8 1790.5,1305.8 1792.0,1308.2 1793.5,1308.2 1795.0,1308.5 1796.5,1308.6 1798.0,1308.6 1799.5,1310.0 1801.0,1310.0 1802.5,1310.0 1804.0,1311.5 1805.5,1311.8 1807.0,1311.9 1808.5,1311.9 1810.0,1311.9 1811.5,1312.4 1813.0,1313.4 1814.5,1314.4 1816.0,1314.4 1817.5,1314.4 1819.0,1315.2 1820.5,1317.6 1822.0,1318.5 1823.5,1318.5 1825.0,1318.5 1826.5,1318.5 1828.0,1318.5 1829.5,1318.5 1831.0,1318.5 1832.5,1318.5 1834.0,1318.5 1835.5,1319.3 1837.0,1320.4 1838.5,1321.0 1840.0,1321.0 1841.5,1321.0 1843.0,1322.3 1844.5,1322.4 1846.0,1322.4 1847.5,1322.4 1849.0,1323.0 1850.5,1324.9 1852.0,1325.4 1853.5,1325.4 1855.0,1325.4 1856.5,1325.4 1858.0,1325.5 1859.5,1325.6 1861.0,1325.6 1862.5,1325.6 1864.0,1327.3 1865.5,1327.3 1867.0,1327.3 1868.5,1327.3 1870.0,1329.8 1871.5,1329.8 1873.0,1330.0 1874.5,1330.2 1876.0,1330.2 1877.5,1330.2 1879.0,1331.3 1880.5,1331.7 1882.0,1331.7 1883.5,1331.7 1885.0,1332.2 1886.5,1333.4 1888.0,1333.4 1889.5,1333.7 1891.0,1333.7 1892.5,1333.7 1894.0,1335.3 1895.5,1336.6 1897.0,1336.6 1898.5,1336.6 1900.0,1337.1 1901.5,1337.1 1903.0,1337.1 1904.5,1337.1 1906.0,1339.9 1907.5,1340.0 1909.0,1340.3 1910.5,1340.5 1912.0,1340.5 1913.5,1340.8 1915.0,1340.8 1916.5,1340.8 1918.0,1341.2 1919.5,1341.2 1921.0,1341.2 1922.5,1341.2 1924.0,1341.2 1925.5,1341.2 1927.0,1342.1 1928.5,1342.3 1930.0,1342.3 1931.5,1343.2 1933.0,1343.2 1934.5,1343.2 1936.0,1343.2 1937.5,1344.1 1939.0,1344.7 1940.5,1344.7 1942.0,1344.7 1943.5,1344.7 1945.0,1345.1 1946.5,1346.3 1948.0,1346.8 1949.5,1346.8 1951.0,1346.8 1952.5,1346.8 1954.0,1346.8 1955.5,1346.8 1957.0,1347.7 1958.5,1347.8 1960.0,1347.8 1961.5,1348.5 1963.0,1348.5 1964.5,1348.5 1966.0,1348.7 1967.5,1348.7 1969.0,1348.8 1970.5,1349.3 1972.0,1349.8 1973.5,1349.8 1975.0,1350.3 1976.5,1351.8 1978.0,1352.2 1979.5,1352.7 1981.0,1352.8 1982.5,1352.8 1984.0,1352.8 1985.5,1352.8 1987.0,1352.8 1988.5,1352.8 1990.0,1352.8 1991.5,1352.8 1993.0,1353.0 1994.5,1353.4 1996.0,1353.5 1997.5,1353.8 1999.0,1354.0 2000.5,1354.4 2002.0,1355.6 2003.5,1356.0 2005.0,1355.7 2006.5,1355.7 2008.0,1355.7 2009.5,1355.7 2011.0,1355.7 2012.5,1355.7 2014.0,1355.7 2015.5,1355.7 2017.0,1356.3 2018.5,1356.3 2020.0,1356.3 2021.5,1356.3 2023.0,1356.3 2024.5,1356.3 2026.0,1357.4 2027.5,1358.0 2029.0,1358.0 2030.5,1358.0 2032.0,1358.0 2033.5,1358.8 2035.0,1359.3 2036.5,1359.3 2038.0,1359.3 2039.5,1359.3 2041.0,1359.3 2042.5,1359.3 2044.0,1359.9 2045.5,1359.9 2047.0,1359.9 2048.5,1359.9 2050.0,1360.2 2051.5,1360.2 2053.0,1360.2 2054.5,1360.2 2056.0,1361.4 2057.5,1361.4 2059.0,1361.5 2060.5,1361.8 2062.0,1362.2 2063.5,1362.2 2065.0,1362.2 2066.5,1362.2 2068.0,1362.2 2069.5,1363.1 2071.0,1363.4 2072.5,1363.4 2074.0,1364.6 2075.5,1365.0 2077.0,1365.0 2078.5,1365.0 2080.0,1365.0 2081.5,1365.0 2083.0,1365.3 2084.5,1365.3 2086.0,1365.3 2087.5,1365.3 2089.0,1365.3 2090.5,1365.3 2092.0,1365.7 2093.5,1366.2 2095.0,1366.5 2096.5,1366.7 2098.0,1366.9 2099.5,1366.9 2101.0,1367.0 2102.5,1367.0 2104.0,1367.0 2105.5,1367.7 2107.0,1367.7 2108.5,1367.7 2110.0,1367.9 2111.5,1367.9 2113.0,1368.2 2114.5,1368.4 2116.0,1368.4 2117.5,1368.4 2119.0,1368.4 2120.5,1368.4 2122.0,1368.9 2123.5,1368.9 2125.0,1368.9 2126.5,1368.9 2128.0,1368.9 2129.5,1368.9 2131.0,1368.9 2132.5,1368.9 2134.0,1369.8 2135.5,1370.2 2137.0,1370.6 2138.5,1371.5 2140.0,1370.4 2141.5,1370.4 2143.0,1370.4 2144.5,1370.4 2146.0,1370.4 2147.5,1370.4 2149.0,1370.4 2150.5,1370.4 2152.0,1370.4 2153.5,1370.7 2155.0,1370.7 2156.5,1370.7 2158.0,1370.7 2159.5,1371.0 2161.0,1371.5 2162.5,1371.7 2164.0,1371.7 2165.5,1371.7 2167.0,1371.7 2168.5,1371.7 2170.0,1371.7 2171.5,1371.7 2173.0,1372.0 2174.5,1372.6 2176.0,1372.6 2177.5,1372.6 2179.0,1372.6 2180.5,1372.6 2182.0,1372.7 2183.5,1372.7 2185.0,1372.7 2186.5,1372.7 2188.0,1372.9 2189.5,1372.9 2191.0,1372.9 2192.5,1372.9 2194.0,1372.9 2195.5,1374.1 2197.0,1374.1 2198.5,1374.1 2200.0,1374.1 2201.5,1374.1 2203.0,1374.1 2204.5,1374.1 2206.0,1374.2 2207.5,1374.2 2209.0,1374.2 2210.5,1374.2 2212.0,1374.2 2213.5,1374.2 2215.0,1374.3 2216.5,1374.7 2218.0,1375.1 2219.5,1375.1 2221.0,1375.1 2222.5,1375.2 2224.0,1375.3 2225.5,1375.4 2227.0,1375.4 2228.5,1375.4 2230.0,1375.4 2231.5,1375.4 2233.0,1375.4 2234.5,1375.4 2236.0,1375.6 2237.5,1375.6 2239.0,1375.9 2240.5,1376.6 2242.0,1376.1 2243.5,1376.0 2245.0,1376.0 2246.5,1376.0 2248.0,1376.0 2249.5,1376.0 2251.0,1376.0 2252.5,1376.0 2254.0,1376.0 2255.5,1376.0 2257.0,1376.4 2258.5,1376.7 2260.0,1376.7 2261.5,1376.7 2263.0,1376.7 2264.5,1376.7 2266.0,1376.7 2267.5,1377.3 2269.0,1377.1 2270.5,1377.1 2272.0,1377.1 2273.5,1377.1 2275.0,1377.1 2276.5,1377.1 2278.0,1377.1 2279.5,1377.1 2281.0,1377.1 2282.5,1377.1 2284.0,1377.1 2285.5,1377.5 2287.0,1377.6 2288.5,1377.6 2290.0,1377.6 2291.5,1377.6 2293.0,1377.6 2294.5,1377.6 2296.0,1377.6 2297.5,1378.0 2299.0,1378.0 2300.5,1378.0 2302.0,1378.3 2303.5,1378.3 2305.0,1378.3 2306.5,1378.3 2308.0,1378.3 2309.5,1378.5 2311.0,1378.5 2312.5,1378.5 2314.0,1378.9 2315.5,1378.9 2317.0,1378.9 2318.5,1378.9 2320.0,1379.4 2321.5,1379.4 2323.0,1379.7 2324.5,1380.2 2326.0,1380.2 2327.5,1380.3 2329.0,1380.3 2330.5,1380.3 2332.0,1380.3 2333.5,1380.3 2335.0,1380.3 2336.5,1380.3 2338.0,1380.3 2339.5,1380.4 2341.0,1380.4 2342.5,1380.4 2344.0,1380.4 2345.5,1380.4 2347.0,1380.4 2348.5,1380.4 2350.0,1380.6 2351.5,1380.7 2353.0,1381.0 2354.5,1381.1 2356.0,1381.1 2357.5,1381.1 2359.0,1381.1 2360.5,1381.1 2362.0,1381.1 2363.5,1381.1 2365.0,1381.1 2366.5,1381.1 2366.5,1393.7 2365.0,1393.7 2363.5,1393.7 2362.0,1393.7 2360.5,1393.7 2359.0,1393.7 2357.5,1393.6 2356.0,1393.6 2354.5,1393.6 2353.0,1393.6 2351.5,1393.5 2350.0,1393.1 2348.5,1393.1 2347.0,1393.0 2345.5,1393.0 2344.0,1393.0 2342.5,1393.0 2341.0,1392.3 2339.5,1392.6 2338.0,1392.6 2336.5,1392.6 2335.0,1392.6 2333.5,1392.6 2332.0,1392.6 2330.5,1392.6 2329.0,1392.6 2327.5,1392.3 2326.0,1392.2 2324.5,1392.2 2323.0,1392.2 2321.5,1392.2 2320.0,1392.2 2318.5,1392.2 2317.0,1392.0 2315.5,1391.8 2314.0,1391.8 2312.5,1391.8 2311.0,1391.3 2309.5,1391.3 2308.0,1391.3 2306.5,1391.3 2305.0,1391.3 2303.5,1391.2 2302.0,1391.2 2300.5,1391.2 2299.0,1391.2 2297.5,1390.9 2296.0,1390.9 2294.5,1390.9 2293.0,1390.7 2291.5,1390.7 2290.0,1390.7 2288.5,1390.7 2287.0,1390.7 2285.5,1390.4 2284.0,1390.4 2282.5,1390.4 2281.0,1390.4 2279.5,1390.4 2278.0,1390.4 2276.5,1389.9 2275.0,1389.3 2273.5,1389.3 2272.0,1389.3 2270.5,1389.3 2269.0,1389.1 2267.5,1389.1 2266.0,1389.1 2264.5,1389.3 2263.0,1389.3 2261.5,1389.3 2260.0,1389.3 2258.5,1389.3 2257.0,1389.3 2255.5,1389.3 2254.0,1389.3 2252.5,1389.3 2251.0,1389.1 2249.5,1388.7 2248.0,1388.7 2246.5,1388.7 2245.0,1388.7 2243.5,1388.7 2242.0,1388.7 2240.5,1388.7 2239.0,1388.6 2237.5,1388.6 2236.0,1388.6 2234.5,1388.6 2233.0,1388.6 2231.5,1388.6 2230.0,1388.6 2228.5,1388.2 2227.0,1387.3 2225.5,1387.5 2224.0,1387.5 2222.5,1387.5 2221.0,1387.5 2219.5,1387.5 2218.0,1387.5 2216.5,1387.5 2215.0,1387.5 2213.5,1387.5 2212.0,1387.5 2210.5,1387.5 2209.0,1387.5 2207.5,1387.5 2206.0,1387.5 2204.5,1386.4 2203.0,1386.4 2201.5,1386.4 2200.0,1386.4 2198.5,1386.4 2197.0,1386.4 2195.5,1386.3 2194.0,1386.3 2192.5,1386.3 2191.0,1386.3 2189.5,1386.3 2188.0,1386.3 2186.5,1386.3 2185.0,1386.3 2183.5,1386.0 2182.0,1386.0 2180.5,1386.0 2179.0,1385.6 2177.5,1385.6 2176.0,1385.6 2174.5,1385.0 2173.0,1385.0 2171.5,1385.0 2170.0,1385.0 2168.5,1385.0 2167.0,1385.0 2165.5,1385.0 2164.0,1384.9 2162.5,1384.8 2161.0,1384.8 2159.5,1384.8 2158.0,1384.8 2156.5,1384.7 2155.0,1384.7 2153.5,1384.5 2152.0,1383.9 2150.5,1383.7 2149.0,1383.7 2147.5,1383.7 2146.0,1383.7 2144.5,1383.7 2143.0,1383.7 2141.5,1383.7 2140.0,1383.7 2138.5,1383.7 2137.0,1383.7 2135.5,1383.7 2134.0,1383.5 2132.5,1383.1 2131.0,1383.1 2129.5,1383.1 2128.0,1383.1 2126.5,1382.8 2125.0,1382.0 2123.5,1381.4 2122.0,1381.4 2120.5,1381.4 2119.0,1381.4 2117.5,1381.3 2116.0,1381.3 2114.5,1381.3 2113.0,1381.3 2111.5,1381.3 2110.0,1381.3 2108.5,1381.3 2107.0,1381.3 2105.5,1380.9 2104.0,1380.1 2102.5,1380.1 2101.0,1379.7 2099.5,1379.7 2098.0,1379.7 2096.5,1379.4 2095.0,1379.4 2093.5,1379.1 2092.0,1379.0 2090.5,1379.0 2089.0,1378.5 2087.5,1378.2 2086.0,1378.2 2084.5,1378.0 2083.0,1378.0 2081.5,1378.0 2080.0,1378.0 2078.5,1378.0 2077.0,1378.0 2075.5,1378.0 2074.0,1378.0 2072.5,1377.5 2071.0,1377.1 2069.5,1377.1 2068.0,1377.1 2066.5,1377.1 2065.0,1376.9 2063.5,1376.6 2062.0,1376.0 2060.5,1375.0 2059.0,1375.0 2057.5,1374.6 2056.0,1374.6 2054.5,1374.6 2053.0,1374.6 2051.5,1374.3 2050.0,1374.1 2048.5,1374.1 2047.0,1374.1 2045.5,1374.1 2044.0,1374.1 2042.5,1372.6 2041.0,1372.6 2039.5,1372.6 2038.0,1372.6 2036.5,1371.4 2035.0,1371.4 2033.5,1371.4 2032.0,1371.4 2030.5,1370.9 2029.0,1370.9 2027.5,1370.9 2026.0,1370.9 2024.5,1370.8 2023.0,1370.7 2021.5,1370.2 2020.0,1369.5 2018.5,1369.5 2017.0,1369.5 2015.5,1369.3 2014.0,1369.3 2012.5,1369.3 2011.0,1369.3 2009.5,1369.3 2008.0,1369.3 2006.5,1369.3 2005.0,1368.7 2003.5,1368.7 2002.0,1368.7 2000.5,1368.7 1999.0,1368.7 1997.5,1368.7 1996.0,1368.7 1994.5,1368.3 1993.0,1368.3 1991.5,1368.0 1990.0,1367.0 1988.5,1365.8 1987.0,1365.4 1985.5,1365.4 1984.0,1365.4 1982.5,1365.4 1981.0,1365.4 1979.5,1365.4 1978.0,1365.4 1976.5,1364.8 1975.0,1364.8 1973.5,1364.8 1972.0,1364.8 1970.5,1364.8 1969.0,1364.4 1967.5,1363.9 1966.0,1363.3 1964.5,1362.9 1963.0,1362.8 1961.5,1362.8 1960.0,1362.8 1958.5,1361.7 1957.0,1361.7 1955.5,1361.7 1954.0,1361.7 1952.5,1361.7 1951.0,1361.7 1949.5,1361.7 1948.0,1361.7 1946.5,1361.7 1945.0,1360.1 1943.5,1360.1 1942.0,1360.1 1940.5,1360.1 1939.0,1360.1 1937.5,1360.1 1936.0,1360.1 1934.5,1358.1 1933.0,1358.1 1931.5,1358.1 1930.0,1358.1 1928.5,1357.2 1927.0,1356.5 1925.5,1355.9 1924.0,1355.9 1922.5,1355.9 1921.0,1355.9 1919.5,1355.9 1918.0,1355.9 1916.5,1355.9 1915.0,1354.0 1913.5,1353.5 1912.0,1353.5 1910.5,1353.5 1909.0,1353.5 1907.5,1353.3 1906.0,1352.6 1904.5,1352.3 1903.0,1352.3 1901.5,1352.1 1900.0,1352.0 1898.5,1352.0 1897.0,1351.8 1895.5,1351.8 1894.0,1351.8 1892.5,1349.0 1891.0,1348.9 1889.5,1348.9 1888.0,1348.9 1886.5,1348.9 1885.0,1348.9 1883.5,1348.4 1882.0,1346.9 1880.5,1345.7 1879.0,1345.7 1877.5,1345.5 1876.0,1345.5 1874.5,1345.5 1873.0,1345.5 1871.5,1345.5 1870.0,1345.5 1868.5,1345.5 1867.0,1344.0 1865.5,1344.0 1864.0,1344.0 1862.5,1343.6 1861.0,1343.6 1859.5,1343.6 1858.0,1343.6 1856.5,1342.5 1855.0,1342.5 1853.5,1342.3 1852.0,1341.6 1850.5,1339.6 1849.0,1339.6 1847.5,1339.6 1846.0,1339.6 1844.5,1339.6 1843.0,1339.6 1841.5,1339.6 1840.0,1339.5 1838.5,1337.2 1837.0,1337.2 1835.5,1337.2 1834.0,1337.2 1832.5,1337.1 1831.0,1334.5 1829.5,1332.7 1828.0,1332.7 1826.5,1332.7 1825.0,1331.9 1823.5,1331.9 1822.0,1331.9 1820.5,1331.9 1819.0,1331.9 1817.5,1331.9 1816.0,1331.9 1814.5,1330.6 1813.0,1330.6 1811.5,1330.6 1810.0,1330.6 1808.5,1329.1 1807.0,1327.0 1805.5,1326.8 1804.0,1326.8 1802.5,1326.2 1801.0,1324.9 1799.5,1323.7 1798.0,1323.4 1796.5,1323.4 1795.0,1323.1 1793.5,1323.1 1792.0,1323.1 1790.5,1322.9 1789.0,1322.9 1787.5,1322.1 1786.0,1320.9 1784.5,1320.9 1783.0,1320.9 1781.5,1320.9 1780.0,1320.9 1778.5,1318.0 1777.0,1318.0 1775.5,1318.0 1774.0,1318.0 1772.5,1316.0 1771.0,1314.6 1769.5,1314.6 1768.0,1314.6 1766.5,1312.9 1765.0,1312.9 1763.5,1312.9 1762.0,1312.9 1760.5,1309.8 1759.0,1307.7 1757.5,1306.3 1756.0,1305.6 1754.5,1305.6 1753.0,1305.6 1751.5,1305.6 1750.0,1305.6 1748.5,1305.4 1747.0,1303.7 1745.5,1302.1 1744.0,1302.1 1742.5,1302.1 1741.0,1302.1 1739.5,1302.1 1738.0,1302.1 1736.5,1299.2 1735.0,1298.2 1733.5,1298.2 1732.0,1298.2 1730.5,1298.2 1729.0,1298.2 1727.5,1298.2 1726.0,1298.2 1724.5,1298.2 1723.0,1295.2 1721.5,1295.2 1720.0,1295.2 1718.5,1295.2 1717.0,1295.2 1715.5,1294.9 1714.0,1294.0 1712.5,1292.4 1711.0,1292.4 1709.5,1292.4 1708.0,1292.4 1706.5,1290.3 1705.0,1290.3 1703.5,1290.3 1702.0,1290.3 1700.5,1290.3 1699.0,1290.0 1697.5,1288.7 1696.0,1285.7 1694.5,1285.0 1693.0,1285.0 1691.5,1285.0 1690.0,1285.0 1688.5,1285.0 1687.0,1285.0 1685.5,1284.1 1684.0,1283.9 1682.5,1283.9 1681.0,1283.9 1679.5,1283.0 1678.0,1282.0 1676.5,1282.0 1675.0,1279.6 1673.5,1277.2 1672.0,1277.2 1670.5,1277.2 1669.0,1275.9 1667.5,1275.9 1666.0,1275.9 1664.5,1274.2 1663.0,1274.1 1661.5,1274.1 1660.0,1274.1 1658.5,1274.1 1657.0,1273.0 1655.5,1273.0 1654.0,1273.0 1652.5,1273.0 1651.0,1272.0 1649.5,1271.0 1648.0,1271.0 1646.5,1269.2 1645.0,1269.2 1643.5,1267.7 1642.0,1266.3 1640.5,1266.3 1639.0,1266.3 1637.5,1266.3 1636.0,1266.3 1634.5,1264.0 1633.0,1263.1 1631.5,1262.0 1630.0,1261.1 1628.5,1261.1 1627.0,1260.8 1625.5,1260.6 1624.0,1260.6 1622.5,1260.6 1621.0,1258.9 1619.5,1258.9 1618.0,1258.9 1616.5,1257.7 1615.0,1257.7 1613.5,1256.2 1612.0,1252.8 1610.5,1252.8 1609.0,1252.8 1607.5,1252.8 1606.0,1252.8 1604.5,1250.8 1603.0,1248.6 1601.5,1248.2 1600.0,1248.2 1598.5,1248.2 1597.0,1248.2 1595.5,1248.2 1594.0,1248.2 1592.5,1246.8 1591.0,1245.2 1589.5,1244.5 1588.0,1244.5 1586.5,1244.5 1585.0,1244.5 1583.5,1242.7 1582.0,1240.2 1580.5,1240.2 1579.0,1240.2 1577.5,1240.2 1576.0,1240.2 1574.5,1238.8 1573.0,1235.8 1571.5,1235.5 1570.0,1235.5 1568.5,1235.5 1567.0,1235.5 1565.5,1234.7 1564.0,1232.5 1562.5,1231.5 1561.0,1231.1 1559.5,1231.1 1558.0,1231.1 1556.5,1229.4 1555.0,1228.8 1553.5,1227.3 1552.0,1225.1 1550.5,1225.1 1549.0,1223.6 1547.5,1221.6 1546.0,1220.4 1544.5,1219.8 1543.0,1218.3 1541.5,1217.6 1540.0,1217.6 1538.5,1216.8 1537.0,1216.8 1535.5,1216.7 1534.0,1216.5 1532.5,1214.2 1531.0,1211.8 1529.5,1211.8 1528.0,1211.8 1526.5,1210.2 1525.0,1208.5 1523.5,1208.5 1522.0,1208.5 1520.5,1208.1 1519.0,1208.1 1517.5,1208.1 1516.0,1208.1 1514.5,1203.6 1513.0,1203.6 1511.5,1203.6 1510.0,1203.6 1508.5,1203.6 1507.0,1200.6 1505.5,1199.5 1504.0,1199.5 1502.5,1199.5 1501.0,1199.5 1499.5,1198.0 1498.0,1196.3 1496.5,1196.3 1495.0,1195.5 1493.5,1194.4 1492.0,1193.6 1490.5,1193.6 1489.0,1191.4 1487.5,1190.9 1486.0,1190.9 1484.5,1187.7 1483.0,1186.1 1481.5,1185.3 1480.0,1184.1 1478.5,1183.8 1477.0,1183.2 1475.5,1183.2 1474.0,1183.2 1472.5,1183.2 1471.0,1180.3 1469.5,1180.3 1468.0,1180.3 1466.5,1178.2 1465.0,1174.9 1463.5,1172.4 1462.0,1172.4 1460.5,1170.4 1459.0,1170.1 1457.5,1170.1 1456.0,1170.1 1454.5,1170.1 1453.0,1169.3 1451.5,1167.3 1450.0,1166.8 1448.5,1166.8 1447.0,1165.9 1445.5,1164.4 1444.0,1164.1 1442.5,1164.1 1441.0,1164.1 1439.5,1162.6 1438.0,1160.6 1436.5,1160.6 1435.0,1160.6 1433.5,1159.5 1432.0,1156.6 1430.5,1156.6 1429.0,1156.6 1427.5,1156.6 1426.0,1156.6 1424.5,1154.7 1423.0,1154.7 1421.5,1154.3 1420.0,1153.0 1418.5,1148.5 1417.0,1147.9 1415.5,1147.9 1414.0,1147.9 1412.5,1147.9 1411.0,1146.8 1409.5,1146.8 1408.0,1146.8 1406.5,1145.9 1405.0,1145.1 1403.5,1143.3 1402.0,1139.7 1400.5,1139.7 1399.0,1139.7 1397.5,1139.6 1396.0,1139.3 1394.5,1139.0 1393.0,1139.0 1391.5,1137.7 1390.0,1143.4 1388.5,1145.5 1387.0,1145.5 1385.5,1145.5 1384.0,1145.5 1382.5,1145.5 1381.0,1145.5 1379.5,1145.5 1378.0,1145.5 1376.5,1145.5 1375.0,1144.4 1373.5,1144.4 1372.0,1144.4 1370.5,1144.4 1369.0,1144.4 1367.5,1143.6 1366.0,1141.3 1364.5,1140.7 1363.0,1140.7 1361.5,1140.7 1360.0,1140.7 1358.5,1139.9 1357.0,1139.9 1355.5,1139.1 1354.0,1138.0 1352.5,1138.0 1351.0,1138.0 1349.5,1136.8 1348.0,1136.8 1346.5,1136.8 1345.0,1136.8 1343.5,1136.8 1342.0,1136.8 1340.5,1136.8 1339.0,1136.1 1337.5,1134.7 1336.0,1133.3 1334.5,1133.3 1333.0,1133.3 1331.5,1133.3 1330.0,1133.3 1328.5,1133.3 1327.0,1130.8 1325.5,1130.6 1324.0,1130.6 1322.5,1130.6 1321.0,1130.6 1319.5,1130.6 1318.0,1130.6 1316.5,1128.0 1315.0,1128.0 1313.5,1128.0 1312.0,1127.8 1310.5,1124.6 1309.0,1124.6 1307.5,1124.6 1306.0,1124.6 1304.5,1122.0 1303.0,1119.3 1301.5,1117.6 1300.0,1117.6 1298.5,1117.6 1297.0,1116.3 1295.5,1114.6 1294.0,1113.7 1292.5,1112.6 1291.0,1112.6 1289.5,1112.6 1288.0,1112.6 1286.5,1110.4 1285.0,1109.8 1283.5,1109.8 1282.0,1109.8 1280.5,1108.7 1279.0,1104.2 1277.5,1101.4 1276.0,1101.4 1274.5,1101.4 1273.0,1101.3 1271.5,1100.8 1270.0,1099.7 1268.5,1095.5 1267.0,1095.3 1265.5,1094.8 1264.0,1093.1 1262.5,1087.9 1261.0,1086.9 1259.5,1086.1 1258.0,1083.6 1256.5,1083.5 1255.0,1081.0 1253.5,1078.8 1252.0,1078.8 1250.5,1078.8 1249.0,1075.0 1247.5,1071.6 1246.0,1071.6 1244.5,1071.6 1243.0,1070.1 1241.5,1067.9 1240.0,1067.0 1238.5,1067.0 1237.0,1062.7 1235.5,1059.5 1234.0,1059.5 1232.5,1058.1 1231.0,1056.4 1229.5,1056.3 1228.0,1056.3 1226.5,1051.7 1225.0,1048.6 1223.5,1048.3 1222.0,1048.3 1220.5,1047.9 1219.0,1046.6 1217.5,1043.8 1216.0,1040.8 1214.5,1040.8 1213.0,1038.3 1211.5,1034.7 1210.0,1031.8 1208.5,1031.8 1207.0,1031.8 1205.5,1030.2 1204.0,1029.2 1202.5,1029.2 1201.0,1025.7 1199.5,1024.5 1198.0,1024.5 1196.5,1024.5 1195.0,1023.8 1193.5,1023.1 1192.0,1023.0 1190.5,1021.4 1189.0,1021.4 1187.5,1020.6 1186.0,1018.3 1184.5,1017.7 1183.0,1017.0 1181.5,1015.5 1180.0,1012.7 1178.5,1012.7 1177.0,1012.7 1175.5,1011.9 1174.0,1010.1 1172.5,1010.1 1171.0,1009.8 1169.5,1008.3 1168.0,1005.6 1166.5,1005.6 1165.0,1005.6 1163.5,1004.4 1162.0,1000.7 1160.5,999.4 1159.0,998.3 1157.5,997.2 1156.0,995.7 1154.5,994.0 1153.0,989.7 1151.5,989.7 1150.0,989.7 1148.5,982.3 1147.0,979.9 1145.5,979.7 1144.0,979.7 1142.5,979.7 1141.0,977.5 1139.5,975.1 1138.0,974.7 1136.5,969.2 1135.0,969.2 1133.5,969.2 1132.0,969.2 1130.5,962.1 1129.0,962.1 1127.5,961.3 1126.0,961.1 1124.5,961.1 1123.0,960.6 1121.5,959.5 1120.0,957.7 1118.5,956.3 1117.0,953.9 1115.5,950.9 1114.0,948.0 1112.5,945.1 1111.0,944.7 1109.5,944.7 1108.0,944.7 1106.5,944.7 1105.0,942.8 1103.5,940.7 1102.0,940.4 1100.5,937.4 1099.0,934.1 1097.5,931.4 1096.0,931.4 1094.5,931.4 1093.0,930.7 1091.5,928.8 1090.0,925.1 1088.5,923.7 1087.0,923.1 1085.5,923.1 1084.0,923.1 1082.5,923.1 1081.0,922.1 1079.5,920.8 1078.0,920.8 1076.5,920.8 1075.0,919.7 1073.5,918.1 1072.0,916.6 1070.5,910.4 1069.0,907.5 1067.5,907.1 1066.0,907.1 1064.5,907.1 1063.0,907.1 1061.5,904.9 1060.0,901.0 1058.5,901.0 1057.0,901.0 1055.5,900.6 1054.0,899.3 1052.5,893.7 1051.0,893.7 1049.5,893.7 1048.0,893.7 1046.5,886.4 1045.0,886.4 1043.5,886.4 1042.0,886.4 1040.5,884.8 1039.0,882.5 1037.5,880.5 1036.0,880.1 1034.5,878.6 1033.0,877.0 1031.5,874.4 1030.0,870.5 1028.5,870.5 1027.0,869.0 1025.5,867.4 1024.0,867.1 1022.5,864.5 1021.0,864.5 1019.5,862.3 1018.0,857.6 1016.5,857.6 1015.0,854.4 1013.5,850.9 1012.0,850.9 1010.5,850.9 1009.0,850.9 1007.5,848.5 1006.0,842.3 1004.5,842.3 1003.0,840.9 1001.5,840.8 1000.0,840.8 998.5,836.5 997.0,833.7 995.5,831.1 994.0,827.4 992.5,825.7 991.0,824.0 989.5,823.3 988.0,823.3 986.5,823.3 985.0,822.2 983.5,819.3 982.0,814.4 980.5,814.4 979.0,811.9 977.5,808.3 976.0,805.6 974.5,805.6 973.0,805.6 971.5,805.4 970.0,804.7 968.5,799.5 967.0,796.5 965.5,796.5 964.0,796.5 962.5,792.3 961.0,790.7 959.5,789.2 958.0,785.5 956.5,785.1 955.0,780.8 953.5,775.5 952.0,773.7 950.5,773.7 949.0,769.9 947.5,769.9 946.0,769.9 944.5,767.7 943.0,764.5 941.5,759.8 940.0,753.0 938.5,752.6 937.0,752.6 935.5,752.0 934.0,750.1 932.5,745.5 931.0,743.0 929.5,740.5 928.0,736.0 926.5,734.4 925.0,729.8 923.5,724.7 922.0,721.7 920.5,719.1 919.0,716.4 917.5,716.4 916.0,716.4 914.5,711.2 913.0,707.9 911.5,705.3 910.0,702.2 908.5,700.8 907.0,698.7 905.5,694.2 904.0,685.5 902.5,684.3 901.0,683.5 899.5,680.6 898.0,676.3 896.5,676.3 895.0,671.9 893.5,665.8 892.0,661.0 890.5,660.9 889.0,656.9 887.5,650.7 886.0,644.3 884.5,642.6 883.0,642.6 881.5,639.4 880.0,633.5 878.5,633.5 877.0,631.5 875.5,626.0 874.0,615.8 872.5,615.8 871.0,615.1 869.5,611.7 868.0,603.8 866.5,598.1 865.0,594.0 863.5,591.3 862.0,590.0 860.5,590.0 859.0,586.5 857.5,581.9 856.0,578.6 854.5,576.9 853.0,572.6 851.5,567.3 850.0,562.8 848.5,555.4 847.0,552.3 845.5,552.3 844.0,552.3 842.5,550.1 841.0,546.1 839.5,540.2 838.0,533.2 836.5,533.2 835.0,532.6 833.5,529.5 832.0,522.5 830.5,522.5 829.0,522.5 827.5,521.3 826.0,517.6 824.5,509.6 823.0,509.6 821.5,508.4 820.0,505.0 818.5,497.2 817.0,494.5 815.5,494.1 814.0,493.3 812.5,491.6 811.0,487.6 809.5,482.0 808.0,475.6 806.5,475.6 805.0,472.5 803.5,468.8 802.0,467.0 800.5,462.2 799.0,458.9 797.5,456.3 796.0,453.2 794.5,452.9 793.0,452.9 791.5,452.6 790.0,451.9 788.5,451.9 787.0,449.5 785.5,449.5 784.0,449.5 782.5,436.3 781.0,427.9 779.5,427.9 778.0,427.9 776.5,419.7 775.0,418.3 773.5,418.3 772.0,418.3 770.5,418.3 769.0,418.3 767.5,418.3 766.0,418.3 764.5,416.7 763.0,416.7 761.5,415.2 760.0,415.2 758.5,415.2 757.0,415.2 755.5,415.2 754.0,415.2 752.5,414.9 751.0,408.4 749.5,404.3 748.0,404.3 746.5,404.3 745.0,397.7 743.5,395.4 742.0,395.4 740.5,395.4 739.0,395.4 737.5,395.4 736.0,395.4 734.5,395.4 733.0,390.0 731.5,387.2 730.0,387.2 728.5,387.2 727.0,387.2 725.5,387.2 724.0,387.2 722.5,387.2 721.0,385.1 719.5,380.7 718.0,374.0 716.5,365.4 715.0,361.1 713.5,361.1 712.0,361.1 710.5,361.1 709.0,360.2 707.5,360.2 706.0,360.2 704.5,360.2 703.0,358.4 701.5,358.4 700.0,358.4 698.5,355.1 697.0,355.1 695.5,355.1 694.0,355.1 692.5,355.1 691.0,355.1 689.5,353.2 688.0,347.5 686.5,341.0 685.0,341.0 683.5,341.0 682.0,341.0 680.5,341.0 679.0,341.0 677.5,335.3 676.0,332.0 674.5,332.0 673.0,332.0 671.5,332.0 670.0,332.0 668.5,324.4 667.0,324.4 665.5,324.4 664.0,324.4 662.5,321.8 661.0,315.5 659.5,308.7 658.0,308.0 656.5,308.0 655.0,308.0 653.5,308.0 652.0,308.0 650.5,308.0 649.0,303.7 647.5,303.7 646.0,303.7 644.5,304.8 643.0,304.8 641.5,304.8 640.0,304.8 638.5,306.8 637.0,312.9 635.5,316.0 634.0,321.2 632.5,333.9 631.0,335.4 629.5,343.8 628.0,352.6 626.5,355.6 625.0,369.5 623.5,379.3 622.0,389.0 620.5,402.6 619.0,413.4 617.5,420.5 616.0,428.9 614.5,443.6 613.0,456.4 611.5,470.7 610.0,485.2 608.5,498.3 607.0,510.6 605.5,520.9 604.0,533.9 602.5,553.8 601.0,567.0 599.5,585.9 598.0,604.9 596.5,618.5 595.0,630.9 593.5,648.7 592.0,667.2 590.5,681.8 589.0,698.2 587.5,720.2 586.0,743.5 584.5,763.9 583.0,786.1 581.5,808.5 580.0,829.6 578.5,847.9 577.0,871.8 575.5,896.1 574.0,920.6 572.5,944.8 571.0,965.8 569.5,989.8 568.0,1012.8 566.5,1030.9 565.0,1056.2 563.5,1077.4 562.0,1098.1 560.5,1123.1 559.0,1138.3 557.5,1158.1 556.0,1177.3 554.5,1190.6 553.0,1202.3 551.5,1215.8 550.0,1229.9 548.5,1243.4 547.0,1253.5 545.5,1266.0 544.0,1277.6 542.5,1284.9 541.0,1295.7 539.5,1305.0 538.0,1313.5 536.5,1322.1 535.0,1331.7 533.5,1337.0 532.0,1341.8 530.5,1349.7 529.0,1354.0 527.5,1356.9 526.0,1359.7 524.5,1364.0 523.0,1369.6 521.5,1372.1 520.0,1374.2 518.5,1378.1 517.0,1380.0 515.5,1380.6 514.0,1381.2 512.5,1383.4 511.0,1384.6 509.5,1385.8 508.0,1387.2 506.5,1388.9 505.0,1389.7 503.5,1390.5 502.0,1390.9 500.5,1390.9 499.0,1392.4 497.5,1393.6 496.0,1394.3 494.5,1394.6 493.0,1395.0 491.5,1395.2 490.0,1395.2 488.5,1396.0 487.0,1396.0 485.5,1396.5 484.0,1397.2 482.5,1397.4 481.0,1398.1 479.5,1398.8 478.0,1399.3 476.5,1399.3 475.0,1399.8 473.5,1400.2 472.0,1400.6 470.5,1400.8 469.0,1400.8 467.5,1400.8 466.0,1400.8 464.5,1400.8 463.0,1401.0 461.5,1401.1 460.0,1401.2 458.5,1401.5 457.0,1401.5 455.5,1401.5 454.0,1401.5 452.5,1401.5 451.0,1401.5 449.5,1401.5 448.0,1401.5 446.5,1401.5 445.0,1401.5 443.5,1401.5 442.0,1401.5 440.5,1401.7 439.0,1401.7 437.5,1401.7 436.0,1401.7 434.5,1401.7 433.0,1401.7 431.5,1401.7 430.0,1401.7 428.5,1401.7 427.0,1401.6 425.5,1401.4 424.0,1401.6 422.5,1401.6 421.0,1401.6 419.5,1401.6 418.0,1401.6 416.5,1401.6 415.0,1401.6 413.5,1401.6 412.0,1401.6 410.5,1401.6 409.0,1401.6 407.5,1401.6 406.0,1401.7 404.5,1401.7 403.0,1401.7 401.5,1401.7 400.0,1401.7 398.5,1401.7 397.0,1401.7 395.5,1401.7 394.0,1401.7 392.5,1401.6 391.0,1401.6 389.5,1401.6 388.0,1401.6 386.5,1401.5 385.0,1401.5 383.5,1401.5 382.0,1401.5 380.5,1401.5 379.0,1401.5 377.5,1401.5 376.0,1401.5 374.5,1401.4 373.0,1401.4 371.5,1401.4 370.0,1401.5 368.5,1401.5 367.0,1401.5 365.5,1401.5 364.0,1401.5 362.5,1401.5 361.0,1401.6 359.5,1401.7 358.0,1401.7 356.5,1401.7 355.0,1401.7 353.5,1401.7 352.0,1401.7 350.5,1401.7 349.0,1401.7 347.5,1401.5 346.0,1401.5 344.5,1401.5 343.0,1401.6 341.5,1401.7 340.0,1401.7 338.5,1401.7 337.0,1401.7 335.5,1401.7 334.0,1401.7 332.5,1401.7 331.0,1401.7 329.5,1401.5 328.0,1401.1"/>
<polygon fill="#000070" points="328.0,1389.7 329.5,1389.7 331.0,1389.2 332.5,1389.1 334.0,1389.1 335.5,1389.1 337.0,1389.1 338.5,1389.1 340.0,1389.1 341.5,1389.1 343.0,1389.1 344.5,1389.1 346.0,1389.4 347.5,1389.4 349.0,1389.4 350.5,1389.1 352.0,1389.1 353.5,1389.1 355.0,1389.1 356.5,1389.1 358.0,1389.1 359.5,1389.1 361.0,1389.1 362.5,1389.1 364.0,1389.2 365.5,1389.2 367.0,1389.3 368.5,1389.3 370.0,1389.3 371.5,1389.3 373.0,1389.4 374.5,1389.4 376.0,1389.4 377.5,1389.6 379.0,1389.4 380.5,1389.3 382.0,1389.3 383.5,1389.3 385.0,1389.3 386.5,1389.3 388.0,1389.3 389.5,1389.3 391.0,1389.3 392.5,1389.3 394.0,1389.3 395.5,1389.3 397.0,1389.3 398.5,1389.3 400.0,1389.3 401.5,1389.3 403.0,1389.3 404.5,1389.3 406.0,1389.3 407.5,1389.3 409.0,1389.3 410.5,1389.3 412.0,1389.3 413.5,1389.3 415.0,1389.3 416.5,1389.3 418.0,1389.3 419.5,1389.3 421.0,1389.3 422.5,1389.3 424.0,1389.3 425.5,1389.4 427.0,1389.4 428.5,1389.4 430.0,1389.4 431.5,1389.4 433.0,1389.4 434.5,1389.4 436.0,1389.4 437.5,1389.4 439.0,1389.2 440.5,1389.2 442.0,1389.2 443.5,1389.2 445.0,1389.2 446.5,1389.2 448.0,1389.2 449.5,1389.2 451.0,1389.6 452.5,1389.7 454.0,1389.0 455.5,1388.7 457.0,1388.6 458.5,1388.6 460.0,1388.6 461.5,1388.4 463.0,1388.0 464.5,1387.8 466.0,1387.8 467.5,1387.0 469.0,1386.5 470.5,1386.5 472.0,1385.1 473.5,1385.1 475.0,1384.9 476.5,1384.5 478.0,1383.8 479.5,1383.3 481.0,1383.1 482.5,1383.1 484.0,1382.3 485.5,1382.0 487.0,1381.4 488.5,1380.9 490.0,1380.6 491.5,1378.9 493.0,1377.5 494.5,1376.4 496.0,1375.7 497.5,1374.8 499.0,1373.3 500.5,1371.7 502.0,1370.4 503.5,1368.5 505.0,1367.0 506.5,1365.9 508.0,1365.2 509.5,1360.7 511.0,1358.3 512.5,1355.5 514.0,1349.5 515.5,1347.3 517.0,1343.6 518.5,1339.6 520.0,1335.9 521.5,1328.9 523.0,1322.4 524.5,1316.1 526.0,1309.9 527.5,1302.2 529.0,1292.5 530.5,1283.0 532.0,1275.9 533.5,1262.8 535.0,1253.1 536.5,1242.6 538.0,1227.4 539.5,1217.1 541.0,1205.0 542.5,1192.2 544.0,1179.6 545.5,1165.3 547.0,1151.9 548.5,1137.3 550.0,1119.6 551.5,1103.3 553.0,1083.5 554.5,1064.2 556.0,1049.6 557.5,1026.0 559.0,1003.5 560.5,982.1 562.0,961.5 563.5,944.4 565.0,923.6 566.5,901.1 568.0,878.9 569.5,862.0 571.0,840.8 572.5,818.5 574.0,798.8 575.5,782.1 577.0,763.1 578.5,743.9 580.0,726.5 581.5,702.2 583.0,686.5 584.5,671.2 586.0,648.2 587.5,633.6 589.0,615.4 590.5,598.8 592.0,589.0 593.5,572.2 595.0,554.0 596.5,535.0 598.0,515.9 599.5,500.3 601.0,487.9 602.5,475.6 604.0,460.2 605.5,452.0 607.0,445.1 608.5,436.7 610.0,424.5 611.5,408.6 613.0,393.8 614.5,381.3 616.0,372.3 617.5,358.9 619.0,349.9 620.5,342.0 622.0,331.5 623.5,326.7 625.0,320.4 626.5,315.7 628.0,315.4 629.5,315.4 631.0,314.5 632.5,310.8 634.0,310.8 635.5,308.0 637.0,301.7 638.5,297.6 640.0,297.6 641.5,297.6 643.0,297.6 644.5,297.6 646.0,297.6 647.5,297.6 649.0,291.6 650.5,288.4 652.0,288.4 653.5,287.3 655.0,284.7 656.5,284.7 658.0,284.7 659.5,284.7 661.0,284.7 662.5,284.7 664.0,284.7 665.5,284.7 667.0,285.4 668.5,287.5 670.0,287.6 671.5,287.6 673.0,287.6 674.5,287.6 676.0,287.6 677.5,289.8 679.0,289.8 680.5,289.8 682.0,281.4 683.5,281.4 685.0,281.4 686.5,281.4 688.0,281.4 689.5,281.4 691.0,281.4 692.5,281.4 694.0,281.4 695.5,282.4 697.0,282.4 698.5,282.4 700.0,288.3 701.5,288.3 703.0,288.3 704.5,288.3 706.0,288.3 707.5,288.3 709.0,289.0 710.5,289.0 712.0,279.1 713.5,279.1 715.0,279.1 716.5,279.1 718.0,279.1 719.5,279.1 721.0,279.1 722.5,279.1 724.0,279.1 725.5,284.0 727.0,278.6 728.5,278.6 730.0,278.6 731.5,278.6 733.0,278.6 734.5,278.6 736.0,278.6 737.5,278.6 739.0,281.8 740.5,281.1 742.0,281.1 743.5,281.1 745.0,281.1 746.5,281.1 748.0,281.1 749.5,281.1 751.0,281.1 752.5,281.1 754.0,284.3 755.5,284.3 757.0,281.9 758.5,278.5 760.0,278.5 761.5,278.5 763.0,278.5 764.5,278.5 766.0,278.5 767.5,278.5 769.0,278.5 770.5,278.5 772.0,280.5 773.5,280.5 775.0,280.5 776.5,280.5 778.0,280.5 779.5,281.5 781.0,281.5 782.5,281.5 784.0,281.5 785.5,281.5 787.0,281.5 788.5,281.5 790.0,281.5 791.5,287.9 793.0,297.1 794.5,303.3 796.0,323.9 797.5,323.9 799.0,326.9 800.5,327.4 802.0,327.4 803.5,329.7 805.0,333.9 806.5,339.9 808.0,341.6 809.5,342.0 811.0,342.3 812.5,342.3 814.0,342.3 815.5,346.0 817.0,346.9 818.5,346.9 820.0,355.4 821.5,355.8 823.0,357.7 824.5,363.5 826.0,368.4 827.5,370.8 829.0,372.6 830.5,373.8 832.0,373.8 833.5,373.8 835.0,376.2 836.5,383.5 838.0,385.9 839.5,385.9 841.0,385.9 842.5,385.9 844.0,392.3 845.5,397.9 847.0,401.9 848.5,403.3 850.0,408.2 851.5,412.4 853.0,413.8 854.5,413.8 856.0,413.8 857.5,418.4 859.0,423.8 860.5,426.5 862.0,426.9 863.5,427.5 865.0,430.1 866.5,436.4 868.0,440.1 869.5,443.5 871.0,445.0 872.5,445.0 874.0,448.1 875.5,456.0 877.0,459.6 878.5,459.6 880.0,465.6 881.5,471.0 883.0,474.5 884.5,475.2 886.0,480.4 887.5,482.3 889.0,483.7 890.5,487.4 892.0,490.3 893.5,492.5 895.0,496.5 896.5,502.7 898.0,502.7 899.5,505.5 901.0,508.0 902.5,508.0 904.0,511.7 905.5,516.9 907.0,522.1 908.5,525.5 910.0,529.3 911.5,530.3 913.0,530.9 914.5,532.9 916.0,536.7 917.5,536.7 919.0,540.0 920.5,549.7 922.0,551.1 923.5,553.3 925.0,555.1 926.5,555.1 928.0,555.1 929.5,559.3 931.0,562.7 932.5,562.7 934.0,571.9 935.5,574.3 937.0,574.3 938.5,574.3 940.0,579.5 941.5,581.4 943.0,581.4 944.5,581.4 946.0,588.6 947.5,591.6 949.0,591.6 950.5,591.6 952.0,595.4 953.5,601.5 955.0,606.9 956.5,606.9 958.0,606.9 959.5,611.5 961.0,611.5 962.5,611.5 964.0,618.0 965.5,622.2 967.0,622.2 968.5,622.2 970.0,622.2 971.5,627.4 973.0,630.8 974.5,630.8 976.0,630.8 977.5,633.8 979.0,635.8 980.5,635.8 982.0,640.3 983.5,644.1 985.0,647.7 986.5,651.1 988.0,651.1 989.5,652.2 991.0,652.7 992.5,652.7 994.0,652.7 995.5,658.7 997.0,659.4 998.5,659.4 1000.0,662.4 1001.5,667.6 1003.0,669.5 1004.5,669.5 1006.0,669.5 1007.5,671.9 1009.0,675.5 1010.5,678.4 1012.0,678.4 1013.5,679.9 1015.0,682.5 1016.5,685.8 1018.0,685.8 1019.5,685.8 1021.0,687.9 1022.5,690.9 1024.0,690.9 1025.5,694.3 1027.0,697.4 1028.5,697.4 1030.0,697.4 1031.5,700.6 1033.0,700.6 1034.5,700.6 1036.0,703.2 1037.5,705.7 1039.0,709.1 1040.5,714.3 1042.0,714.5 1043.5,714.5 1045.0,714.6 1046.5,715.0 1048.0,721.4 1049.5,721.4 1051.0,721.4 1052.5,721.4 1054.0,725.9 1055.5,728.9 1057.0,728.9 1058.5,728.9 1060.0,728.9 1061.5,730.3 1063.0,732.1 1064.5,733.5 1066.0,735.9 1067.5,738.2 1069.0,741.2 1070.5,741.2 1072.0,741.2 1073.5,741.4 1075.0,744.3 1076.5,748.9 1078.0,748.9 1079.5,748.9 1081.0,748.9 1082.5,749.2 1084.0,755.3 1085.5,757.5 1087.0,757.5 1088.5,757.5 1090.0,757.5 1091.5,759.4 1093.0,760.2 1094.5,760.2 1096.0,762.5 1097.5,765.9 1099.0,765.9 1100.5,765.9 1102.0,772.2 1103.5,772.2 1105.0,772.9 1106.5,774.9 1108.0,775.9 1109.5,779.1 1111.0,779.1 1112.5,779.1 1114.0,787.6 1115.5,790.5 1117.0,790.5 1118.5,790.5 1120.0,790.5 1121.5,791.2 1123.0,794.1 1124.5,796.4 1126.0,796.4 1127.5,799.8 1129.0,801.5 1130.5,801.5 1132.0,807.4 1133.5,809.3 1135.0,809.6 1136.5,809.6 1138.0,809.6 1139.5,813.7 1141.0,818.7 1142.5,821.4 1144.0,822.5 1145.5,826.3 1147.0,827.0 1148.5,827.0 1150.0,831.5 1151.5,831.5 1153.0,833.0 1154.5,837.1 1156.0,837.1 1157.5,838.7 1159.0,838.7 1160.5,838.7 1162.0,842.5 1163.5,845.5 1165.0,848.8 1166.5,849.5 1168.0,849.5 1169.5,851.0 1171.0,853.3 1172.5,855.6 1174.0,858.9 1175.5,858.9 1177.0,859.5 1178.5,861.0 1180.0,861.6 1181.5,863.8 1183.0,863.8 1184.5,863.8 1186.0,866.2 1187.5,870.9 1189.0,874.4 1190.5,874.4 1192.0,876.5 1193.5,876.5 1195.0,876.5 1196.5,876.5 1198.0,876.5 1199.5,879.7 1201.0,884.5 1202.5,884.6 1204.0,884.6 1205.5,884.6 1207.0,884.9 1208.5,885.8 1210.0,888.8 1211.5,890.6 1213.0,892.4 1214.5,895.1 1216.0,898.1 1217.5,898.1 1219.0,898.1 1220.5,898.1 1222.0,902.5 1223.5,902.5 1225.0,904.9 1226.5,907.8 1228.0,907.8 1229.5,907.8 1231.0,910.4 1232.5,914.1 1234.0,914.1 1235.5,914.1 1237.0,914.5 1238.5,915.6 1240.0,922.8 1241.5,925.1 1243.0,925.5 1244.5,926.8 1246.0,928.9 1247.5,928.9 1249.0,929.3 1250.5,930.1 1252.0,930.1 1253.5,933.3 1255.0,937.3 1256.5,938.0 1258.0,938.0 1259.5,939.0 1261.0,940.5 1262.5,941.9 1264.0,947.3 1265.5,948.9 1267.0,948.9 1268.5,948.9 1270.0,952.8 1271.5,956.6 1273.0,956.6 1274.5,956.6 1276.0,959.8 1277.5,962.9 1279.0,966.3 1280.5,969.0 1282.0,969.0 1283.5,970.6 1285.0,973.1 1286.5,975.7 1288.0,981.2 1289.5,983.7 1291.0,985.4 1292.5,985.4 1294.0,985.4 1295.5,987.6 1297.0,990.4 1298.5,991.1 1300.0,991.1 1301.5,991.8 1303.0,991.8 1304.5,991.8 1306.0,997.4 1307.5,997.4 1309.0,998.5 1310.5,999.5 1312.0,999.5 1313.5,999.5 1315.0,1001.5 1316.5,1002.0 1318.0,1002.0 1319.5,1002.6 1321.0,1002.8 1322.5,1002.8 1324.0,1005.6 1325.5,1005.6 1327.0,1006.8 1328.5,1010.4 1330.0,1011.6 1331.5,1011.6 1333.0,1011.6 1334.5,1011.6 1336.0,1011.6 1337.5,1011.6 1339.0,1011.6 1340.5,1011.6 1342.0,1014.7 1343.5,1014.9 1345.0,1014.9 1346.5,1014.9 1348.0,1014.9 1349.5,1017.9 1351.0,1017.9 1352.5,1017.9 1354.0,1017.9 1355.5,1017.9 1357.0,1019.4 1358.5,1020.2 1360.0,1020.2 1361.5,1023.2 1363.0,1023.8 1364.5,1023.8 1366.0,1023.8 1367.5,1024.7 1369.0,1024.7 1370.5,1024.7 1372.0,1024.7 1373.5,1024.7 1375.0,1025.4 1376.5,1026.1 1378.0,1026.1 1379.5,1009.8 1381.0,1009.6 1382.5,1009.6 1384.0,1009.6 1385.5,1009.6 1387.0,1009.6 1388.5,1009.6 1390.0,1009.6 1391.5,1009.6 1393.0,1011.2 1394.5,1014.7 1396.0,1014.7 1397.5,1015.5 1399.0,1015.5 1400.5,1015.5 1402.0,1015.5 1403.5,1015.5 1405.0,1015.5 1406.5,1015.5 1408.0,1018.0 1409.5,1018.0 1411.0,1018.0 1412.5,1018.0 1414.0,1018.8 1415.5,1022.5 1417.0,1024.5 1418.5,1024.5 1420.0,1024.5 1421.5,1025.4 1423.0,1025.4 1424.5,1025.4 1426.0,1029.8 1427.5,1030.3 1429.0,1030.3 1430.5,1030.3 1432.0,1034.3 1433.5,1035.5 1435.0,1035.5 1436.5,1035.5 1438.0,1035.5 1439.5,1037.5 1441.0,1039.5 1442.5,1039.6 1444.0,1044.1 1445.5,1044.2 1447.0,1044.2 1448.5,1044.2 1450.0,1048.4 1451.5,1049.7 1453.0,1050.4 1454.5,1050.7 1456.0,1050.7 1457.5,1050.7 1459.0,1051.7 1460.5,1054.9 1462.0,1058.6 1463.5,1058.6 1465.0,1059.9 1466.5,1063.6 1468.0,1063.6 1469.5,1065.0 1471.0,1066.4 1472.5,1066.4 1474.0,1067.2 1475.5,1069.2 1477.0,1069.2 1478.5,1069.2 1480.0,1072.4 1481.5,1074.0 1483.0,1075.5 1484.5,1075.5 1486.0,1075.5 1487.5,1075.5 1489.0,1076.7 1490.5,1080.3 1492.0,1082.8 1493.5,1082.8 1495.0,1082.8 1496.5,1082.8 1498.0,1083.9 1499.5,1083.9 1501.0,1084.3 1502.5,1085.6 1504.0,1088.0 1505.5,1089.4 1507.0,1091.8 1508.5,1092.1 1510.0,1092.1 1511.5,1092.1 1513.0,1094.4 1514.5,1096.4 1516.0,1096.4 1517.5,1097.2 1519.0,1099.3 1520.5,1102.9 1522.0,1104.7 1523.5,1104.7 1525.0,1104.7 1526.5,1104.7 1528.0,1105.0 1529.5,1107.3 1531.0,1107.3 1532.5,1107.3 1534.0,1109.3 1535.5,1111.2 1537.0,1113.1 1538.5,1115.5 1540.0,1117.8 1541.5,1117.8 1543.0,1117.8 1544.5,1117.8 1546.0,1117.8 1547.5,1117.8 1549.0,1119.9 1550.5,1120.0 1552.0,1120.0 1553.5,1120.8 1555.0,1122.8 1556.5,1125.7 1558.0,1125.7 1559.5,1125.7 1561.0,1127.9 1562.5,1129.2 1564.0,1129.2 1565.5,1129.2 1567.0,1130.5 1568.5,1133.4 1570.0,1133.4 1571.5,1133.5 1573.0,1135.4 1574.5,1136.7 1576.0,1136.7 1577.5,1139.1 1579.0,1139.1 1580.5,1139.1 1582.0,1142.7 1583.5,1142.7 1585.0,1142.7 1586.5,1142.7 1588.0,1146.3 1589.5,1149.3 1591.0,1150.1 1592.5,1150.1 1594.0,1150.1 1595.5,1151.1 1597.0,1153.5 1598.5,1156.8 1600.0,1156.8 1601.5,1156.8 1603.0,1156.8 1604.5,1156.8 1606.0,1157.5 1607.5,1160.2 1609.0,1163.4 1610.5,1163.9 1612.0,1163.9 1613.5,1163.9 1615.0,1163.9 1616.5,1163.9 1618.0,1166.6 1619.5,1168.9 1621.0,1169.6 1622.5,1169.6 1624.0,1169.6 1625.5,1169.9 1627.0,1171.1 1628.5,1172.7 1630.0,1172.7 1631.5,1173.8 1633.0,1176.5 1634.5,1176.5 1636.0,1176.5 1637.5,1176.5 1639.0,1177.8 1640.5,1181.8 1642.0,1182.3 1643.5,1182.3 1645.0,1183.1 1646.5,1185.5 1648.0,1185.7 1649.5,1185.7 1651.0,1185.8 1652.5,1186.0 1654.0,1188.1 1655.5,1189.5 1657.0,1190.4 1658.5,1190.9 1660.0,1190.9 1661.5,1190.9 1663.0,1191.3 1664.5,1192.5 1666.0,1197.0 1667.5,1197.0 1669.0,1197.8 1670.5,1200.1 1672.0,1200.3 1673.5,1202.2 1675.0,1202.2 1676.5,1202.2 1678.0,1204.4 1679.5,1204.6 1681.0,1204.6 1682.5,1204.6 1684.0,1206.0 1685.5,1206.0 1687.0,1207.8 1688.5,1208.7 1690.0,1208.7 1691.5,1209.5 1693.0,1211.7 1694.5,1213.0 1696.0,1213.0 1697.5,1213.4 1699.0,1214.1 1700.5,1215.3 1702.0,1217.3 1703.5,1217.3 1705.0,1218.5 1706.5,1221.2 1708.0,1221.2 1709.5,1221.6 1711.0,1222.9 1712.5,1223.7 1714.0,1223.7 1715.5,1224.2 1717.0,1225.9 1718.5,1229.4 1720.0,1230.4 1721.5,1230.4 1723.0,1230.4 1724.5,1230.4 1726.0,1230.8 1727.5,1231.1 1729.0,1231.7 1730.5,1232.6 1732.0,1232.6 1733.5,1233.2 1735.0,1234.1 1736.5,1234.1 1738.0,1234.1 1739.5,1235.1 1741.0,1236.4 1742.5,1237.4 1744.0,1237.5 1745.5,1237.5 1747.0,1238.9 1748.5,1239.9 1750.0,1239.9 1751.5,1241.4 1753.0,1243.3 1754.5,1244.5 1756.0,1244.7 1757.5,1246.4 1759.0,1246.6 1760.5,1246.6 1762.0,1246.8 1763.5,1246.8 1765.0,1248.6 1766.5,1249.6 1768.0,1249.6 1769.5,1249.6 1771.0,1250.7 1772.5,1254.1 1774.0,1254.1 1775.5,1254.1 1777.0,1255.1 1778.5,1255.1 1780.0,1255.1 1781.5,1255.1 1783.0,1255.6 1784.5,1257.3 1786.0,1258.0 1787.5,1258.0 1789.0,1259.3 1790.5,1260.4 1792.0,1260.4 1793.5,1262.3 1795.0,1265.1 1796.5,1265.9 1798.0,1265.9 1799.5,1265.9 1801.0,1266.4 1802.5,1266.6 1804.0,1266.6 1805.5,1269.3 1807.0,1270.8 1808.5,1270.8 1810.0,1272.1 1811.5,1272.1 1813.0,1273.4 1814.5,1275.3 1816.0,1275.3 1817.5,1275.3 1819.0,1276.0 1820.5,1277.4 1822.0,1277.4 1823.5,1277.4 1825.0,1277.5 1826.5,1278.0 1828.0,1278.9 1829.5,1279.8 1831.0,1281.0 1832.5,1281.0 1834.0,1281.0 1835.5,1283.3 1837.0,1285.9 1838.5,1286.7 1840.0,1286.7 1841.5,1286.7 1843.0,1286.7 1844.5,1286.7 1846.0,1286.7 1847.5,1287.2 1849.0,1287.2 1850.5,1287.2 1852.0,1287.2 1853.5,1288.8 1855.0,1290.9 1856.5,1290.9 1858.0,1290.9 1859.5,1290.9 1861.0,1292.3 1862.5,1294.4 1864.0,1294.4 1865.5,1294.4 1867.0,1294.4 1868.5,1294.4 1870.0,1294.4 1871.5,1294.4 1873.0,1294.6 1874.5,1295.4 1876.0,1296.8 1877.5,1298.1 1879.0,1298.1 1880.5,1298.1 1882.0,1300.1 1883.5,1300.1 1885.0,1300.1 1886.5,1300.1 1888.0,1300.1 1889.5,1301.5 1891.0,1304.0 1892.5,1304.0 1894.0,1304.0 1895.5,1304.0 1897.0,1304.0 1898.5,1304.0 1900.0,1304.3 1901.5,1304.3 1903.0,1306.0 1904.5,1307.1 1906.0,1307.1 1907.5,1308.1 1909.0,1308.1 1910.5,1308.1 1912.0,1308.8 1913.5,1309.1 1915.0,1310.6 1916.5,1311.0 1918.0,1311.0 1919.5,1311.0 1921.0,1311.0 1922.5,1311.0 1924.0,1311.9 1925.5,1311.9 1927.0,1313.3 1928.5,1313.3 1930.0,1313.3 1931.5,1315.4 1933.0,1316.4 1934.5,1316.4 1936.0,1316.8 1937.5,1317.8 1939.0,1318.0 1940.5,1318.0 1942.0,1318.0 1943.5,1318.0 1945.0,1318.0 1946.5,1318.0 1948.0,1318.1 1949.5,1318.6 1951.0,1319.3 1952.5,1319.3 1954.0,1319.3 1955.5,1320.1 1957.0,1321.3 1958.5,1321.3 1960.0,1321.3 1961.5,1321.7 1963.0,1323.5 1964.5,1324.2 1966.0,1324.2 1967.5,1324.2 1969.0,1324.2 1970.5,1324.2 1972.0,1324.9 1973.5,1324.9 1975.0,1326.4 1976.5,1326.8 1978.0,1326.8 1979.5,1328.5 1981.0,1329.0 1982.5,1329.0 1984.0,1329.0 1985.5,1329.0 1987.0,1329.0 1988.5,1329.0 1990.0,1329.0 1991.5,1330.9 1993.0,1330.9 1994.5,1330.9 1996.0,1333.6 1997.5,1333.6 1999.0,1333.6 2000.5,1333.6 2002.0,1335.8 2003.5,1335.8 2005.0,1335.8 2006.5,1335.8 2008.0,1335.9 2009.5,1336.6 2011.0,1336.7 2012.5,1336.7 2014.0,1336.7 2015.5,1336.7 2017.0,1336.7 2018.5,1336.7 2020.0,1336.7 2021.5,1337.9 2023.0,1337.9 2024.5,1337.9 2026.0,1337.9 2027.5,1339.7 2029.0,1342.1 2030.5,1342.2 2032.0,1342.2 2033.5,1342.2 2035.0,1342.9 2036.5,1343.4 2038.0,1343.4 2039.5,1343.4 2041.0,1343.4 2042.5,1343.4 2044.0,1343.4 2045.5,1345.0 2047.0,1345.0 2048.5,1345.0 2050.0,1345.0 2051.5,1345.0 2053.0,1345.0 2054.5,1345.0 2056.0,1345.0 2057.5,1346.3 2059.0,1347.0 2060.5,1347.0 2062.0,1347.0 2063.5,1347.5 2065.0,1347.5 2066.5,1347.5 2068.0,1347.5 2069.5,1349.7 2071.0,1350.5 2072.5,1350.5 2074.0,1350.5 2075.5,1350.5 2077.0,1350.5 2078.5,1350.5 2080.0,1351.8 2081.5,1351.8 2083.0,1352.0 2084.5,1352.4 2086.0,1353.5 2087.5,1353.5 2089.0,1353.5 2090.5,1353.5 2092.0,1353.5 2093.5,1353.5 2095.0,1353.5 2096.5,1353.5 2098.0,1353.5 2099.5,1353.6 2101.0,1353.6 2102.5,1353.6 2104.0,1353.6 2105.5,1353.6 2107.0,1353.6 2108.5,1353.6 2110.0,1355.0 2111.5,1355.0 2113.0,1355.0 2114.5,1355.0 2116.0,1355.0 2117.5,1355.0 2119.0,1355.5 2120.5,1356.9 2122.0,1356.9 2123.5,1356.9 2125.0,1356.9 2126.5,1356.9 2128.0,1357.5 2129.5,1357.5 2131.0,1357.5 2132.5,1357.5 2134.0,1358.6 2135.5,1358.6 2137.0,1358.6 2138.5,1358.6 2140.0,1358.6 2141.5,1358.8 2143.0,1359.5 2144.5,1359.5 2146.0,1359.5 2147.5,1359.5 2149.0,1359.5 2150.5,1359.5 2152.0,1359.5 2153.5,1359.7 2155.0,1360.1 2156.5,1360.1 2158.0,1360.1 2159.5,1361.6 2161.0,1361.7 2162.5,1361.7 2164.0,1361.7 2165.5,1361.7 2167.0,1361.7 2168.5,1361.7 2170.0,1361.7 2171.5,1361.7 2173.0,1361.7 2174.5,1361.9 2176.0,1362.5 2177.5,1362.5 2179.0,1362.7 2180.5,1362.7 2182.0,1362.7 2183.5,1362.7 2185.0,1363.0 2186.5,1363.1 2188.0,1363.1 2189.5,1364.6 2191.0,1364.6 2192.5,1364.6 2194.0,1364.6 2195.5,1364.6 2197.0,1364.9 2198.5,1365.2 2200.0,1365.2 2201.5,1365.8 2203.0,1365.8 2204.5,1365.8 2206.0,1365.8 2207.5,1365.9 2209.0,1365.9 2210.5,1365.9 2212.0,1365.9 2213.5,1366.2 2215.0,1366.9 2216.5,1366.9 2218.0,1366.9 2219.5,1366.9 2221.0,1366.9 2222.5,1366.9 2224.0,1366.9 2225.5,1366.9 2227.0,1367.7 2228.5,1368.0 2230.0,1368.0 2231.5,1368.0 2233.0,1368.0 2234.5,1368.0 2236.0,1368.0 2237.5,1368.0 2239.0,1368.1 2240.5,1368.1 2242.0,1368.1 2243.5,1368.1 2245.0,1368.7 2246.5,1369.4 2248.0,1369.4 2249.5,1369.9 2251.0,1369.6 2252.5,1369.6 2254.0,1369.6 2255.5,1369.6 2257.0,1369.6 2258.5,1369.6 2260.0,1369.6 2261.5,1369.6 2263.0,1370.1 2264.5,1370.1 2266.0,1370.1 2267.5,1370.1 2269.0,1370.1 2270.5,1370.1 2272.0,1370.1 2273.5,1370.3 2275.0,1370.3 2276.5,1370.3 2278.0,1370.7 2279.5,1371.8 2281.0,1371.8 2282.5,1371.8 2284.0,1371.8 2285.5,1371.8 2287.0,1371.8 2288.5,1371.8 2290.0,1371.8 2291.5,1372.8 2293.0,1373.2 2294.5,1373.2 2296.0,1373.2 2297.5,1373.2 2299.0,1373.2 2300.5,1373.2 2302.0,1373.5 2303.5,1373.5 2305.0,1373.5 2306.5,1373.5 2308.0,1373.5 2309.5,1373.5 2311.0,1373.5 2312.5,1373.5 2314.0,1374.8 2315.5,1374.8 2317.0,1374.8 2318.5,1374.8 2320.0,1374.8 2321.5,1374.9 2323.0,1374.7 2324.5,1374.7 2326.0,1374.7 2327.5,1374.7 2329.0,1374.7 2330.5,1374.7 2332.0,1374.7 2333.5,1374.7 2335.0,1374.8 2336.5,1375.2 2338.0,1375.8 2339.5,1375.8 2341.0,1375.8 2342.5,1375.8 2344.0,1375.8 2345.5,1375.8 2347.0,1375.8 2348.5,1375.8 2350.0,1375.8 2351.5,1375.8 2353.0,1375.8 2354.5,1375.8 2356.0,1375.8 2357.5,1376.3 2359.0,1376.9 2360.5,1376.9 2362.0,1376.9 2363.5,1376.9 2365.0,1376.9 2366.5,1376.9 2366.5,1389.7 2365.0,1389.7 2363.5,1389.7 2362.0,1389.7 2360.5,1389.7 2359.0,1389.7 2357.5,1389.7 2356.0,1389.7 2354.5,1389.7 2353.0,1389.5 2351.5,1389.2 2350.0,1389.2 2348.5,1389.2 2347.0,1388.6 2345.5,1388.6 2344.0,1388.6 2342.5,1388.6 2341.0,1388.6 2339.5,1388.6 2338.0,1388.6 2336.5,1388.6 2335.0,1388.1 2333.5,1387.6 2332.0,1387.6 2330.5,1387.6 2329.0,1387.6 2327.5,1387.6 2326.0,1387.6 2324.5,1386.7 2323.0,1386.7 2321.5,1386.7 2320.0,1386.7 2318.5,1386.7 2317.0,1386.5 2315.5,1386.6 2314.0,1386.6 2312.5,1386.6 2311.0,1386.6 2309.5,1386.6 2308.0,1386.6 2306.5,1386.6 2305.0,1386.6 2303.5,1386.6 2302.0,1386.6 2300.5,1385.6 2299.0,1385.6 2297.5,1385.6 2296.0,1385.6 2294.5,1385.6 2293.0,1385.6 2291.5,1385.6 2290.0,1385.6 2288.5,1385.2 2287.0,1385.2 2285.5,1385.2 2284.0,1385.2 2282.5,1385.2 2281.0,1385.0 2279.5,1384.7 2278.0,1384.7 2276.5,1384.7 2275.0,1384.7 2273.5,1384.7 2272.0,1384.7 2270.5,1384.7 2269.0,1384.5 2267.5,1383.7 2266.0,1382.8 2264.5,1382.8 2263.0,1382.8 2261.5,1382.8 2260.0,1382.8 2258.5,1382.8 2257.0,1382.8 2255.5,1382.8 2254.0,1382.8 2252.5,1382.8 2251.0,1381.9 2249.5,1381.9 2248.0,1381.9 2246.5,1381.9 2245.0,1381.9 2243.5,1381.7 2242.0,1381.5 2240.5,1381.5 2239.0,1381.5 2237.5,1381.5 2236.0,1381.6 2234.5,1381.6 2233.0,1381.6 2231.5,1381.6 2230.0,1381.6 2228.5,1381.6 2227.0,1381.6 2225.5,1381.6 2224.0,1381.6 2222.5,1381.0 2221.0,1381.0 2219.5,1381.0 2218.0,1381.0 2216.5,1381.0 2215.0,1380.5 2213.5,1380.5 2212.0,1380.5 2210.5,1380.5 2209.0,1380.2 2207.5,1379.5 2206.0,1379.5 2204.5,1379.5 2203.0,1378.5 2201.5,1378.2 2200.0,1378.2 2198.5,1378.2 2197.0,1378.2 2195.5,1378.2 2194.0,1378.2 2192.5,1378.2 2191.0,1378.2 2189.5,1377.9 2188.0,1377.9 2186.5,1377.9 2185.0,1377.9 2183.5,1377.9 2182.0,1377.9 2180.5,1377.5 2179.0,1377.3 2177.5,1376.4 2176.0,1374.6 2174.5,1374.6 2173.0,1374.6 2171.5,1374.6 2170.0,1374.6 2168.5,1374.6 2167.0,1374.8 2165.5,1375.3 2164.0,1375.3 2162.5,1375.3 2161.0,1375.3 2159.5,1375.3 2158.0,1375.3 2156.5,1375.3 2155.0,1375.3 2153.5,1375.3 2152.0,1375.1 2150.5,1375.0 2149.0,1374.5 2147.5,1373.3 2146.0,1372.8 2144.5,1372.8 2143.0,1372.8 2141.5,1372.8 2140.0,1372.8 2138.5,1372.8 2137.0,1372.8 2135.5,1372.8 2134.0,1372.8 2132.5,1372.8 2131.0,1371.8 2129.5,1371.8 2128.0,1371.8 2126.5,1371.8 2125.0,1371.8 2123.5,1371.5 2122.0,1370.6 2120.5,1370.5 2119.0,1370.5 2117.5,1370.5 2116.0,1370.5 2114.5,1369.8 2113.0,1369.8 2111.5,1369.8 2110.0,1369.8 2108.5,1369.6 2107.0,1369.6 2105.5,1369.6 2104.0,1369.6 2102.5,1369.2 2101.0,1369.2 2099.5,1369.2 2098.0,1369.1 2096.5,1367.6 2095.0,1367.6 2093.5,1367.6 2092.0,1367.6 2090.5,1367.6 2089.0,1367.6 2087.5,1366.9 2086.0,1366.4 2084.5,1366.4 2083.0,1366.2 2081.5,1366.2 2080.0,1366.2 2078.5,1365.8 2077.0,1365.8 2075.5,1365.7 2074.0,1365.1 2072.5,1364.8 2071.0,1364.8 2069.5,1364.8 2068.0,1364.8 2066.5,1363.0 2065.0,1363.0 2063.5,1363.0 2062.0,1363.0 2060.5,1363.0 2059.0,1363.0 2057.5,1361.8 2056.0,1361.2 2054.5,1361.2 2053.0,1361.2 2051.5,1360.6 2050.0,1360.6 2048.5,1360.6 2047.0,1359.6 2045.5,1359.4 2044.0,1359.4 2042.5,1359.4 2041.0,1359.4 2039.5,1358.6 2038.0,1357.8 2036.5,1357.8 2035.0,1357.8 2033.5,1356.9 2032.0,1356.5 2030.5,1356.5 2029.0,1356.5 2027.5,1356.5 2026.0,1356.5 2024.5,1356.3 2023.0,1354.9 2021.5,1354.9 2020.0,1354.9 2018.5,1354.9 2017.0,1353.7 2015.5,1352.9 2014.0,1352.9 2012.5,1352.9 2011.0,1352.9 2009.5,1351.6 2008.0,1350.5 2006.5,1350.5 2005.0,1350.5 2003.5,1350.5 2002.0,1350.5 2000.5,1349.3 1999.0,1348.6 1997.5,1348.5 1996.0,1348.5 1994.5,1348.5 1993.0,1348.5 1991.5,1348.5 1990.0,1348.5 1988.5,1347.7 1987.0,1347.7 1985.5,1347.3 1984.0,1346.1 1982.5,1343.9 1981.0,1343.9 1979.5,1342.9 1978.0,1342.9 1976.5,1342.9 1975.0,1342.9 1973.5,1342.9 1972.0,1342.9 1970.5,1342.9 1969.0,1342.0 1967.5,1341.8 1966.0,1341.8 1964.5,1341.8 1963.0,1340.9 1961.5,1340.9 1960.0,1340.9 1958.5,1338.6 1957.0,1338.6 1955.5,1338.6 1954.0,1338.6 1952.5,1338.6 1951.0,1338.2 1949.5,1338.2 1948.0,1338.2 1946.5,1338.2 1945.0,1335.1 1943.5,1333.4 1942.0,1333.4 1940.5,1333.4 1939.0,1333.1 1937.5,1333.1 1936.0,1333.1 1934.5,1333.1 1933.0,1333.1 1931.5,1333.1 1930.0,1333.1 1928.5,1333.1 1927.0,1331.4 1925.5,1329.5 1924.0,1329.5 1922.5,1329.5 1921.0,1329.5 1919.5,1329.5 1918.0,1329.5 1916.5,1329.5 1915.0,1326.2 1913.5,1326.0 1912.0,1326.0 1910.5,1326.0 1909.0,1326.0 1907.5,1326.0 1906.0,1326.0 1904.5,1326.0 1903.0,1323.1 1901.5,1322.1 1900.0,1322.1 1898.5,1322.1 1897.0,1322.1 1895.5,1322.1 1894.0,1322.1 1892.5,1322.1 1891.0,1319.4 1889.5,1319.4 1888.0,1319.4 1886.5,1318.2 1885.0,1318.2 1883.5,1318.2 1882.0,1318.2 1880.5,1318.2 1879.0,1316.1 1877.5,1313.6 1876.0,1313.6 1874.5,1313.6 1873.0,1313.6 1871.5,1313.6 1870.0,1313.6 1868.5,1313.6 1867.0,1313.6 1865.5,1312.3 1864.0,1308.4 1862.5,1308.4 1861.0,1308.4 1859.5,1308.4 1858.0,1308.4 1856.5,1308.4 1855.0,1308.4 1853.5,1308.3 1852.0,1308.3 1850.5,1307.5 1849.0,1304.6 1847.5,1304.4 1846.0,1304.4 1844.5,1304.4 1843.0,1302.8 1841.5,1300.5 1840.0,1299.9 1838.5,1299.9 1837.0,1299.9 1835.5,1299.3 1834.0,1298.6 1832.5,1298.6 1831.0,1298.6 1829.5,1298.6 1828.0,1298.6 1826.5,1298.0 1825.0,1297.2 1823.5,1295.9 1822.0,1295.9 1820.5,1295.9 1819.0,1293.6 1817.5,1291.1 1816.0,1291.1 1814.5,1291.1 1813.0,1291.1 1811.5,1291.1 1810.0,1291.1 1808.5,1289.8 1807.0,1288.4 1805.5,1288.4 1804.0,1288.4 1802.5,1288.4 1801.0,1285.7 1799.5,1283.5 1798.0,1283.5 1796.5,1283.0 1795.0,1283.0 1793.5,1281.6 1792.0,1279.1 1790.5,1279.1 1789.0,1278.5 1787.5,1278.5 1786.0,1278.5 1784.5,1278.5 1783.0,1276.9 1781.5,1274.3 1780.0,1274.2 1778.5,1274.2 1777.0,1274.0 1775.5,1274.0 1774.0,1274.0 1772.5,1270.3 1771.0,1270.3 1769.5,1270.3 1768.0,1270.3 1766.5,1270.1 1765.0,1268.5 1763.5,1268.5 1762.0,1268.5 1760.5,1265.9 1759.0,1265.2 1757.5,1265.2 1756.0,1265.2 1754.5,1265.2 1753.0,1261.5 1751.5,1259.0 1750.0,1259.0 1748.5,1258.9 1747.0,1258.9 1745.5,1258.1 1744.0,1255.8 1742.5,1255.6 1741.0,1254.7 1739.5,1254.3 1738.0,1254.3 1736.5,1254.3 1735.0,1254.2 1733.5,1254.2 1732.0,1254.2 1730.5,1249.9 1729.0,1248.8 1727.5,1248.8 1726.0,1248.8 1724.5,1248.8 1723.0,1246.8 1721.5,1244.5 1720.0,1243.9 1718.5,1243.9 1717.0,1243.1 1715.5,1243.1 1714.0,1243.1 1712.5,1243.1 1711.0,1243.1 1709.5,1243.1 1708.0,1243.1 1706.5,1241.1 1705.0,1238.1 1703.5,1236.6 1702.0,1236.6 1700.5,1236.6 1699.0,1234.8 1697.5,1233.2 1696.0,1233.2 1694.5,1233.2 1693.0,1230.8 1691.5,1229.9 1690.0,1229.9 1688.5,1227.2 1687.0,1227.1 1685.5,1227.1 1684.0,1227.1 1682.5,1227.1 1681.0,1224.4 1679.5,1224.4 1678.0,1224.4 1676.5,1224.4 1675.0,1220.7 1673.5,1218.4 1672.0,1218.4 1670.5,1216.6 1669.0,1216.6 1667.5,1216.5 1666.0,1216.2 1664.5,1215.1 1663.0,1215.1 1661.5,1214.1 1660.0,1211.3 1658.5,1211.2 1657.0,1210.0 1655.5,1210.0 1654.0,1210.0 1652.5,1205.1 1651.0,1202.7 1649.5,1202.7 1648.0,1202.7 1646.5,1202.3 1645.0,1201.6 1643.5,1200.8 1642.0,1200.0 1640.5,1200.0 1639.0,1200.0 1637.5,1200.0 1636.0,1200.0 1634.5,1197.4 1633.0,1195.3 1631.5,1195.3 1630.0,1195.3 1628.5,1193.4 1627.0,1192.8 1625.5,1192.8 1624.0,1192.8 1622.5,1192.2 1621.0,1189.0 1619.5,1185.4 1618.0,1184.6 1616.5,1184.6 1615.0,1183.7 1613.5,1183.7 1612.0,1183.7 1610.5,1183.7 1609.0,1182.5 1607.5,1180.6 1606.0,1178.6 1604.5,1177.8 1603.0,1177.8 1601.5,1177.8 1600.0,1177.8 1598.5,1177.3 1597.0,1175.3 1595.5,1172.3 1594.0,1170.4 1592.5,1170.4 1591.0,1170.4 1589.5,1170.4 1588.0,1170.4 1586.5,1169.5 1585.0,1166.1 1583.5,1163.6 1582.0,1163.6 1580.5,1163.6 1579.0,1162.8 1577.5,1161.2 1576.0,1158.6 1574.5,1158.5 1573.0,1158.5 1571.5,1157.6 1570.0,1155.7 1568.5,1155.7 1567.0,1155.7 1565.5,1153.7 1564.0,1151.5 1562.5,1151.5 1561.0,1148.1 1559.5,1146.6 1558.0,1146.6 1556.5,1146.6 1555.0,1146.6 1553.5,1146.6 1552.0,1146.6 1550.5,1145.7 1549.0,1142.1 1547.5,1142.1 1546.0,1142.1 1544.5,1138.7 1543.0,1137.4 1541.5,1137.4 1540.0,1137.4 1538.5,1137.4 1537.0,1133.1 1535.5,1133.0 1534.0,1133.0 1532.5,1133.0 1531.0,1131.5 1529.5,1130.4 1528.0,1130.4 1526.5,1127.5 1525.0,1124.9 1523.5,1122.7 1522.0,1121.0 1520.5,1120.6 1519.0,1120.6 1517.5,1119.5 1516.0,1117.9 1514.5,1117.9 1513.0,1117.9 1511.5,1117.9 1510.0,1117.9 1508.5,1114.9 1507.0,1112.4 1505.5,1112.4 1504.0,1112.4 1502.5,1112.4 1501.0,1108.7 1499.5,1108.7 1498.0,1108.7 1496.5,1108.3 1495.0,1104.6 1493.5,1100.7 1492.0,1099.8 1490.5,1097.4 1489.0,1096.5 1487.5,1096.5 1486.0,1096.5 1484.5,1096.5 1483.0,1096.5 1481.5,1096.5 1480.0,1096.5 1478.5,1092.6 1477.0,1090.0 1475.5,1090.0 1474.0,1090.0 1472.5,1090.0 1471.0,1087.7 1469.5,1085.2 1468.0,1084.5 1466.5,1082.1 1465.0,1082.1 1463.5,1081.2 1462.0,1078.5 1460.5,1077.7 1459.0,1077.4 1457.5,1076.7 1456.0,1074.8 1454.5,1074.8 1453.0,1072.8 1451.5,1072.8 1450.0,1072.8 1448.5,1068.3 1447.0,1068.3 1445.5,1068.3 1444.0,1068.3 1442.5,1064.8 1441.0,1062.2 1439.5,1060.8 1438.0,1060.8 1436.5,1058.6 1435.0,1058.6 1433.5,1058.1 1432.0,1056.6 1430.5,1052.1 1429.0,1050.6 1427.5,1049.5 1426.0,1049.4 1424.5,1049.4 1423.0,1048.7 1421.5,1047.7 1420.0,1046.7 1418.5,1046.7 1417.0,1046.7 1415.5,1045.6 1414.0,1042.3 1412.5,1039.0 1411.0,1039.0 1409.5,1038.6 1408.0,1038.6 1406.5,1038.6 1405.0,1037.7 1403.5,1035.2 1402.0,1034.7 1400.5,1034.7 1399.0,1034.7 1397.5,1034.7 1396.0,1034.7 1394.5,1032.5 1393.0,1032.5 1391.5,1031.3 1390.0,1045.2 1388.5,1045.2 1387.0,1045.2 1385.5,1045.2 1384.0,1045.2 1382.5,1045.2 1381.0,1045.2 1379.5,1045.2 1378.0,1045.2 1376.5,1043.5 1375.0,1043.5 1373.5,1043.5 1372.0,1043.5 1370.5,1043.5 1369.0,1043.5 1367.5,1043.5 1366.0,1043.5 1364.5,1042.3 1363.0,1042.3 1361.5,1042.3 1360.0,1042.3 1358.5,1039.5 1357.0,1039.5 1355.5,1039.2 1354.0,1039.2 1352.5,1039.2 1351.0,1038.2 1349.5,1035.7 1348.0,1035.1 1346.5,1035.1 1345.0,1035.1 1343.5,1035.1 1342.0,1035.1 1340.5,1035.1 1339.0,1035.1 1337.5,1032.8 1336.0,1030.9 1334.5,1030.9 1333.0,1030.9 1331.5,1029.9 1330.0,1028.5 1328.5,1028.5 1327.0,1028.5 1325.5,1028.4 1324.0,1028.1 1322.5,1028.1 1321.0,1027.1 1319.5,1026.0 1318.0,1025.6 1316.5,1022.8 1315.0,1022.8 1313.5,1022.8 1312.0,1022.8 1310.5,1018.6 1309.0,1018.6 1307.5,1018.6 1306.0,1018.6 1304.5,1018.6 1303.0,1015.6 1301.5,1015.6 1300.0,1015.6 1298.5,1013.7 1297.0,1010.7 1295.5,1010.5 1294.0,1010.5 1292.5,1009.4 1291.0,1009.4 1289.5,1007.6 1288.0,1003.3 1286.5,1003.3 1285.0,1002.0 1283.5,1000.8 1282.0,1000.8 1280.5,1000.8 1279.0,998.1 1277.5,995.0 1276.0,994.0 1274.5,988.6 1273.0,985.0 1271.5,982.5 1270.0,981.3 1268.5,981.3 1267.0,978.6 1265.5,974.9 1264.0,971.9 1262.5,970.4 1261.0,970.4 1259.5,969.1 1258.0,965.1 1256.5,962.4 1255.0,962.4 1253.5,961.8 1252.0,960.0 1250.5,954.7 1249.0,952.0 1247.5,950.5 1246.0,950.4 1244.5,950.4 1243.0,949.0 1241.5,946.0 1240.0,942.4 1238.5,942.4 1237.0,942.4 1235.5,942.4 1234.0,942.4 1232.5,938.9 1231.0,936.9 1229.5,936.1 1228.0,936.1 1226.5,930.7 1225.0,930.7 1223.5,930.7 1222.0,930.7 1220.5,929.6 1219.0,924.0 1217.5,923.3 1216.0,923.3 1214.5,923.3 1213.0,918.4 1211.5,917.6 1210.0,917.6 1208.5,914.5 1207.0,914.5 1205.5,914.2 1204.0,913.2 1202.5,907.8 1201.0,904.3 1199.5,902.1 1198.0,900.7 1196.5,900.4 1195.0,900.4 1193.5,900.4 1192.0,900.4 1190.5,900.4 1189.0,897.1 1187.5,892.3 1186.0,891.3 1184.5,891.3 1183.0,890.5 1181.5,890.1 1180.0,890.1 1178.5,886.6 1177.0,885.9 1175.5,883.9 1174.0,878.0 1172.5,877.4 1171.0,877.4 1169.5,876.3 1168.0,872.8 1166.5,872.3 1165.0,872.3 1163.5,872.3 1162.0,872.3 1160.5,868.1 1159.0,865.1 1157.5,864.6 1156.0,864.6 1154.5,864.6 1153.0,861.4 1151.5,857.4 1150.0,854.8 1148.5,851.4 1147.0,851.4 1145.5,850.6 1144.0,848.3 1142.5,848.3 1141.0,845.4 1139.5,844.6 1138.0,844.6 1136.5,840.7 1135.0,840.7 1133.5,839.0 1132.0,833.8 1130.5,832.8 1129.0,830.6 1127.5,826.8 1126.0,822.4 1124.5,822.4 1123.0,821.3 1121.5,820.3 1120.0,820.3 1118.5,814.5 1117.0,814.2 1115.5,812.5 1114.0,811.4 1112.5,811.4 1111.0,807.2 1109.5,806.3 1108.0,806.3 1106.5,806.3 1105.0,805.1 1103.5,803.3 1102.0,801.5 1100.5,796.9 1099.0,796.9 1097.5,794.5 1096.0,787.3 1094.5,786.5 1093.0,786.5 1091.5,786.5 1090.0,786.5 1088.5,780.0 1087.0,780.0 1085.5,778.6 1084.0,774.3 1082.5,772.4 1081.0,772.4 1079.5,772.3 1078.0,772.3 1076.5,772.3 1075.0,772.3 1073.5,771.3 1072.0,768.4 1070.5,766.0 1069.0,766.0 1067.5,766.0 1066.0,766.0 1064.5,764.1 1063.0,758.4 1061.5,758.4 1060.0,758.4 1058.5,758.4 1057.0,754.5 1055.5,749.9 1054.0,747.7 1052.5,745.3 1051.0,745.1 1049.5,745.1 1048.0,745.1 1046.5,745.1 1045.0,743.5 1043.5,741.0 1042.0,738.5 1040.5,738.5 1039.0,738.5 1037.5,738.1 1036.0,736.9 1034.5,730.4 1033.0,730.4 1031.5,730.4 1030.0,730.4 1028.5,726.6 1027.0,721.8 1025.5,718.7 1024.0,718.7 1022.5,718.7 1021.0,718.7 1019.5,716.1 1018.0,715.6 1016.5,715.6 1015.0,712.2 1013.5,707.0 1012.0,705.3 1010.5,705.3 1009.0,702.3 1007.5,702.3 1006.0,702.3 1004.5,698.3 1003.0,694.7 1001.5,691.7 1000.0,690.0 998.5,690.0 997.0,687.7 995.5,684.4 994.0,684.4 992.5,684.4 991.0,683.6 989.5,680.7 988.0,675.6 986.5,675.6 985.0,675.6 983.5,672.6 982.0,672.1 980.5,672.1 979.0,668.3 977.5,663.8 976.0,663.0 974.5,663.0 973.0,660.2 971.5,656.2 970.0,652.9 968.5,648.7 967.0,648.7 965.5,648.7 964.0,648.7 962.5,648.7 961.0,646.2 959.5,641.0 958.0,637.3 956.5,637.3 955.0,637.3 953.5,635.8 952.0,631.2 950.5,627.6 949.0,627.6 947.5,625.2 946.0,620.2 944.5,620.2 943.0,618.8 941.5,614.9 940.0,607.7 938.5,603.9 937.0,603.2 935.5,602.9 934.0,602.1 932.5,598.4 931.0,598.4 929.5,596.9 928.0,592.2 926.5,589.7 925.0,589.7 923.5,588.8 922.0,586.0 920.5,576.7 919.0,574.4 917.5,573.8 916.0,573.8 914.5,573.8 913.0,569.9 911.5,565.2 910.0,562.6 908.5,561.2 907.0,554.2 905.5,549.1 904.0,549.1 902.5,545.2 901.0,542.6 899.5,541.6 898.0,541.6 896.5,537.8 895.0,534.2 893.5,529.9 892.0,523.9 890.5,520.2 889.0,519.3 887.5,517.9 886.0,515.8 884.5,515.8 883.0,510.3 881.5,504.1 880.0,502.2 878.5,499.4 877.0,496.0 875.5,493.4 874.0,493.2 872.5,488.0 871.0,485.8 869.5,483.6 868.0,478.6 866.5,473.8 865.0,473.8 863.5,470.4 862.0,460.2 860.5,457.1 859.0,456.6 857.5,455.5 856.0,452.4 854.5,448.7 853.0,443.2 851.5,438.7 850.0,438.0 848.5,437.6 847.0,435.7 845.5,432.6 844.0,432.6 842.5,432.6 841.0,429.4 839.5,424.7 838.0,420.8 836.5,415.9 835.0,413.4 833.5,410.7 832.0,405.4 830.5,401.9 829.0,401.9 827.5,401.9 826.0,401.9 824.5,396.4 823.0,389.7 821.5,389.7 820.0,389.7 818.5,387.9 817.0,384.8 815.5,382.1 814.0,381.1 812.5,376.1 811.0,370.6 809.5,369.3 808.0,369.3 806.5,360.7 805.0,360.7 803.5,358.9 802.0,355.3 800.5,355.3 799.0,354.2 797.5,353.1 796.0,353.1 794.5,351.4 793.0,346.9 791.5,346.9 790.0,346.9 788.5,346.9 787.0,345.2 785.5,345.2 784.0,345.2 782.5,316.3 781.0,315.5 779.5,315.5 778.0,315.5 776.5,316.5 775.0,316.5 773.5,316.5 772.0,316.5 770.5,316.5 769.0,316.5 767.5,316.5 766.0,318.8 764.5,318.8 763.0,318.8 761.5,318.8 760.0,318.8 758.5,318.8 757.0,318.8 755.5,318.8 754.0,318.8 752.5,316.9 751.0,316.9 749.5,316.9 748.0,318.1 746.5,318.1 745.0,318.1 743.5,318.1 742.0,318.1 740.5,318.1 739.0,318.1 737.5,318.1 736.0,318.1 734.5,317.9 733.0,317.9 731.5,316.3 730.0,316.3 728.5,316.3 727.0,315.4 725.5,315.4 724.0,315.4 722.5,316.0 721.0,316.0 719.5,316.0 718.0,316.0 716.5,316.0 715.0,316.0 713.5,319.3 712.0,319.3 710.5,319.3 709.0,319.3 707.5,319.3 706.0,319.3 704.5,319.3 703.0,319.3 701.5,318.9 700.0,318.3 698.5,318.3 697.0,318.3 695.5,318.3 694.0,318.3 692.5,313.4 691.0,310.2 689.5,310.2 688.0,316.9 686.5,319.3 685.0,319.3 683.5,319.3 682.0,319.3 680.5,319.3 679.0,319.3 677.5,319.3 676.0,319.3 674.5,319.3 673.0,319.2 671.5,316.3 670.0,315.3 668.5,315.3 667.0,315.3 665.5,315.3 664.0,315.3 662.5,315.3 661.0,315.3 659.5,315.3 658.0,319.1 656.5,319.1 655.0,319.1 653.5,319.1 652.0,319.1 650.5,319.1 649.0,319.1 647.5,321.1 646.0,325.5 644.5,325.5 643.0,327.3 641.5,329.2 640.0,329.2 638.5,329.2 637.0,333.8 635.5,339.2 634.0,345.8 632.5,357.1 631.0,363.2 629.5,374.3 628.0,386.4 626.5,395.3 625.0,409.5 623.5,424.9 622.0,439.6 620.5,451.7 619.0,458.2 617.5,465.7 616.0,476.3 614.5,491.9 613.0,502.5 611.5,516.4 610.0,533.2 608.5,552.4 607.0,571.3 605.5,588.8 604.0,603.3 602.5,613.1 601.0,633.1 599.5,649.4 598.0,666.9 596.5,689.9 595.0,701.3 593.5,721.2 592.0,743.2 590.5,760.9 589.0,780.8 587.5,798.6 586.0,816.3 584.5,836.1 583.0,859.6 581.5,878.6 580.0,897.3 578.5,919.6 577.0,942.1 575.5,961.1 574.0,979.4 572.5,999.9 571.0,1021.8 569.5,1044.9 568.0,1065.5 566.5,1079.9 565.0,1101.6 563.5,1119.8 562.0,1136.6 560.5,1154.0 559.0,1167.2 557.5,1181.2 556.0,1194.9 554.5,1207.2 553.0,1220.3 551.5,1231.5 550.0,1243.5 548.5,1258.6 547.0,1266.7 545.5,1278.2 544.0,1289.3 542.5,1296.3 541.0,1307.0 539.5,1315.9 538.0,1323.0 536.5,1329.2 535.0,1335.5 533.5,1342.3 532.0,1348.2 530.5,1351.7 529.0,1356.0 527.5,1359.0 526.0,1362.5 524.5,1368.4 523.0,1369.7 521.5,1373.2 520.0,1376.5 518.5,1377.0 517.0,1378.4 515.5,1380.1 514.0,1381.8 512.5,1383.1 511.0,1384.9 509.5,1386.1 508.0,1386.9 506.5,1387.7 505.0,1388.9 503.5,1390.5 502.0,1391.7 500.5,1391.9 499.0,1392.7 497.5,1393.1 496.0,1393.6 494.5,1394.4 493.0,1394.4 491.5,1394.5 490.0,1395.1 488.5,1395.7 487.0,1396.0 485.5,1396.1 484.0,1396.6 482.5,1398.1 481.0,1398.1 479.5,1398.4 478.0,1399.3 476.5,1399.3 475.0,1399.3 473.5,1399.5 472.0,1399.9 470.5,1399.9 469.0,1399.9 467.5,1399.9 466.0,1400.3 464.5,1401.2 463.0,1401.2 461.5,1401.3 460.0,1401.7 458.5,1401.7 457.0,1401.7 455.5,1401.7 454.0,1401.7 452.5,1401.7 451.0,1401.7 449.5,1401.7 448.0,1401.8 446.5,1401.8 445.0,1401.8 443.5,1401.8 442.0,1401.8 440.5,1401.8 439.0,1401.8 437.5,1401.8 436.0,1401.8 434.5,1401.5 433.0,1401.5 431.5,1401.5 430.0,1401.6 428.5,1401.6 427.0,1401.6 425.5,1401.6 424.0,1401.6 422.5,1401.6 421.0,1401.6 419.5,1401.6 418.0,1401.6 416.5,1401.6 415.0,1401.6 413.5,1401.6 412.0,1401.6 410.5,1401.6 409.0,1401.6 407.5,1401.6 406.0,1401.6 404.5,1401.6 403.0,1401.6 401.5,1401.6 400.0,1401.6 398.5,1401.6 397.0,1401.6 395.5,1401.6 394.0,1401.6 392.5,1401.4 391.0,1401.4 389.5,1401.4 388.0,1401.8 386.5,1401.8 385.0,1401.8 383.5,1401.8 382.0,1401.8 380.5,1401.8 379.0,1401.8 377.5,1401.8 376.0,1401.8 374.5,1401.8 373.0,1401.6 371.5,1401.6 370.0,1401.6 368.5,1401.3 367.0,1401.3 365.5,1401.3 364.0,1401.3 362.5,1401.3 361.0,1401.1 359.5,1401.3 358.0,1401.8 356.5,1401.8 355.0,1401.8 353.5,1401.8 352.0,1401.8 350.5,1401.8 349.0,1401.8 347.5,1401.8 346.0,1401.8 344.5,1401.7 343.0,1401.7 341.5,1401.7 340.0,1401.8 338.5,1401.8 337.0,1401.8 335.5,1401.8 334.0,1401.8 332.5,1401.8 331.0,1401.8 329.5,1401.8 328.0,1401.8"/>
</g>
<rect x="1483.5" y="54" width="850" height="648.5" fill="#fff"/>
<path fill="#000" fill-rule="evenodd" d="M1493 62.4H2326.3V694H1493Z M1503 71.4H2316V684.6H1503Z"/>
<rect x="1533.8" y="133.0" width="192.3" height="8" fill="#000000"/>
<rect x="1533.8" y="230.6" width="192.3" height="8" fill="#ff0000"/>
<rect x="1533.8" y="327.9" width="192.3" height="8" fill="#0000ff"/>
<rect x="1533.8" y="424.8" width="192.3" height="8" fill="#ff00cc"/>
<rect x="1533.8" y="522.3" width="192.3" height="8" fill="#2b0a5e"/>
<rect x="1533.8" y="619.4" width="192.3" height="8" fill="#000066"/>
<rect x="591" y="58.8" width="72" height="93" fill="#fff"/>
<g fill="#000">
<rect x="625.6" y="154.7" width="5.2" height="95"/>
<path d="M616.6 242.7L640.4 242.7L628.4 277Z"/>
<rect x="1425" y="1030" width="391.5" height="4" fill="#1a1a1a"/>
<path d="M1397 1032L1433.5 1022.5L1433.5 1041.7Z"/>
</g>
<g font-family="'Liberation Serif', serif" fill="#000" stroke="#000" stroke-width="0.9" stroke-linejoin="round">
<text transform="matrix(1.0970 0 0 1 182.02 84)" font-size="88">1.2</text>
<text transform="matrix(1.1060 0 0 1 180.96 307.5)" font-size="88">1.0</text>
<text transform="matrix(1.1529 0 0 1 174.94 531)" font-size="88">0.8</text>
<text transform="matrix(1.1457 0 0 1 174.96 754.5)" font-size="88">0.6</text>
<text transform="matrix(1.1443 0 0 1 174.97 978)" font-size="88">0.4</text>
<text transform="matrix(1.1641 0 0 1 174.91 1201.5)" font-size="88">0.2</text>
<text transform="matrix(1.1625 0 0 1 174.91 1425)" font-size="88">0.0</text>
<text transform="matrix(1.1469 0 0 1 265.75 1512)" font-size="88">450</text>
<text transform="matrix(1.1661 0 0 1 550.17 1512)" font-size="88">500</text>
<text transform="matrix(1.1613 0 0 1 837.59 1512)" font-size="88">550</text>
<text transform="matrix(1.1357 0 0 1 1129.39 1512)" font-size="88">600</text>
<text transform="matrix(1.1349 0 0 1 1415.60 1512)" font-size="88">650</text>
<text transform="matrix(1.1540 0 0 1 1701.13 1512)" font-size="88">700</text>
<text transform="matrix(1.1573 0 0 1 1989.11 1512)" font-size="88">750</text>
<text transform="matrix(1.1389 0 0 1 2279.48 1512)" font-size="88">800</text>
<text transform="matrix(1.1219 0 0 1 1010.40 1650.8)" font-size="87.5">Wavelength (nm)</text>
<text transform="matrix(1.1071 0 0 1 1765.69 162.8)" font-size="88">Reference</text>
<text transform="matrix(1.1104 0 0 1 1761.46 260)" font-size="88">3 Day-aging</text>
<text transform="matrix(1.1017 0 0 1 1765.89 357.2)" font-size="88">10 Day-aging</text>
<text transform="matrix(1.0989 0 0 1 1767.21 454.6)" font-size="88">15 Day-aging</text>
<text transform="matrix(1.1140 0 0 1 1759.96 551.8)" font-size="88">20 Day-aging</text>
<text transform="matrix(1.1137 0 0 1 1760.15 649)" font-size="88">30 Day-aging</text>
<text transform="matrix(1.0900 0 0 1 588.62 135.5)" font-size="88" stroke="none">N</text>
<text transform="matrix(1.1189 0 0 1 1816.76 1061.4)" font-size="88" stroke="none">M</text>
<text transform="translate(116.5 1040.01) rotate(-90) scale(1.0045 1.2070)" font-size="86">Intensity (Counts)</text>
</g>
</svg>
</body></html>
